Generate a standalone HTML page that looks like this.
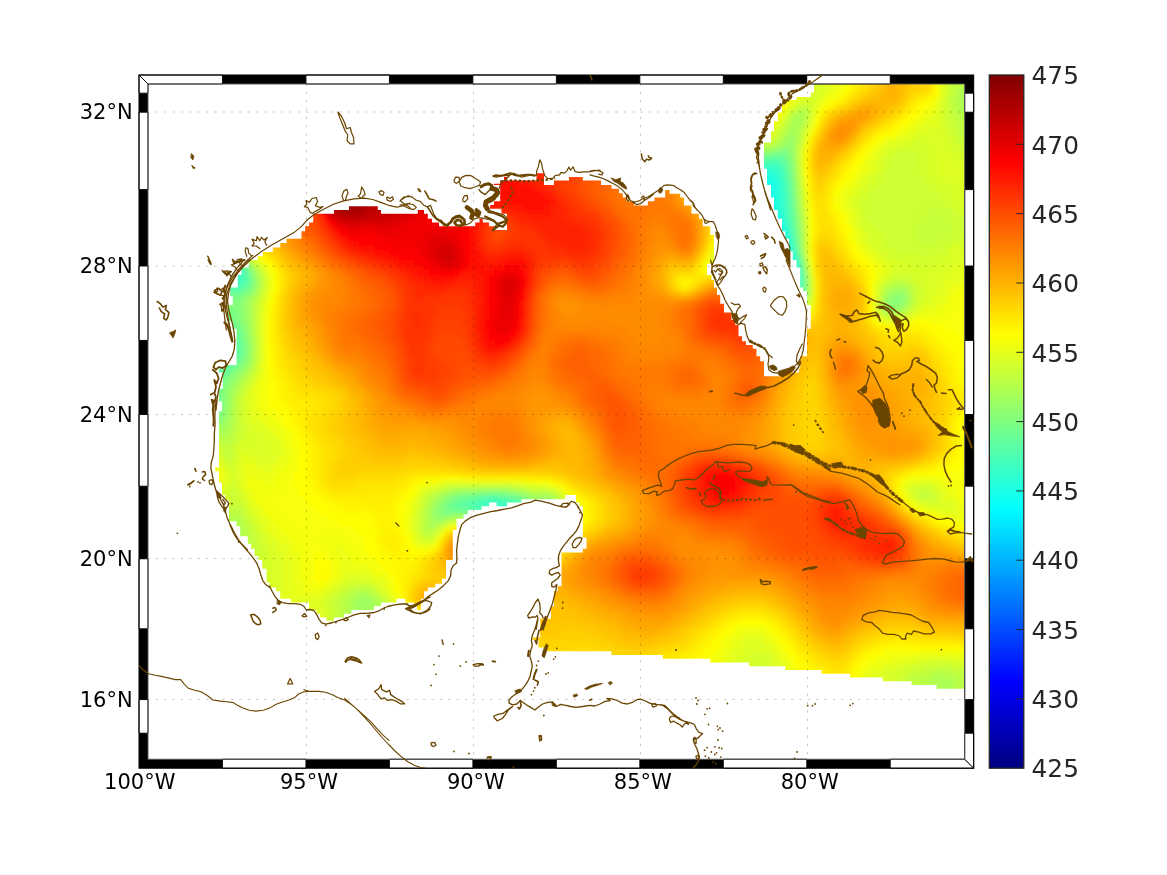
<!DOCTYPE html>
<html><head><meta charset="utf-8"><title>SSH map</title>
<style>
html,body{margin:0;padding:0;background:#fff}
svg{display:block}
text{font-family:"DejaVu Sans","Liberation Sans",sans-serif}
.ax text{font-size:21px;fill:#000}
.cb text{font-size:24.8px;fill:#262626}
.cb line{stroke:#262626;stroke-width:1}
</style></head><body>
<svg width="1167" height="875" viewBox="0 0 1167 875">
<rect width="1167" height="875" fill="#fff"/>
<defs>
<clipPath id="m"><path d="M814 75L814 92.5L810.8 92.5L810.8 97L796.5 97L796.5 100L785.2 100L785.2 105L782 105L782 112.5L777.8 112.5L777.8 121.2L774 121.2L774 131.2L771 131.2L771 142.5L764 142.5L764 168.8L767 168.8L767 185L771 185L771 197.5L774 197.5L774 210L777.8 210L777.8 218.8L782 218.8L782 231.2L785.2 231.2L785.2 238.8L789 238.8L789 251.2L792.8 251.2L792.8 260L796.5 260L796.5 267.5L800.2 267.5L800.2 275L800.2 275L800.2 287.5L803.2 287.5L803.2 291.2L807 291.2L807 305L810.8 305L810.8 328.8L807 328.8L807 356.2L800.2 356.2L800.2 368.8L799 368.8L799 372.5L782.8 372.5L782.8 376.2L764 376.2L764 361.2L760.2 361.2L760.2 356.2L756.5 356.2L756.5 348.8L752.8 348.8L752.8 345L746 345L746 341.2L742 341.2L742 336.2L738.5 336.2L738.5 325L735.2 325L735.2 320L731.5 320L731.5 312.5L724 312.5L724 303.8L720.2 303.8L720.2 295L717 295L717 287.5L714 287.5L714 280L711.5 280L711.5 275L707 275L707 263.8L714 263.8L714 235L710.2 235L710.2 226.2L702.8 226.2L702.8 218.8L699 218.8L699 213.8L691.5 213.8L691.5 205L691 205.5L684 205.5L684 197.5L680.2 197.5L680.2 193.8L669.5 193.8L669.5 190L665.2 190L665.2 197.5L654.5 197.5L654.5 201.2L647.8 201.2L647.8 205.5L634 205.5L634 201.2L626.5 201.2L626.5 197.5L622.8 197.5L622.8 193.2L619 193.2L619 188.8L611.5 188.8L611.5 185L601 185L601 180.5L582.8 180.5L582.8 177L569 177L569 180.5L554 180.5L554 185L544 185L544 173.2L536.5 173.2L536.5 180.5L507 180.5L507 177L504 177L504 180.5L500.2 180.5L500.2 183.8L494 183.8L494 185L500.2 185L500.2 201.2L494 201.2L494 205L490.2 205L490.2 208.8L501.5 208.8L501.5 213.8L507 213.8L507 230L494 230L494 226.2L489 226.2L489 222.5L482.8 222.5L482.8 218.8L479.5 218.8L479.5 222.5L475.2 222.5L475.2 226.2L439 226.2L439 222.5L432 222.5L432 218.8L427.8 218.8L427.8 213.8L424 213.8L424 210L417.8 210L417.8 213.8L416.5 213.8L381 213.8L381 210L377.8 210L377.8 206.2L349 206.2L349 210L334 210L334 213.8L313.2 213.8L313.2 222.5L309 222.5L309 226.2L305.2 226.2L305.2 231.2L301.5 231.2L301.5 238.8L286.5 238.8L286.5 243L280.2 243L280.2 247.5L272.8 247.5L272.8 252L262.8 252L262.8 256.2L257.8 256.2L257.8 260L249 260L249 267.5L241.5 267.5L241.5 275L237.8 275L237.8 275L237.8 287.5L230.2 287.5L230.2 296.2L232.8 296.2L232.8 305L227.8 305L227.8 321.2L232.8 321.2L232.8 328.8L236.5 328.8L236.5 365L225.2 365L225.2 368.8L219 368.8L219 372.5L222.8 372.5L222.8 388.8L219 388.8L219 401.2L222 401.2L222 411.2L219 411.2L219 467.5L215.2 467.5L215.2 471.2L219 471.2L219 482.5L222 482.5L222 482.5L222 495L225.2 495L225.2 500L229 500L229 521.2L236.5 521.2L236.5 526.2L240.2 526.2L240.2 536.2L247.8 536.2L247.8 543.8L251 543.8L251 548.8L254.5 548.8L254.5 556.2L258.5 556.2L258.5 560L262.2 560L262.2 568.8L266.5 568.8L266.5 582.5L269.5 582.5L269.5 587.5L276 587.5L276 591.2L280.2 591.2L280.2 598.8L291 598.8L291 602.5L309 602.5L309 610L316.5 610L316.5 613.8L320.2 613.8L320.2 617.5L326.5 617.5L326.5 620.8L334 620.8L334 617.5L344 617.5L344 613.8L351.5 613.8L351.5 610L374 610L374 606.2L381 606.2L381 602.5L396.5 602.5L396.5 598.8L405.2 598.8L405.2 602.5L414 602.5L414 606.2L417 606.2L417 610L421 610L421 598.8L424 598.8L424 591.2L427.8 591.2L427.8 587.5L435.2 587.5L435.2 583.8L442 583.8L442 578.8L446 578.8L446 560L452.8 560L452.8 530L456.5 530L456.5 518.8L463.5 518.8L463.5 514.2L467.8 514.2L467.8 510L481.5 510L481.5 506.2L489 506.2L489 502.5L496.5 502.5L496.5 506.2L507 506.2L507 502.5L521.5 502.5L521.5 499.2L565.2 499.2L565.2 495L576 495L576 502.5L579.5 502.5L579.5 506.2L582.8 506.2L582.8 537.5L586.5 537.5L586.5 548.8L582.8 548.8L582.8 552.5L561.5 552.5L561.5 586.2L557.8 586.2L557.8 591.2L554 591.2L554 606.2L551 606.2L551 618.8L540.2 618.8L540.2 637.5L532.8 637.5L532.8 640L538.5 640L538.5 647.5L546.5 647.5L546.5 651.2L611.5 651.2L611.5 655L662.8 655L662.8 658.8L705.8 658.8L710.2 658.8L710.2 662.5L749 662.5L749 666.2L785.2 666.2L785.2 670L821.5 670L821.5 673.8L850.2 673.8L850.2 677.5L882.8 677.5L882.8 681.2L911.5 681.2L911.5 685L936.5 685L936.5 688.8L974 688.8L974 689L974 75L814 75Z"/></clipPath>
<filter id="b" filterUnits="userSpaceOnUse" x="100" y="40" width="920" height="770"><feGaussianBlur stdDeviation="2.4"/></filter>
</defs>
<g clip-path="url(#m)"><g filter="url(#b)"><path fill="#03fffc" d="M769 225h5.5v5.5h-5.5zM769 230h5.5v5.5h-5.5zM774 235h5.5v5.5h-5.5z"/><path fill="#09fff6" d="M764 215h5.5v5.5h-5.5zM769 220h5.5v5.5h-5.5zM774 230h5.5v5.5h-5.5zM769 235h5.5v5.5h-5.5zM774 240h10.5v5.5h-10.5zM774 245h10.5v5.5h-10.5zM779 250h5.5v5.5h-5.5z"/><path fill="#0ffff0" d="M764 205h5.5v5.5h-5.5zM764 210h10.5v5.5h-10.5zM769 215h5.5v5.5h-5.5zM774 220h5.5v5.5h-5.5zM774 225h5.5v5.5h-5.5zM779 235h5.5v5.5h-5.5zM784 250h5.5v5.5h-5.5zM779 255h10.5v5.5h-10.5zM784 260h5.5v5.5h-5.5zM784 265h10.5v5.5h-10.5z"/><path fill="#15ffea" d="M764 180h10.5v5.5h-10.5zM764 185h10.5v5.5h-10.5zM764 190h10.5v5.5h-10.5zM764 195h10.5v5.5h-10.5zM764 200h10.5v5.5h-10.5zM769 205h5.5v5.5h-5.5zM774 215h5.5v5.5h-5.5zM779 230h5.5v5.5h-5.5zM784 245h5.5v5.5h-5.5zM789 260h5.5v5.5h-5.5zM789 270h5.5v5.5h-5.5z"/><path fill="#1cffe3" d="M764 175h10.5v5.5h-10.5zM759 180h5.5v5.5h-5.5zM759 185h5.5v5.5h-5.5zM759 190h5.5v5.5h-5.5zM759 195h5.5v5.5h-5.5zM759 200h5.5v5.5h-5.5zM759 205h5.5v5.5h-5.5zM774 205h5.5v5.5h-5.5zM774 210h5.5v5.5h-5.5zM779 225h5.5v5.5h-5.5zM784 240h5.5v5.5h-5.5zM789 255h5.5v5.5h-5.5zM784 270h5.5v5.5h-5.5zM789 275h5.5v5.5h-5.5z"/><path fill="#22ffdd" d="M764 170h5.5v5.5h-5.5zM759 175h5.5v5.5h-5.5zM774 180h5.5v5.5h-5.5zM774 185h5.5v5.5h-5.5zM774 190h5.5v5.5h-5.5zM774 195h5.5v5.5h-5.5zM774 200h5.5v5.5h-5.5zM779 215h5.5v5.5h-5.5zM779 220h5.5v5.5h-5.5zM784 235h5.5v5.5h-5.5zM794 270h5.5v5.5h-5.5zM794 275h5.5v5.5h-5.5z"/><path fill="#28ffd7" d="M769 170h5.5v5.5h-5.5zM774 175h5.5v5.5h-5.5zM779 210h5.5v5.5h-5.5zM784 230h5.5v5.5h-5.5zM789 250h5.5v5.5h-5.5zM794 265h5.5v5.5h-5.5zM784 275h5.5v5.5h-5.5z"/><path fill="#2effd1" d="M759 170h5.5v5.5h-5.5zM774 170h5.5v5.5h-5.5zM754 180h5.5v5.5h-5.5zM754 185h5.5v5.5h-5.5zM754 190h5.5v5.5h-5.5zM779 190h5.5v5.5h-5.5zM754 195h5.5v5.5h-5.5zM779 195h5.5v5.5h-5.5zM779 200h5.5v5.5h-5.5zM779 205h5.5v5.5h-5.5zM784 225h5.5v5.5h-5.5zM229 270h5.5v5.5h-5.5zM224 275h5.5v5.5h-5.5zM789 280h10.5v5.5h-10.5z"/><path fill="#34ffcb" d="M764 165h10.5v5.5h-10.5zM754 175h5.5v5.5h-5.5zM779 180h5.5v5.5h-5.5zM779 185h5.5v5.5h-5.5zM784 220h5.5v5.5h-5.5zM789 245h5.5v5.5h-5.5zM794 260h5.5v5.5h-5.5zM234 270h5.5v5.5h-5.5zM229 275h10.5v5.5h-10.5z"/><path fill="#3affc5" d="M774 165h5.5v5.5h-5.5zM779 175h5.5v5.5h-5.5zM784 215h5.5v5.5h-5.5zM789 240h5.5v5.5h-5.5zM234 265h5.5v5.5h-5.5zM224 280h10.5v5.5h-10.5zM784 280h5.5v5.5h-5.5zM794 285h5.5v5.5h-5.5zM484 500h20.5v5.5h-20.5z"/><path fill="#40ffbf" d="M759 165h5.5v5.5h-5.5zM754 170h5.5v5.5h-5.5zM779 170h5.5v5.5h-5.5zM784 205h5.5v5.5h-5.5zM784 210h5.5v5.5h-5.5zM789 235h5.5v5.5h-5.5zM794 255h5.5v5.5h-5.5zM239 275h5.5v5.5h-5.5zM234 280h5.5v5.5h-5.5zM789 285h5.5v5.5h-5.5zM479 500h5.5v5.5h-5.5zM504 500h5.5v5.5h-5.5zM484 505h30.5v5.5h-30.5z"/><path fill="#46ffb9" d="M769 160h10.5v5.5h-10.5zM779 165h5.5v5.5h-5.5zM784 190h5.5v5.5h-5.5zM784 195h5.5v5.5h-5.5zM784 200h5.5v5.5h-5.5zM789 230h5.5v5.5h-5.5zM234 260h5.5v5.5h-5.5zM239 270h5.5v5.5h-5.5zM239 280h5.5v5.5h-5.5zM509 500h5.5v5.5h-5.5zM479 505h5.5v5.5h-5.5zM514 505h5.5v5.5h-5.5z"/><path fill="#4dffb2" d="M764 160h5.5v5.5h-5.5zM784 180h5.5v5.5h-5.5zM784 185h5.5v5.5h-5.5zM789 225h5.5v5.5h-5.5zM239 265h5.5v5.5h-5.5zM799 275h5.5v5.5h-5.5zM799 280h5.5v5.5h-5.5zM229 285h10.5v5.5h-10.5zM474 500h5.5v5.5h-5.5zM514 500h5.5v5.5h-5.5zM474 505h5.5v5.5h-5.5zM514 510h5.5v5.5h-5.5z"/><path fill="#53ffac" d="M779 160h5.5v5.5h-5.5zM754 165h5.5v5.5h-5.5zM784 175h5.5v5.5h-5.5zM789 220h5.5v5.5h-5.5zM794 250h5.5v5.5h-5.5zM799 270h5.5v5.5h-5.5zM219 285h10.5v5.5h-10.5zM784 285h5.5v5.5h-5.5zM799 285h5.5v5.5h-5.5zM794 290h5.5v5.5h-5.5zM489 495h10.5v5.5h-10.5zM469 500h5.5v5.5h-5.5zM469 505h5.5v5.5h-5.5zM519 505h5.5v5.5h-5.5zM504 510h10.5v5.5h-10.5z"/><path fill="#59ffa6" d="M759 160h5.5v5.5h-5.5zM784 170h5.5v5.5h-5.5zM789 215h5.5v5.5h-5.5zM244 275h5.5v5.5h-5.5zM244 280h5.5v5.5h-5.5zM239 285h5.5v5.5h-5.5zM224 345h10.5v5.5h-10.5zM224 350h10.5v5.5h-10.5zM219 355h15.5v5.5h-15.5zM214 360h15.5v5.5h-15.5zM209 365h10.5v5.5h-10.5zM204 370h10.5v5.5h-10.5zM209 375h5.5v5.5h-5.5zM204 390h5.5v5.5h-5.5zM204 395h5.5v5.5h-5.5zM204 410h5.5v5.5h-5.5zM479 495h10.5v5.5h-10.5zM499 495h5.5v5.5h-5.5zM464 500h5.5v5.5h-5.5zM499 510h5.5v5.5h-5.5zM519 510h5.5v5.5h-5.5z"/><path fill="#5fffa0" d="M769 155h10.5v5.5h-10.5zM784 165h5.5v5.5h-5.5zM789 205h5.5v5.5h-5.5zM789 210h5.5v5.5h-5.5zM794 245h5.5v5.5h-5.5zM799 265h5.5v5.5h-5.5zM244 270h5.5v5.5h-5.5zM789 290h5.5v5.5h-5.5zM224 340h15.5v5.5h-15.5zM234 345h5.5v5.5h-5.5zM234 350h5.5v5.5h-5.5zM234 355h5.5v5.5h-5.5zM229 360h5.5v5.5h-5.5zM219 365h5.5v5.5h-5.5zM214 370h5.5v5.5h-5.5zM209 380h5.5v5.5h-5.5zM209 385h5.5v5.5h-5.5zM209 390h5.5v5.5h-5.5zM209 395h5.5v5.5h-5.5zM209 400h5.5v5.5h-5.5zM209 405h5.5v5.5h-5.5zM204 415h5.5v5.5h-5.5zM474 495h5.5v5.5h-5.5zM504 495h5.5v5.5h-5.5zM459 500h5.5v5.5h-5.5zM519 500h5.5v5.5h-5.5zM459 505h10.5v5.5h-10.5zM479 510h20.5v5.5h-20.5z"/><path fill="#65ff9a" d="M764 155h5.5v5.5h-5.5zM779 155h5.5v5.5h-5.5zM784 160h5.5v5.5h-5.5zM789 195h5.5v5.5h-5.5zM789 200h5.5v5.5h-5.5zM794 240h5.5v5.5h-5.5zM239 260h5.5v5.5h-5.5zM244 285h5.5v5.5h-5.5zM234 290h5.5v5.5h-5.5zM799 290h5.5v5.5h-5.5zM224 330h5.5v5.5h-5.5zM224 335h15.5v5.5h-15.5zM224 365h5.5v5.5h-5.5zM219 370h5.5v5.5h-5.5zM214 375h5.5v5.5h-5.5zM214 380h5.5v5.5h-5.5zM209 410h5.5v5.5h-5.5zM469 495h5.5v5.5h-5.5zM509 495h5.5v5.5h-5.5zM454 500h5.5v5.5h-5.5zM454 505h5.5v5.5h-5.5zM524 505h5.5v5.5h-5.5zM474 510h5.5v5.5h-5.5zM524 510h5.5v5.5h-5.5zM514 515h5.5v5.5h-5.5z"/><path fill="#6bff94" d="M754 160h5.5v5.5h-5.5zM749 165h5.5v5.5h-5.5zM789 185h5.5v5.5h-5.5zM789 190h5.5v5.5h-5.5zM794 235h5.5v5.5h-5.5zM799 260h5.5v5.5h-5.5zM224 290h10.5v5.5h-10.5zM239 290h5.5v5.5h-5.5zM219 325h15.5v5.5h-15.5zM229 330h5.5v5.5h-5.5zM239 340h5.5v5.5h-5.5zM239 345h5.5v5.5h-5.5zM239 350h5.5v5.5h-5.5zM234 360h5.5v5.5h-5.5zM229 365h5.5v5.5h-5.5zM224 370h5.5v5.5h-5.5zM219 375h5.5v5.5h-5.5zM214 385h5.5v5.5h-5.5zM214 390h5.5v5.5h-5.5zM214 395h5.5v5.5h-5.5zM214 400h5.5v5.5h-5.5zM214 405h5.5v5.5h-5.5zM209 415h5.5v5.5h-5.5zM464 495h5.5v5.5h-5.5zM514 495h5.5v5.5h-5.5zM449 505h5.5v5.5h-5.5zM509 515h5.5v5.5h-5.5z"/><path fill="#71ff8e" d="M759 155h5.5v5.5h-5.5zM784 155h5.5v5.5h-5.5zM789 180h5.5v5.5h-5.5zM794 230h5.5v5.5h-5.5zM244 265h5.5v5.5h-5.5zM214 290h10.5v5.5h-10.5zM794 295h5.5v5.5h-5.5zM219 320h15.5v5.5h-15.5zM234 325h5.5v5.5h-5.5zM234 330h5.5v5.5h-5.5zM239 335h5.5v5.5h-5.5zM239 355h5.5v5.5h-5.5zM214 410h5.5v5.5h-5.5zM204 420h5.5v5.5h-5.5zM459 495h5.5v5.5h-5.5zM449 500h5.5v5.5h-5.5zM524 500h5.5v5.5h-5.5zM469 510h5.5v5.5h-5.5zM504 515h5.5v5.5h-5.5z"/><path fill="#77ff88" d="M779 150h5.5v5.5h-5.5zM789 175h5.5v5.5h-5.5zM794 225h5.5v5.5h-5.5zM249 275h5.5v5.5h-5.5zM249 280h5.5v5.5h-5.5zM234 295h5.5v5.5h-5.5zM214 315h20.5v5.5h-20.5zM234 320h5.5v5.5h-5.5zM239 330h5.5v5.5h-5.5zM234 365h5.5v5.5h-5.5zM229 370h5.5v5.5h-5.5zM224 375h5.5v5.5h-5.5zM219 380h5.5v5.5h-5.5zM219 385h5.5v5.5h-5.5zM454 495h5.5v5.5h-5.5zM519 495h5.5v5.5h-5.5zM444 505h5.5v5.5h-5.5zM464 510h5.5v5.5h-5.5z"/><path fill="#7dff82" d="M774 150h5.5v5.5h-5.5zM784 150h5.5v5.5h-5.5zM789 165h5.5v5.5h-5.5zM789 170h5.5v5.5h-5.5zM794 215h5.5v5.5h-5.5zM794 220h5.5v5.5h-5.5zM799 255h5.5v5.5h-5.5zM249 285h5.5v5.5h-5.5zM244 290h5.5v5.5h-5.5zM229 295h5.5v5.5h-5.5zM799 295h5.5v5.5h-5.5zM229 305h5.5v5.5h-5.5zM224 310h15.5v5.5h-15.5zM234 315h5.5v5.5h-5.5zM239 325h5.5v5.5h-5.5zM244 345h5.5v5.5h-5.5zM239 360h5.5v5.5h-5.5zM219 390h5.5v5.5h-5.5zM219 395h5.5v5.5h-5.5zM219 400h5.5v5.5h-5.5zM219 405h5.5v5.5h-5.5zM214 415h5.5v5.5h-5.5zM209 420h5.5v5.5h-5.5zM489 490h10.5v5.5h-10.5zM444 500h5.5v5.5h-5.5zM529 505h5.5v5.5h-5.5zM444 510h20.5v5.5h-20.5zM529 510h5.5v5.5h-5.5zM499 515h5.5v5.5h-5.5zM359 620h10.5v5.5h-10.5z"/><path fill="#84ff7b" d="M769 150h5.5v5.5h-5.5zM754 155h5.5v5.5h-5.5zM749 160h5.5v5.5h-5.5zM789 160h5.5v5.5h-5.5zM794 210h5.5v5.5h-5.5zM249 270h5.5v5.5h-5.5zM219 295h10.5v5.5h-10.5zM239 295h5.5v5.5h-5.5zM894 295h5.5v5.5h-5.5zM229 300h10.5v5.5h-10.5zM894 300h5.5v5.5h-5.5zM224 305h5.5v5.5h-5.5zM234 305h5.5v5.5h-5.5zM214 310h10.5v5.5h-10.5zM239 320h5.5v5.5h-5.5zM244 340h5.5v5.5h-5.5zM244 350h5.5v5.5h-5.5zM244 355h5.5v5.5h-5.5zM224 380h5.5v5.5h-5.5zM219 410h5.5v5.5h-5.5zM204 425h5.5v5.5h-5.5zM479 490h10.5v5.5h-10.5zM499 490h5.5v5.5h-5.5zM449 495h5.5v5.5h-5.5zM529 500h5.5v5.5h-5.5zM439 505h5.5v5.5h-5.5zM439 510h5.5v5.5h-5.5zM494 515h5.5v5.5h-5.5zM354 620h5.5v5.5h-5.5zM369 620h5.5v5.5h-5.5z"/><path fill="#8aff75" d="M784 145h5.5v5.5h-5.5zM764 150h5.5v5.5h-5.5zM789 155h5.5v5.5h-5.5zM794 200h5.5v5.5h-5.5zM794 205h5.5v5.5h-5.5zM804 280h5.5v5.5h-5.5zM804 285h5.5v5.5h-5.5zM899 295h5.5v5.5h-5.5zM224 300h5.5v5.5h-5.5zM239 300h5.5v5.5h-5.5zM889 300h5.5v5.5h-5.5zM899 300h5.5v5.5h-5.5zM219 305h5.5v5.5h-5.5zM239 310h5.5v5.5h-5.5zM239 315h5.5v5.5h-5.5zM244 335h5.5v5.5h-5.5zM239 365h5.5v5.5h-5.5zM234 370h5.5v5.5h-5.5zM229 375h5.5v5.5h-5.5zM224 385h5.5v5.5h-5.5zM219 415h5.5v5.5h-5.5zM469 490h10.5v5.5h-10.5zM504 490h5.5v5.5h-5.5zM524 495h5.5v5.5h-5.5zM479 515h15.5v5.5h-15.5z"/><path fill="#90ff6f" d="M759 150h5.5v5.5h-5.5zM789 150h5.5v5.5h-5.5zM794 195h5.5v5.5h-5.5zM799 250h5.5v5.5h-5.5zM239 255h5.5v5.5h-5.5zM244 260h5.5v5.5h-5.5zM804 275h5.5v5.5h-5.5zM249 290h5.5v5.5h-5.5zM804 290h5.5v5.5h-5.5zM244 295h5.5v5.5h-5.5zM889 295h5.5v5.5h-5.5zM219 300h5.5v5.5h-5.5zM214 305h5.5v5.5h-5.5zM239 305h5.5v5.5h-5.5zM889 305h10.5v5.5h-10.5zM244 325h5.5v5.5h-5.5zM244 330h5.5v5.5h-5.5zM244 360h5.5v5.5h-5.5zM229 380h5.5v5.5h-5.5zM224 390h5.5v5.5h-5.5zM224 395h5.5v5.5h-5.5zM214 420h5.5v5.5h-5.5zM459 490h10.5v5.5h-10.5zM509 490h5.5v5.5h-5.5zM444 495h5.5v5.5h-5.5zM439 500h5.5v5.5h-5.5zM534 500h15.5v5.5h-15.5zM534 505h5.5v5.5h-5.5zM434 510h5.5v5.5h-5.5zM534 510h5.5v5.5h-5.5zM439 515h5.5v5.5h-5.5zM474 515h5.5v5.5h-5.5zM354 615h15.5v5.5h-15.5zM349 620h5.5v5.5h-5.5z"/><path fill="#96ff69" d="M789 140h5.5v5.5h-5.5zM779 145h5.5v5.5h-5.5zM789 145h5.5v5.5h-5.5zM794 185h5.5v5.5h-5.5zM794 190h5.5v5.5h-5.5zM799 245h5.5v5.5h-5.5zM249 265h5.5v5.5h-5.5zM254 280h5.5v5.5h-5.5zM894 290h10.5v5.5h-10.5zM794 300h5.5v5.5h-5.5zM884 300h5.5v5.5h-5.5zM244 320h5.5v5.5h-5.5zM239 370h5.5v5.5h-5.5zM234 375h5.5v5.5h-5.5zM224 400h5.5v5.5h-5.5zM224 405h5.5v5.5h-5.5zM224 410h5.5v5.5h-5.5zM219 420h5.5v5.5h-5.5zM454 490h5.5v5.5h-5.5zM514 490h5.5v5.5h-5.5zM529 495h5.5v5.5h-5.5zM549 500h5.5v5.5h-5.5zM434 505h5.5v5.5h-5.5zM539 505h15.5v5.5h-15.5zM434 515h5.5v5.5h-5.5zM444 515h5.5v5.5h-5.5zM469 515h5.5v5.5h-5.5zM369 615h5.5v5.5h-5.5z"/><path fill="#9cff63" d="M789 135h5.5v5.5h-5.5zM784 140h5.5v5.5h-5.5zM749 155h5.5v5.5h-5.5zM794 180h5.5v5.5h-5.5zM799 235h5.5v5.5h-5.5zM799 240h5.5v5.5h-5.5zM804 270h5.5v5.5h-5.5zM254 275h5.5v5.5h-5.5zM254 285h5.5v5.5h-5.5zM889 290h5.5v5.5h-5.5zM904 295h5.5v5.5h-5.5zM244 300h5.5v5.5h-5.5zM799 300h5.5v5.5h-5.5zM244 305h5.5v5.5h-5.5zM884 305h5.5v5.5h-5.5zM899 305h5.5v5.5h-5.5zM244 310h5.5v5.5h-5.5zM244 315h5.5v5.5h-5.5zM244 365h5.5v5.5h-5.5zM229 385h5.5v5.5h-5.5zM224 415h5.5v5.5h-5.5zM209 425h5.5v5.5h-5.5zM449 490h5.5v5.5h-5.5zM519 490h5.5v5.5h-5.5zM439 495h5.5v5.5h-5.5zM534 495h15.5v5.5h-15.5zM434 500h5.5v5.5h-5.5zM539 510h10.5v5.5h-10.5zM449 515h5.5v5.5h-5.5zM359 600h10.5v5.5h-10.5zM354 610h10.5v5.5h-10.5zM349 615h5.5v5.5h-5.5zM374 615h5.5v5.5h-5.5z"/><path fill="#a2ff5d" d="M979 95h5.5v5.5h-5.5zM979 100h5.5v5.5h-5.5zM794 120h5.5v5.5h-5.5zM789 130h5.5v5.5h-5.5zM784 135h5.5v5.5h-5.5zM774 145h5.5v5.5h-5.5zM754 150h5.5v5.5h-5.5zM794 170h5.5v5.5h-5.5zM794 175h5.5v5.5h-5.5zM799 225h5.5v5.5h-5.5zM799 230h5.5v5.5h-5.5zM904 290h5.5v5.5h-5.5zM249 295h5.5v5.5h-5.5zM804 295h5.5v5.5h-5.5zM884 295h5.5v5.5h-5.5zM904 300h5.5v5.5h-5.5zM249 335h5.5v5.5h-5.5zM249 340h5.5v5.5h-5.5zM249 345h5.5v5.5h-5.5zM249 350h5.5v5.5h-5.5zM249 355h5.5v5.5h-5.5zM234 380h5.5v5.5h-5.5zM229 390h5.5v5.5h-5.5zM224 420h5.5v5.5h-5.5zM214 425h10.5v5.5h-10.5zM204 430h5.5v5.5h-5.5zM549 495h5.5v5.5h-5.5zM429 510h5.5v5.5h-5.5zM549 510h5.5v5.5h-5.5zM429 515h5.5v5.5h-5.5zM464 515h5.5v5.5h-5.5zM434 520h5.5v5.5h-5.5zM359 595h10.5v5.5h-10.5zM354 600h5.5v5.5h-5.5zM369 600h5.5v5.5h-5.5zM354 605h20.5v5.5h-20.5zM364 610h10.5v5.5h-10.5zM344 625h5.5v5.5h-5.5z"/><path fill="#a8ff57" d="M969 90h15.5v5.5h-15.5zM964 95h15.5v5.5h-15.5zM964 100h15.5v5.5h-15.5zM969 105h15.5v5.5h-15.5zM794 115h10.5v5.5h-10.5zM789 125h10.5v5.5h-10.5zM794 130h5.5v5.5h-5.5zM794 135h5.5v5.5h-5.5zM779 140h5.5v5.5h-5.5zM794 140h5.5v5.5h-5.5zM794 165h5.5v5.5h-5.5zM799 220h5.5v5.5h-5.5zM724 245h5.5v5.5h-5.5zM724 250h5.5v5.5h-5.5zM804 265h5.5v5.5h-5.5zM254 270h5.5v5.5h-5.5zM894 285h10.5v5.5h-10.5zM254 290h5.5v5.5h-5.5zM884 290h5.5v5.5h-5.5zM889 310h10.5v5.5h-10.5zM249 330h5.5v5.5h-5.5zM249 360h5.5v5.5h-5.5zM244 370h5.5v5.5h-5.5zM239 375h5.5v5.5h-5.5zM229 395h5.5v5.5h-5.5zM229 400h5.5v5.5h-5.5zM229 405h5.5v5.5h-5.5zM224 425h5.5v5.5h-5.5zM219 430h5.5v5.5h-5.5zM444 490h5.5v5.5h-5.5zM524 490h5.5v5.5h-5.5zM554 500h5.5v5.5h-5.5zM429 505h5.5v5.5h-5.5zM554 505h5.5v5.5h-5.5zM454 515h10.5v5.5h-10.5zM429 520h5.5v5.5h-5.5zM224 525h10.5v5.5h-10.5zM224 530h15.5v5.5h-15.5zM229 535h10.5v5.5h-10.5zM354 595h5.5v5.5h-5.5zM369 595h5.5v5.5h-5.5zM374 600h5.5v5.5h-5.5zM374 605h5.5v5.5h-5.5zM349 610h5.5v5.5h-5.5zM374 610h5.5v5.5h-5.5zM344 620h5.5v5.5h-5.5zM939 685h10.5v5.5h-10.5zM934 690h15.5v5.5h-15.5zM934 695h15.5v5.5h-15.5zM939 700h10.5v5.5h-10.5z"/><path fill="#aeff51" d="M964 85h20.5v5.5h-20.5zM959 90h10.5v5.5h-10.5zM959 95h5.5v5.5h-5.5zM959 100h5.5v5.5h-5.5zM959 105h10.5v5.5h-10.5zM799 110h5.5v5.5h-5.5zM964 110h20.5v5.5h-20.5zM789 120h5.5v5.5h-5.5zM799 120h5.5v5.5h-5.5zM784 130h5.5v5.5h-5.5zM759 145h15.5v5.5h-15.5zM794 145h5.5v5.5h-5.5zM794 150h5.5v5.5h-5.5zM794 155h5.5v5.5h-5.5zM794 160h5.5v5.5h-5.5zM799 215h5.5v5.5h-5.5zM724 240h5.5v5.5h-5.5zM889 285h5.5v5.5h-5.5zM904 285h5.5v5.5h-5.5zM249 300h5.5v5.5h-5.5zM249 305h5.5v5.5h-5.5zM904 305h5.5v5.5h-5.5zM249 310h5.5v5.5h-5.5zM884 310h5.5v5.5h-5.5zM249 315h5.5v5.5h-5.5zM249 320h5.5v5.5h-5.5zM249 325h5.5v5.5h-5.5zM234 385h5.5v5.5h-5.5zM229 410h5.5v5.5h-5.5zM229 415h5.5v5.5h-5.5zM229 420h5.5v5.5h-5.5zM224 430h5.5v5.5h-5.5zM434 495h5.5v5.5h-5.5zM429 500h5.5v5.5h-5.5zM554 510h5.5v5.5h-5.5zM219 520h20.5v5.5h-20.5zM439 520h5.5v5.5h-5.5zM234 525h5.5v5.5h-5.5zM429 525h5.5v5.5h-5.5zM239 530h5.5v5.5h-5.5zM239 535h5.5v5.5h-5.5zM234 540h5.5v5.5h-5.5zM359 590h10.5v5.5h-10.5zM349 595h5.5v5.5h-5.5zM349 600h5.5v5.5h-5.5zM349 605h5.5v5.5h-5.5zM379 605h5.5v5.5h-5.5zM379 610h5.5v5.5h-5.5zM344 615h5.5v5.5h-5.5zM379 615h5.5v5.5h-5.5zM934 675h15.5v5.5h-15.5zM929 680h25.5v5.5h-25.5zM929 685h10.5v5.5h-10.5zM949 685h5.5v5.5h-5.5zM929 690h5.5v5.5h-5.5zM949 690h5.5v5.5h-5.5zM929 695h5.5v5.5h-5.5zM949 695h5.5v5.5h-5.5zM949 700h5.5v5.5h-5.5z"/><path fill="#b5ff4a" d="M964 65h15.5v5.5h-15.5zM964 70h20.5v5.5h-20.5zM964 75h20.5v5.5h-20.5zM964 80h20.5v5.5h-20.5zM959 85h5.5v5.5h-5.5zM954 95h5.5v5.5h-5.5zM954 100h5.5v5.5h-5.5zM794 110h5.5v5.5h-5.5zM959 110h5.5v5.5h-5.5zM789 115h5.5v5.5h-5.5zM964 115h20.5v5.5h-20.5zM969 120h15.5v5.5h-15.5zM784 125h5.5v5.5h-5.5zM799 125h5.5v5.5h-5.5zM974 125h10.5v5.5h-10.5zM779 135h5.5v5.5h-5.5zM749 150h5.5v5.5h-5.5zM799 205h5.5v5.5h-5.5zM799 210h5.5v5.5h-5.5zM724 255h5.5v5.5h-5.5zM249 260h5.5v5.5h-5.5zM804 260h5.5v5.5h-5.5zM909 295h5.5v5.5h-5.5zM804 300h5.5v5.5h-5.5zM879 300h5.5v5.5h-5.5zM879 305h5.5v5.5h-5.5zM899 310h5.5v5.5h-5.5zM249 365h5.5v5.5h-5.5zM239 380h5.5v5.5h-5.5zM234 390h5.5v5.5h-5.5zM229 425h5.5v5.5h-5.5zM209 430h10.5v5.5h-10.5zM229 430h5.5v5.5h-5.5zM219 435h10.5v5.5h-10.5zM479 485h30.5v5.5h-30.5zM439 490h5.5v5.5h-5.5zM529 490h20.5v5.5h-20.5zM554 495h5.5v5.5h-5.5zM424 510h5.5v5.5h-5.5zM214 515h25.5v5.5h-25.5zM424 515h5.5v5.5h-5.5zM239 520h5.5v5.5h-5.5zM424 520h5.5v5.5h-5.5zM239 525h5.5v5.5h-5.5zM424 525h5.5v5.5h-5.5zM244 535h5.5v5.5h-5.5zM239 540h5.5v5.5h-5.5zM234 545h5.5v5.5h-5.5zM354 590h5.5v5.5h-5.5zM374 595h5.5v5.5h-5.5zM344 600h5.5v5.5h-5.5zM379 600h5.5v5.5h-5.5zM344 605h5.5v5.5h-5.5zM344 610h5.5v5.5h-5.5zM339 620h5.5v5.5h-5.5zM339 625h5.5v5.5h-5.5zM339 630h5.5v5.5h-5.5zM939 670h5.5v5.5h-5.5zM929 675h5.5v5.5h-5.5zM949 675h5.5v5.5h-5.5zM924 680h5.5v5.5h-5.5zM954 680h5.5v5.5h-5.5zM924 685h5.5v5.5h-5.5zM954 685h5.5v5.5h-5.5zM924 690h5.5v5.5h-5.5zM954 690h5.5v5.5h-5.5zM924 695h5.5v5.5h-5.5zM954 695h5.5v5.5h-5.5zM954 700h5.5v5.5h-5.5z"/><path fill="#bbff44" d="M954 65h10.5v5.5h-10.5zM959 70h5.5v5.5h-5.5zM959 75h5.5v5.5h-5.5zM959 80h5.5v5.5h-5.5zM954 85h5.5v5.5h-5.5zM954 90h5.5v5.5h-5.5zM954 105h5.5v5.5h-5.5zM804 110h5.5v5.5h-5.5zM954 110h5.5v5.5h-5.5zM804 115h5.5v5.5h-5.5zM959 115h5.5v5.5h-5.5zM959 120h10.5v5.5h-10.5zM964 125h10.5v5.5h-10.5zM964 130h20.5v5.5h-20.5zM979 135h5.5v5.5h-5.5zM774 140h5.5v5.5h-5.5zM754 145h5.5v5.5h-5.5zM799 200h5.5v5.5h-5.5zM724 235h5.5v5.5h-5.5zM719 250h5.5v5.5h-5.5zM244 255h5.5v5.5h-5.5zM719 255h5.5v5.5h-5.5zM254 265h5.5v5.5h-5.5zM259 275h5.5v5.5h-5.5zM259 280h5.5v5.5h-5.5zM894 280h10.5v5.5h-10.5zM884 285h5.5v5.5h-5.5zM909 290h5.5v5.5h-5.5zM254 295h5.5v5.5h-5.5zM879 295h5.5v5.5h-5.5zM909 300h5.5v5.5h-5.5zM244 375h5.5v5.5h-5.5zM239 385h5.5v5.5h-5.5zM234 395h5.5v5.5h-5.5zM204 435h5.5v5.5h-5.5zM229 435h5.5v5.5h-5.5zM224 440h5.5v5.5h-5.5zM454 485h25.5v5.5h-25.5zM509 485h5.5v5.5h-5.5zM549 490h5.5v5.5h-5.5zM429 495h5.5v5.5h-5.5zM559 500h5.5v5.5h-5.5zM424 505h5.5v5.5h-5.5zM559 505h5.5v5.5h-5.5zM229 510h10.5v5.5h-10.5zM559 510h5.5v5.5h-5.5zM239 515h5.5v5.5h-5.5zM444 520h5.5v5.5h-5.5zM474 520h5.5v5.5h-5.5zM244 525h5.5v5.5h-5.5zM434 525h5.5v5.5h-5.5zM244 530h5.5v5.5h-5.5zM424 530h5.5v5.5h-5.5zM244 540h5.5v5.5h-5.5zM239 545h5.5v5.5h-5.5zM349 590h5.5v5.5h-5.5zM369 590h5.5v5.5h-5.5zM344 595h5.5v5.5h-5.5zM339 600h5.5v5.5h-5.5zM384 605h5.5v5.5h-5.5zM339 610h5.5v5.5h-5.5zM384 610h5.5v5.5h-5.5zM339 615h5.5v5.5h-5.5zM929 670h10.5v5.5h-10.5zM944 670h10.5v5.5h-10.5zM919 675h10.5v5.5h-10.5zM954 675h10.5v5.5h-10.5zM914 680h10.5v5.5h-10.5zM959 680h25.5v5.5h-25.5zM914 685h10.5v5.5h-10.5zM959 685h25.5v5.5h-25.5zM914 690h10.5v5.5h-10.5zM959 690h25.5v5.5h-25.5zM914 695h10.5v5.5h-10.5zM959 695h20.5v5.5h-20.5zM959 700h15.5v5.5h-15.5z"/><path fill="#c1ff3e" d="M954 70h5.5v5.5h-5.5zM954 75h5.5v5.5h-5.5zM954 80h5.5v5.5h-5.5zM949 95h5.5v5.5h-5.5zM949 100h5.5v5.5h-5.5zM799 105h5.5v5.5h-5.5zM949 105h5.5v5.5h-5.5zM954 115h5.5v5.5h-5.5zM784 120h5.5v5.5h-5.5zM804 120h5.5v5.5h-5.5zM954 120h5.5v5.5h-5.5zM959 125h5.5v5.5h-5.5zM779 130h5.5v5.5h-5.5zM799 130h5.5v5.5h-5.5zM959 130h5.5v5.5h-5.5zM799 135h5.5v5.5h-5.5zM964 135h15.5v5.5h-15.5zM799 190h5.5v5.5h-5.5zM799 195h5.5v5.5h-5.5zM719 245h5.5v5.5h-5.5zM804 255h5.5v5.5h-5.5zM889 280h5.5v5.5h-5.5zM904 280h5.5v5.5h-5.5zM259 285h5.5v5.5h-5.5zM909 285h5.5v5.5h-5.5zM879 290h5.5v5.5h-5.5zM254 300h5.5v5.5h-5.5zM794 305h10.5v5.5h-10.5zM879 310h5.5v5.5h-5.5zM904 310h5.5v5.5h-5.5zM254 335h5.5v5.5h-5.5zM254 340h5.5v5.5h-5.5zM254 345h5.5v5.5h-5.5zM254 350h5.5v5.5h-5.5zM254 355h5.5v5.5h-5.5zM249 370h5.5v5.5h-5.5zM244 380h5.5v5.5h-5.5zM234 400h5.5v5.5h-5.5zM234 405h5.5v5.5h-5.5zM234 410h5.5v5.5h-5.5zM234 415h5.5v5.5h-5.5zM234 420h5.5v5.5h-5.5zM234 425h5.5v5.5h-5.5zM214 435h5.5v5.5h-5.5zM219 440h5.5v5.5h-5.5zM229 440h5.5v5.5h-5.5zM224 445h5.5v5.5h-5.5zM224 450h5.5v5.5h-5.5zM449 485h5.5v5.5h-5.5zM514 485h5.5v5.5h-5.5zM434 490h5.5v5.5h-5.5zM424 500h5.5v5.5h-5.5zM234 505h5.5v5.5h-5.5zM214 510h15.5v5.5h-15.5zM239 510h5.5v5.5h-5.5zM244 520h5.5v5.5h-5.5zM249 530h5.5v5.5h-5.5zM429 530h5.5v5.5h-5.5zM249 535h5.5v5.5h-5.5zM249 540h5.5v5.5h-5.5zM244 545h5.5v5.5h-5.5zM354 585h15.5v5.5h-15.5zM344 590h5.5v5.5h-5.5zM339 595h5.5v5.5h-5.5zM379 595h5.5v5.5h-5.5zM334 600h5.5v5.5h-5.5zM339 605h5.5v5.5h-5.5zM334 615h5.5v5.5h-5.5zM384 615h5.5v5.5h-5.5zM334 620h5.5v5.5h-5.5zM334 625h5.5v5.5h-5.5zM334 630h5.5v5.5h-5.5zM939 665h5.5v5.5h-5.5zM919 670h10.5v5.5h-10.5zM954 670h10.5v5.5h-10.5zM909 675h10.5v5.5h-10.5zM964 675h20.5v5.5h-20.5zM909 680h5.5v5.5h-5.5zM909 685h5.5v5.5h-5.5zM904 690h10.5v5.5h-10.5z"/><path fill="#c7ff38" d="M949 65h5.5v5.5h-5.5zM949 70h5.5v5.5h-5.5zM949 75h5.5v5.5h-5.5zM949 80h5.5v5.5h-5.5zM949 85h5.5v5.5h-5.5zM949 90h5.5v5.5h-5.5zM804 105h5.5v5.5h-5.5zM789 110h5.5v5.5h-5.5zM949 110h5.5v5.5h-5.5zM949 115h5.5v5.5h-5.5zM949 120h5.5v5.5h-5.5zM954 125h5.5v5.5h-5.5zM954 130h5.5v5.5h-5.5zM959 135h5.5v5.5h-5.5zM759 140h15.5v5.5h-15.5zM799 140h5.5v5.5h-5.5zM964 140h20.5v5.5h-20.5zM969 145h15.5v5.5h-15.5zM799 185h5.5v5.5h-5.5zM929 205h10.5v5.5h-10.5zM924 210h25.5v5.5h-25.5zM919 215h30.5v5.5h-30.5zM919 220h35.5v5.5h-35.5zM914 225h40.5v5.5h-40.5zM914 230h40.5v5.5h-40.5zM914 235h35.5v5.5h-35.5zM919 240h20.5v5.5h-20.5zM259 270h5.5v5.5h-5.5zM909 280h5.5v5.5h-5.5zM259 290h5.5v5.5h-5.5zM914 290h5.5v5.5h-5.5zM254 305h5.5v5.5h-5.5zM909 305h5.5v5.5h-5.5zM254 310h5.5v5.5h-5.5zM254 315h5.5v5.5h-5.5zM254 320h5.5v5.5h-5.5zM254 325h5.5v5.5h-5.5zM254 330h5.5v5.5h-5.5zM254 360h5.5v5.5h-5.5zM239 390h5.5v5.5h-5.5zM234 430h5.5v5.5h-5.5zM209 435h5.5v5.5h-5.5zM234 435h5.5v5.5h-5.5zM229 445h5.5v5.5h-5.5zM229 450h5.5v5.5h-5.5zM224 455h10.5v5.5h-10.5zM444 485h5.5v5.5h-5.5zM519 485h5.5v5.5h-5.5zM429 490h5.5v5.5h-5.5zM919 490h10.5v5.5h-10.5zM424 495h5.5v5.5h-5.5zM559 495h5.5v5.5h-5.5zM919 495h15.5v5.5h-15.5zM229 500h10.5v5.5h-10.5zM224 505h10.5v5.5h-10.5zM239 505h5.5v5.5h-5.5zM419 510h5.5v5.5h-5.5zM244 515h5.5v5.5h-5.5zM419 515h5.5v5.5h-5.5zM419 520h5.5v5.5h-5.5zM469 520h5.5v5.5h-5.5zM249 525h5.5v5.5h-5.5zM419 525h5.5v5.5h-5.5zM419 530h5.5v5.5h-5.5zM254 535h5.5v5.5h-5.5zM424 535h5.5v5.5h-5.5zM254 540h5.5v5.5h-5.5zM249 545h10.5v5.5h-10.5zM239 550h15.5v5.5h-15.5zM349 585h5.5v5.5h-5.5zM369 585h5.5v5.5h-5.5zM339 590h5.5v5.5h-5.5zM374 590h5.5v5.5h-5.5zM334 595h5.5v5.5h-5.5zM384 600h5.5v5.5h-5.5zM334 605h5.5v5.5h-5.5zM389 605h5.5v5.5h-5.5zM334 610h5.5v5.5h-5.5zM389 610h5.5v5.5h-5.5zM924 665h15.5v5.5h-15.5zM944 665h10.5v5.5h-10.5zM909 670h10.5v5.5h-10.5zM964 670h20.5v5.5h-20.5zM904 675h5.5v5.5h-5.5zM904 680h5.5v5.5h-5.5zM904 685h5.5v5.5h-5.5z"/><path fill="#cdff32" d="M944 95h5.5v5.5h-5.5zM944 100h5.5v5.5h-5.5zM794 105h5.5v5.5h-5.5zM944 105h5.5v5.5h-5.5zM944 110h5.5v5.5h-5.5zM784 115h5.5v5.5h-5.5zM944 115h5.5v5.5h-5.5zM779 125h5.5v5.5h-5.5zM804 125h5.5v5.5h-5.5zM949 125h5.5v5.5h-5.5zM949 130h5.5v5.5h-5.5zM774 135h5.5v5.5h-5.5zM954 135h5.5v5.5h-5.5zM954 140h10.5v5.5h-10.5zM959 145h10.5v5.5h-10.5zM894 150h25.5v5.5h-25.5zM964 150h20.5v5.5h-20.5zM889 155h30.5v5.5h-30.5zM889 160h30.5v5.5h-30.5zM889 165h30.5v5.5h-30.5zM884 170h35.5v5.5h-35.5zM799 175h5.5v5.5h-5.5zM884 175h40.5v5.5h-40.5zM799 180h5.5v5.5h-5.5zM879 180h50.5v5.5h-50.5zM874 185h60.5v5.5h-60.5zM869 190h70.5v5.5h-70.5zM869 195h75.5v5.5h-75.5zM864 200h85.5v5.5h-85.5zM864 205h65.5v5.5h-65.5zM939 205h15.5v5.5h-15.5zM864 210h60.5v5.5h-60.5zM949 210h10.5v5.5h-10.5zM864 215h55.5v5.5h-55.5zM949 215h15.5v5.5h-15.5zM869 220h50.5v5.5h-50.5zM954 220h30.5v5.5h-30.5zM874 225h40.5v5.5h-40.5zM954 225h30.5v5.5h-30.5zM879 230h35.5v5.5h-35.5zM954 230h30.5v5.5h-30.5zM884 235h30.5v5.5h-30.5zM949 235h10.5v5.5h-10.5zM884 240h35.5v5.5h-35.5zM939 240h15.5v5.5h-15.5zM889 245h60.5v5.5h-60.5zM804 250h5.5v5.5h-5.5zM894 250h50.5v5.5h-50.5zM714 255h5.5v5.5h-5.5zM924 255h5.5v5.5h-5.5zM719 260h10.5v5.5h-10.5zM894 275h15.5v5.5h-15.5zM884 280h5.5v5.5h-5.5zM879 285h5.5v5.5h-5.5zM914 285h5.5v5.5h-5.5zM259 295h5.5v5.5h-5.5zM914 295h5.5v5.5h-5.5zM914 300h5.5v5.5h-5.5zM884 315h15.5v5.5h-15.5zM254 365h5.5v5.5h-5.5zM249 375h5.5v5.5h-5.5zM244 385h5.5v5.5h-5.5zM239 395h5.5v5.5h-5.5zM239 400h5.5v5.5h-5.5zM239 405h5.5v5.5h-5.5zM239 410h5.5v5.5h-5.5zM239 415h5.5v5.5h-5.5zM239 420h5.5v5.5h-5.5zM239 425h5.5v5.5h-5.5zM239 430h5.5v5.5h-5.5zM214 440h5.5v5.5h-5.5zM234 440h5.5v5.5h-5.5zM219 445h5.5v5.5h-5.5zM219 450h5.5v5.5h-5.5zM224 460h10.5v5.5h-10.5zM229 485h5.5v5.5h-5.5zM439 485h5.5v5.5h-5.5zM524 485h5.5v5.5h-5.5zM919 485h10.5v5.5h-10.5zM229 490h10.5v5.5h-10.5zM554 490h5.5v5.5h-5.5zM914 490h5.5v5.5h-5.5zM929 490h5.5v5.5h-5.5zM229 495h10.5v5.5h-10.5zM224 500h5.5v5.5h-5.5zM239 500h5.5v5.5h-5.5zM214 505h10.5v5.5h-10.5zM419 505h5.5v5.5h-5.5zM564 505h5.5v5.5h-5.5zM244 510h5.5v5.5h-5.5zM249 520h5.5v5.5h-5.5zM449 520h5.5v5.5h-5.5zM464 520h5.5v5.5h-5.5zM439 525h5.5v5.5h-5.5zM254 530h5.5v5.5h-5.5zM434 530h5.5v5.5h-5.5zM429 535h5.5v5.5h-5.5zM259 545h5.5v5.5h-5.5zM254 550h10.5v5.5h-10.5zM244 555h20.5v5.5h-20.5zM249 560h10.5v5.5h-10.5zM344 585h5.5v5.5h-5.5zM329 595h5.5v5.5h-5.5zM329 600h5.5v5.5h-5.5zM329 605h5.5v5.5h-5.5zM329 610h5.5v5.5h-5.5zM394 610h5.5v5.5h-5.5zM329 615h5.5v5.5h-5.5zM389 615h5.5v5.5h-5.5zM329 620h5.5v5.5h-5.5zM329 625h5.5v5.5h-5.5zM329 630h5.5v5.5h-5.5zM914 665h10.5v5.5h-10.5zM954 665h10.5v5.5h-10.5zM904 670h5.5v5.5h-5.5zM759 675h10.5v5.5h-10.5zM899 675h5.5v5.5h-5.5zM894 680h10.5v5.5h-10.5zM894 685h10.5v5.5h-10.5zM894 690h10.5v5.5h-10.5z"/><path fill="#d3ff2c" d="M809 65h15.5v5.5h-15.5zM944 65h5.5v5.5h-5.5zM804 70h20.5v5.5h-20.5zM944 70h5.5v5.5h-5.5zM809 75h10.5v5.5h-10.5zM944 80h5.5v5.5h-5.5zM944 85h5.5v5.5h-5.5zM944 90h5.5v5.5h-5.5zM799 100h15.5v5.5h-15.5zM809 105h5.5v5.5h-5.5zM809 110h5.5v5.5h-5.5zM944 120h5.5v5.5h-5.5zM944 125h5.5v5.5h-5.5zM774 130h5.5v5.5h-5.5zM944 130h5.5v5.5h-5.5zM769 135h5.5v5.5h-5.5zM949 135h5.5v5.5h-5.5zM914 140h10.5v5.5h-10.5zM949 140h5.5v5.5h-5.5zM749 145h5.5v5.5h-5.5zM799 145h5.5v5.5h-5.5zM899 145h30.5v5.5h-30.5zM949 145h10.5v5.5h-10.5zM889 150h5.5v5.5h-5.5zM919 150h10.5v5.5h-10.5zM954 150h10.5v5.5h-10.5zM884 155h5.5v5.5h-5.5zM919 155h10.5v5.5h-10.5zM959 155h25.5v5.5h-25.5zM884 160h5.5v5.5h-5.5zM919 160h10.5v5.5h-10.5zM884 165h5.5v5.5h-5.5zM919 165h10.5v5.5h-10.5zM799 170h5.5v5.5h-5.5zM879 170h5.5v5.5h-5.5zM919 170h10.5v5.5h-10.5zM874 175h10.5v5.5h-10.5zM924 175h10.5v5.5h-10.5zM874 180h5.5v5.5h-5.5zM929 180h10.5v5.5h-10.5zM869 185h5.5v5.5h-5.5zM934 185h15.5v5.5h-15.5zM864 190h5.5v5.5h-5.5zM939 190h15.5v5.5h-15.5zM859 195h10.5v5.5h-10.5zM944 195h10.5v5.5h-10.5zM859 200h5.5v5.5h-5.5zM949 200h10.5v5.5h-10.5zM859 205h5.5v5.5h-5.5zM954 205h5.5v5.5h-5.5zM859 210h5.5v5.5h-5.5zM959 210h10.5v5.5h-10.5zM859 215h5.5v5.5h-5.5zM964 215h20.5v5.5h-20.5zM864 220h5.5v5.5h-5.5zM804 225h5.5v5.5h-5.5zM864 225h10.5v5.5h-10.5zM804 230h5.5v5.5h-5.5zM869 230h10.5v5.5h-10.5zM804 235h5.5v5.5h-5.5zM874 235h10.5v5.5h-10.5zM959 235h25.5v5.5h-25.5zM719 240h5.5v5.5h-5.5zM804 240h5.5v5.5h-5.5zM879 240h5.5v5.5h-5.5zM954 240h10.5v5.5h-10.5zM804 245h5.5v5.5h-5.5zM879 245h10.5v5.5h-10.5zM949 245h5.5v5.5h-5.5zM714 250h5.5v5.5h-5.5zM884 250h10.5v5.5h-10.5zM944 250h5.5v5.5h-5.5zM889 255h35.5v5.5h-35.5zM929 255h20.5v5.5h-20.5zM254 260h5.5v5.5h-5.5zM714 260h5.5v5.5h-5.5zM904 260h35.5v5.5h-35.5zM259 265h5.5v5.5h-5.5zM914 265h15.5v5.5h-15.5zM899 270h15.5v5.5h-15.5zM889 275h5.5v5.5h-5.5zM909 275h10.5v5.5h-10.5zM809 280h5.5v5.5h-5.5zM914 280h10.5v5.5h-10.5zM809 285h5.5v5.5h-5.5zM919 285h5.5v5.5h-5.5zM809 290h5.5v5.5h-5.5zM919 290h5.5v5.5h-5.5zM919 295h5.5v5.5h-5.5zM804 305h5.5v5.5h-5.5zM914 305h5.5v5.5h-5.5zM909 310h5.5v5.5h-5.5zM899 315h5.5v5.5h-5.5zM254 370h5.5v5.5h-5.5zM249 380h5.5v5.5h-5.5zM244 390h5.5v5.5h-5.5zM244 425h5.5v5.5h-5.5zM244 430h5.5v5.5h-5.5zM239 435h10.5v5.5h-10.5zM204 440h5.5v5.5h-5.5zM239 440h5.5v5.5h-5.5zM234 445h5.5v5.5h-5.5zM234 450h5.5v5.5h-5.5zM219 455h5.5v5.5h-5.5zM234 455h5.5v5.5h-5.5zM229 465h5.5v5.5h-5.5zM229 475h5.5v5.5h-5.5zM229 480h10.5v5.5h-10.5zM234 485h5.5v5.5h-5.5zM529 485h15.5v5.5h-15.5zM914 485h5.5v5.5h-5.5zM929 485h5.5v5.5h-5.5zM224 490h5.5v5.5h-5.5zM424 490h5.5v5.5h-5.5zM909 490h5.5v5.5h-5.5zM934 490h5.5v5.5h-5.5zM209 495h20.5v5.5h-20.5zM239 495h5.5v5.5h-5.5zM914 495h5.5v5.5h-5.5zM934 495h5.5v5.5h-5.5zM214 500h10.5v5.5h-10.5zM419 500h5.5v5.5h-5.5zM564 500h5.5v5.5h-5.5zM924 500h15.5v5.5h-15.5zM244 505h5.5v5.5h-5.5zM249 515h5.5v5.5h-5.5zM459 520h5.5v5.5h-5.5zM254 525h5.5v5.5h-5.5zM259 535h5.5v5.5h-5.5zM419 535h5.5v5.5h-5.5zM259 540h5.5v5.5h-5.5zM264 545h5.5v5.5h-5.5zM264 550h5.5v5.5h-5.5zM264 555h5.5v5.5h-5.5zM259 560h10.5v5.5h-10.5zM249 565h20.5v5.5h-20.5zM254 570h15.5v5.5h-15.5zM254 575h15.5v5.5h-15.5zM254 580h15.5v5.5h-15.5zM349 580h20.5v5.5h-20.5zM254 585h15.5v5.5h-15.5zM339 585h5.5v5.5h-5.5zM374 585h5.5v5.5h-5.5zM259 590h10.5v5.5h-10.5zM334 590h5.5v5.5h-5.5zM379 590h5.5v5.5h-5.5zM384 595h5.5v5.5h-5.5zM324 600h5.5v5.5h-5.5zM389 600h5.5v5.5h-5.5zM324 605h5.5v5.5h-5.5zM394 605h5.5v5.5h-5.5zM399 610h5.5v5.5h-5.5zM754 655h10.5v5.5h-10.5zM749 660h20.5v5.5h-20.5zM924 660h30.5v5.5h-30.5zM749 665h25.5v5.5h-25.5zM904 665h10.5v5.5h-10.5zM964 665h20.5v5.5h-20.5zM749 670h25.5v5.5h-25.5zM894 670h10.5v5.5h-10.5zM744 675h15.5v5.5h-15.5zM769 675h5.5v5.5h-5.5zM889 675h10.5v5.5h-10.5zM884 680h10.5v5.5h-10.5zM884 685h10.5v5.5h-10.5zM884 690h10.5v5.5h-10.5z"/><path fill="#d9ff26" d="M824 65h5.5v5.5h-5.5zM824 70h5.5v5.5h-5.5zM799 75h10.5v5.5h-10.5zM819 75h10.5v5.5h-10.5zM944 75h5.5v5.5h-5.5zM809 80h15.5v5.5h-15.5zM809 85h15.5v5.5h-15.5zM809 90h10.5v5.5h-10.5zM809 95h10.5v5.5h-10.5zM939 100h5.5v5.5h-5.5zM789 105h5.5v5.5h-5.5zM939 105h5.5v5.5h-5.5zM939 110h5.5v5.5h-5.5zM809 115h5.5v5.5h-5.5zM939 115h5.5v5.5h-5.5zM779 120h5.5v5.5h-5.5zM939 120h5.5v5.5h-5.5zM939 125h5.5v5.5h-5.5zM804 130h5.5v5.5h-5.5zM934 130h10.5v5.5h-10.5zM764 135h5.5v5.5h-5.5zM914 135h35.5v5.5h-35.5zM754 140h5.5v5.5h-5.5zM904 140h10.5v5.5h-10.5zM924 140h25.5v5.5h-25.5zM889 145h10.5v5.5h-10.5zM929 145h20.5v5.5h-20.5zM799 150h5.5v5.5h-5.5zM884 150h5.5v5.5h-5.5zM929 150h25.5v5.5h-25.5zM799 155h5.5v5.5h-5.5zM879 155h5.5v5.5h-5.5zM929 155h10.5v5.5h-10.5zM949 155h10.5v5.5h-10.5zM799 160h5.5v5.5h-5.5zM879 160h5.5v5.5h-5.5zM929 160h10.5v5.5h-10.5zM954 160h30.5v5.5h-30.5zM799 165h5.5v5.5h-5.5zM879 165h5.5v5.5h-5.5zM929 165h10.5v5.5h-10.5zM874 170h5.5v5.5h-5.5zM929 170h10.5v5.5h-10.5zM869 175h5.5v5.5h-5.5zM934 175h15.5v5.5h-15.5zM864 180h10.5v5.5h-10.5zM939 180h20.5v5.5h-20.5zM864 185h5.5v5.5h-5.5zM949 185h10.5v5.5h-10.5zM859 190h5.5v5.5h-5.5zM954 190h10.5v5.5h-10.5zM854 195h5.5v5.5h-5.5zM954 195h10.5v5.5h-10.5zM854 200h5.5v5.5h-5.5zM959 200h5.5v5.5h-5.5zM854 205h5.5v5.5h-5.5zM959 205h15.5v5.5h-15.5zM969 210h15.5v5.5h-15.5zM804 215h5.5v5.5h-5.5zM804 220h5.5v5.5h-5.5zM859 220h5.5v5.5h-5.5zM859 225h5.5v5.5h-5.5zM864 230h5.5v5.5h-5.5zM719 235h5.5v5.5h-5.5zM864 235h10.5v5.5h-10.5zM869 240h10.5v5.5h-10.5zM964 240h20.5v5.5h-20.5zM874 245h5.5v5.5h-5.5zM954 245h15.5v5.5h-15.5zM879 250h5.5v5.5h-5.5zM949 250h10.5v5.5h-10.5zM884 255h5.5v5.5h-5.5zM949 255h5.5v5.5h-5.5zM889 260h15.5v5.5h-15.5zM939 260h15.5v5.5h-15.5zM894 265h20.5v5.5h-20.5zM929 265h20.5v5.5h-20.5zM889 270h10.5v5.5h-10.5zM914 270h30.5v5.5h-30.5zM264 275h5.5v5.5h-5.5zM884 275h5.5v5.5h-5.5zM919 275h20.5v5.5h-20.5zM264 280h5.5v5.5h-5.5zM879 280h5.5v5.5h-5.5zM924 280h10.5v5.5h-10.5zM264 285h5.5v5.5h-5.5zM924 285h10.5v5.5h-10.5zM924 290h5.5v5.5h-5.5zM809 295h5.5v5.5h-5.5zM874 295h5.5v5.5h-5.5zM924 295h5.5v5.5h-5.5zM259 300h5.5v5.5h-5.5zM874 300h5.5v5.5h-5.5zM919 300h5.5v5.5h-5.5zM259 305h5.5v5.5h-5.5zM874 305h5.5v5.5h-5.5zM879 315h5.5v5.5h-5.5zM904 315h5.5v5.5h-5.5zM244 395h5.5v5.5h-5.5zM244 400h5.5v5.5h-5.5zM244 405h5.5v5.5h-5.5zM244 410h5.5v5.5h-5.5zM244 415h5.5v5.5h-5.5zM244 420h5.5v5.5h-5.5zM249 425h5.5v5.5h-5.5zM249 430h10.5v5.5h-10.5zM249 435h15.5v5.5h-15.5zM209 440h5.5v5.5h-5.5zM244 440h25.5v5.5h-25.5zM214 445h5.5v5.5h-5.5zM239 445h35.5v5.5h-35.5zM254 450h15.5v5.5h-15.5zM259 455h5.5v5.5h-5.5zM234 460h5.5v5.5h-5.5zM224 465h5.5v5.5h-5.5zM234 465h5.5v5.5h-5.5zM229 470h10.5v5.5h-10.5zM234 475h5.5v5.5h-5.5zM224 485h5.5v5.5h-5.5zM434 485h5.5v5.5h-5.5zM544 485h5.5v5.5h-5.5zM909 485h5.5v5.5h-5.5zM219 490h5.5v5.5h-5.5zM239 490h5.5v5.5h-5.5zM419 495h5.5v5.5h-5.5zM244 500h5.5v5.5h-5.5zM919 500h5.5v5.5h-5.5zM939 500h5.5v5.5h-5.5zM249 510h5.5v5.5h-5.5zM414 510h5.5v5.5h-5.5zM569 510h5.5v5.5h-5.5zM414 515h5.5v5.5h-5.5zM254 520h5.5v5.5h-5.5zM414 520h5.5v5.5h-5.5zM454 520h5.5v5.5h-5.5zM259 525h5.5v5.5h-5.5zM414 525h5.5v5.5h-5.5zM259 530h5.5v5.5h-5.5zM414 530h5.5v5.5h-5.5zM264 535h5.5v5.5h-5.5zM264 540h5.5v5.5h-5.5zM424 540h5.5v5.5h-5.5zM269 545h5.5v5.5h-5.5zM269 550h5.5v5.5h-5.5zM269 555h10.5v5.5h-10.5zM269 560h10.5v5.5h-10.5zM269 565h10.5v5.5h-10.5zM269 570h10.5v5.5h-10.5zM269 575h10.5v5.5h-10.5zM269 580h10.5v5.5h-10.5zM344 580h5.5v5.5h-5.5zM369 580h5.5v5.5h-5.5zM269 585h10.5v5.5h-10.5zM334 585h5.5v5.5h-5.5zM269 590h5.5v5.5h-5.5zM329 590h5.5v5.5h-5.5zM264 595h5.5v5.5h-5.5zM324 595h5.5v5.5h-5.5zM319 600h5.5v5.5h-5.5zM319 605h5.5v5.5h-5.5zM324 610h5.5v5.5h-5.5zM324 615h5.5v5.5h-5.5zM324 620h5.5v5.5h-5.5zM324 625h5.5v5.5h-5.5zM324 630h5.5v5.5h-5.5zM749 650h20.5v5.5h-20.5zM744 655h10.5v5.5h-10.5zM764 655h10.5v5.5h-10.5zM739 660h10.5v5.5h-10.5zM769 660h5.5v5.5h-5.5zM914 660h10.5v5.5h-10.5zM954 660h10.5v5.5h-10.5zM739 665h10.5v5.5h-10.5zM774 665h5.5v5.5h-5.5zM894 665h10.5v5.5h-10.5zM734 670h15.5v5.5h-15.5zM774 670h5.5v5.5h-5.5zM884 670h10.5v5.5h-10.5zM724 675h20.5v5.5h-20.5zM774 675h5.5v5.5h-5.5zM879 675h10.5v5.5h-10.5zM879 680h5.5v5.5h-5.5zM879 685h5.5v5.5h-5.5zM879 690h5.5v5.5h-5.5z"/><path fill="#dfff20" d="M829 65h5.5v5.5h-5.5zM939 65h5.5v5.5h-5.5zM829 70h5.5v5.5h-5.5zM829 75h5.5v5.5h-5.5zM799 80h10.5v5.5h-10.5zM824 80h10.5v5.5h-10.5zM804 85h5.5v5.5h-5.5zM824 85h5.5v5.5h-5.5zM804 90h5.5v5.5h-5.5zM819 90h5.5v5.5h-5.5zM804 95h5.5v5.5h-5.5zM819 95h5.5v5.5h-5.5zM939 95h5.5v5.5h-5.5zM794 100h5.5v5.5h-5.5zM814 100h5.5v5.5h-5.5zM784 110h5.5v5.5h-5.5zM934 115h5.5v5.5h-5.5zM809 120h5.5v5.5h-5.5zM934 120h5.5v5.5h-5.5zM774 125h5.5v5.5h-5.5zM924 125h15.5v5.5h-15.5zM769 130h5.5v5.5h-5.5zM914 130h20.5v5.5h-20.5zM759 135h5.5v5.5h-5.5zM909 135h5.5v5.5h-5.5zM894 140h10.5v5.5h-10.5zM884 145h5.5v5.5h-5.5zM879 150h5.5v5.5h-5.5zM939 155h10.5v5.5h-10.5zM874 160h5.5v5.5h-5.5zM939 160h15.5v5.5h-15.5zM874 165h5.5v5.5h-5.5zM939 165h45.5v5.5h-45.5zM869 170h5.5v5.5h-5.5zM939 170h45.5v5.5h-45.5zM864 175h5.5v5.5h-5.5zM949 175h35.5v5.5h-35.5zM859 180h5.5v5.5h-5.5zM959 180h25.5v5.5h-25.5zM859 185h5.5v5.5h-5.5zM959 185h25.5v5.5h-25.5zM854 190h5.5v5.5h-5.5zM964 190h20.5v5.5h-20.5zM849 195h5.5v5.5h-5.5zM964 195h20.5v5.5h-20.5zM849 200h5.5v5.5h-5.5zM964 200h20.5v5.5h-20.5zM974 205h10.5v5.5h-10.5zM804 210h5.5v5.5h-5.5zM854 210h5.5v5.5h-5.5zM854 215h5.5v5.5h-5.5zM854 220h5.5v5.5h-5.5zM719 230h5.5v5.5h-5.5zM859 230h5.5v5.5h-5.5zM864 240h5.5v5.5h-5.5zM714 245h5.5v5.5h-5.5zM869 245h5.5v5.5h-5.5zM969 245h15.5v5.5h-15.5zM874 250h5.5v5.5h-5.5zM959 250h25.5v5.5h-25.5zM249 255h5.5v5.5h-5.5zM879 255h5.5v5.5h-5.5zM954 255h30.5v5.5h-30.5zM709 260h5.5v5.5h-5.5zM884 260h5.5v5.5h-5.5zM954 260h15.5v5.5h-15.5zM889 265h5.5v5.5h-5.5zM949 265h10.5v5.5h-10.5zM264 270h5.5v5.5h-5.5zM884 270h5.5v5.5h-5.5zM944 270h10.5v5.5h-10.5zM809 275h5.5v5.5h-5.5zM939 275h10.5v5.5h-10.5zM934 280h10.5v5.5h-10.5zM874 285h5.5v5.5h-5.5zM934 285h10.5v5.5h-10.5zM264 290h5.5v5.5h-5.5zM874 290h5.5v5.5h-5.5zM929 290h10.5v5.5h-10.5zM929 295h5.5v5.5h-5.5zM924 300h10.5v5.5h-10.5zM919 305h5.5v5.5h-5.5zM259 310h5.5v5.5h-5.5zM874 310h5.5v5.5h-5.5zM914 310h5.5v5.5h-5.5zM259 315h5.5v5.5h-5.5zM259 320h5.5v5.5h-5.5zM259 325h5.5v5.5h-5.5zM259 330h5.5v5.5h-5.5zM259 335h5.5v5.5h-5.5zM259 340h5.5v5.5h-5.5zM259 345h5.5v5.5h-5.5zM259 350h5.5v5.5h-5.5zM259 355h5.5v5.5h-5.5zM259 360h5.5v5.5h-5.5zM254 375h5.5v5.5h-5.5zM249 385h5.5v5.5h-5.5zM249 390h5.5v5.5h-5.5zM249 410h5.5v5.5h-5.5zM249 415h5.5v5.5h-5.5zM249 420h10.5v5.5h-10.5zM254 425h10.5v5.5h-10.5zM259 430h10.5v5.5h-10.5zM264 435h10.5v5.5h-10.5zM269 440h10.5v5.5h-10.5zM204 445h10.5v5.5h-10.5zM274 445h5.5v5.5h-5.5zM214 450h5.5v5.5h-5.5zM239 450h15.5v5.5h-15.5zM269 450h10.5v5.5h-10.5zM239 455h5.5v5.5h-5.5zM249 455h10.5v5.5h-10.5zM264 455h15.5v5.5h-15.5zM219 460h5.5v5.5h-5.5zM254 460h20.5v5.5h-20.5zM224 470h5.5v5.5h-5.5zM224 475h5.5v5.5h-5.5zM224 480h5.5v5.5h-5.5zM454 480h5.5v5.5h-5.5zM919 480h15.5v5.5h-15.5zM239 485h5.5v5.5h-5.5zM429 485h5.5v5.5h-5.5zM549 485h5.5v5.5h-5.5zM934 485h5.5v5.5h-5.5zM209 490h10.5v5.5h-10.5zM419 490h5.5v5.5h-5.5zM559 490h5.5v5.5h-5.5zM939 490h5.5v5.5h-5.5zM244 495h5.5v5.5h-5.5zM564 495h5.5v5.5h-5.5zM909 495h5.5v5.5h-5.5zM939 495h5.5v5.5h-5.5zM414 500h5.5v5.5h-5.5zM914 500h5.5v5.5h-5.5zM944 500h10.5v5.5h-10.5zM249 505h5.5v5.5h-5.5zM414 505h5.5v5.5h-5.5zM569 505h5.5v5.5h-5.5zM929 505h25.5v5.5h-25.5zM254 510h5.5v5.5h-5.5zM949 510h5.5v5.5h-5.5zM254 515h5.5v5.5h-5.5zM569 515h5.5v5.5h-5.5zM259 520h5.5v5.5h-5.5zM264 530h5.5v5.5h-5.5zM269 535h5.5v5.5h-5.5zM414 535h5.5v5.5h-5.5zM434 535h5.5v5.5h-5.5zM269 540h10.5v5.5h-10.5zM419 540h5.5v5.5h-5.5zM429 540h5.5v5.5h-5.5zM274 545h5.5v5.5h-5.5zM274 550h10.5v5.5h-10.5zM279 555h5.5v5.5h-5.5zM279 560h5.5v5.5h-5.5zM279 565h5.5v5.5h-5.5zM279 570h5.5v5.5h-5.5zM279 575h5.5v5.5h-5.5zM344 575h25.5v5.5h-25.5zM279 580h5.5v5.5h-5.5zM339 580h5.5v5.5h-5.5zM374 580h5.5v5.5h-5.5zM279 585h5.5v5.5h-5.5zM379 585h5.5v5.5h-5.5zM274 590h10.5v5.5h-10.5zM324 590h5.5v5.5h-5.5zM384 590h5.5v5.5h-5.5zM269 595h10.5v5.5h-10.5zM319 595h5.5v5.5h-5.5zM389 595h5.5v5.5h-5.5zM269 600h5.5v5.5h-5.5zM309 600h10.5v5.5h-10.5zM309 605h10.5v5.5h-10.5zM314 610h10.5v5.5h-10.5zM404 610h5.5v5.5h-5.5zM319 615h5.5v5.5h-5.5zM319 620h5.5v5.5h-5.5zM319 625h5.5v5.5h-5.5zM319 630h5.5v5.5h-5.5zM744 640h20.5v5.5h-20.5zM744 645h25.5v5.5h-25.5zM739 650h10.5v5.5h-10.5zM769 650h5.5v5.5h-5.5zM734 655h10.5v5.5h-10.5zM774 655h5.5v5.5h-5.5zM934 655h15.5v5.5h-15.5zM734 660h5.5v5.5h-5.5zM774 660h5.5v5.5h-5.5zM904 660h10.5v5.5h-10.5zM964 660h5.5v5.5h-5.5zM729 665h10.5v5.5h-10.5zM779 665h5.5v5.5h-5.5zM884 665h10.5v5.5h-10.5zM724 670h10.5v5.5h-10.5zM779 670h5.5v5.5h-5.5zM879 670h5.5v5.5h-5.5zM719 675h5.5v5.5h-5.5zM779 675h5.5v5.5h-5.5zM874 675h5.5v5.5h-5.5zM874 680h5.5v5.5h-5.5zM874 685h5.5v5.5h-5.5zM874 690h5.5v5.5h-5.5z"/><path fill="#e5ff1a" d="M834 65h10.5v5.5h-10.5zM834 70h5.5v5.5h-5.5zM939 70h5.5v5.5h-5.5zM834 75h5.5v5.5h-5.5zM939 75h5.5v5.5h-5.5zM939 80h5.5v5.5h-5.5zM799 85h5.5v5.5h-5.5zM829 85h5.5v5.5h-5.5zM939 85h5.5v5.5h-5.5zM824 90h5.5v5.5h-5.5zM939 90h5.5v5.5h-5.5zM799 95h5.5v5.5h-5.5zM814 105h5.5v5.5h-5.5zM934 105h5.5v5.5h-5.5zM934 110h5.5v5.5h-5.5zM779 115h5.5v5.5h-5.5zM929 115h5.5v5.5h-5.5zM924 120h10.5v5.5h-10.5zM914 125h10.5v5.5h-10.5zM764 130h5.5v5.5h-5.5zM909 130h5.5v5.5h-5.5zM804 135h5.5v5.5h-5.5zM899 135h10.5v5.5h-10.5zM884 140h10.5v5.5h-10.5zM879 145h5.5v5.5h-5.5zM874 150h5.5v5.5h-5.5zM874 155h5.5v5.5h-5.5zM869 160h5.5v5.5h-5.5zM869 165h5.5v5.5h-5.5zM864 170h5.5v5.5h-5.5zM859 175h5.5v5.5h-5.5zM854 185h5.5v5.5h-5.5zM849 190h5.5v5.5h-5.5zM844 195h5.5v5.5h-5.5zM804 200h5.5v5.5h-5.5zM844 200h5.5v5.5h-5.5zM804 205h5.5v5.5h-5.5zM849 205h5.5v5.5h-5.5zM849 210h5.5v5.5h-5.5zM719 225h5.5v5.5h-5.5zM854 225h5.5v5.5h-5.5zM859 235h5.5v5.5h-5.5zM859 240h5.5v5.5h-5.5zM864 245h5.5v5.5h-5.5zM869 250h5.5v5.5h-5.5zM709 255h5.5v5.5h-5.5zM874 255h5.5v5.5h-5.5zM259 260h5.5v5.5h-5.5zM879 260h5.5v5.5h-5.5zM969 260h15.5v5.5h-15.5zM714 265h10.5v5.5h-10.5zM884 265h5.5v5.5h-5.5zM959 265h25.5v5.5h-25.5zM809 270h5.5v5.5h-5.5zM954 270h30.5v5.5h-30.5zM879 275h5.5v5.5h-5.5zM949 275h35.5v5.5h-35.5zM874 280h5.5v5.5h-5.5zM944 280h15.5v5.5h-15.5zM944 285h5.5v5.5h-5.5zM939 290h10.5v5.5h-10.5zM264 295h5.5v5.5h-5.5zM934 295h10.5v5.5h-10.5zM809 300h5.5v5.5h-5.5zM934 300h5.5v5.5h-5.5zM924 305h10.5v5.5h-10.5zM799 310h5.5v5.5h-5.5zM919 310h5.5v5.5h-5.5zM909 315h5.5v5.5h-5.5zM259 365h5.5v5.5h-5.5zM259 370h5.5v5.5h-5.5zM254 380h5.5v5.5h-5.5zM249 395h5.5v5.5h-5.5zM249 400h5.5v5.5h-5.5zM249 405h5.5v5.5h-5.5zM254 410h5.5v5.5h-5.5zM254 415h5.5v5.5h-5.5zM259 420h5.5v5.5h-5.5zM264 425h5.5v5.5h-5.5zM974 425h10.5v5.5h-10.5zM269 430h5.5v5.5h-5.5zM974 430h10.5v5.5h-10.5zM274 435h5.5v5.5h-5.5zM279 440h5.5v5.5h-5.5zM279 445h5.5v5.5h-5.5zM204 450h10.5v5.5h-10.5zM279 450h5.5v5.5h-5.5zM214 455h5.5v5.5h-5.5zM244 455h5.5v5.5h-5.5zM279 455h5.5v5.5h-5.5zM239 460h15.5v5.5h-15.5zM274 460h5.5v5.5h-5.5zM219 465h5.5v5.5h-5.5zM239 465h5.5v5.5h-5.5zM254 465h20.5v5.5h-20.5zM239 470h5.5v5.5h-5.5zM259 470h10.5v5.5h-10.5zM239 475h5.5v5.5h-5.5zM239 480h5.5v5.5h-5.5zM444 480h10.5v5.5h-10.5zM459 480h55.5v5.5h-55.5zM909 480h10.5v5.5h-10.5zM934 480h5.5v5.5h-5.5zM219 485h5.5v5.5h-5.5zM424 485h5.5v5.5h-5.5zM904 485h5.5v5.5h-5.5zM939 485h5.5v5.5h-5.5zM244 490h5.5v5.5h-5.5zM904 490h5.5v5.5h-5.5zM414 495h5.5v5.5h-5.5zM944 495h10.5v5.5h-10.5zM249 500h5.5v5.5h-5.5zM569 500h5.5v5.5h-5.5zM954 500h5.5v5.5h-5.5zM254 505h5.5v5.5h-5.5zM924 505h5.5v5.5h-5.5zM954 505h5.5v5.5h-5.5zM939 510h10.5v5.5h-10.5zM954 510h5.5v5.5h-5.5zM259 515h5.5v5.5h-5.5zM409 515h5.5v5.5h-5.5zM264 520h5.5v5.5h-5.5zM409 520h5.5v5.5h-5.5zM569 520h5.5v5.5h-5.5zM264 525h5.5v5.5h-5.5zM409 525h5.5v5.5h-5.5zM269 530h5.5v5.5h-5.5zM274 535h5.5v5.5h-5.5zM279 540h5.5v5.5h-5.5zM414 540h5.5v5.5h-5.5zM279 545h10.5v5.5h-10.5zM284 550h5.5v5.5h-5.5zM284 555h10.5v5.5h-10.5zM284 560h10.5v5.5h-10.5zM284 565h10.5v5.5h-10.5zM284 570h10.5v5.5h-10.5zM344 570h25.5v5.5h-25.5zM284 575h10.5v5.5h-10.5zM339 575h5.5v5.5h-5.5zM369 575h5.5v5.5h-5.5zM284 580h10.5v5.5h-10.5zM334 580h5.5v5.5h-5.5zM379 580h5.5v5.5h-5.5zM284 585h10.5v5.5h-10.5zM329 585h5.5v5.5h-5.5zM384 585h5.5v5.5h-5.5zM284 590h10.5v5.5h-10.5zM319 590h5.5v5.5h-5.5zM279 595h40.5v5.5h-40.5zM274 600h35.5v5.5h-35.5zM394 600h5.5v5.5h-5.5zM274 605h35.5v5.5h-35.5zM399 605h5.5v5.5h-5.5zM279 610h35.5v5.5h-35.5zM289 615h30.5v5.5h-30.5zM309 620h10.5v5.5h-10.5zM314 625h5.5v5.5h-5.5zM744 635h20.5v5.5h-20.5zM739 640h5.5v5.5h-5.5zM764 640h5.5v5.5h-5.5zM734 645h10.5v5.5h-10.5zM769 645h5.5v5.5h-5.5zM729 650h10.5v5.5h-10.5zM774 650h5.5v5.5h-5.5zM729 655h5.5v5.5h-5.5zM914 655h20.5v5.5h-20.5zM949 655h10.5v5.5h-10.5zM724 660h10.5v5.5h-10.5zM779 660h5.5v5.5h-5.5zM889 660h15.5v5.5h-15.5zM969 660h15.5v5.5h-15.5zM724 665h5.5v5.5h-5.5zM879 665h5.5v5.5h-5.5zM719 670h5.5v5.5h-5.5zM784 670h5.5v5.5h-5.5zM869 670h10.5v5.5h-10.5zM714 675h5.5v5.5h-5.5zM784 675h10.5v5.5h-10.5zM864 675h10.5v5.5h-10.5zM784 680h10.5v5.5h-10.5zM864 680h10.5v5.5h-10.5zM864 685h10.5v5.5h-10.5zM864 690h10.5v5.5h-10.5z"/><path fill="#ecff13" d="M844 65h5.5v5.5h-5.5zM934 65h5.5v5.5h-5.5zM839 70h10.5v5.5h-10.5zM934 70h5.5v5.5h-5.5zM839 75h5.5v5.5h-5.5zM834 80h5.5v5.5h-5.5zM834 85h5.5v5.5h-5.5zM799 90h5.5v5.5h-5.5zM829 90h5.5v5.5h-5.5zM794 95h5.5v5.5h-5.5zM824 95h5.5v5.5h-5.5zM789 100h5.5v5.5h-5.5zM819 100h5.5v5.5h-5.5zM934 100h5.5v5.5h-5.5zM814 110h5.5v5.5h-5.5zM929 110h5.5v5.5h-5.5zM924 115h5.5v5.5h-5.5zM774 120h5.5v5.5h-5.5zM914 120h10.5v5.5h-10.5zM769 125h5.5v5.5h-5.5zM809 125h5.5v5.5h-5.5zM909 125h5.5v5.5h-5.5zM904 130h5.5v5.5h-5.5zM894 135h5.5v5.5h-5.5zM874 145h5.5v5.5h-5.5zM869 155h5.5v5.5h-5.5zM864 160h5.5v5.5h-5.5zM864 165h5.5v5.5h-5.5zM859 170h5.5v5.5h-5.5zM854 180h5.5v5.5h-5.5zM849 185h5.5v5.5h-5.5zM804 190h5.5v5.5h-5.5zM844 190h5.5v5.5h-5.5zM804 195h5.5v5.5h-5.5zM844 205h5.5v5.5h-5.5zM849 215h5.5v5.5h-5.5zM849 220h5.5v5.5h-5.5zM854 230h5.5v5.5h-5.5zM854 235h5.5v5.5h-5.5zM859 245h5.5v5.5h-5.5zM244 250h5.5v5.5h-5.5zM864 250h5.5v5.5h-5.5zM869 255h5.5v5.5h-5.5zM874 260h5.5v5.5h-5.5zM264 265h5.5v5.5h-5.5zM709 265h5.5v5.5h-5.5zM879 265h5.5v5.5h-5.5zM879 270h5.5v5.5h-5.5zM959 280h25.5v5.5h-25.5zM949 285h10.5v5.5h-10.5zM949 290h5.5v5.5h-5.5zM944 295h5.5v5.5h-5.5zM264 300h5.5v5.5h-5.5zM939 300h10.5v5.5h-10.5zM934 305h10.5v5.5h-10.5zM794 310h5.5v5.5h-5.5zM924 310h15.5v5.5h-15.5zM874 315h5.5v5.5h-5.5zM889 320h10.5v5.5h-10.5zM259 375h5.5v5.5h-5.5zM254 385h5.5v5.5h-5.5zM254 390h5.5v5.5h-5.5zM254 395h5.5v5.5h-5.5zM254 400h5.5v5.5h-5.5zM254 405h5.5v5.5h-5.5zM259 410h5.5v5.5h-5.5zM259 415h10.5v5.5h-10.5zM264 420h10.5v5.5h-10.5zM969 420h15.5v5.5h-15.5zM269 425h10.5v5.5h-10.5zM964 425h10.5v5.5h-10.5zM274 430h10.5v5.5h-10.5zM969 430h5.5v5.5h-5.5zM279 435h5.5v5.5h-5.5zM969 435h15.5v5.5h-15.5zM284 440h5.5v5.5h-5.5zM284 445h5.5v5.5h-5.5zM284 450h10.5v5.5h-10.5zM204 455h10.5v5.5h-10.5zM284 455h5.5v5.5h-5.5zM214 460h5.5v5.5h-5.5zM279 460h10.5v5.5h-10.5zM244 465h10.5v5.5h-10.5zM274 465h10.5v5.5h-10.5zM219 470h5.5v5.5h-5.5zM244 470h15.5v5.5h-15.5zM269 470h10.5v5.5h-10.5zM244 475h5.5v5.5h-5.5zM254 475h20.5v5.5h-20.5zM219 480h5.5v5.5h-5.5zM244 480h5.5v5.5h-5.5zM264 480h10.5v5.5h-10.5zM439 480h5.5v5.5h-5.5zM514 480h10.5v5.5h-10.5zM904 480h5.5v5.5h-5.5zM939 480h5.5v5.5h-5.5zM209 485h10.5v5.5h-10.5zM244 485h5.5v5.5h-5.5zM419 485h5.5v5.5h-5.5zM554 485h5.5v5.5h-5.5zM944 485h5.5v5.5h-5.5zM249 490h5.5v5.5h-5.5zM944 490h10.5v5.5h-10.5zM249 495h5.5v5.5h-5.5zM954 495h5.5v5.5h-5.5zM254 500h5.5v5.5h-5.5zM259 505h5.5v5.5h-5.5zM409 505h5.5v5.5h-5.5zM574 505h5.5v5.5h-5.5zM919 505h5.5v5.5h-5.5zM959 505h5.5v5.5h-5.5zM259 510h5.5v5.5h-5.5zM409 510h5.5v5.5h-5.5zM574 510h5.5v5.5h-5.5zM934 510h5.5v5.5h-5.5zM959 510h5.5v5.5h-5.5zM264 515h5.5v5.5h-5.5zM574 515h5.5v5.5h-5.5zM949 515h10.5v5.5h-10.5zM269 520h5.5v5.5h-5.5zM269 525h10.5v5.5h-10.5zM444 525h5.5v5.5h-5.5zM274 530h10.5v5.5h-10.5zM409 530h5.5v5.5h-5.5zM439 530h5.5v5.5h-5.5zM279 535h10.5v5.5h-10.5zM284 540h10.5v5.5h-10.5zM334 540h5.5v5.5h-5.5zM289 545h5.5v5.5h-5.5zM334 545h10.5v5.5h-10.5zM289 550h10.5v5.5h-10.5zM334 550h15.5v5.5h-15.5zM294 555h5.5v5.5h-5.5zM339 555h10.5v5.5h-10.5zM294 560h5.5v5.5h-5.5zM339 560h15.5v5.5h-15.5zM294 565h5.5v5.5h-5.5zM339 565h30.5v5.5h-30.5zM294 570h5.5v5.5h-5.5zM339 570h5.5v5.5h-5.5zM369 570h5.5v5.5h-5.5zM294 575h5.5v5.5h-5.5zM334 575h5.5v5.5h-5.5zM374 575h10.5v5.5h-10.5zM294 580h10.5v5.5h-10.5zM329 580h5.5v5.5h-5.5zM384 580h5.5v5.5h-5.5zM294 585h10.5v5.5h-10.5zM324 585h5.5v5.5h-5.5zM294 590h25.5v5.5h-25.5zM389 590h5.5v5.5h-5.5zM409 610h5.5v5.5h-5.5zM739 630h25.5v5.5h-25.5zM734 635h10.5v5.5h-10.5zM764 635h5.5v5.5h-5.5zM729 640h10.5v5.5h-10.5zM769 640h5.5v5.5h-5.5zM729 645h5.5v5.5h-5.5zM774 645h5.5v5.5h-5.5zM724 650h5.5v5.5h-5.5zM724 655h5.5v5.5h-5.5zM779 655h5.5v5.5h-5.5zM894 655h20.5v5.5h-20.5zM959 655h10.5v5.5h-10.5zM719 660h5.5v5.5h-5.5zM784 660h5.5v5.5h-5.5zM879 660h10.5v5.5h-10.5zM719 665h5.5v5.5h-5.5zM784 665h5.5v5.5h-5.5zM869 665h10.5v5.5h-10.5zM714 670h5.5v5.5h-5.5zM789 670h5.5v5.5h-5.5zM864 670h5.5v5.5h-5.5zM709 675h5.5v5.5h-5.5zM794 675h5.5v5.5h-5.5zM859 675h5.5v5.5h-5.5zM794 680h5.5v5.5h-5.5zM859 680h5.5v5.5h-5.5zM859 685h5.5v5.5h-5.5zM859 690h5.5v5.5h-5.5z"/><path fill="#f2ff0d" d="M929 65h5.5v5.5h-5.5zM844 75h5.5v5.5h-5.5zM839 80h5.5v5.5h-5.5zM794 85h5.5v5.5h-5.5zM839 85h5.5v5.5h-5.5zM794 90h5.5v5.5h-5.5zM834 90h5.5v5.5h-5.5zM829 95h5.5v5.5h-5.5zM934 95h5.5v5.5h-5.5zM784 105h5.5v5.5h-5.5zM929 105h5.5v5.5h-5.5zM924 110h5.5v5.5h-5.5zM919 115h5.5v5.5h-5.5zM909 120h5.5v5.5h-5.5zM904 125h5.5v5.5h-5.5zM759 130h5.5v5.5h-5.5zM899 130h5.5v5.5h-5.5zM754 135h5.5v5.5h-5.5zM884 135h10.5v5.5h-10.5zM804 140h5.5v5.5h-5.5zM879 140h5.5v5.5h-5.5zM869 150h5.5v5.5h-5.5zM864 155h5.5v5.5h-5.5zM859 165h5.5v5.5h-5.5zM854 170h5.5v5.5h-5.5zM854 175h5.5v5.5h-5.5zM849 180h5.5v5.5h-5.5zM804 185h5.5v5.5h-5.5zM844 185h5.5v5.5h-5.5zM839 190h5.5v5.5h-5.5zM839 195h5.5v5.5h-5.5zM839 200h5.5v5.5h-5.5zM839 205h5.5v5.5h-5.5zM844 210h5.5v5.5h-5.5zM849 225h5.5v5.5h-5.5zM849 230h5.5v5.5h-5.5zM714 240h5.5v5.5h-5.5zM854 240h5.5v5.5h-5.5zM709 250h5.5v5.5h-5.5zM859 250h5.5v5.5h-5.5zM254 255h5.5v5.5h-5.5zM864 255h5.5v5.5h-5.5zM809 265h5.5v5.5h-5.5zM874 265h5.5v5.5h-5.5zM874 270h5.5v5.5h-5.5zM269 275h5.5v5.5h-5.5zM874 275h5.5v5.5h-5.5zM269 280h5.5v5.5h-5.5zM269 285h5.5v5.5h-5.5zM959 285h25.5v5.5h-25.5zM954 290h10.5v5.5h-10.5zM949 295h10.5v5.5h-10.5zM949 300h5.5v5.5h-5.5zM264 305h5.5v5.5h-5.5zM809 305h5.5v5.5h-5.5zM944 305h10.5v5.5h-10.5zM264 310h5.5v5.5h-5.5zM804 310h5.5v5.5h-5.5zM939 310h10.5v5.5h-10.5zM914 315h25.5v5.5h-25.5zM884 320h5.5v5.5h-5.5zM899 320h10.5v5.5h-10.5zM259 380h5.5v5.5h-5.5zM259 385h5.5v5.5h-5.5zM259 390h5.5v5.5h-5.5zM259 395h5.5v5.5h-5.5zM259 400h5.5v5.5h-5.5zM259 405h5.5v5.5h-5.5zM264 410h5.5v5.5h-5.5zM269 415h5.5v5.5h-5.5zM974 415h10.5v5.5h-10.5zM274 420h5.5v5.5h-5.5zM964 420h5.5v5.5h-5.5zM279 425h5.5v5.5h-5.5zM284 430h5.5v5.5h-5.5zM964 430h5.5v5.5h-5.5zM284 435h5.5v5.5h-5.5zM964 435h5.5v5.5h-5.5zM289 440h5.5v5.5h-5.5zM969 440h15.5v5.5h-15.5zM289 445h5.5v5.5h-5.5zM294 450h5.5v5.5h-5.5zM289 455h5.5v5.5h-5.5zM204 460h10.5v5.5h-10.5zM289 460h5.5v5.5h-5.5zM214 465h5.5v5.5h-5.5zM284 465h5.5v5.5h-5.5zM279 470h10.5v5.5h-10.5zM219 475h5.5v5.5h-5.5zM249 475h5.5v5.5h-5.5zM274 475h10.5v5.5h-10.5zM919 475h20.5v5.5h-20.5zM214 480h5.5v5.5h-5.5zM249 480h15.5v5.5h-15.5zM274 480h10.5v5.5h-10.5zM429 480h10.5v5.5h-10.5zM524 480h10.5v5.5h-10.5zM944 480h10.5v5.5h-10.5zM249 485h35.5v5.5h-35.5zM899 485h5.5v5.5h-5.5zM949 485h10.5v5.5h-10.5zM254 490h25.5v5.5h-25.5zM414 490h5.5v5.5h-5.5zM564 490h5.5v5.5h-5.5zM954 490h5.5v5.5h-5.5zM254 495h10.5v5.5h-10.5zM569 495h5.5v5.5h-5.5zM904 495h5.5v5.5h-5.5zM959 495h5.5v5.5h-5.5zM259 500h5.5v5.5h-5.5zM409 500h5.5v5.5h-5.5zM909 500h5.5v5.5h-5.5zM959 500h5.5v5.5h-5.5zM264 505h5.5v5.5h-5.5zM964 505h5.5v5.5h-5.5zM264 510h10.5v5.5h-10.5zM929 510h5.5v5.5h-5.5zM964 510h5.5v5.5h-5.5zM269 515h10.5v5.5h-10.5zM404 515h5.5v5.5h-5.5zM944 515h5.5v5.5h-5.5zM959 515h5.5v5.5h-5.5zM274 520h10.5v5.5h-10.5zM404 520h5.5v5.5h-5.5zM574 520h5.5v5.5h-5.5zM279 525h10.5v5.5h-10.5zM284 530h10.5v5.5h-10.5zM324 530h15.5v5.5h-15.5zM289 535h10.5v5.5h-10.5zM319 535h25.5v5.5h-25.5zM409 535h5.5v5.5h-5.5zM294 540h5.5v5.5h-5.5zM319 540h15.5v5.5h-15.5zM339 540h10.5v5.5h-10.5zM294 545h10.5v5.5h-10.5zM324 545h10.5v5.5h-10.5zM344 545h10.5v5.5h-10.5zM414 545h15.5v5.5h-15.5zM299 550h10.5v5.5h-10.5zM329 550h5.5v5.5h-5.5zM349 550h10.5v5.5h-10.5zM299 555h10.5v5.5h-10.5zM329 555h10.5v5.5h-10.5zM349 555h15.5v5.5h-15.5zM299 560h10.5v5.5h-10.5zM334 560h5.5v5.5h-5.5zM354 560h15.5v5.5h-15.5zM299 565h10.5v5.5h-10.5zM334 565h5.5v5.5h-5.5zM369 565h5.5v5.5h-5.5zM299 570h10.5v5.5h-10.5zM334 570h5.5v5.5h-5.5zM374 570h10.5v5.5h-10.5zM299 575h10.5v5.5h-10.5zM329 575h5.5v5.5h-5.5zM384 575h5.5v5.5h-5.5zM304 580h5.5v5.5h-5.5zM304 585h20.5v5.5h-20.5zM389 585h5.5v5.5h-5.5zM394 595h5.5v5.5h-5.5zM404 605h5.5v5.5h-5.5zM404 615h5.5v5.5h-5.5zM739 625h25.5v5.5h-25.5zM734 630h5.5v5.5h-5.5zM764 630h5.5v5.5h-5.5zM729 635h5.5v5.5h-5.5zM769 635h5.5v5.5h-5.5zM724 640h5.5v5.5h-5.5zM774 640h5.5v5.5h-5.5zM724 645h5.5v5.5h-5.5zM719 650h5.5v5.5h-5.5zM779 650h5.5v5.5h-5.5zM914 650h45.5v5.5h-45.5zM714 655h10.5v5.5h-10.5zM784 655h5.5v5.5h-5.5zM879 655h15.5v5.5h-15.5zM969 655h15.5v5.5h-15.5zM714 660h5.5v5.5h-5.5zM869 660h10.5v5.5h-10.5zM714 665h5.5v5.5h-5.5zM789 665h5.5v5.5h-5.5zM864 665h5.5v5.5h-5.5zM709 670h5.5v5.5h-5.5zM794 670h5.5v5.5h-5.5zM859 670h5.5v5.5h-5.5zM799 675h5.5v5.5h-5.5zM799 680h5.5v5.5h-5.5z"/><path fill="#f8ff07" d="M849 65h5.5v5.5h-5.5zM849 70h5.5v5.5h-5.5zM934 75h5.5v5.5h-5.5zM844 80h5.5v5.5h-5.5zM789 85h5.5v5.5h-5.5zM789 90h5.5v5.5h-5.5zM839 90h5.5v5.5h-5.5zM789 95h5.5v5.5h-5.5zM834 95h5.5v5.5h-5.5zM824 100h5.5v5.5h-5.5zM929 100h5.5v5.5h-5.5zM819 105h5.5v5.5h-5.5zM924 105h5.5v5.5h-5.5zM779 110h5.5v5.5h-5.5zM919 110h5.5v5.5h-5.5zM774 115h5.5v5.5h-5.5zM814 115h5.5v5.5h-5.5zM914 115h5.5v5.5h-5.5zM769 120h5.5v5.5h-5.5zM764 125h5.5v5.5h-5.5zM899 125h5.5v5.5h-5.5zM809 130h5.5v5.5h-5.5zM894 130h5.5v5.5h-5.5zM874 140h5.5v5.5h-5.5zM804 145h5.5v5.5h-5.5zM869 145h5.5v5.5h-5.5zM864 150h5.5v5.5h-5.5zM859 160h5.5v5.5h-5.5zM854 165h5.5v5.5h-5.5zM849 175h5.5v5.5h-5.5zM804 180h5.5v5.5h-5.5zM844 180h5.5v5.5h-5.5zM839 185h5.5v5.5h-5.5zM834 195h5.5v5.5h-5.5zM834 200h5.5v5.5h-5.5zM839 210h5.5v5.5h-5.5zM844 215h5.5v5.5h-5.5zM844 220h5.5v5.5h-5.5zM714 235h5.5v5.5h-5.5zM849 235h5.5v5.5h-5.5zM854 245h5.5v5.5h-5.5zM704 260h5.5v5.5h-5.5zM809 260h5.5v5.5h-5.5zM869 260h5.5v5.5h-5.5zM704 265h5.5v5.5h-5.5zM269 270h5.5v5.5h-5.5zM269 290h5.5v5.5h-5.5zM964 290h20.5v5.5h-20.5zM959 295h25.5v5.5h-25.5zM954 300h30.5v5.5h-30.5zM954 305h30.5v5.5h-30.5zM949 310h35.5v5.5h-35.5zM264 315h5.5v5.5h-5.5zM939 315h45.5v5.5h-45.5zM264 320h5.5v5.5h-5.5zM879 320h5.5v5.5h-5.5zM909 320h5.5v5.5h-5.5zM929 320h55.5v5.5h-55.5zM264 325h5.5v5.5h-5.5zM944 325h40.5v5.5h-40.5zM264 330h5.5v5.5h-5.5zM954 330h30.5v5.5h-30.5zM264 335h5.5v5.5h-5.5zM959 335h25.5v5.5h-25.5zM264 340h5.5v5.5h-5.5zM964 340h20.5v5.5h-20.5zM264 345h5.5v5.5h-5.5zM964 345h20.5v5.5h-20.5zM264 350h5.5v5.5h-5.5zM969 350h15.5v5.5h-15.5zM264 355h5.5v5.5h-5.5zM969 355h15.5v5.5h-15.5zM264 360h5.5v5.5h-5.5zM969 360h15.5v5.5h-15.5zM264 365h5.5v5.5h-5.5zM969 365h15.5v5.5h-15.5zM264 370h5.5v5.5h-5.5zM969 370h15.5v5.5h-15.5zM264 375h5.5v5.5h-5.5zM974 375h10.5v5.5h-10.5zM264 380h5.5v5.5h-5.5zM264 385h5.5v5.5h-5.5zM264 390h5.5v5.5h-5.5zM264 395h5.5v5.5h-5.5zM264 400h5.5v5.5h-5.5zM264 405h10.5v5.5h-10.5zM269 410h10.5v5.5h-10.5zM274 415h10.5v5.5h-10.5zM964 415h10.5v5.5h-10.5zM279 420h5.5v5.5h-5.5zM959 420h5.5v5.5h-5.5zM284 425h5.5v5.5h-5.5zM959 425h5.5v5.5h-5.5zM289 430h5.5v5.5h-5.5zM959 430h5.5v5.5h-5.5zM289 435h5.5v5.5h-5.5zM294 440h5.5v5.5h-5.5zM964 440h5.5v5.5h-5.5zM294 445h5.5v5.5h-5.5zM964 445h20.5v5.5h-20.5zM969 450h15.5v5.5h-15.5zM294 455h5.5v5.5h-5.5zM964 455h20.5v5.5h-20.5zM294 460h5.5v5.5h-5.5zM964 460h20.5v5.5h-20.5zM204 465h10.5v5.5h-10.5zM289 465h10.5v5.5h-10.5zM959 465h25.5v5.5h-25.5zM204 470h15.5v5.5h-15.5zM289 470h5.5v5.5h-5.5zM949 470h35.5v5.5h-35.5zM204 475h15.5v5.5h-15.5zM284 475h10.5v5.5h-10.5zM909 475h10.5v5.5h-10.5zM939 475h45.5v5.5h-45.5zM204 480h10.5v5.5h-10.5zM284 480h10.5v5.5h-10.5zM424 480h5.5v5.5h-5.5zM534 480h15.5v5.5h-15.5zM899 480h5.5v5.5h-5.5zM954 480h30.5v5.5h-30.5zM284 485h15.5v5.5h-15.5zM414 485h5.5v5.5h-5.5zM559 485h5.5v5.5h-5.5zM959 485h25.5v5.5h-25.5zM279 490h20.5v5.5h-20.5zM899 490h5.5v5.5h-5.5zM959 490h25.5v5.5h-25.5zM264 495h40.5v5.5h-40.5zM409 495h5.5v5.5h-5.5zM964 495h20.5v5.5h-20.5zM264 500h45.5v5.5h-45.5zM404 500h5.5v5.5h-5.5zM574 500h5.5v5.5h-5.5zM964 500h20.5v5.5h-20.5zM269 505h45.5v5.5h-45.5zM404 505h5.5v5.5h-5.5zM914 505h5.5v5.5h-5.5zM969 505h15.5v5.5h-15.5zM274 510h45.5v5.5h-45.5zM404 510h5.5v5.5h-5.5zM579 510h5.5v5.5h-5.5zM924 510h5.5v5.5h-5.5zM969 510h15.5v5.5h-15.5zM279 515h50.5v5.5h-50.5zM939 515h5.5v5.5h-5.5zM964 515h20.5v5.5h-20.5zM284 520h55.5v5.5h-55.5zM954 520h30.5v5.5h-30.5zM289 525h65.5v5.5h-65.5zM404 525h5.5v5.5h-5.5zM464 525h5.5v5.5h-5.5zM569 525h5.5v5.5h-5.5zM294 530h30.5v5.5h-30.5zM339 530h20.5v5.5h-20.5zM404 530h5.5v5.5h-5.5zM299 535h20.5v5.5h-20.5zM344 535h20.5v5.5h-20.5zM299 540h20.5v5.5h-20.5zM349 540h15.5v5.5h-15.5zM409 540h5.5v5.5h-5.5zM434 540h5.5v5.5h-5.5zM304 545h20.5v5.5h-20.5zM354 545h10.5v5.5h-10.5zM429 545h5.5v5.5h-5.5zM309 550h20.5v5.5h-20.5zM359 550h10.5v5.5h-10.5zM309 555h5.5v5.5h-5.5zM324 555h5.5v5.5h-5.5zM364 555h10.5v5.5h-10.5zM309 560h5.5v5.5h-5.5zM329 560h5.5v5.5h-5.5zM369 560h10.5v5.5h-10.5zM309 565h5.5v5.5h-5.5zM329 565h5.5v5.5h-5.5zM374 565h10.5v5.5h-10.5zM309 570h5.5v5.5h-5.5zM329 570h5.5v5.5h-5.5zM384 570h5.5v5.5h-5.5zM309 575h5.5v5.5h-5.5zM389 575h5.5v5.5h-5.5zM309 580h10.5v5.5h-10.5zM324 580h5.5v5.5h-5.5zM389 580h5.5v5.5h-5.5zM394 590h5.5v5.5h-5.5zM399 600h5.5v5.5h-5.5zM414 610h5.5v5.5h-5.5zM409 615h10.5v5.5h-10.5zM734 625h5.5v5.5h-5.5zM764 625h5.5v5.5h-5.5zM729 630h5.5v5.5h-5.5zM769 630h5.5v5.5h-5.5zM724 635h5.5v5.5h-5.5zM774 635h5.5v5.5h-5.5zM719 640h5.5v5.5h-5.5zM719 645h5.5v5.5h-5.5zM779 645h5.5v5.5h-5.5zM714 650h5.5v5.5h-5.5zM784 650h5.5v5.5h-5.5zM884 650h30.5v5.5h-30.5zM959 650h25.5v5.5h-25.5zM709 655h5.5v5.5h-5.5zM789 655h5.5v5.5h-5.5zM874 655h5.5v5.5h-5.5zM709 660h5.5v5.5h-5.5zM789 660h5.5v5.5h-5.5zM864 660h5.5v5.5h-5.5zM704 665h10.5v5.5h-10.5zM794 665h5.5v5.5h-5.5zM859 665h5.5v5.5h-5.5zM799 670h5.5v5.5h-5.5zM804 675h5.5v5.5h-5.5zM854 675h5.5v5.5h-5.5zM804 680h5.5v5.5h-5.5zM854 680h5.5v5.5h-5.5zM854 685h5.5v5.5h-5.5zM854 690h5.5v5.5h-5.5z"/><path fill="#feff01" d="M854 65h5.5v5.5h-5.5zM929 70h5.5v5.5h-5.5zM849 75h5.5v5.5h-5.5zM849 80h5.5v5.5h-5.5zM934 80h5.5v5.5h-5.5zM784 85h5.5v5.5h-5.5zM844 85h5.5v5.5h-5.5zM934 85h5.5v5.5h-5.5zM784 90h5.5v5.5h-5.5zM934 90h5.5v5.5h-5.5zM784 95h5.5v5.5h-5.5zM784 100h5.5v5.5h-5.5zM829 100h5.5v5.5h-5.5zM924 100h5.5v5.5h-5.5zM779 105h5.5v5.5h-5.5zM919 105h5.5v5.5h-5.5zM914 110h5.5v5.5h-5.5zM909 115h5.5v5.5h-5.5zM814 120h5.5v5.5h-5.5zM904 120h5.5v5.5h-5.5zM894 125h5.5v5.5h-5.5zM889 130h5.5v5.5h-5.5zM879 135h5.5v5.5h-5.5zM859 155h5.5v5.5h-5.5zM854 160h5.5v5.5h-5.5zM804 170h5.5v5.5h-5.5zM849 170h5.5v5.5h-5.5zM804 175h5.5v5.5h-5.5zM844 175h5.5v5.5h-5.5zM834 190h5.5v5.5h-5.5zM834 205h5.5v5.5h-5.5zM809 215h5.5v5.5h-5.5zM839 215h5.5v5.5h-5.5zM809 220h5.5v5.5h-5.5zM714 225h5.5v5.5h-5.5zM809 225h5.5v5.5h-5.5zM844 225h5.5v5.5h-5.5zM714 230h5.5v5.5h-5.5zM809 230h5.5v5.5h-5.5zM849 240h5.5v5.5h-5.5zM854 250h5.5v5.5h-5.5zM259 255h5.5v5.5h-5.5zM809 255h5.5v5.5h-5.5zM859 255h5.5v5.5h-5.5zM264 260h5.5v5.5h-5.5zM864 260h5.5v5.5h-5.5zM269 265h5.5v5.5h-5.5zM869 265h5.5v5.5h-5.5zM709 270h5.5v5.5h-5.5zM869 270h5.5v5.5h-5.5zM869 275h5.5v5.5h-5.5zM869 280h5.5v5.5h-5.5zM869 285h5.5v5.5h-5.5zM869 290h5.5v5.5h-5.5zM269 295h5.5v5.5h-5.5zM869 295h5.5v5.5h-5.5zM269 300h5.5v5.5h-5.5zM869 300h5.5v5.5h-5.5zM869 305h5.5v5.5h-5.5zM869 310h5.5v5.5h-5.5zM914 320h15.5v5.5h-15.5zM929 325h15.5v5.5h-15.5zM939 330h15.5v5.5h-15.5zM944 335h15.5v5.5h-15.5zM949 340h15.5v5.5h-15.5zM954 345h10.5v5.5h-10.5zM959 350h10.5v5.5h-10.5zM959 355h10.5v5.5h-10.5zM959 360h10.5v5.5h-10.5zM959 365h10.5v5.5h-10.5zM964 370h5.5v5.5h-5.5zM964 375h10.5v5.5h-10.5zM269 380h5.5v5.5h-5.5zM964 380h20.5v5.5h-20.5zM269 385h5.5v5.5h-5.5zM979 385h5.5v5.5h-5.5zM269 390h5.5v5.5h-5.5zM269 395h5.5v5.5h-5.5zM269 400h10.5v5.5h-10.5zM274 405h5.5v5.5h-5.5zM279 410h5.5v5.5h-5.5zM969 410h15.5v5.5h-15.5zM284 415h5.5v5.5h-5.5zM959 415h5.5v5.5h-5.5zM284 420h5.5v5.5h-5.5zM289 425h5.5v5.5h-5.5zM294 430h5.5v5.5h-5.5zM294 435h5.5v5.5h-5.5zM959 435h5.5v5.5h-5.5zM299 440h5.5v5.5h-5.5zM959 440h5.5v5.5h-5.5zM299 445h5.5v5.5h-5.5zM959 445h5.5v5.5h-5.5zM299 450h5.5v5.5h-5.5zM959 450h10.5v5.5h-10.5zM299 455h5.5v5.5h-5.5zM959 455h5.5v5.5h-5.5zM299 460h5.5v5.5h-5.5zM954 460h10.5v5.5h-10.5zM299 465h5.5v5.5h-5.5zM949 465h10.5v5.5h-10.5zM294 470h10.5v5.5h-10.5zM929 470h20.5v5.5h-20.5zM294 475h10.5v5.5h-10.5zM904 475h5.5v5.5h-5.5zM294 480h10.5v5.5h-10.5zM419 480h5.5v5.5h-5.5zM549 480h5.5v5.5h-5.5zM299 485h10.5v5.5h-10.5zM299 490h15.5v5.5h-15.5zM409 490h5.5v5.5h-5.5zM304 495h15.5v5.5h-15.5zM404 495h5.5v5.5h-5.5zM574 495h5.5v5.5h-5.5zM309 500h15.5v5.5h-15.5zM399 500h5.5v5.5h-5.5zM314 505h15.5v5.5h-15.5zM399 505h5.5v5.5h-5.5zM579 505h5.5v5.5h-5.5zM319 510h15.5v5.5h-15.5zM399 510h5.5v5.5h-5.5zM329 515h30.5v5.5h-30.5zM399 515h5.5v5.5h-5.5zM579 515h5.5v5.5h-5.5zM934 515h5.5v5.5h-5.5zM339 520h30.5v5.5h-30.5zM399 520h5.5v5.5h-5.5zM944 520h10.5v5.5h-10.5zM354 525h15.5v5.5h-15.5zM399 525h5.5v5.5h-5.5zM449 525h5.5v5.5h-5.5zM964 525h20.5v5.5h-20.5zM359 530h15.5v5.5h-15.5zM364 535h10.5v5.5h-10.5zM404 535h5.5v5.5h-5.5zM364 540h10.5v5.5h-10.5zM404 540h5.5v5.5h-5.5zM364 545h10.5v5.5h-10.5zM409 545h5.5v5.5h-5.5zM369 550h10.5v5.5h-10.5zM414 550h5.5v5.5h-5.5zM314 555h10.5v5.5h-10.5zM374 555h5.5v5.5h-5.5zM314 560h15.5v5.5h-15.5zM379 560h5.5v5.5h-5.5zM314 565h5.5v5.5h-5.5zM324 565h5.5v5.5h-5.5zM384 565h5.5v5.5h-5.5zM314 570h5.5v5.5h-5.5zM324 570h5.5v5.5h-5.5zM389 570h5.5v5.5h-5.5zM314 575h5.5v5.5h-5.5zM324 575h5.5v5.5h-5.5zM319 580h5.5v5.5h-5.5zM394 580h5.5v5.5h-5.5zM394 585h5.5v5.5h-5.5zM419 610h5.5v5.5h-5.5zM739 620h25.5v5.5h-25.5zM729 625h5.5v5.5h-5.5zM769 625h5.5v5.5h-5.5zM724 630h5.5v5.5h-5.5zM719 635h5.5v5.5h-5.5zM714 640h5.5v5.5h-5.5zM779 640h5.5v5.5h-5.5zM709 645h10.5v5.5h-10.5zM784 645h5.5v5.5h-5.5zM709 650h5.5v5.5h-5.5zM789 650h5.5v5.5h-5.5zM879 650h5.5v5.5h-5.5zM704 655h5.5v5.5h-5.5zM869 655h5.5v5.5h-5.5zM699 660h10.5v5.5h-10.5zM794 660h5.5v5.5h-5.5zM859 660h5.5v5.5h-5.5zM699 665h5.5v5.5h-5.5zM799 665h5.5v5.5h-5.5zM704 670h5.5v5.5h-5.5zM804 670h5.5v5.5h-5.5zM854 670h5.5v5.5h-5.5zM809 675h5.5v5.5h-5.5zM809 680h5.5v5.5h-5.5z"/><path fill="#fffa00" d="M924 65h5.5v5.5h-5.5zM854 70h5.5v5.5h-5.5zM854 75h5.5v5.5h-5.5zM849 85h5.5v5.5h-5.5zM779 90h5.5v5.5h-5.5zM844 90h5.5v5.5h-5.5zM779 95h5.5v5.5h-5.5zM839 95h5.5v5.5h-5.5zM929 95h5.5v5.5h-5.5zM779 100h5.5v5.5h-5.5zM919 100h5.5v5.5h-5.5zM824 105h5.5v5.5h-5.5zM914 105h5.5v5.5h-5.5zM774 110h5.5v5.5h-5.5zM819 110h5.5v5.5h-5.5zM909 110h5.5v5.5h-5.5zM769 115h5.5v5.5h-5.5zM904 115h5.5v5.5h-5.5zM764 120h5.5v5.5h-5.5zM899 120h5.5v5.5h-5.5zM759 125h5.5v5.5h-5.5zM754 130h5.5v5.5h-5.5zM884 130h5.5v5.5h-5.5zM874 135h5.5v5.5h-5.5zM869 140h5.5v5.5h-5.5zM864 145h5.5v5.5h-5.5zM804 150h5.5v5.5h-5.5zM859 150h5.5v5.5h-5.5zM804 155h5.5v5.5h-5.5zM854 155h5.5v5.5h-5.5zM804 160h5.5v5.5h-5.5zM804 165h5.5v5.5h-5.5zM849 165h5.5v5.5h-5.5zM844 170h5.5v5.5h-5.5zM839 180h5.5v5.5h-5.5zM834 185h5.5v5.5h-5.5zM809 205h5.5v5.5h-5.5zM809 210h5.5v5.5h-5.5zM834 210h5.5v5.5h-5.5zM714 220h5.5v5.5h-5.5zM839 220h5.5v5.5h-5.5zM844 230h5.5v5.5h-5.5zM809 235h5.5v5.5h-5.5zM844 235h5.5v5.5h-5.5zM809 240h5.5v5.5h-5.5zM709 245h5.5v5.5h-5.5zM849 245h5.5v5.5h-5.5zM249 250h5.5v5.5h-5.5zM809 250h5.5v5.5h-5.5zM704 255h5.5v5.5h-5.5zM854 255h5.5v5.5h-5.5zM859 260h5.5v5.5h-5.5zM864 265h5.5v5.5h-5.5zM274 270h5.5v5.5h-5.5zM704 270h5.5v5.5h-5.5zM714 270h5.5v5.5h-5.5zM274 275h5.5v5.5h-5.5zM274 280h5.5v5.5h-5.5zM684 280h5.5v5.5h-5.5zM274 285h5.5v5.5h-5.5zM269 305h5.5v5.5h-5.5zM269 310h5.5v5.5h-5.5zM809 310h5.5v5.5h-5.5zM869 315h5.5v5.5h-5.5zM874 320h5.5v5.5h-5.5zM889 325h15.5v5.5h-15.5zM924 325h5.5v5.5h-5.5zM929 330h10.5v5.5h-10.5zM934 335h10.5v5.5h-10.5zM939 340h10.5v5.5h-10.5zM269 345h5.5v5.5h-5.5zM944 345h10.5v5.5h-10.5zM269 350h5.5v5.5h-5.5zM949 350h10.5v5.5h-10.5zM269 355h5.5v5.5h-5.5zM954 355h5.5v5.5h-5.5zM269 360h5.5v5.5h-5.5zM954 360h5.5v5.5h-5.5zM269 365h5.5v5.5h-5.5zM954 365h5.5v5.5h-5.5zM269 370h5.5v5.5h-5.5zM959 370h5.5v5.5h-5.5zM269 375h5.5v5.5h-5.5zM959 375h5.5v5.5h-5.5zM274 380h5.5v5.5h-5.5zM959 380h5.5v5.5h-5.5zM274 385h5.5v5.5h-5.5zM964 385h15.5v5.5h-15.5zM274 390h5.5v5.5h-5.5zM274 395h5.5v5.5h-5.5zM279 400h5.5v5.5h-5.5zM279 405h10.5v5.5h-10.5zM284 410h5.5v5.5h-5.5zM964 410h5.5v5.5h-5.5zM289 415h5.5v5.5h-5.5zM289 420h5.5v5.5h-5.5zM954 420h5.5v5.5h-5.5zM294 425h5.5v5.5h-5.5zM954 425h5.5v5.5h-5.5zM954 430h5.5v5.5h-5.5zM299 435h5.5v5.5h-5.5zM304 445h5.5v5.5h-5.5zM304 450h5.5v5.5h-5.5zM954 450h5.5v5.5h-5.5zM304 455h5.5v5.5h-5.5zM954 455h5.5v5.5h-5.5zM304 460h5.5v5.5h-5.5zM949 460h5.5v5.5h-5.5zM304 465h5.5v5.5h-5.5zM939 465h10.5v5.5h-10.5zM304 470h5.5v5.5h-5.5zM919 470h10.5v5.5h-10.5zM304 475h5.5v5.5h-5.5zM444 475h15.5v5.5h-15.5zM304 480h10.5v5.5h-10.5zM414 480h5.5v5.5h-5.5zM309 485h5.5v5.5h-5.5zM409 485h5.5v5.5h-5.5zM314 490h5.5v5.5h-5.5zM404 490h5.5v5.5h-5.5zM569 490h5.5v5.5h-5.5zM319 495h5.5v5.5h-5.5zM399 495h5.5v5.5h-5.5zM899 495h5.5v5.5h-5.5zM324 500h10.5v5.5h-10.5zM394 500h5.5v5.5h-5.5zM579 500h5.5v5.5h-5.5zM904 500h5.5v5.5h-5.5zM329 505h15.5v5.5h-15.5zM394 505h5.5v5.5h-5.5zM909 505h5.5v5.5h-5.5zM334 510h35.5v5.5h-35.5zM394 510h5.5v5.5h-5.5zM584 510h5.5v5.5h-5.5zM919 510h5.5v5.5h-5.5zM359 515h15.5v5.5h-15.5zM394 515h5.5v5.5h-5.5zM929 515h5.5v5.5h-5.5zM369 520h10.5v5.5h-10.5zM394 520h5.5v5.5h-5.5zM579 520h5.5v5.5h-5.5zM939 520h5.5v5.5h-5.5zM369 525h10.5v5.5h-10.5zM394 525h5.5v5.5h-5.5zM454 525h10.5v5.5h-10.5zM574 525h5.5v5.5h-5.5zM954 525h10.5v5.5h-10.5zM374 530h5.5v5.5h-5.5zM399 530h5.5v5.5h-5.5zM569 530h5.5v5.5h-5.5zM969 530h15.5v5.5h-15.5zM374 535h5.5v5.5h-5.5zM399 535h5.5v5.5h-5.5zM439 535h5.5v5.5h-5.5zM374 540h5.5v5.5h-5.5zM374 545h5.5v5.5h-5.5zM404 545h5.5v5.5h-5.5zM379 550h5.5v5.5h-5.5zM404 550h10.5v5.5h-10.5zM419 550h10.5v5.5h-10.5zM379 555h10.5v5.5h-10.5zM409 555h5.5v5.5h-5.5zM384 560h10.5v5.5h-10.5zM319 565h5.5v5.5h-5.5zM389 565h10.5v5.5h-10.5zM319 570h5.5v5.5h-5.5zM394 570h5.5v5.5h-5.5zM319 575h5.5v5.5h-5.5zM394 575h5.5v5.5h-5.5zM399 590h5.5v5.5h-5.5zM399 595h5.5v5.5h-5.5zM409 605h5.5v5.5h-5.5zM734 620h5.5v5.5h-5.5zM764 620h5.5v5.5h-5.5zM724 625h5.5v5.5h-5.5zM719 630h5.5v5.5h-5.5zM774 630h5.5v5.5h-5.5zM714 635h5.5v5.5h-5.5zM779 635h5.5v5.5h-5.5zM709 640h5.5v5.5h-5.5zM784 640h5.5v5.5h-5.5zM704 645h5.5v5.5h-5.5zM789 645h5.5v5.5h-5.5zM884 645h100.5v5.5h-100.5zM699 650h10.5v5.5h-10.5zM869 650h10.5v5.5h-10.5zM694 655h10.5v5.5h-10.5zM794 655h5.5v5.5h-5.5zM864 655h5.5v5.5h-5.5zM689 660h10.5v5.5h-10.5zM799 660h5.5v5.5h-5.5zM689 665h10.5v5.5h-10.5zM804 665h5.5v5.5h-5.5zM854 665h5.5v5.5h-5.5zM699 670h5.5v5.5h-5.5zM809 670h5.5v5.5h-5.5zM849 670h5.5v5.5h-5.5zM814 675h5.5v5.5h-5.5zM849 675h5.5v5.5h-5.5zM814 680h5.5v5.5h-5.5zM849 680h5.5v5.5h-5.5zM849 685h5.5v5.5h-5.5zM849 690h5.5v5.5h-5.5z"/><path fill="#fff400" d="M859 65h5.5v5.5h-5.5zM859 70h5.5v5.5h-5.5zM929 75h5.5v5.5h-5.5zM854 80h5.5v5.5h-5.5zM774 95h5.5v5.5h-5.5zM924 95h5.5v5.5h-5.5zM774 100h5.5v5.5h-5.5zM834 100h5.5v5.5h-5.5zM774 105h5.5v5.5h-5.5zM894 120h5.5v5.5h-5.5zM814 125h5.5v5.5h-5.5zM889 125h5.5v5.5h-5.5zM879 130h5.5v5.5h-5.5zM809 135h5.5v5.5h-5.5zM849 160h5.5v5.5h-5.5zM839 175h5.5v5.5h-5.5zM834 180h5.5v5.5h-5.5zM829 190h5.5v5.5h-5.5zM829 195h5.5v5.5h-5.5zM809 200h5.5v5.5h-5.5zM829 200h5.5v5.5h-5.5zM829 205h5.5v5.5h-5.5zM834 215h5.5v5.5h-5.5zM839 225h5.5v5.5h-5.5zM839 230h5.5v5.5h-5.5zM844 240h5.5v5.5h-5.5zM809 245h5.5v5.5h-5.5zM254 250h5.5v5.5h-5.5zM849 250h5.5v5.5h-5.5zM264 255h5.5v5.5h-5.5zM269 260h5.5v5.5h-5.5zM699 265h5.5v5.5h-5.5zM699 270h5.5v5.5h-5.5zM719 270h5.5v5.5h-5.5zM864 270h5.5v5.5h-5.5zM679 280h5.5v5.5h-5.5zM274 290h5.5v5.5h-5.5zM269 315h5.5v5.5h-5.5zM269 320h5.5v5.5h-5.5zM269 325h5.5v5.5h-5.5zM884 325h5.5v5.5h-5.5zM904 325h20.5v5.5h-20.5zM269 330h5.5v5.5h-5.5zM924 330h5.5v5.5h-5.5zM269 335h5.5v5.5h-5.5zM929 335h5.5v5.5h-5.5zM269 340h5.5v5.5h-5.5zM934 340h5.5v5.5h-5.5zM939 345h5.5v5.5h-5.5zM944 350h5.5v5.5h-5.5zM949 355h5.5v5.5h-5.5zM949 360h5.5v5.5h-5.5zM274 370h5.5v5.5h-5.5zM954 370h5.5v5.5h-5.5zM274 375h5.5v5.5h-5.5zM954 375h5.5v5.5h-5.5zM279 380h5.5v5.5h-5.5zM954 380h5.5v5.5h-5.5zM279 385h5.5v5.5h-5.5zM959 385h5.5v5.5h-5.5zM279 390h5.5v5.5h-5.5zM964 390h20.5v5.5h-20.5zM279 395h10.5v5.5h-10.5zM969 395h15.5v5.5h-15.5zM284 400h5.5v5.5h-5.5zM969 400h15.5v5.5h-15.5zM289 405h5.5v5.5h-5.5zM964 405h20.5v5.5h-20.5zM289 410h5.5v5.5h-5.5zM959 410h5.5v5.5h-5.5zM294 415h5.5v5.5h-5.5zM954 415h5.5v5.5h-5.5zM294 420h5.5v5.5h-5.5zM299 425h5.5v5.5h-5.5zM299 430h5.5v5.5h-5.5zM304 435h5.5v5.5h-5.5zM954 435h5.5v5.5h-5.5zM304 440h5.5v5.5h-5.5zM954 440h5.5v5.5h-5.5zM309 445h5.5v5.5h-5.5zM954 445h5.5v5.5h-5.5zM309 450h5.5v5.5h-5.5zM309 455h5.5v5.5h-5.5zM949 455h5.5v5.5h-5.5zM309 460h5.5v5.5h-5.5zM944 460h5.5v5.5h-5.5zM309 465h5.5v5.5h-5.5zM934 465h5.5v5.5h-5.5zM309 470h5.5v5.5h-5.5zM914 470h5.5v5.5h-5.5zM309 475h5.5v5.5h-5.5zM419 475h25.5v5.5h-25.5zM459 475h15.5v5.5h-15.5zM504 475h5.5v5.5h-5.5zM899 475h5.5v5.5h-5.5zM314 480h5.5v5.5h-5.5zM409 480h5.5v5.5h-5.5zM554 480h5.5v5.5h-5.5zM894 480h5.5v5.5h-5.5zM314 485h5.5v5.5h-5.5zM404 485h5.5v5.5h-5.5zM564 485h5.5v5.5h-5.5zM894 485h5.5v5.5h-5.5zM319 490h5.5v5.5h-5.5zM399 490h5.5v5.5h-5.5zM324 495h10.5v5.5h-10.5zM394 495h5.5v5.5h-5.5zM579 495h5.5v5.5h-5.5zM334 500h30.5v5.5h-30.5zM389 500h5.5v5.5h-5.5zM584 500h5.5v5.5h-5.5zM344 505h30.5v5.5h-30.5zM384 505h10.5v5.5h-10.5zM584 505h5.5v5.5h-5.5zM369 510h25.5v5.5h-25.5zM374 515h20.5v5.5h-20.5zM584 515h5.5v5.5h-5.5zM379 520h15.5v5.5h-15.5zM584 520h5.5v5.5h-5.5zM934 520h5.5v5.5h-5.5zM379 525h15.5v5.5h-15.5zM579 525h5.5v5.5h-5.5zM949 525h5.5v5.5h-5.5zM379 530h20.5v5.5h-20.5zM964 530h5.5v5.5h-5.5zM379 535h10.5v5.5h-10.5zM379 540h5.5v5.5h-5.5zM399 540h5.5v5.5h-5.5zM379 545h10.5v5.5h-10.5zM399 545h5.5v5.5h-5.5zM434 545h5.5v5.5h-5.5zM384 550h20.5v5.5h-20.5zM389 555h20.5v5.5h-20.5zM414 555h5.5v5.5h-5.5zM394 560h20.5v5.5h-20.5zM399 565h10.5v5.5h-10.5zM399 570h10.5v5.5h-10.5zM399 575h10.5v5.5h-10.5zM399 580h5.5v5.5h-5.5zM399 585h5.5v5.5h-5.5zM404 600h5.5v5.5h-5.5zM739 615h25.5v5.5h-25.5zM729 620h5.5v5.5h-5.5zM769 620h5.5v5.5h-5.5zM719 625h5.5v5.5h-5.5zM774 625h5.5v5.5h-5.5zM714 630h5.5v5.5h-5.5zM779 630h5.5v5.5h-5.5zM709 635h5.5v5.5h-5.5zM784 635h5.5v5.5h-5.5zM704 640h5.5v5.5h-5.5zM789 640h5.5v5.5h-5.5zM894 640h15.5v5.5h-15.5zM699 645h5.5v5.5h-5.5zM874 645h10.5v5.5h-10.5zM694 650h5.5v5.5h-5.5zM794 650h5.5v5.5h-5.5zM864 650h5.5v5.5h-5.5zM684 655h10.5v5.5h-10.5zM799 655h5.5v5.5h-5.5zM859 655h5.5v5.5h-5.5zM679 660h10.5v5.5h-10.5zM804 660h5.5v5.5h-5.5zM854 660h5.5v5.5h-5.5zM684 665h5.5v5.5h-5.5zM809 665h5.5v5.5h-5.5zM849 665h5.5v5.5h-5.5zM689 670h10.5v5.5h-10.5zM814 670h10.5v5.5h-10.5zM819 675h5.5v5.5h-5.5zM819 680h5.5v5.5h-5.5z"/><path fill="#ffee00" d="M864 65h5.5v5.5h-5.5zM864 70h5.5v5.5h-5.5zM924 70h5.5v5.5h-5.5zM859 75h5.5v5.5h-5.5zM854 85h5.5v5.5h-5.5zM849 90h5.5v5.5h-5.5zM929 90h5.5v5.5h-5.5zM844 95h5.5v5.5h-5.5zM769 100h5.5v5.5h-5.5zM839 100h5.5v5.5h-5.5zM914 100h5.5v5.5h-5.5zM829 105h5.5v5.5h-5.5zM909 105h5.5v5.5h-5.5zM769 110h5.5v5.5h-5.5zM904 110h5.5v5.5h-5.5zM764 115h5.5v5.5h-5.5zM819 115h5.5v5.5h-5.5zM899 115h5.5v5.5h-5.5zM884 125h5.5v5.5h-5.5zM874 130h5.5v5.5h-5.5zM869 135h5.5v5.5h-5.5zM864 140h5.5v5.5h-5.5zM859 145h5.5v5.5h-5.5zM854 150h5.5v5.5h-5.5zM844 165h5.5v5.5h-5.5zM839 170h5.5v5.5h-5.5zM829 185h5.5v5.5h-5.5zM809 190h5.5v5.5h-5.5zM809 195h5.5v5.5h-5.5zM829 210h5.5v5.5h-5.5zM834 220h5.5v5.5h-5.5zM834 225h5.5v5.5h-5.5zM839 235h5.5v5.5h-5.5zM709 240h5.5v5.5h-5.5zM844 245h5.5v5.5h-5.5zM259 250h5.5v5.5h-5.5zM849 255h5.5v5.5h-5.5zM699 260h5.5v5.5h-5.5zM854 260h5.5v5.5h-5.5zM274 265h5.5v5.5h-5.5zM859 265h5.5v5.5h-5.5zM679 275h15.5v5.5h-15.5zM864 275h5.5v5.5h-5.5zM689 280h5.5v5.5h-5.5zM814 280h5.5v5.5h-5.5zM864 280h5.5v5.5h-5.5zM679 285h10.5v5.5h-10.5zM814 285h5.5v5.5h-5.5zM814 290h5.5v5.5h-5.5zM274 295h5.5v5.5h-5.5zM274 300h5.5v5.5h-5.5zM799 315h10.5v5.5h-10.5zM879 325h5.5v5.5h-5.5zM894 330h10.5v5.5h-10.5zM914 330h10.5v5.5h-10.5zM924 335h5.5v5.5h-5.5zM929 340h5.5v5.5h-5.5zM274 345h5.5v5.5h-5.5zM934 345h5.5v5.5h-5.5zM274 350h5.5v5.5h-5.5zM939 350h5.5v5.5h-5.5zM274 355h5.5v5.5h-5.5zM944 355h5.5v5.5h-5.5zM274 360h5.5v5.5h-5.5zM944 360h5.5v5.5h-5.5zM274 365h5.5v5.5h-5.5zM949 365h5.5v5.5h-5.5zM279 370h5.5v5.5h-5.5zM949 370h5.5v5.5h-5.5zM279 375h5.5v5.5h-5.5zM949 375h5.5v5.5h-5.5zM284 380h5.5v5.5h-5.5zM284 385h5.5v5.5h-5.5zM954 385h5.5v5.5h-5.5zM284 390h10.5v5.5h-10.5zM959 390h5.5v5.5h-5.5zM289 395h5.5v5.5h-5.5zM959 395h10.5v5.5h-10.5zM289 400h15.5v5.5h-15.5zM959 400h10.5v5.5h-10.5zM294 405h10.5v5.5h-10.5zM959 405h5.5v5.5h-5.5zM294 410h10.5v5.5h-10.5zM954 410h5.5v5.5h-5.5zM299 415h5.5v5.5h-5.5zM299 420h5.5v5.5h-5.5zM304 430h5.5v5.5h-5.5zM309 435h5.5v5.5h-5.5zM309 440h5.5v5.5h-5.5zM314 445h5.5v5.5h-5.5zM314 450h5.5v5.5h-5.5zM949 450h5.5v5.5h-5.5zM314 455h5.5v5.5h-5.5zM944 455h5.5v5.5h-5.5zM314 460h5.5v5.5h-5.5zM939 460h5.5v5.5h-5.5zM314 465h5.5v5.5h-5.5zM929 465h5.5v5.5h-5.5zM314 470h5.5v5.5h-5.5zM909 470h5.5v5.5h-5.5zM314 475h5.5v5.5h-5.5zM414 475h5.5v5.5h-5.5zM474 475h30.5v5.5h-30.5zM509 475h25.5v5.5h-25.5zM404 480h5.5v5.5h-5.5zM559 480h5.5v5.5h-5.5zM319 485h5.5v5.5h-5.5zM399 485h5.5v5.5h-5.5zM324 490h5.5v5.5h-5.5zM389 490h10.5v5.5h-10.5zM574 490h5.5v5.5h-5.5zM894 490h5.5v5.5h-5.5zM334 495h60.5v5.5h-60.5zM364 500h25.5v5.5h-25.5zM374 505h10.5v5.5h-10.5zM589 505h5.5v5.5h-5.5zM589 510h5.5v5.5h-5.5zM914 510h5.5v5.5h-5.5zM589 515h5.5v5.5h-5.5zM924 515h5.5v5.5h-5.5zM944 525h5.5v5.5h-5.5zM444 530h5.5v5.5h-5.5zM574 530h5.5v5.5h-5.5zM959 530h5.5v5.5h-5.5zM389 535h10.5v5.5h-10.5zM969 535h15.5v5.5h-15.5zM384 540h15.5v5.5h-15.5zM389 545h10.5v5.5h-10.5zM429 550h5.5v5.5h-5.5zM419 555h5.5v5.5h-5.5zM414 560h5.5v5.5h-5.5zM409 565h10.5v5.5h-10.5zM409 570h5.5v5.5h-5.5zM404 580h5.5v5.5h-5.5zM404 585h5.5v5.5h-5.5zM729 615h10.5v5.5h-10.5zM764 615h5.5v5.5h-5.5zM724 620h5.5v5.5h-5.5zM774 620h5.5v5.5h-5.5zM714 625h5.5v5.5h-5.5zM779 625h5.5v5.5h-5.5zM709 630h5.5v5.5h-5.5zM784 630h5.5v5.5h-5.5zM704 635h5.5v5.5h-5.5zM699 640h5.5v5.5h-5.5zM879 640h15.5v5.5h-15.5zM909 640h50.5v5.5h-50.5zM694 645h5.5v5.5h-5.5zM794 645h5.5v5.5h-5.5zM869 645h5.5v5.5h-5.5zM684 650h10.5v5.5h-10.5zM799 650h5.5v5.5h-5.5zM859 650h5.5v5.5h-5.5zM674 655h10.5v5.5h-10.5zM804 655h5.5v5.5h-5.5zM854 655h5.5v5.5h-5.5zM669 660h10.5v5.5h-10.5zM809 660h5.5v5.5h-5.5zM849 660h5.5v5.5h-5.5zM674 665h10.5v5.5h-10.5zM814 665h10.5v5.5h-10.5zM679 670h10.5v5.5h-10.5zM824 670h5.5v5.5h-5.5zM844 670h5.5v5.5h-5.5zM824 675h10.5v5.5h-10.5zM839 675h10.5v5.5h-10.5zM824 680h10.5v5.5h-10.5zM839 680h10.5v5.5h-10.5zM824 685h10.5v5.5h-10.5zM839 685h10.5v5.5h-10.5z"/><path fill="#ffe800" d="M869 65h5.5v5.5h-5.5zM864 75h5.5v5.5h-5.5zM859 80h5.5v5.5h-5.5zM929 80h5.5v5.5h-5.5zM929 85h5.5v5.5h-5.5zM914 95h10.5v5.5h-10.5zM909 100h5.5v5.5h-5.5zM769 105h5.5v5.5h-5.5zM824 110h5.5v5.5h-5.5zM759 120h5.5v5.5h-5.5zM889 120h5.5v5.5h-5.5zM879 125h5.5v5.5h-5.5zM809 140h5.5v5.5h-5.5zM849 155h5.5v5.5h-5.5zM844 160h5.5v5.5h-5.5zM839 165h5.5v5.5h-5.5zM834 175h5.5v5.5h-5.5zM809 180h5.5v5.5h-5.5zM829 180h5.5v5.5h-5.5zM809 185h5.5v5.5h-5.5zM824 195h5.5v5.5h-5.5zM824 200h5.5v5.5h-5.5zM824 205h5.5v5.5h-5.5zM814 210h5.5v5.5h-5.5zM814 215h5.5v5.5h-5.5zM829 215h5.5v5.5h-5.5zM814 220h5.5v5.5h-5.5zM829 220h5.5v5.5h-5.5zM814 225h5.5v5.5h-5.5zM814 230h5.5v5.5h-5.5zM834 230h5.5v5.5h-5.5zM709 235h5.5v5.5h-5.5zM839 240h5.5v5.5h-5.5zM249 245h5.5v5.5h-5.5zM704 250h5.5v5.5h-5.5zM844 250h5.5v5.5h-5.5zM854 265h5.5v5.5h-5.5zM279 270h5.5v5.5h-5.5zM694 270h5.5v5.5h-5.5zM859 270h5.5v5.5h-5.5zM279 275h5.5v5.5h-5.5zM694 275h10.5v5.5h-10.5zM814 275h5.5v5.5h-5.5zM279 280h5.5v5.5h-5.5zM674 280h5.5v5.5h-5.5zM279 285h5.5v5.5h-5.5zM864 285h5.5v5.5h-5.5zM814 295h5.5v5.5h-5.5zM814 300h5.5v5.5h-5.5zM274 305h5.5v5.5h-5.5zM274 310h5.5v5.5h-5.5zM274 315h5.5v5.5h-5.5zM794 315h5.5v5.5h-5.5zM809 315h5.5v5.5h-5.5zM274 320h5.5v5.5h-5.5zM869 320h5.5v5.5h-5.5zM274 325h5.5v5.5h-5.5zM874 325h5.5v5.5h-5.5zM274 330h5.5v5.5h-5.5zM884 330h10.5v5.5h-10.5zM904 330h10.5v5.5h-10.5zM274 335h5.5v5.5h-5.5zM919 335h5.5v5.5h-5.5zM274 340h5.5v5.5h-5.5zM924 340h5.5v5.5h-5.5zM929 345h5.5v5.5h-5.5zM934 350h5.5v5.5h-5.5zM939 355h5.5v5.5h-5.5zM279 360h5.5v5.5h-5.5zM939 360h5.5v5.5h-5.5zM279 365h5.5v5.5h-5.5zM944 365h5.5v5.5h-5.5zM284 370h5.5v5.5h-5.5zM944 370h5.5v5.5h-5.5zM284 375h5.5v5.5h-5.5zM289 380h5.5v5.5h-5.5zM949 380h5.5v5.5h-5.5zM289 385h5.5v5.5h-5.5zM949 385h5.5v5.5h-5.5zM294 390h5.5v5.5h-5.5zM954 390h5.5v5.5h-5.5zM294 395h20.5v5.5h-20.5zM954 395h5.5v5.5h-5.5zM304 400h15.5v5.5h-15.5zM954 400h5.5v5.5h-5.5zM304 405h15.5v5.5h-15.5zM954 405h5.5v5.5h-5.5zM304 410h10.5v5.5h-10.5zM304 415h5.5v5.5h-5.5zM949 415h5.5v5.5h-5.5zM304 420h5.5v5.5h-5.5zM949 420h5.5v5.5h-5.5zM304 425h5.5v5.5h-5.5zM949 425h5.5v5.5h-5.5zM309 430h5.5v5.5h-5.5zM949 430h5.5v5.5h-5.5zM314 435h5.5v5.5h-5.5zM949 435h5.5v5.5h-5.5zM314 440h5.5v5.5h-5.5zM949 440h5.5v5.5h-5.5zM319 445h5.5v5.5h-5.5zM949 445h5.5v5.5h-5.5zM319 450h5.5v5.5h-5.5zM319 455h5.5v5.5h-5.5zM319 460h5.5v5.5h-5.5zM934 460h5.5v5.5h-5.5zM319 465h5.5v5.5h-5.5zM919 465h10.5v5.5h-10.5zM319 470h5.5v5.5h-5.5zM904 470h5.5v5.5h-5.5zM319 475h5.5v5.5h-5.5zM404 475h10.5v5.5h-10.5zM534 475h15.5v5.5h-15.5zM894 475h5.5v5.5h-5.5zM319 480h5.5v5.5h-5.5zM394 480h10.5v5.5h-10.5zM324 485h5.5v5.5h-5.5zM359 485h40.5v5.5h-40.5zM569 485h5.5v5.5h-5.5zM329 490h60.5v5.5h-60.5zM579 490h5.5v5.5h-5.5zM584 495h5.5v5.5h-5.5zM589 500h5.5v5.5h-5.5zM899 500h5.5v5.5h-5.5zM904 505h5.5v5.5h-5.5zM919 515h5.5v5.5h-5.5zM589 520h5.5v5.5h-5.5zM929 520h5.5v5.5h-5.5zM584 525h5.5v5.5h-5.5zM939 525h5.5v5.5h-5.5zM954 530h5.5v5.5h-5.5zM569 535h5.5v5.5h-5.5zM964 535h5.5v5.5h-5.5zM564 540h5.5v5.5h-5.5zM559 545h5.5v5.5h-5.5zM554 550h5.5v5.5h-5.5zM424 555h5.5v5.5h-5.5zM419 560h5.5v5.5h-5.5zM414 570h5.5v5.5h-5.5zM409 575h5.5v5.5h-5.5zM409 580h5.5v5.5h-5.5zM404 590h5.5v5.5h-5.5zM404 595h5.5v5.5h-5.5zM414 605h5.5v5.5h-5.5zM739 610h25.5v5.5h-25.5zM724 615h5.5v5.5h-5.5zM769 615h5.5v5.5h-5.5zM719 620h5.5v5.5h-5.5zM709 625h5.5v5.5h-5.5zM704 630h5.5v5.5h-5.5zM699 635h5.5v5.5h-5.5zM789 635h5.5v5.5h-5.5zM894 635h15.5v5.5h-15.5zM694 640h5.5v5.5h-5.5zM794 640h5.5v5.5h-5.5zM874 640h5.5v5.5h-5.5zM959 640h25.5v5.5h-25.5zM689 645h5.5v5.5h-5.5zM799 645h5.5v5.5h-5.5zM864 645h5.5v5.5h-5.5zM679 650h5.5v5.5h-5.5zM804 650h5.5v5.5h-5.5zM659 655h15.5v5.5h-15.5zM809 655h5.5v5.5h-5.5zM654 660h15.5v5.5h-15.5zM814 660h5.5v5.5h-5.5zM664 665h10.5v5.5h-10.5zM824 665h5.5v5.5h-5.5zM844 665h5.5v5.5h-5.5zM674 670h5.5v5.5h-5.5zM829 670h15.5v5.5h-15.5zM834 675h5.5v5.5h-5.5zM834 680h5.5v5.5h-5.5zM834 685h5.5v5.5h-5.5z"/><path fill="#ffe100" d="M919 65h5.5v5.5h-5.5zM869 70h5.5v5.5h-5.5zM869 75h5.5v5.5h-5.5zM924 75h5.5v5.5h-5.5zM864 80h5.5v5.5h-5.5zM859 85h5.5v5.5h-5.5zM854 90h5.5v5.5h-5.5zM924 90h5.5v5.5h-5.5zM849 95h5.5v5.5h-5.5zM844 100h5.5v5.5h-5.5zM834 105h5.5v5.5h-5.5zM904 105h5.5v5.5h-5.5zM899 110h5.5v5.5h-5.5zM894 115h5.5v5.5h-5.5zM819 120h5.5v5.5h-5.5zM884 120h5.5v5.5h-5.5zM814 130h5.5v5.5h-5.5zM869 130h5.5v5.5h-5.5zM864 135h5.5v5.5h-5.5zM859 140h5.5v5.5h-5.5zM809 145h5.5v5.5h-5.5zM854 145h5.5v5.5h-5.5zM834 170h5.5v5.5h-5.5zM809 175h5.5v5.5h-5.5zM824 185h5.5v5.5h-5.5zM824 190h5.5v5.5h-5.5zM814 195h5.5v5.5h-5.5zM814 200h10.5v5.5h-10.5zM814 205h10.5v5.5h-10.5zM819 210h10.5v5.5h-10.5zM709 215h5.5v5.5h-5.5zM819 215h10.5v5.5h-10.5zM709 220h5.5v5.5h-5.5zM819 220h10.5v5.5h-10.5zM709 225h5.5v5.5h-5.5zM819 225h15.5v5.5h-15.5zM709 230h5.5v5.5h-5.5zM829 230h5.5v5.5h-5.5zM814 235h5.5v5.5h-5.5zM834 235h5.5v5.5h-5.5zM834 240h5.5v5.5h-5.5zM254 245h10.5v5.5h-10.5zM839 245h5.5v5.5h-5.5zM264 250h5.5v5.5h-5.5zM269 255h5.5v5.5h-5.5zM844 255h5.5v5.5h-5.5zM274 260h5.5v5.5h-5.5zM849 260h5.5v5.5h-5.5zM694 265h5.5v5.5h-5.5zM814 270h5.5v5.5h-5.5zM674 275h5.5v5.5h-5.5zM704 275h10.5v5.5h-10.5zM859 275h5.5v5.5h-5.5zM694 280h5.5v5.5h-5.5zM689 285h5.5v5.5h-5.5zM279 290h5.5v5.5h-5.5zM864 290h5.5v5.5h-5.5zM814 305h5.5v5.5h-5.5zM864 310h5.5v5.5h-5.5zM879 330h5.5v5.5h-5.5zM884 335h35.5v5.5h-35.5zM919 340h5.5v5.5h-5.5zM279 345h5.5v5.5h-5.5zM924 345h5.5v5.5h-5.5zM279 350h5.5v5.5h-5.5zM929 350h5.5v5.5h-5.5zM279 355h5.5v5.5h-5.5zM934 355h5.5v5.5h-5.5zM284 360h5.5v5.5h-5.5zM284 365h5.5v5.5h-5.5zM939 365h5.5v5.5h-5.5zM289 370h5.5v5.5h-5.5zM939 370h5.5v5.5h-5.5zM289 375h5.5v5.5h-5.5zM944 375h5.5v5.5h-5.5zM294 380h5.5v5.5h-5.5zM944 380h5.5v5.5h-5.5zM294 385h10.5v5.5h-10.5zM299 390h20.5v5.5h-20.5zM949 390h5.5v5.5h-5.5zM314 395h10.5v5.5h-10.5zM949 395h5.5v5.5h-5.5zM319 400h10.5v5.5h-10.5zM319 405h5.5v5.5h-5.5zM314 410h10.5v5.5h-10.5zM949 410h5.5v5.5h-5.5zM309 415h10.5v5.5h-10.5zM309 420h5.5v5.5h-5.5zM309 425h10.5v5.5h-10.5zM314 430h5.5v5.5h-5.5zM319 435h5.5v5.5h-5.5zM319 440h10.5v5.5h-10.5zM324 445h5.5v5.5h-5.5zM324 450h10.5v5.5h-10.5zM944 450h5.5v5.5h-5.5zM324 455h10.5v5.5h-10.5zM939 455h5.5v5.5h-5.5zM324 460h5.5v5.5h-5.5zM929 460h5.5v5.5h-5.5zM324 465h5.5v5.5h-5.5zM914 465h5.5v5.5h-5.5zM324 470h5.5v5.5h-5.5zM409 470h40.5v5.5h-40.5zM899 470h5.5v5.5h-5.5zM324 475h5.5v5.5h-5.5zM394 475h10.5v5.5h-10.5zM549 475h5.5v5.5h-5.5zM324 480h5.5v5.5h-5.5zM354 480h40.5v5.5h-40.5zM564 480h5.5v5.5h-5.5zM889 480h5.5v5.5h-5.5zM329 485h30.5v5.5h-30.5zM589 495h5.5v5.5h-5.5zM894 495h5.5v5.5h-5.5zM594 500h5.5v5.5h-5.5zM594 505h5.5v5.5h-5.5zM594 510h5.5v5.5h-5.5zM909 510h5.5v5.5h-5.5zM594 515h5.5v5.5h-5.5zM934 525h5.5v5.5h-5.5zM464 530h5.5v5.5h-5.5zM579 530h5.5v5.5h-5.5zM949 530h5.5v5.5h-5.5zM959 535h5.5v5.5h-5.5zM439 540h5.5v5.5h-5.5zM434 550h5.5v5.5h-5.5zM419 565h5.5v5.5h-5.5zM419 570h5.5v5.5h-5.5zM414 575h5.5v5.5h-5.5zM409 585h5.5v5.5h-5.5zM409 600h5.5v5.5h-5.5zM729 610h10.5v5.5h-10.5zM764 610h5.5v5.5h-5.5zM719 615h5.5v5.5h-5.5zM774 615h5.5v5.5h-5.5zM714 620h5.5v5.5h-5.5zM779 620h5.5v5.5h-5.5zM704 625h5.5v5.5h-5.5zM784 625h5.5v5.5h-5.5zM699 630h5.5v5.5h-5.5zM789 630h5.5v5.5h-5.5zM694 635h5.5v5.5h-5.5zM794 635h5.5v5.5h-5.5zM879 635h15.5v5.5h-15.5zM909 635h15.5v5.5h-15.5zM689 640h5.5v5.5h-5.5zM799 640h5.5v5.5h-5.5zM869 640h5.5v5.5h-5.5zM679 645h10.5v5.5h-10.5zM804 645h5.5v5.5h-5.5zM859 645h5.5v5.5h-5.5zM664 650h15.5v5.5h-15.5zM809 650h5.5v5.5h-5.5zM854 650h5.5v5.5h-5.5zM649 655h10.5v5.5h-10.5zM814 655h5.5v5.5h-5.5zM849 655h5.5v5.5h-5.5zM649 660h5.5v5.5h-5.5zM819 660h10.5v5.5h-10.5zM844 660h5.5v5.5h-5.5zM654 665h10.5v5.5h-10.5zM829 665h15.5v5.5h-15.5zM664 670h10.5v5.5h-10.5z"/><path fill="#ffdb00" d="M874 65h5.5v5.5h-5.5zM919 70h5.5v5.5h-5.5zM869 80h5.5v5.5h-5.5zM924 80h5.5v5.5h-5.5zM864 85h5.5v5.5h-5.5zM859 90h5.5v5.5h-5.5zM914 90h10.5v5.5h-10.5zM854 95h5.5v5.5h-5.5zM909 95h5.5v5.5h-5.5zM904 100h5.5v5.5h-5.5zM889 115h5.5v5.5h-5.5zM874 125h5.5v5.5h-5.5zM849 150h5.5v5.5h-5.5zM844 155h5.5v5.5h-5.5zM839 160h5.5v5.5h-5.5zM834 165h5.5v5.5h-5.5zM809 170h5.5v5.5h-5.5zM829 175h5.5v5.5h-5.5zM824 180h5.5v5.5h-5.5zM814 190h10.5v5.5h-10.5zM819 195h5.5v5.5h-5.5zM819 230h10.5v5.5h-10.5zM829 235h5.5v5.5h-5.5zM259 240h5.5v5.5h-5.5zM814 240h5.5v5.5h-5.5zM264 245h5.5v5.5h-5.5zM704 245h5.5v5.5h-5.5zM834 245h5.5v5.5h-5.5zM839 250h5.5v5.5h-5.5zM699 255h5.5v5.5h-5.5zM844 260h5.5v5.5h-5.5zM279 265h5.5v5.5h-5.5zM814 265h5.5v5.5h-5.5zM849 265h5.5v5.5h-5.5zM679 270h5.5v5.5h-5.5zM689 270h5.5v5.5h-5.5zM854 270h5.5v5.5h-5.5zM284 275h5.5v5.5h-5.5zM714 275h5.5v5.5h-5.5zM284 280h5.5v5.5h-5.5zM859 280h5.5v5.5h-5.5zM674 285h5.5v5.5h-5.5zM279 295h5.5v5.5h-5.5zM864 295h5.5v5.5h-5.5zM279 300h5.5v5.5h-5.5zM864 300h5.5v5.5h-5.5zM279 305h5.5v5.5h-5.5zM864 305h5.5v5.5h-5.5zM814 310h5.5v5.5h-5.5zM864 315h5.5v5.5h-5.5zM869 325h5.5v5.5h-5.5zM279 330h5.5v5.5h-5.5zM874 330h5.5v5.5h-5.5zM279 335h5.5v5.5h-5.5zM879 335h5.5v5.5h-5.5zM279 340h5.5v5.5h-5.5zM884 340h35.5v5.5h-35.5zM284 350h5.5v5.5h-5.5zM284 355h5.5v5.5h-5.5zM929 355h5.5v5.5h-5.5zM289 360h5.5v5.5h-5.5zM934 360h5.5v5.5h-5.5zM289 365h5.5v5.5h-5.5zM934 365h5.5v5.5h-5.5zM294 370h5.5v5.5h-5.5zM294 375h5.5v5.5h-5.5zM939 375h5.5v5.5h-5.5zM299 380h5.5v5.5h-5.5zM304 385h10.5v5.5h-10.5zM944 385h5.5v5.5h-5.5zM319 390h5.5v5.5h-5.5zM944 390h5.5v5.5h-5.5zM324 395h10.5v5.5h-10.5zM329 400h5.5v5.5h-5.5zM949 400h5.5v5.5h-5.5zM324 405h10.5v5.5h-10.5zM949 405h5.5v5.5h-5.5zM324 410h5.5v5.5h-5.5zM319 415h5.5v5.5h-5.5zM944 415h5.5v5.5h-5.5zM314 420h10.5v5.5h-10.5zM944 420h5.5v5.5h-5.5zM319 425h5.5v5.5h-5.5zM944 425h5.5v5.5h-5.5zM319 430h5.5v5.5h-5.5zM944 430h5.5v5.5h-5.5zM324 435h5.5v5.5h-5.5zM944 435h5.5v5.5h-5.5zM329 440h5.5v5.5h-5.5zM944 440h5.5v5.5h-5.5zM329 445h10.5v5.5h-10.5zM944 445h5.5v5.5h-5.5zM334 450h5.5v5.5h-5.5zM939 450h5.5v5.5h-5.5zM334 455h5.5v5.5h-5.5zM934 455h5.5v5.5h-5.5zM329 460h5.5v5.5h-5.5zM924 460h5.5v5.5h-5.5zM329 465h5.5v5.5h-5.5zM909 465h5.5v5.5h-5.5zM329 470h5.5v5.5h-5.5zM394 470h15.5v5.5h-15.5zM449 470h15.5v5.5h-15.5zM894 470h5.5v5.5h-5.5zM329 475h5.5v5.5h-5.5zM354 475h40.5v5.5h-40.5zM554 475h5.5v5.5h-5.5zM889 475h5.5v5.5h-5.5zM329 480h25.5v5.5h-25.5zM574 485h5.5v5.5h-5.5zM889 485h5.5v5.5h-5.5zM584 490h5.5v5.5h-5.5zM594 495h5.5v5.5h-5.5zM599 505h5.5v5.5h-5.5zM599 510h5.5v5.5h-5.5zM599 515h5.5v5.5h-5.5zM914 515h5.5v5.5h-5.5zM594 520h5.5v5.5h-5.5zM924 520h5.5v5.5h-5.5zM589 525h5.5v5.5h-5.5zM584 530h5.5v5.5h-5.5zM944 530h5.5v5.5h-5.5zM574 535h5.5v5.5h-5.5zM954 535h5.5v5.5h-5.5zM569 540h5.5v5.5h-5.5zM969 540h15.5v5.5h-15.5zM564 545h5.5v5.5h-5.5zM559 550h5.5v5.5h-5.5zM429 555h5.5v5.5h-5.5zM549 555h5.5v5.5h-5.5zM424 560h5.5v5.5h-5.5zM424 565h5.5v5.5h-5.5zM424 570h5.5v5.5h-5.5zM419 575h5.5v5.5h-5.5zM414 580h5.5v5.5h-5.5zM409 590h5.5v5.5h-5.5zM419 605h5.5v5.5h-5.5zM739 605h25.5v5.5h-25.5zM724 610h5.5v5.5h-5.5zM769 610h5.5v5.5h-5.5zM714 615h5.5v5.5h-5.5zM779 615h5.5v5.5h-5.5zM709 620h5.5v5.5h-5.5zM784 620h5.5v5.5h-5.5zM699 625h5.5v5.5h-5.5zM789 625h5.5v5.5h-5.5zM694 630h5.5v5.5h-5.5zM794 630h5.5v5.5h-5.5zM889 630h25.5v5.5h-25.5zM689 635h5.5v5.5h-5.5zM874 635h5.5v5.5h-5.5zM924 635h35.5v5.5h-35.5zM524 640h10.5v5.5h-10.5zM684 640h5.5v5.5h-5.5zM859 640h10.5v5.5h-10.5zM524 645h20.5v5.5h-20.5zM574 645h20.5v5.5h-20.5zM669 645h10.5v5.5h-10.5zM854 645h5.5v5.5h-5.5zM529 650h75.5v5.5h-75.5zM654 650h10.5v5.5h-10.5zM814 650h5.5v5.5h-5.5zM849 650h5.5v5.5h-5.5zM534 655h95.5v5.5h-95.5zM644 655h5.5v5.5h-5.5zM819 655h5.5v5.5h-5.5zM844 655h5.5v5.5h-5.5zM539 660h65.5v5.5h-65.5zM829 660h15.5v5.5h-15.5z"/><path fill="#ffd500" d="M874 70h5.5v5.5h-5.5zM874 75h5.5v5.5h-5.5zM919 75h5.5v5.5h-5.5zM869 85h5.5v5.5h-5.5zM919 85h10.5v5.5h-10.5zM864 90h5.5v5.5h-5.5zM909 90h5.5v5.5h-5.5zM849 100h5.5v5.5h-5.5zM839 105h5.5v5.5h-5.5zM899 105h5.5v5.5h-5.5zM829 110h5.5v5.5h-5.5zM894 110h5.5v5.5h-5.5zM824 115h5.5v5.5h-5.5zM879 120h5.5v5.5h-5.5zM819 125h5.5v5.5h-5.5zM864 130h5.5v5.5h-5.5zM814 135h5.5v5.5h-5.5zM859 135h5.5v5.5h-5.5zM809 150h5.5v5.5h-5.5zM809 155h5.5v5.5h-5.5zM809 160h5.5v5.5h-5.5zM809 165h5.5v5.5h-5.5zM829 170h5.5v5.5h-5.5zM824 175h5.5v5.5h-5.5zM814 185h10.5v5.5h-10.5zM264 235h5.5v5.5h-5.5zM819 235h10.5v5.5h-10.5zM264 240h5.5v5.5h-5.5zM829 240h5.5v5.5h-5.5zM814 245h5.5v5.5h-5.5zM269 250h5.5v5.5h-5.5zM814 250h5.5v5.5h-5.5zM834 250h5.5v5.5h-5.5zM274 255h5.5v5.5h-5.5zM814 255h5.5v5.5h-5.5zM839 255h5.5v5.5h-5.5zM279 260h5.5v5.5h-5.5zM814 260h5.5v5.5h-5.5zM284 270h5.5v5.5h-5.5zM674 270h5.5v5.5h-5.5zM684 270h5.5v5.5h-5.5zM669 275h5.5v5.5h-5.5zM719 275h5.5v5.5h-5.5zM854 275h5.5v5.5h-5.5zM699 280h5.5v5.5h-5.5zM284 285h5.5v5.5h-5.5zM279 310h5.5v5.5h-5.5zM279 315h5.5v5.5h-5.5zM814 315h5.5v5.5h-5.5zM279 320h5.5v5.5h-5.5zM804 320h10.5v5.5h-10.5zM864 320h5.5v5.5h-5.5zM279 325h5.5v5.5h-5.5zM284 340h5.5v5.5h-5.5zM879 340h5.5v5.5h-5.5zM284 345h5.5v5.5h-5.5zM884 345h25.5v5.5h-25.5zM914 345h10.5v5.5h-10.5zM924 350h5.5v5.5h-5.5zM289 355h5.5v5.5h-5.5zM294 360h5.5v5.5h-5.5zM929 360h5.5v5.5h-5.5zM294 365h5.5v5.5h-5.5zM299 370h5.5v5.5h-5.5zM934 370h5.5v5.5h-5.5zM299 375h10.5v5.5h-10.5zM304 380h10.5v5.5h-10.5zM809 380h5.5v5.5h-5.5zM939 380h5.5v5.5h-5.5zM314 385h10.5v5.5h-10.5zM804 385h10.5v5.5h-10.5zM939 385h5.5v5.5h-5.5zM324 390h10.5v5.5h-10.5zM804 390h10.5v5.5h-10.5zM334 395h5.5v5.5h-5.5zM804 395h10.5v5.5h-10.5zM944 395h5.5v5.5h-5.5zM334 400h5.5v5.5h-5.5zM804 400h10.5v5.5h-10.5zM944 400h5.5v5.5h-5.5zM334 405h5.5v5.5h-5.5zM804 405h15.5v5.5h-15.5zM944 405h5.5v5.5h-5.5zM329 410h5.5v5.5h-5.5zM804 410h15.5v5.5h-15.5zM944 410h5.5v5.5h-5.5zM324 415h10.5v5.5h-10.5zM804 415h15.5v5.5h-15.5zM324 420h5.5v5.5h-5.5zM804 420h15.5v5.5h-15.5zM324 425h5.5v5.5h-5.5zM804 425h15.5v5.5h-15.5zM324 430h10.5v5.5h-10.5zM804 430h15.5v5.5h-15.5zM329 435h10.5v5.5h-10.5zM804 435h15.5v5.5h-15.5zM334 440h10.5v5.5h-10.5zM804 440h15.5v5.5h-15.5zM339 445h5.5v5.5h-5.5zM339 450h5.5v5.5h-5.5zM339 455h5.5v5.5h-5.5zM334 460h5.5v5.5h-5.5zM919 460h5.5v5.5h-5.5zM334 465h5.5v5.5h-5.5zM399 465h40.5v5.5h-40.5zM904 465h5.5v5.5h-5.5zM334 470h5.5v5.5h-5.5zM354 470h40.5v5.5h-40.5zM464 470h10.5v5.5h-10.5zM889 470h5.5v5.5h-5.5zM334 475h20.5v5.5h-20.5zM559 475h5.5v5.5h-5.5zM569 480h5.5v5.5h-5.5zM579 485h5.5v5.5h-5.5zM589 490h5.5v5.5h-5.5zM889 490h5.5v5.5h-5.5zM599 500h5.5v5.5h-5.5zM604 510h5.5v5.5h-5.5zM599 520h5.5v5.5h-5.5zM594 525h5.5v5.5h-5.5zM929 525h5.5v5.5h-5.5zM449 530h5.5v5.5h-5.5zM459 530h5.5v5.5h-5.5zM939 530h5.5v5.5h-5.5zM949 535h5.5v5.5h-5.5zM959 540h10.5v5.5h-10.5zM439 545h5.5v5.5h-5.5zM554 555h5.5v5.5h-5.5zM429 560h5.5v5.5h-5.5zM429 570h5.5v5.5h-5.5zM424 575h5.5v5.5h-5.5zM409 595h5.5v5.5h-5.5zM729 605h10.5v5.5h-10.5zM764 605h5.5v5.5h-5.5zM719 610h5.5v5.5h-5.5zM774 610h5.5v5.5h-5.5zM709 615h5.5v5.5h-5.5zM704 620h5.5v5.5h-5.5zM694 625h5.5v5.5h-5.5zM689 630h5.5v5.5h-5.5zM879 630h10.5v5.5h-10.5zM914 630h10.5v5.5h-10.5zM684 635h5.5v5.5h-5.5zM799 635h5.5v5.5h-5.5zM864 635h10.5v5.5h-10.5zM959 635h10.5v5.5h-10.5zM534 640h65.5v5.5h-65.5zM674 640h10.5v5.5h-10.5zM804 640h5.5v5.5h-5.5zM544 645h30.5v5.5h-30.5zM594 645h20.5v5.5h-20.5zM659 645h10.5v5.5h-10.5zM809 645h5.5v5.5h-5.5zM604 650h50.5v5.5h-50.5zM819 650h5.5v5.5h-5.5zM629 655h15.5v5.5h-15.5zM824 655h10.5v5.5h-10.5zM839 655h5.5v5.5h-5.5zM604 660h45.5v5.5h-45.5zM614 665h5.5v5.5h-5.5zM649 665h5.5v5.5h-5.5z"/><path fill="#ffcf00" d="M914 65h5.5v5.5h-5.5zM914 70h5.5v5.5h-5.5zM874 80h5.5v5.5h-5.5zM914 80h10.5v5.5h-10.5zM909 85h10.5v5.5h-10.5zM859 95h5.5v5.5h-5.5zM904 95h5.5v5.5h-5.5zM844 105h5.5v5.5h-5.5zM889 110h5.5v5.5h-5.5zM884 115h5.5v5.5h-5.5zM869 125h5.5v5.5h-5.5zM854 140h5.5v5.5h-5.5zM849 145h5.5v5.5h-5.5zM844 150h5.5v5.5h-5.5zM839 155h5.5v5.5h-5.5zM834 160h5.5v5.5h-5.5zM829 165h5.5v5.5h-5.5zM814 175h5.5v5.5h-5.5zM814 180h10.5v5.5h-10.5zM704 210h5.5v5.5h-5.5zM704 240h5.5v5.5h-5.5zM819 240h10.5v5.5h-10.5zM269 245h5.5v5.5h-5.5zM829 245h5.5v5.5h-5.5zM834 255h5.5v5.5h-5.5zM694 260h5.5v5.5h-5.5zM839 260h5.5v5.5h-5.5zM284 265h5.5v5.5h-5.5zM844 265h5.5v5.5h-5.5zM669 270h5.5v5.5h-5.5zM849 270h5.5v5.5h-5.5zM289 275h5.5v5.5h-5.5zM669 280h5.5v5.5h-5.5zM694 285h5.5v5.5h-5.5zM859 285h5.5v5.5h-5.5zM284 290h5.5v5.5h-5.5zM679 290h10.5v5.5h-10.5zM284 295h5.5v5.5h-5.5zM799 320h5.5v5.5h-5.5zM864 325h5.5v5.5h-5.5zM284 330h5.5v5.5h-5.5zM869 330h5.5v5.5h-5.5zM284 335h5.5v5.5h-5.5zM874 335h5.5v5.5h-5.5zM874 340h5.5v5.5h-5.5zM289 345h5.5v5.5h-5.5zM879 345h5.5v5.5h-5.5zM909 345h5.5v5.5h-5.5zM289 350h5.5v5.5h-5.5zM884 350h25.5v5.5h-25.5zM919 350h5.5v5.5h-5.5zM294 355h5.5v5.5h-5.5zM924 355h5.5v5.5h-5.5zM299 360h5.5v5.5h-5.5zM299 365h5.5v5.5h-5.5zM929 365h5.5v5.5h-5.5zM304 370h5.5v5.5h-5.5zM809 370h5.5v5.5h-5.5zM309 375h5.5v5.5h-5.5zM804 375h10.5v5.5h-10.5zM934 375h5.5v5.5h-5.5zM314 380h10.5v5.5h-10.5zM804 380h5.5v5.5h-5.5zM814 380h5.5v5.5h-5.5zM934 380h5.5v5.5h-5.5zM324 385h10.5v5.5h-10.5zM799 385h5.5v5.5h-5.5zM814 385h5.5v5.5h-5.5zM334 390h5.5v5.5h-5.5zM799 390h5.5v5.5h-5.5zM814 390h5.5v5.5h-5.5zM939 390h5.5v5.5h-5.5zM339 395h5.5v5.5h-5.5zM799 395h5.5v5.5h-5.5zM814 395h5.5v5.5h-5.5zM939 395h5.5v5.5h-5.5zM339 400h5.5v5.5h-5.5zM794 400h10.5v5.5h-10.5zM814 400h5.5v5.5h-5.5zM939 400h5.5v5.5h-5.5zM339 405h5.5v5.5h-5.5zM794 405h10.5v5.5h-10.5zM939 405h5.5v5.5h-5.5zM334 410h10.5v5.5h-10.5zM794 410h10.5v5.5h-10.5zM819 410h5.5v5.5h-5.5zM939 410h5.5v5.5h-5.5zM334 415h5.5v5.5h-5.5zM794 415h10.5v5.5h-10.5zM819 415h5.5v5.5h-5.5zM939 415h5.5v5.5h-5.5zM329 420h10.5v5.5h-10.5zM794 420h10.5v5.5h-10.5zM819 420h5.5v5.5h-5.5zM939 420h5.5v5.5h-5.5zM329 425h10.5v5.5h-10.5zM794 425h10.5v5.5h-10.5zM819 425h5.5v5.5h-5.5zM939 425h5.5v5.5h-5.5zM334 430h5.5v5.5h-5.5zM794 430h10.5v5.5h-10.5zM819 430h5.5v5.5h-5.5zM939 430h5.5v5.5h-5.5zM339 435h5.5v5.5h-5.5zM794 435h10.5v5.5h-10.5zM819 435h5.5v5.5h-5.5zM939 435h5.5v5.5h-5.5zM344 440h5.5v5.5h-5.5zM799 440h5.5v5.5h-5.5zM819 440h5.5v5.5h-5.5zM939 440h5.5v5.5h-5.5zM344 445h10.5v5.5h-10.5zM804 445h20.5v5.5h-20.5zM939 445h5.5v5.5h-5.5zM344 450h10.5v5.5h-10.5zM934 450h5.5v5.5h-5.5zM344 455h10.5v5.5h-10.5zM929 455h5.5v5.5h-5.5zM339 460h30.5v5.5h-30.5zM404 460h25.5v5.5h-25.5zM339 465h60.5v5.5h-60.5zM439 465h15.5v5.5h-15.5zM899 465h5.5v5.5h-5.5zM339 470h15.5v5.5h-15.5zM474 470h80.5v5.5h-80.5zM884 470h5.5v5.5h-5.5zM564 475h5.5v5.5h-5.5zM884 475h5.5v5.5h-5.5zM574 480h5.5v5.5h-5.5zM884 480h5.5v5.5h-5.5zM584 485h5.5v5.5h-5.5zM594 490h5.5v5.5h-5.5zM599 495h5.5v5.5h-5.5zM604 500h5.5v5.5h-5.5zM894 500h5.5v5.5h-5.5zM604 505h5.5v5.5h-5.5zM899 505h5.5v5.5h-5.5zM904 510h5.5v5.5h-5.5zM604 515h5.5v5.5h-5.5zM604 520h5.5v5.5h-5.5zM919 520h5.5v5.5h-5.5zM599 525h5.5v5.5h-5.5zM454 530h5.5v5.5h-5.5zM589 530h5.5v5.5h-5.5zM934 530h5.5v5.5h-5.5zM444 535h5.5v5.5h-5.5zM579 535h5.5v5.5h-5.5zM944 535h5.5v5.5h-5.5zM574 540h5.5v5.5h-5.5zM954 540h5.5v5.5h-5.5zM569 545h5.5v5.5h-5.5zM564 550h5.5v5.5h-5.5zM434 555h5.5v5.5h-5.5zM559 555h5.5v5.5h-5.5zM429 565h5.5v5.5h-5.5zM434 570h5.5v5.5h-5.5zM429 575h30.5v5.5h-30.5zM419 580h5.5v5.5h-5.5zM449 580h10.5v5.5h-10.5zM414 585h5.5v5.5h-5.5zM739 600h25.5v5.5h-25.5zM424 605h5.5v5.5h-5.5zM724 605h5.5v5.5h-5.5zM769 605h5.5v5.5h-5.5zM714 610h5.5v5.5h-5.5zM779 610h5.5v5.5h-5.5zM704 615h5.5v5.5h-5.5zM784 615h5.5v5.5h-5.5zM699 620h5.5v5.5h-5.5zM789 620h5.5v5.5h-5.5zM689 625h5.5v5.5h-5.5zM794 625h5.5v5.5h-5.5zM889 625h25.5v5.5h-25.5zM559 630h30.5v5.5h-30.5zM684 630h5.5v5.5h-5.5zM799 630h5.5v5.5h-5.5zM874 630h5.5v5.5h-5.5zM924 630h15.5v5.5h-15.5zM524 635h80.5v5.5h-80.5zM679 635h5.5v5.5h-5.5zM804 635h5.5v5.5h-5.5zM859 635h5.5v5.5h-5.5zM969 635h15.5v5.5h-15.5zM599 640h15.5v5.5h-15.5zM664 640h10.5v5.5h-10.5zM809 640h5.5v5.5h-5.5zM854 640h5.5v5.5h-5.5zM614 645h15.5v5.5h-15.5zM649 645h10.5v5.5h-10.5zM814 645h5.5v5.5h-5.5zM849 645h5.5v5.5h-5.5zM824 650h5.5v5.5h-5.5zM844 650h5.5v5.5h-5.5zM834 655h5.5v5.5h-5.5zM619 665h15.5v5.5h-15.5zM639 665h10.5v5.5h-10.5z"/><path fill="#ffc900" d="M879 65h5.5v5.5h-5.5zM909 65h5.5v5.5h-5.5zM879 70h5.5v5.5h-5.5zM879 75h5.5v5.5h-5.5zM914 75h5.5v5.5h-5.5zM909 80h5.5v5.5h-5.5zM874 85h5.5v5.5h-5.5zM869 90h5.5v5.5h-5.5zM904 90h5.5v5.5h-5.5zM864 95h5.5v5.5h-5.5zM854 100h5.5v5.5h-5.5zM899 100h5.5v5.5h-5.5zM894 105h5.5v5.5h-5.5zM834 110h5.5v5.5h-5.5zM879 115h5.5v5.5h-5.5zM824 120h5.5v5.5h-5.5zM874 120h5.5v5.5h-5.5zM864 125h5.5v5.5h-5.5zM819 130h5.5v5.5h-5.5zM859 130h5.5v5.5h-5.5zM814 140h5.5v5.5h-5.5zM814 170h5.5v5.5h-5.5zM824 170h5.5v5.5h-5.5zM819 175h5.5v5.5h-5.5zM689 195h5.5v5.5h-5.5zM694 200h5.5v5.5h-5.5zM699 205h5.5v5.5h-5.5zM704 215h5.5v5.5h-5.5zM269 235h5.5v5.5h-5.5zM704 235h5.5v5.5h-5.5zM269 240h5.5v5.5h-5.5zM819 245h10.5v5.5h-10.5zM274 250h5.5v5.5h-5.5zM699 250h5.5v5.5h-5.5zM829 250h5.5v5.5h-5.5zM279 255h5.5v5.5h-5.5zM674 265h5.5v5.5h-5.5zM689 265h5.5v5.5h-5.5zM839 265h5.5v5.5h-5.5zM289 270h5.5v5.5h-5.5zM819 270h5.5v5.5h-5.5zM844 270h5.5v5.5h-5.5zM819 275h5.5v5.5h-5.5zM849 275h5.5v5.5h-5.5zM289 280h5.5v5.5h-5.5zM704 280h5.5v5.5h-5.5zM819 280h5.5v5.5h-5.5zM854 280h5.5v5.5h-5.5zM289 285h5.5v5.5h-5.5zM669 285h5.5v5.5h-5.5zM819 285h5.5v5.5h-5.5zM819 290h5.5v5.5h-5.5zM859 290h5.5v5.5h-5.5zM819 295h5.5v5.5h-5.5zM284 300h5.5v5.5h-5.5zM819 300h5.5v5.5h-5.5zM284 305h5.5v5.5h-5.5zM819 305h5.5v5.5h-5.5zM284 310h5.5v5.5h-5.5zM819 310h5.5v5.5h-5.5zM859 310h5.5v5.5h-5.5zM284 315h5.5v5.5h-5.5zM859 315h5.5v5.5h-5.5zM284 320h5.5v5.5h-5.5zM794 320h5.5v5.5h-5.5zM814 320h5.5v5.5h-5.5zM859 320h5.5v5.5h-5.5zM284 325h5.5v5.5h-5.5zM809 325h5.5v5.5h-5.5zM864 330h5.5v5.5h-5.5zM289 335h5.5v5.5h-5.5zM869 335h5.5v5.5h-5.5zM289 340h5.5v5.5h-5.5zM294 345h5.5v5.5h-5.5zM874 345h5.5v5.5h-5.5zM294 350h5.5v5.5h-5.5zM879 350h5.5v5.5h-5.5zM909 350h10.5v5.5h-10.5zM299 355h5.5v5.5h-5.5zM884 355h25.5v5.5h-25.5zM919 355h5.5v5.5h-5.5zM304 360h5.5v5.5h-5.5zM809 360h5.5v5.5h-5.5zM924 360h5.5v5.5h-5.5zM304 365h5.5v5.5h-5.5zM804 365h15.5v5.5h-15.5zM309 370h5.5v5.5h-5.5zM804 370h5.5v5.5h-5.5zM814 370h5.5v5.5h-5.5zM929 370h5.5v5.5h-5.5zM314 375h10.5v5.5h-10.5zM799 375h5.5v5.5h-5.5zM814 375h5.5v5.5h-5.5zM324 380h5.5v5.5h-5.5zM799 380h5.5v5.5h-5.5zM334 385h5.5v5.5h-5.5zM794 385h5.5v5.5h-5.5zM934 385h5.5v5.5h-5.5zM339 390h5.5v5.5h-5.5zM794 390h5.5v5.5h-5.5zM819 390h5.5v5.5h-5.5zM934 390h5.5v5.5h-5.5zM344 395h5.5v5.5h-5.5zM794 395h5.5v5.5h-5.5zM819 395h5.5v5.5h-5.5zM934 395h5.5v5.5h-5.5zM344 400h5.5v5.5h-5.5zM789 400h5.5v5.5h-5.5zM819 400h5.5v5.5h-5.5zM934 400h5.5v5.5h-5.5zM344 405h5.5v5.5h-5.5zM789 405h5.5v5.5h-5.5zM819 405h5.5v5.5h-5.5zM934 405h5.5v5.5h-5.5zM789 410h5.5v5.5h-5.5zM934 410h5.5v5.5h-5.5zM339 415h5.5v5.5h-5.5zM789 415h5.5v5.5h-5.5zM934 415h5.5v5.5h-5.5zM339 420h5.5v5.5h-5.5zM789 420h5.5v5.5h-5.5zM824 420h5.5v5.5h-5.5zM934 420h5.5v5.5h-5.5zM339 425h5.5v5.5h-5.5zM789 425h5.5v5.5h-5.5zM824 425h5.5v5.5h-5.5zM339 430h10.5v5.5h-10.5zM789 430h5.5v5.5h-5.5zM824 430h5.5v5.5h-5.5zM344 435h10.5v5.5h-10.5zM789 435h5.5v5.5h-5.5zM824 435h5.5v5.5h-5.5zM349 440h10.5v5.5h-10.5zM789 440h10.5v5.5h-10.5zM824 440h5.5v5.5h-5.5zM354 445h5.5v5.5h-5.5zM794 445h10.5v5.5h-10.5zM824 445h5.5v5.5h-5.5zM934 445h5.5v5.5h-5.5zM354 450h10.5v5.5h-10.5zM804 450h20.5v5.5h-20.5zM354 455h20.5v5.5h-20.5zM404 455h20.5v5.5h-20.5zM924 455h5.5v5.5h-5.5zM369 460h35.5v5.5h-35.5zM429 460h15.5v5.5h-15.5zM914 460h5.5v5.5h-5.5zM454 465h10.5v5.5h-10.5zM894 465h5.5v5.5h-5.5zM554 470h10.5v5.5h-10.5zM569 475h5.5v5.5h-5.5zM579 480h5.5v5.5h-5.5zM589 485h5.5v5.5h-5.5zM884 485h5.5v5.5h-5.5zM599 490h5.5v5.5h-5.5zM604 495h5.5v5.5h-5.5zM889 495h5.5v5.5h-5.5zM609 500h5.5v5.5h-5.5zM609 505h5.5v5.5h-5.5zM609 510h5.5v5.5h-5.5zM609 515h5.5v5.5h-5.5zM909 515h5.5v5.5h-5.5zM609 520h5.5v5.5h-5.5zM924 525h5.5v5.5h-5.5zM594 530h5.5v5.5h-5.5zM584 535h5.5v5.5h-5.5zM939 535h5.5v5.5h-5.5zM964 545h20.5v5.5h-20.5zM434 560h5.5v5.5h-5.5zM549 560h10.5v5.5h-10.5zM434 565h5.5v5.5h-5.5zM439 570h10.5v5.5h-10.5zM424 580h25.5v5.5h-25.5zM414 590h5.5v5.5h-5.5zM414 600h5.5v5.5h-5.5zM729 600h10.5v5.5h-10.5zM764 600h5.5v5.5h-5.5zM534 605h10.5v5.5h-10.5zM714 605h10.5v5.5h-10.5zM774 605h5.5v5.5h-5.5zM534 610h10.5v5.5h-10.5zM709 610h5.5v5.5h-5.5zM699 615h5.5v5.5h-5.5zM789 615h5.5v5.5h-5.5zM554 620h25.5v5.5h-25.5zM694 620h5.5v5.5h-5.5zM794 620h5.5v5.5h-5.5zM549 625h45.5v5.5h-45.5zM684 625h5.5v5.5h-5.5zM799 625h5.5v5.5h-5.5zM879 625h10.5v5.5h-10.5zM914 625h10.5v5.5h-10.5zM524 630h35.5v5.5h-35.5zM589 630h15.5v5.5h-15.5zM679 630h5.5v5.5h-5.5zM864 630h10.5v5.5h-10.5zM939 630h25.5v5.5h-25.5zM604 635h10.5v5.5h-10.5zM669 635h10.5v5.5h-10.5zM854 635h5.5v5.5h-5.5zM614 640h10.5v5.5h-10.5zM654 640h10.5v5.5h-10.5zM814 640h5.5v5.5h-5.5zM849 640h5.5v5.5h-5.5zM629 645h20.5v5.5h-20.5zM819 645h5.5v5.5h-5.5zM844 645h5.5v5.5h-5.5zM829 650h15.5v5.5h-15.5zM634 665h5.5v5.5h-5.5z"/><path fill="#ffc300" d="M904 65h5.5v5.5h-5.5zM909 70h5.5v5.5h-5.5zM909 75h5.5v5.5h-5.5zM879 80h5.5v5.5h-5.5zM904 80h5.5v5.5h-5.5zM879 85h5.5v5.5h-5.5zM904 85h5.5v5.5h-5.5zM874 90h5.5v5.5h-5.5zM869 95h5.5v5.5h-5.5zM899 95h5.5v5.5h-5.5zM859 100h5.5v5.5h-5.5zM849 105h5.5v5.5h-5.5zM889 105h5.5v5.5h-5.5zM839 110h5.5v5.5h-5.5zM884 110h5.5v5.5h-5.5zM829 115h5.5v5.5h-5.5zM854 135h5.5v5.5h-5.5zM814 145h5.5v5.5h-5.5zM839 150h5.5v5.5h-5.5zM834 155h5.5v5.5h-5.5zM829 160h5.5v5.5h-5.5zM814 165h5.5v5.5h-5.5zM824 165h5.5v5.5h-5.5zM819 170h5.5v5.5h-5.5zM704 220h5.5v5.5h-5.5zM704 225h5.5v5.5h-5.5zM704 230h5.5v5.5h-5.5zM819 250h10.5v5.5h-10.5zM819 255h5.5v5.5h-5.5zM829 255h5.5v5.5h-5.5zM284 260h5.5v5.5h-5.5zM819 260h5.5v5.5h-5.5zM834 260h5.5v5.5h-5.5zM289 265h5.5v5.5h-5.5zM669 265h5.5v5.5h-5.5zM679 265h10.5v5.5h-10.5zM819 265h5.5v5.5h-5.5zM294 270h5.5v5.5h-5.5zM294 275h5.5v5.5h-5.5zM294 280h5.5v5.5h-5.5zM854 285h5.5v5.5h-5.5zM289 290h5.5v5.5h-5.5zM674 290h5.5v5.5h-5.5zM689 290h5.5v5.5h-5.5zM859 295h5.5v5.5h-5.5zM859 300h5.5v5.5h-5.5zM859 305h5.5v5.5h-5.5zM819 315h5.5v5.5h-5.5zM819 320h5.5v5.5h-5.5zM804 325h5.5v5.5h-5.5zM814 325h10.5v5.5h-10.5zM859 325h5.5v5.5h-5.5zM289 330h5.5v5.5h-5.5zM809 330h10.5v5.5h-10.5zM859 330h5.5v5.5h-5.5zM814 335h5.5v5.5h-5.5zM864 335h5.5v5.5h-5.5zM294 340h5.5v5.5h-5.5zM869 340h5.5v5.5h-5.5zM299 345h5.5v5.5h-5.5zM299 350h5.5v5.5h-5.5zM809 350h5.5v5.5h-5.5zM874 350h5.5v5.5h-5.5zM304 355h5.5v5.5h-5.5zM809 355h10.5v5.5h-10.5zM879 355h5.5v5.5h-5.5zM909 355h10.5v5.5h-10.5zM309 360h5.5v5.5h-5.5zM804 360h5.5v5.5h-5.5zM814 360h5.5v5.5h-5.5zM884 360h25.5v5.5h-25.5zM919 360h5.5v5.5h-5.5zM309 365h5.5v5.5h-5.5zM924 365h5.5v5.5h-5.5zM314 370h10.5v5.5h-10.5zM799 370h5.5v5.5h-5.5zM324 375h5.5v5.5h-5.5zM794 375h5.5v5.5h-5.5zM929 375h5.5v5.5h-5.5zM329 380h5.5v5.5h-5.5zM794 380h5.5v5.5h-5.5zM819 380h5.5v5.5h-5.5zM929 380h5.5v5.5h-5.5zM339 385h5.5v5.5h-5.5zM819 385h5.5v5.5h-5.5zM929 385h5.5v5.5h-5.5zM344 390h5.5v5.5h-5.5zM789 390h5.5v5.5h-5.5zM789 395h5.5v5.5h-5.5zM349 400h5.5v5.5h-5.5zM929 400h5.5v5.5h-5.5zM349 405h5.5v5.5h-5.5zM784 405h5.5v5.5h-5.5zM824 405h5.5v5.5h-5.5zM929 405h5.5v5.5h-5.5zM344 410h5.5v5.5h-5.5zM784 410h5.5v5.5h-5.5zM824 410h5.5v5.5h-5.5zM929 410h5.5v5.5h-5.5zM344 415h5.5v5.5h-5.5zM784 415h5.5v5.5h-5.5zM824 415h5.5v5.5h-5.5zM929 415h5.5v5.5h-5.5zM344 420h5.5v5.5h-5.5zM784 420h5.5v5.5h-5.5zM344 425h10.5v5.5h-10.5zM784 425h5.5v5.5h-5.5zM934 425h5.5v5.5h-5.5zM349 430h5.5v5.5h-5.5zM784 430h5.5v5.5h-5.5zM829 430h5.5v5.5h-5.5zM934 430h5.5v5.5h-5.5zM354 435h5.5v5.5h-5.5zM784 435h5.5v5.5h-5.5zM829 435h5.5v5.5h-5.5zM934 435h5.5v5.5h-5.5zM359 440h5.5v5.5h-5.5zM784 440h5.5v5.5h-5.5zM829 440h10.5v5.5h-10.5zM934 440h5.5v5.5h-5.5zM359 445h10.5v5.5h-10.5zM789 445h5.5v5.5h-5.5zM829 445h10.5v5.5h-10.5zM364 450h10.5v5.5h-10.5zM409 450h10.5v5.5h-10.5zM799 450h5.5v5.5h-5.5zM824 450h10.5v5.5h-10.5zM929 450h5.5v5.5h-5.5zM374 455h30.5v5.5h-30.5zM424 455h15.5v5.5h-15.5zM444 460h10.5v5.5h-10.5zM909 460h5.5v5.5h-5.5zM464 465h10.5v5.5h-10.5zM539 465h20.5v5.5h-20.5zM884 465h10.5v5.5h-10.5zM564 470h5.5v5.5h-5.5zM879 470h5.5v5.5h-5.5zM574 475h5.5v5.5h-5.5zM879 475h5.5v5.5h-5.5zM584 480h10.5v5.5h-10.5zM594 485h5.5v5.5h-5.5zM604 490h5.5v5.5h-5.5zM609 495h5.5v5.5h-5.5zM614 505h5.5v5.5h-5.5zM614 510h5.5v5.5h-5.5zM614 515h5.5v5.5h-5.5zM914 520h5.5v5.5h-5.5zM604 525h5.5v5.5h-5.5zM929 530h5.5v5.5h-5.5zM579 540h5.5v5.5h-5.5zM949 540h5.5v5.5h-5.5zM574 545h5.5v5.5h-5.5zM959 545h5.5v5.5h-5.5zM439 550h5.5v5.5h-5.5zM569 550h5.5v5.5h-5.5zM564 555h5.5v5.5h-5.5zM559 560h5.5v5.5h-5.5zM439 565h5.5v5.5h-5.5zM449 570h10.5v5.5h-10.5zM419 585h5.5v5.5h-5.5zM444 585h10.5v5.5h-10.5zM414 595h5.5v5.5h-5.5zM539 595h5.5v5.5h-5.5zM734 595h30.5v5.5h-30.5zM539 600h15.5v5.5h-15.5zM719 600h10.5v5.5h-10.5zM769 600h5.5v5.5h-5.5zM544 605h20.5v5.5h-20.5zM709 605h5.5v5.5h-5.5zM779 605h5.5v5.5h-5.5zM544 610h30.5v5.5h-30.5zM704 610h5.5v5.5h-5.5zM784 610h5.5v5.5h-5.5zM529 615h55.5v5.5h-55.5zM694 615h5.5v5.5h-5.5zM529 620h25.5v5.5h-25.5zM579 620h15.5v5.5h-15.5zM689 620h5.5v5.5h-5.5zM884 620h30.5v5.5h-30.5zM524 625h25.5v5.5h-25.5zM594 625h15.5v5.5h-15.5zM679 625h5.5v5.5h-5.5zM869 625h10.5v5.5h-10.5zM924 625h10.5v5.5h-10.5zM604 630h15.5v5.5h-15.5zM674 630h5.5v5.5h-5.5zM804 630h5.5v5.5h-5.5zM859 630h5.5v5.5h-5.5zM964 630h5.5v5.5h-5.5zM614 635h10.5v5.5h-10.5zM659 635h10.5v5.5h-10.5zM809 635h5.5v5.5h-5.5zM624 640h30.5v5.5h-30.5zM844 640h5.5v5.5h-5.5zM824 645h10.5v5.5h-10.5zM839 645h5.5v5.5h-5.5z"/><path fill="#ffbd00" d="M884 65h5.5v5.5h-5.5zM899 65h5.5v5.5h-5.5zM884 70h5.5v5.5h-5.5zM904 70h5.5v5.5h-5.5zM884 75h5.5v5.5h-5.5zM904 75h5.5v5.5h-5.5zM884 80h5.5v5.5h-5.5zM899 85h5.5v5.5h-5.5zM879 90h5.5v5.5h-5.5zM899 90h5.5v5.5h-5.5zM874 95h5.5v5.5h-5.5zM894 100h5.5v5.5h-5.5zM884 105h5.5v5.5h-5.5zM879 110h5.5v5.5h-5.5zM874 115h5.5v5.5h-5.5zM869 120h5.5v5.5h-5.5zM824 125h5.5v5.5h-5.5zM819 135h5.5v5.5h-5.5zM849 140h5.5v5.5h-5.5zM844 145h5.5v5.5h-5.5zM814 150h5.5v5.5h-5.5zM814 155h5.5v5.5h-5.5zM814 160h5.5v5.5h-5.5zM824 160h5.5v5.5h-5.5zM819 165h5.5v5.5h-5.5zM689 200h5.5v5.5h-5.5zM699 210h5.5v5.5h-5.5zM274 245h5.5v5.5h-5.5zM279 250h5.5v5.5h-5.5zM284 255h5.5v5.5h-5.5zM694 255h5.5v5.5h-5.5zM824 255h5.5v5.5h-5.5zM824 260h10.5v5.5h-10.5zM294 265h5.5v5.5h-5.5zM824 265h15.5v5.5h-15.5zM664 270h5.5v5.5h-5.5zM824 270h5.5v5.5h-5.5zM834 270h10.5v5.5h-10.5zM299 275h5.5v5.5h-5.5zM664 275h5.5v5.5h-5.5zM824 275h5.5v5.5h-5.5zM844 275h5.5v5.5h-5.5zM664 280h5.5v5.5h-5.5zM709 280h5.5v5.5h-5.5zM724 280h5.5v5.5h-5.5zM824 280h5.5v5.5h-5.5zM849 280h5.5v5.5h-5.5zM294 285h5.5v5.5h-5.5zM699 285h5.5v5.5h-5.5zM824 285h5.5v5.5h-5.5zM824 290h5.5v5.5h-5.5zM854 290h5.5v5.5h-5.5zM289 295h5.5v5.5h-5.5zM289 300h5.5v5.5h-5.5zM289 305h5.5v5.5h-5.5zM824 305h5.5v5.5h-5.5zM289 310h5.5v5.5h-5.5zM824 310h5.5v5.5h-5.5zM854 310h5.5v5.5h-5.5zM289 315h5.5v5.5h-5.5zM824 315h5.5v5.5h-5.5zM854 315h5.5v5.5h-5.5zM289 320h5.5v5.5h-5.5zM824 320h5.5v5.5h-5.5zM854 320h5.5v5.5h-5.5zM289 325h5.5v5.5h-5.5zM799 325h5.5v5.5h-5.5zM824 325h5.5v5.5h-5.5zM854 325h5.5v5.5h-5.5zM294 330h5.5v5.5h-5.5zM804 330h5.5v5.5h-5.5zM819 330h10.5v5.5h-10.5zM854 330h5.5v5.5h-5.5zM294 335h5.5v5.5h-5.5zM809 335h5.5v5.5h-5.5zM819 335h5.5v5.5h-5.5zM859 335h5.5v5.5h-5.5zM299 340h5.5v5.5h-5.5zM809 340h15.5v5.5h-15.5zM864 340h5.5v5.5h-5.5zM804 345h15.5v5.5h-15.5zM869 345h5.5v5.5h-5.5zM304 350h5.5v5.5h-5.5zM804 350h5.5v5.5h-5.5zM814 350h5.5v5.5h-5.5zM309 355h5.5v5.5h-5.5zM804 355h5.5v5.5h-5.5zM874 355h5.5v5.5h-5.5zM314 360h5.5v5.5h-5.5zM799 360h5.5v5.5h-5.5zM819 360h5.5v5.5h-5.5zM879 360h5.5v5.5h-5.5zM909 360h10.5v5.5h-10.5zM314 365h10.5v5.5h-10.5zM799 365h5.5v5.5h-5.5zM819 365h5.5v5.5h-5.5zM889 365h20.5v5.5h-20.5zM919 365h5.5v5.5h-5.5zM324 370h5.5v5.5h-5.5zM794 370h5.5v5.5h-5.5zM819 370h5.5v5.5h-5.5zM924 370h5.5v5.5h-5.5zM329 375h5.5v5.5h-5.5zM819 375h5.5v5.5h-5.5zM924 375h5.5v5.5h-5.5zM334 380h5.5v5.5h-5.5zM789 380h5.5v5.5h-5.5zM344 385h5.5v5.5h-5.5zM789 385h5.5v5.5h-5.5zM824 390h5.5v5.5h-5.5zM929 390h5.5v5.5h-5.5zM349 395h5.5v5.5h-5.5zM784 395h5.5v5.5h-5.5zM824 395h5.5v5.5h-5.5zM924 395h10.5v5.5h-10.5zM354 400h5.5v5.5h-5.5zM784 400h5.5v5.5h-5.5zM824 400h5.5v5.5h-5.5zM924 400h5.5v5.5h-5.5zM354 405h5.5v5.5h-5.5zM924 405h5.5v5.5h-5.5zM349 410h5.5v5.5h-5.5zM829 410h5.5v5.5h-5.5zM924 410h5.5v5.5h-5.5zM349 415h5.5v5.5h-5.5zM779 415h5.5v5.5h-5.5zM829 415h5.5v5.5h-5.5zM924 415h5.5v5.5h-5.5zM349 420h10.5v5.5h-10.5zM779 420h5.5v5.5h-5.5zM829 420h5.5v5.5h-5.5zM924 420h10.5v5.5h-10.5zM354 425h5.5v5.5h-5.5zM779 425h5.5v5.5h-5.5zM829 425h5.5v5.5h-5.5zM929 425h5.5v5.5h-5.5zM354 430h10.5v5.5h-10.5zM779 430h5.5v5.5h-5.5zM834 430h5.5v5.5h-5.5zM929 430h5.5v5.5h-5.5zM359 435h10.5v5.5h-10.5zM779 435h5.5v5.5h-5.5zM834 435h5.5v5.5h-5.5zM364 440h10.5v5.5h-10.5zM839 440h5.5v5.5h-5.5zM369 445h10.5v5.5h-10.5zM409 445h5.5v5.5h-5.5zM784 445h5.5v5.5h-5.5zM839 445h5.5v5.5h-5.5zM929 445h5.5v5.5h-5.5zM374 450h35.5v5.5h-35.5zM419 450h15.5v5.5h-15.5zM794 450h5.5v5.5h-5.5zM834 450h10.5v5.5h-10.5zM924 450h5.5v5.5h-5.5zM439 455h10.5v5.5h-10.5zM804 455h20.5v5.5h-20.5zM919 455h5.5v5.5h-5.5zM454 460h10.5v5.5h-10.5zM549 460h15.5v5.5h-15.5zM899 460h10.5v5.5h-10.5zM474 465h10.5v5.5h-10.5zM529 465h10.5v5.5h-10.5zM559 465h15.5v5.5h-15.5zM874 465h10.5v5.5h-10.5zM569 470h10.5v5.5h-10.5zM874 470h5.5v5.5h-5.5zM579 475h10.5v5.5h-10.5zM874 475h5.5v5.5h-5.5zM879 480h5.5v5.5h-5.5zM599 485h5.5v5.5h-5.5zM884 490h5.5v5.5h-5.5zM614 495h5.5v5.5h-5.5zM614 500h5.5v5.5h-5.5zM619 505h5.5v5.5h-5.5zM619 510h5.5v5.5h-5.5zM899 510h5.5v5.5h-5.5zM619 515h5.5v5.5h-5.5zM614 520h5.5v5.5h-5.5zM609 525h5.5v5.5h-5.5zM919 525h5.5v5.5h-5.5zM599 530h5.5v5.5h-5.5zM924 530h5.5v5.5h-5.5zM464 535h5.5v5.5h-5.5zM589 535h5.5v5.5h-5.5zM934 535h5.5v5.5h-5.5zM444 540h5.5v5.5h-5.5zM944 540h5.5v5.5h-5.5zM954 545h5.5v5.5h-5.5zM969 550h15.5v5.5h-15.5zM439 555h5.5v5.5h-5.5zM439 560h5.5v5.5h-5.5zM444 565h5.5v5.5h-5.5zM424 585h20.5v5.5h-20.5zM539 590h10.5v5.5h-10.5zM544 595h15.5v5.5h-15.5zM724 595h10.5v5.5h-10.5zM764 595h10.5v5.5h-10.5zM419 600h5.5v5.5h-5.5zM554 600h15.5v5.5h-15.5zM714 600h5.5v5.5h-5.5zM774 600h5.5v5.5h-5.5zM564 605h15.5v5.5h-15.5zM704 605h5.5v5.5h-5.5zM784 605h5.5v5.5h-5.5zM574 610h10.5v5.5h-10.5zM699 610h5.5v5.5h-5.5zM789 610h5.5v5.5h-5.5zM584 615h10.5v5.5h-10.5zM689 615h5.5v5.5h-5.5zM794 615h5.5v5.5h-5.5zM889 615h20.5v5.5h-20.5zM524 620h5.5v5.5h-5.5zM594 620h15.5v5.5h-15.5zM684 620h5.5v5.5h-5.5zM799 620h5.5v5.5h-5.5zM874 620h10.5v5.5h-10.5zM914 620h10.5v5.5h-10.5zM609 625h10.5v5.5h-10.5zM674 625h5.5v5.5h-5.5zM804 625h5.5v5.5h-5.5zM864 625h5.5v5.5h-5.5zM934 625h25.5v5.5h-25.5zM619 630h5.5v5.5h-5.5zM664 630h10.5v5.5h-10.5zM809 630h5.5v5.5h-5.5zM854 630h5.5v5.5h-5.5zM969 630h15.5v5.5h-15.5zM624 635h15.5v5.5h-15.5zM649 635h10.5v5.5h-10.5zM814 635h5.5v5.5h-5.5zM849 635h5.5v5.5h-5.5zM819 640h10.5v5.5h-10.5zM834 645h5.5v5.5h-5.5z"/><path fill="#ffb700" d="M889 65h10.5v5.5h-10.5zM889 70h15.5v5.5h-15.5zM889 75h15.5v5.5h-15.5zM889 80h15.5v5.5h-15.5zM884 85h5.5v5.5h-5.5zM894 85h5.5v5.5h-5.5zM884 90h5.5v5.5h-5.5zM894 90h5.5v5.5h-5.5zM879 95h10.5v5.5h-10.5zM894 95h5.5v5.5h-5.5zM864 100h30.5v5.5h-30.5zM854 105h5.5v5.5h-5.5zM879 105h5.5v5.5h-5.5zM844 110h5.5v5.5h-5.5zM834 115h5.5v5.5h-5.5zM829 120h5.5v5.5h-5.5zM864 120h5.5v5.5h-5.5zM859 125h5.5v5.5h-5.5zM819 140h5.5v5.5h-5.5zM834 150h5.5v5.5h-5.5zM829 155h5.5v5.5h-5.5zM819 160h5.5v5.5h-5.5zM684 190h5.5v5.5h-5.5zM684 195h5.5v5.5h-5.5zM694 205h5.5v5.5h-5.5zM274 235h5.5v5.5h-5.5zM274 240h5.5v5.5h-5.5zM699 245h5.5v5.5h-5.5zM289 260h5.5v5.5h-5.5zM669 260h10.5v5.5h-10.5zM689 260h5.5v5.5h-5.5zM664 265h5.5v5.5h-5.5zM299 270h5.5v5.5h-5.5zM829 270h5.5v5.5h-5.5zM829 275h15.5v5.5h-15.5zM299 280h5.5v5.5h-5.5zM714 280h10.5v5.5h-10.5zM829 280h20.5v5.5h-20.5zM664 285h5.5v5.5h-5.5zM829 285h5.5v5.5h-5.5zM849 285h5.5v5.5h-5.5zM294 290h5.5v5.5h-5.5zM669 290h5.5v5.5h-5.5zM824 295h5.5v5.5h-5.5zM854 295h5.5v5.5h-5.5zM824 300h5.5v5.5h-5.5zM854 300h5.5v5.5h-5.5zM854 305h5.5v5.5h-5.5zM829 310h5.5v5.5h-5.5zM829 315h5.5v5.5h-5.5zM849 315h5.5v5.5h-5.5zM829 320h10.5v5.5h-10.5zM844 320h10.5v5.5h-10.5zM294 325h5.5v5.5h-5.5zM829 325h5.5v5.5h-5.5zM844 325h10.5v5.5h-10.5zM299 330h5.5v5.5h-5.5zM829 330h5.5v5.5h-5.5zM849 330h5.5v5.5h-5.5zM299 335h5.5v5.5h-5.5zM804 335h5.5v5.5h-5.5zM824 335h5.5v5.5h-5.5zM854 335h5.5v5.5h-5.5zM304 340h5.5v5.5h-5.5zM804 340h5.5v5.5h-5.5zM859 340h5.5v5.5h-5.5zM304 345h5.5v5.5h-5.5zM819 345h5.5v5.5h-5.5zM864 345h5.5v5.5h-5.5zM309 350h5.5v5.5h-5.5zM799 350h5.5v5.5h-5.5zM819 350h5.5v5.5h-5.5zM869 350h5.5v5.5h-5.5zM314 355h5.5v5.5h-5.5zM799 355h5.5v5.5h-5.5zM819 355h5.5v5.5h-5.5zM319 360h5.5v5.5h-5.5zM874 360h5.5v5.5h-5.5zM324 365h5.5v5.5h-5.5zM794 365h5.5v5.5h-5.5zM879 365h10.5v5.5h-10.5zM909 365h10.5v5.5h-10.5zM329 370h5.5v5.5h-5.5zM889 370h25.5v5.5h-25.5zM919 370h5.5v5.5h-5.5zM334 375h5.5v5.5h-5.5zM789 375h5.5v5.5h-5.5zM894 375h10.5v5.5h-10.5zM339 380h5.5v5.5h-5.5zM924 380h5.5v5.5h-5.5zM784 385h5.5v5.5h-5.5zM824 385h5.5v5.5h-5.5zM924 385h5.5v5.5h-5.5zM349 390h5.5v5.5h-5.5zM784 390h5.5v5.5h-5.5zM924 390h5.5v5.5h-5.5zM354 395h5.5v5.5h-5.5zM919 395h5.5v5.5h-5.5zM779 400h5.5v5.5h-5.5zM829 400h5.5v5.5h-5.5zM914 400h10.5v5.5h-10.5zM359 405h5.5v5.5h-5.5zM779 405h5.5v5.5h-5.5zM829 405h5.5v5.5h-5.5zM914 405h10.5v5.5h-10.5zM354 410h10.5v5.5h-10.5zM779 410h5.5v5.5h-5.5zM914 410h10.5v5.5h-10.5zM354 415h10.5v5.5h-10.5zM834 415h5.5v5.5h-5.5zM914 415h10.5v5.5h-10.5zM359 420h5.5v5.5h-5.5zM834 420h5.5v5.5h-5.5zM919 420h5.5v5.5h-5.5zM359 425h5.5v5.5h-5.5zM559 425h10.5v5.5h-10.5zM834 425h5.5v5.5h-5.5zM924 425h5.5v5.5h-5.5zM364 430h5.5v5.5h-5.5zM559 430h15.5v5.5h-15.5zM839 430h5.5v5.5h-5.5zM369 435h5.5v5.5h-5.5zM559 435h20.5v5.5h-20.5zM839 435h5.5v5.5h-5.5zM929 435h5.5v5.5h-5.5zM374 440h5.5v5.5h-5.5zM404 440h15.5v5.5h-15.5zM564 440h15.5v5.5h-15.5zM779 440h5.5v5.5h-5.5zM844 440h5.5v5.5h-5.5zM929 440h5.5v5.5h-5.5zM379 445h30.5v5.5h-30.5zM414 445h20.5v5.5h-20.5zM564 445h15.5v5.5h-15.5zM779 445h5.5v5.5h-5.5zM844 445h5.5v5.5h-5.5zM434 450h10.5v5.5h-10.5zM564 450h15.5v5.5h-15.5zM789 450h5.5v5.5h-5.5zM844 450h5.5v5.5h-5.5zM449 455h10.5v5.5h-10.5zM554 455h30.5v5.5h-30.5zM799 455h5.5v5.5h-5.5zM824 455h30.5v5.5h-30.5zM914 455h5.5v5.5h-5.5zM464 460h5.5v5.5h-5.5zM544 460h5.5v5.5h-5.5zM564 460h20.5v5.5h-20.5zM844 460h10.5v5.5h-10.5zM874 460h25.5v5.5h-25.5zM484 465h45.5v5.5h-45.5zM574 465h10.5v5.5h-10.5zM869 465h5.5v5.5h-5.5zM579 470h10.5v5.5h-10.5zM869 470h5.5v5.5h-5.5zM589 475h5.5v5.5h-5.5zM869 475h5.5v5.5h-5.5zM594 480h5.5v5.5h-5.5zM874 480h5.5v5.5h-5.5zM604 485h5.5v5.5h-5.5zM879 485h5.5v5.5h-5.5zM609 490h5.5v5.5h-5.5zM619 500h5.5v5.5h-5.5zM889 500h5.5v5.5h-5.5zM894 505h5.5v5.5h-5.5zM904 515h5.5v5.5h-5.5zM619 520h5.5v5.5h-5.5zM614 525h5.5v5.5h-5.5zM604 530h5.5v5.5h-5.5zM449 535h5.5v5.5h-5.5zM594 535h5.5v5.5h-5.5zM929 535h5.5v5.5h-5.5zM584 540h5.5v5.5h-5.5zM939 540h5.5v5.5h-5.5zM579 545h5.5v5.5h-5.5zM949 545h5.5v5.5h-5.5zM574 550h5.5v5.5h-5.5zM959 550h10.5v5.5h-10.5zM569 555h5.5v5.5h-5.5zM564 560h5.5v5.5h-5.5zM449 565h10.5v5.5h-10.5zM549 565h10.5v5.5h-10.5zM544 585h5.5v5.5h-5.5zM419 590h5.5v5.5h-5.5zM439 590h10.5v5.5h-10.5zM549 590h10.5v5.5h-10.5zM734 590h35.5v5.5h-35.5zM559 595h10.5v5.5h-10.5zM714 595h10.5v5.5h-10.5zM774 595h5.5v5.5h-5.5zM569 600h10.5v5.5h-10.5zM704 600h10.5v5.5h-10.5zM779 600h5.5v5.5h-5.5zM579 605h5.5v5.5h-5.5zM699 605h5.5v5.5h-5.5zM584 610h10.5v5.5h-10.5zM694 610h5.5v5.5h-5.5zM794 610h5.5v5.5h-5.5zM594 615h10.5v5.5h-10.5zM684 615h5.5v5.5h-5.5zM799 615h5.5v5.5h-5.5zM879 615h10.5v5.5h-10.5zM909 615h10.5v5.5h-10.5zM609 620h10.5v5.5h-10.5zM679 620h5.5v5.5h-5.5zM804 620h5.5v5.5h-5.5zM869 620h5.5v5.5h-5.5zM924 620h5.5v5.5h-5.5zM619 625h5.5v5.5h-5.5zM669 625h5.5v5.5h-5.5zM859 625h5.5v5.5h-5.5zM959 625h25.5v5.5h-25.5zM624 630h15.5v5.5h-15.5zM654 630h10.5v5.5h-10.5zM849 630h5.5v5.5h-5.5zM639 635h10.5v5.5h-10.5zM819 635h5.5v5.5h-5.5zM844 635h5.5v5.5h-5.5zM829 640h15.5v5.5h-15.5z"/><path fill="#ffb000" d="M889 85h5.5v5.5h-5.5zM889 90h5.5v5.5h-5.5zM889 95h5.5v5.5h-5.5zM859 105h5.5v5.5h-5.5zM874 105h5.5v5.5h-5.5zM849 110h5.5v5.5h-5.5zM874 110h5.5v5.5h-5.5zM869 115h5.5v5.5h-5.5zM824 130h5.5v5.5h-5.5zM854 130h5.5v5.5h-5.5zM849 135h5.5v5.5h-5.5zM819 145h5.5v5.5h-5.5zM839 145h5.5v5.5h-5.5zM819 150h15.5v5.5h-15.5zM819 155h10.5v5.5h-10.5zM699 215h5.5v5.5h-5.5zM699 240h5.5v5.5h-5.5zM279 245h5.5v5.5h-5.5zM284 250h5.5v5.5h-5.5zM289 255h5.5v5.5h-5.5zM294 260h5.5v5.5h-5.5zM664 260h5.5v5.5h-5.5zM679 260h10.5v5.5h-10.5zM299 265h5.5v5.5h-5.5zM304 270h5.5v5.5h-5.5zM659 270h5.5v5.5h-5.5zM304 275h5.5v5.5h-5.5zM659 275h5.5v5.5h-5.5zM304 280h5.5v5.5h-5.5zM299 285h5.5v5.5h-5.5zM834 285h15.5v5.5h-15.5zM694 290h5.5v5.5h-5.5zM829 290h5.5v5.5h-5.5zM849 290h5.5v5.5h-5.5zM294 295h5.5v5.5h-5.5zM829 295h5.5v5.5h-5.5zM849 295h5.5v5.5h-5.5zM294 300h5.5v5.5h-5.5zM829 300h5.5v5.5h-5.5zM849 300h5.5v5.5h-5.5zM294 305h5.5v5.5h-5.5zM829 305h5.5v5.5h-5.5zM849 305h5.5v5.5h-5.5zM294 310h5.5v5.5h-5.5zM834 310h20.5v5.5h-20.5zM294 315h5.5v5.5h-5.5zM834 315h15.5v5.5h-15.5zM294 320h5.5v5.5h-5.5zM839 320h5.5v5.5h-5.5zM299 325h5.5v5.5h-5.5zM794 325h5.5v5.5h-5.5zM834 325h10.5v5.5h-10.5zM799 330h5.5v5.5h-5.5zM834 330h15.5v5.5h-15.5zM304 335h5.5v5.5h-5.5zM799 335h5.5v5.5h-5.5zM829 335h5.5v5.5h-5.5zM849 335h5.5v5.5h-5.5zM309 340h5.5v5.5h-5.5zM799 340h5.5v5.5h-5.5zM824 340h5.5v5.5h-5.5zM854 340h5.5v5.5h-5.5zM309 345h5.5v5.5h-5.5zM799 345h5.5v5.5h-5.5zM824 345h5.5v5.5h-5.5zM859 345h5.5v5.5h-5.5zM314 350h5.5v5.5h-5.5zM864 350h5.5v5.5h-5.5zM319 355h5.5v5.5h-5.5zM794 355h5.5v5.5h-5.5zM869 355h5.5v5.5h-5.5zM794 360h5.5v5.5h-5.5zM869 360h5.5v5.5h-5.5zM329 365h5.5v5.5h-5.5zM874 365h5.5v5.5h-5.5zM334 370h5.5v5.5h-5.5zM789 370h5.5v5.5h-5.5zM879 370h10.5v5.5h-10.5zM914 370h5.5v5.5h-5.5zM339 375h5.5v5.5h-5.5zM824 375h5.5v5.5h-5.5zM884 375h10.5v5.5h-10.5zM904 375h20.5v5.5h-20.5zM344 380h5.5v5.5h-5.5zM784 380h5.5v5.5h-5.5zM824 380h5.5v5.5h-5.5zM889 380h35.5v5.5h-35.5zM349 385h5.5v5.5h-5.5zM899 385h25.5v5.5h-25.5zM354 390h5.5v5.5h-5.5zM779 390h5.5v5.5h-5.5zM904 390h20.5v5.5h-20.5zM359 395h5.5v5.5h-5.5zM779 395h5.5v5.5h-5.5zM829 395h5.5v5.5h-5.5zM904 395h15.5v5.5h-15.5zM359 400h5.5v5.5h-5.5zM909 400h5.5v5.5h-5.5zM909 405h5.5v5.5h-5.5zM364 410h5.5v5.5h-5.5zM774 410h5.5v5.5h-5.5zM834 410h5.5v5.5h-5.5zM909 410h5.5v5.5h-5.5zM364 415h5.5v5.5h-5.5zM774 415h5.5v5.5h-5.5zM909 415h5.5v5.5h-5.5zM364 420h5.5v5.5h-5.5zM554 420h15.5v5.5h-15.5zM774 420h5.5v5.5h-5.5zM839 420h5.5v5.5h-5.5zM909 420h10.5v5.5h-10.5zM364 425h10.5v5.5h-10.5zM554 425h5.5v5.5h-5.5zM569 425h5.5v5.5h-5.5zM774 425h5.5v5.5h-5.5zM839 425h5.5v5.5h-5.5zM914 425h10.5v5.5h-10.5zM369 430h10.5v5.5h-10.5zM554 430h5.5v5.5h-5.5zM574 430h5.5v5.5h-5.5zM774 430h5.5v5.5h-5.5zM924 430h5.5v5.5h-5.5zM374 435h10.5v5.5h-10.5zM399 435h25.5v5.5h-25.5zM554 435h5.5v5.5h-5.5zM774 435h5.5v5.5h-5.5zM844 435h5.5v5.5h-5.5zM924 435h5.5v5.5h-5.5zM379 440h25.5v5.5h-25.5zM419 440h15.5v5.5h-15.5zM559 440h5.5v5.5h-5.5zM579 440h5.5v5.5h-5.5zM774 440h5.5v5.5h-5.5zM434 445h10.5v5.5h-10.5zM559 445h5.5v5.5h-5.5zM579 445h5.5v5.5h-5.5zM849 445h5.5v5.5h-5.5zM924 445h5.5v5.5h-5.5zM444 450h10.5v5.5h-10.5zM554 450h10.5v5.5h-10.5zM579 450h10.5v5.5h-10.5zM784 450h5.5v5.5h-5.5zM849 450h5.5v5.5h-5.5zM919 450h5.5v5.5h-5.5zM459 455h5.5v5.5h-5.5zM549 455h5.5v5.5h-5.5zM584 455h5.5v5.5h-5.5zM794 455h5.5v5.5h-5.5zM854 455h5.5v5.5h-5.5zM909 455h5.5v5.5h-5.5zM469 460h10.5v5.5h-10.5zM534 460h10.5v5.5h-10.5zM584 460h5.5v5.5h-5.5zM809 460h35.5v5.5h-35.5zM854 460h20.5v5.5h-20.5zM584 465h5.5v5.5h-5.5zM844 465h25.5v5.5h-25.5zM589 470h5.5v5.5h-5.5zM859 470h10.5v5.5h-10.5zM594 475h5.5v5.5h-5.5zM864 475h5.5v5.5h-5.5zM599 480h5.5v5.5h-5.5zM609 485h5.5v5.5h-5.5zM614 490h5.5v5.5h-5.5zM879 490h5.5v5.5h-5.5zM619 495h5.5v5.5h-5.5zM884 495h5.5v5.5h-5.5zM624 500h5.5v5.5h-5.5zM624 505h5.5v5.5h-5.5zM624 510h5.5v5.5h-5.5zM624 515h5.5v5.5h-5.5zM624 520h5.5v5.5h-5.5zM909 520h5.5v5.5h-5.5zM619 525h5.5v5.5h-5.5zM914 525h5.5v5.5h-5.5zM609 530h10.5v5.5h-10.5zM919 530h5.5v5.5h-5.5zM459 535h5.5v5.5h-5.5zM599 535h5.5v5.5h-5.5zM589 540h5.5v5.5h-5.5zM934 540h5.5v5.5h-5.5zM944 545h5.5v5.5h-5.5zM954 550h5.5v5.5h-5.5zM444 560h5.5v5.5h-5.5zM559 565h5.5v5.5h-5.5zM549 580h5.5v5.5h-5.5zM549 585h15.5v5.5h-15.5zM424 590h15.5v5.5h-15.5zM559 590h10.5v5.5h-10.5zM719 590h15.5v5.5h-15.5zM769 590h5.5v5.5h-5.5zM419 595h5.5v5.5h-5.5zM569 595h10.5v5.5h-10.5zM709 595h5.5v5.5h-5.5zM779 595h5.5v5.5h-5.5zM424 600h5.5v5.5h-5.5zM579 600h5.5v5.5h-5.5zM699 600h5.5v5.5h-5.5zM784 600h5.5v5.5h-5.5zM584 605h10.5v5.5h-10.5zM694 605h5.5v5.5h-5.5zM789 605h5.5v5.5h-5.5zM594 610h10.5v5.5h-10.5zM689 610h5.5v5.5h-5.5zM884 610h30.5v5.5h-30.5zM604 615h15.5v5.5h-15.5zM679 615h5.5v5.5h-5.5zM874 615h5.5v5.5h-5.5zM919 615h5.5v5.5h-5.5zM619 620h5.5v5.5h-5.5zM674 620h5.5v5.5h-5.5zM864 620h5.5v5.5h-5.5zM929 620h25.5v5.5h-25.5zM959 620h25.5v5.5h-25.5zM624 625h10.5v5.5h-10.5zM659 625h10.5v5.5h-10.5zM809 625h5.5v5.5h-5.5zM854 625h5.5v5.5h-5.5zM639 630h15.5v5.5h-15.5zM814 630h5.5v5.5h-5.5zM844 630h5.5v5.5h-5.5zM824 635h5.5v5.5h-5.5zM839 635h5.5v5.5h-5.5z"/><path fill="#ffaa00" d="M864 105h10.5v5.5h-10.5zM869 110h5.5v5.5h-5.5zM839 115h5.5v5.5h-5.5zM859 120h5.5v5.5h-5.5zM829 125h5.5v5.5h-5.5zM824 135h5.5v5.5h-5.5zM844 140h5.5v5.5h-5.5zM824 145h5.5v5.5h-5.5zM834 145h5.5v5.5h-5.5zM684 200h5.5v5.5h-5.5zM689 205h5.5v5.5h-5.5zM694 210h5.5v5.5h-5.5zM699 220h5.5v5.5h-5.5zM699 225h5.5v5.5h-5.5zM699 230h5.5v5.5h-5.5zM699 235h5.5v5.5h-5.5zM279 240h5.5v5.5h-5.5zM694 250h5.5v5.5h-5.5zM669 255h5.5v5.5h-5.5zM299 260h5.5v5.5h-5.5zM304 265h5.5v5.5h-5.5zM659 265h5.5v5.5h-5.5zM309 270h5.5v5.5h-5.5zM309 275h5.5v5.5h-5.5zM309 280h5.5v5.5h-5.5zM659 280h5.5v5.5h-5.5zM304 285h5.5v5.5h-5.5zM704 285h5.5v5.5h-5.5zM299 290h5.5v5.5h-5.5zM664 290h5.5v5.5h-5.5zM834 290h15.5v5.5h-15.5zM299 295h5.5v5.5h-5.5zM834 295h15.5v5.5h-15.5zM834 300h15.5v5.5h-15.5zM834 305h15.5v5.5h-15.5zM299 315h5.5v5.5h-5.5zM299 320h5.5v5.5h-5.5zM304 325h5.5v5.5h-5.5zM304 330h5.5v5.5h-5.5zM794 330h5.5v5.5h-5.5zM309 335h5.5v5.5h-5.5zM794 335h5.5v5.5h-5.5zM834 335h15.5v5.5h-15.5zM794 340h5.5v5.5h-5.5zM829 340h5.5v5.5h-5.5zM849 340h5.5v5.5h-5.5zM314 345h5.5v5.5h-5.5zM794 345h5.5v5.5h-5.5zM794 350h5.5v5.5h-5.5zM824 350h5.5v5.5h-5.5zM824 355h5.5v5.5h-5.5zM864 355h5.5v5.5h-5.5zM324 360h5.5v5.5h-5.5zM789 360h5.5v5.5h-5.5zM824 360h5.5v5.5h-5.5zM789 365h5.5v5.5h-5.5zM824 365h5.5v5.5h-5.5zM869 365h5.5v5.5h-5.5zM339 370h5.5v5.5h-5.5zM824 370h5.5v5.5h-5.5zM874 370h5.5v5.5h-5.5zM344 375h5.5v5.5h-5.5zM784 375h5.5v5.5h-5.5zM879 375h5.5v5.5h-5.5zM349 380h5.5v5.5h-5.5zM884 380h5.5v5.5h-5.5zM354 385h5.5v5.5h-5.5zM779 385h5.5v5.5h-5.5zM829 385h5.5v5.5h-5.5zM889 385h10.5v5.5h-10.5zM359 390h5.5v5.5h-5.5zM829 390h5.5v5.5h-5.5zM894 390h10.5v5.5h-10.5zM364 395h5.5v5.5h-5.5zM894 395h10.5v5.5h-10.5zM364 400h5.5v5.5h-5.5zM774 400h5.5v5.5h-5.5zM834 400h5.5v5.5h-5.5zM899 400h10.5v5.5h-10.5zM364 405h5.5v5.5h-5.5zM774 405h5.5v5.5h-5.5zM834 405h5.5v5.5h-5.5zM899 405h10.5v5.5h-10.5zM839 410h5.5v5.5h-5.5zM899 410h10.5v5.5h-10.5zM369 415h5.5v5.5h-5.5zM559 415h10.5v5.5h-10.5zM769 415h5.5v5.5h-5.5zM839 415h5.5v5.5h-5.5zM899 415h10.5v5.5h-10.5zM369 420h5.5v5.5h-5.5zM549 420h5.5v5.5h-5.5zM569 420h5.5v5.5h-5.5zM769 420h5.5v5.5h-5.5zM904 420h5.5v5.5h-5.5zM374 425h5.5v5.5h-5.5zM549 425h5.5v5.5h-5.5zM574 425h5.5v5.5h-5.5zM769 425h5.5v5.5h-5.5zM844 425h5.5v5.5h-5.5zM904 425h10.5v5.5h-10.5zM379 430h10.5v5.5h-10.5zM394 430h35.5v5.5h-35.5zM549 430h5.5v5.5h-5.5zM769 430h5.5v5.5h-5.5zM844 430h5.5v5.5h-5.5zM914 430h10.5v5.5h-10.5zM384 435h15.5v5.5h-15.5zM424 435h15.5v5.5h-15.5zM549 435h5.5v5.5h-5.5zM579 435h5.5v5.5h-5.5zM769 435h5.5v5.5h-5.5zM849 435h5.5v5.5h-5.5zM919 435h5.5v5.5h-5.5zM434 440h10.5v5.5h-10.5zM554 440h5.5v5.5h-5.5zM584 440h5.5v5.5h-5.5zM769 440h5.5v5.5h-5.5zM849 440h5.5v5.5h-5.5zM924 440h5.5v5.5h-5.5zM444 445h10.5v5.5h-10.5zM554 445h5.5v5.5h-5.5zM584 445h5.5v5.5h-5.5zM774 445h5.5v5.5h-5.5zM854 445h5.5v5.5h-5.5zM454 450h5.5v5.5h-5.5zM549 450h5.5v5.5h-5.5zM779 450h5.5v5.5h-5.5zM854 450h10.5v5.5h-10.5zM464 455h10.5v5.5h-10.5zM544 455h5.5v5.5h-5.5zM589 455h5.5v5.5h-5.5zM789 455h5.5v5.5h-5.5zM859 455h25.5v5.5h-25.5zM894 455h15.5v5.5h-15.5zM479 460h10.5v5.5h-10.5zM529 460h5.5v5.5h-5.5zM589 460h5.5v5.5h-5.5zM799 460h10.5v5.5h-10.5zM589 465h5.5v5.5h-5.5zM834 465h10.5v5.5h-10.5zM594 470h5.5v5.5h-5.5zM849 470h10.5v5.5h-10.5zM599 475h5.5v5.5h-5.5zM859 475h5.5v5.5h-5.5zM604 480h5.5v5.5h-5.5zM869 480h5.5v5.5h-5.5zM874 485h5.5v5.5h-5.5zM619 490h5.5v5.5h-5.5zM624 495h5.5v5.5h-5.5zM629 500h5.5v5.5h-5.5zM629 505h5.5v5.5h-5.5zM629 510h5.5v5.5h-5.5zM629 515h5.5v5.5h-5.5zM629 520h5.5v5.5h-5.5zM624 525h5.5v5.5h-5.5zM619 530h5.5v5.5h-5.5zM454 535h5.5v5.5h-5.5zM604 535h5.5v5.5h-5.5zM924 535h5.5v5.5h-5.5zM929 540h5.5v5.5h-5.5zM444 545h5.5v5.5h-5.5zM584 545h5.5v5.5h-5.5zM939 545h5.5v5.5h-5.5zM579 550h5.5v5.5h-5.5zM444 555h5.5v5.5h-5.5zM574 555h5.5v5.5h-5.5zM449 560h5.5v5.5h-5.5zM569 560h5.5v5.5h-5.5zM564 565h5.5v5.5h-5.5zM549 570h15.5v5.5h-15.5zM549 575h10.5v5.5h-10.5zM554 580h10.5v5.5h-10.5zM564 585h5.5v5.5h-5.5zM724 585h45.5v5.5h-45.5zM569 590h5.5v5.5h-5.5zM709 590h10.5v5.5h-10.5zM774 590h5.5v5.5h-5.5zM424 595h5.5v5.5h-5.5zM434 595h10.5v5.5h-10.5zM579 595h5.5v5.5h-5.5zM704 595h5.5v5.5h-5.5zM784 595h5.5v5.5h-5.5zM429 600h5.5v5.5h-5.5zM584 600h10.5v5.5h-10.5zM694 600h5.5v5.5h-5.5zM789 600h5.5v5.5h-5.5zM594 605h10.5v5.5h-10.5zM689 605h5.5v5.5h-5.5zM794 605h5.5v5.5h-5.5zM884 605h30.5v5.5h-30.5zM604 610h10.5v5.5h-10.5zM684 610h5.5v5.5h-5.5zM799 610h5.5v5.5h-5.5zM874 610h10.5v5.5h-10.5zM914 610h5.5v5.5h-5.5zM619 615h5.5v5.5h-5.5zM674 615h5.5v5.5h-5.5zM804 615h5.5v5.5h-5.5zM864 615h10.5v5.5h-10.5zM924 615h5.5v5.5h-5.5zM969 615h15.5v5.5h-15.5zM624 620h10.5v5.5h-10.5zM664 620h10.5v5.5h-10.5zM809 620h5.5v5.5h-5.5zM859 620h5.5v5.5h-5.5zM954 620h5.5v5.5h-5.5zM634 625h25.5v5.5h-25.5zM814 625h5.5v5.5h-5.5zM849 625h5.5v5.5h-5.5zM819 630h5.5v5.5h-5.5zM829 635h10.5v5.5h-10.5z"/><path fill="#ffa400" d="M854 110h15.5v5.5h-15.5zM844 115h5.5v5.5h-5.5zM864 115h5.5v5.5h-5.5zM834 120h5.5v5.5h-5.5zM854 125h5.5v5.5h-5.5zM824 140h5.5v5.5h-5.5zM829 145h5.5v5.5h-5.5zM679 190h5.5v5.5h-5.5zM679 195h5.5v5.5h-5.5zM279 230h5.5v5.5h-5.5zM279 235h5.5v5.5h-5.5zM284 245h5.5v5.5h-5.5zM289 250h5.5v5.5h-5.5zM294 255h5.5v5.5h-5.5zM664 255h5.5v5.5h-5.5zM674 255h5.5v5.5h-5.5zM689 255h5.5v5.5h-5.5zM659 260h5.5v5.5h-5.5zM309 265h5.5v5.5h-5.5zM654 270h5.5v5.5h-5.5zM314 275h5.5v5.5h-5.5zM654 275h5.5v5.5h-5.5zM654 280h5.5v5.5h-5.5zM309 285h5.5v5.5h-5.5zM659 285h5.5v5.5h-5.5zM724 285h5.5v5.5h-5.5zM304 290h5.5v5.5h-5.5zM729 290h5.5v5.5h-5.5zM674 295h15.5v5.5h-15.5zM299 300h5.5v5.5h-5.5zM299 305h5.5v5.5h-5.5zM299 310h5.5v5.5h-5.5zM304 315h5.5v5.5h-5.5zM304 320h5.5v5.5h-5.5zM309 325h5.5v5.5h-5.5zM309 330h5.5v5.5h-5.5zM314 335h5.5v5.5h-5.5zM314 340h5.5v5.5h-5.5zM834 340h5.5v5.5h-5.5zM844 340h5.5v5.5h-5.5zM319 345h5.5v5.5h-5.5zM829 345h5.5v5.5h-5.5zM854 345h5.5v5.5h-5.5zM319 350h5.5v5.5h-5.5zM789 350h5.5v5.5h-5.5zM859 350h5.5v5.5h-5.5zM324 355h5.5v5.5h-5.5zM789 355h5.5v5.5h-5.5zM329 360h5.5v5.5h-5.5zM864 360h5.5v5.5h-5.5zM334 365h5.5v5.5h-5.5zM784 365h5.5v5.5h-5.5zM344 370h5.5v5.5h-5.5zM784 370h5.5v5.5h-5.5zM869 370h5.5v5.5h-5.5zM349 375h5.5v5.5h-5.5zM869 375h10.5v5.5h-10.5zM354 380h5.5v5.5h-5.5zM779 380h5.5v5.5h-5.5zM829 380h5.5v5.5h-5.5zM874 380h10.5v5.5h-10.5zM359 385h5.5v5.5h-5.5zM879 385h10.5v5.5h-10.5zM364 390h5.5v5.5h-5.5zM774 390h5.5v5.5h-5.5zM834 390h5.5v5.5h-5.5zM884 390h10.5v5.5h-10.5zM774 395h5.5v5.5h-5.5zM834 395h5.5v5.5h-5.5zM889 395h5.5v5.5h-5.5zM369 400h5.5v5.5h-5.5zM839 400h5.5v5.5h-5.5zM889 400h10.5v5.5h-10.5zM369 405h5.5v5.5h-5.5zM769 405h5.5v5.5h-5.5zM839 405h5.5v5.5h-5.5zM894 405h5.5v5.5h-5.5zM369 410h5.5v5.5h-5.5zM769 410h5.5v5.5h-5.5zM844 410h5.5v5.5h-5.5zM894 410h5.5v5.5h-5.5zM374 415h5.5v5.5h-5.5zM549 415h10.5v5.5h-10.5zM844 415h5.5v5.5h-5.5zM894 415h5.5v5.5h-5.5zM374 420h10.5v5.5h-10.5zM544 420h5.5v5.5h-5.5zM764 420h5.5v5.5h-5.5zM844 420h5.5v5.5h-5.5zM894 420h10.5v5.5h-10.5zM379 425h50.5v5.5h-50.5zM544 425h5.5v5.5h-5.5zM764 425h5.5v5.5h-5.5zM849 425h5.5v5.5h-5.5zM899 425h5.5v5.5h-5.5zM389 430h5.5v5.5h-5.5zM429 430h10.5v5.5h-10.5zM544 430h5.5v5.5h-5.5zM579 430h5.5v5.5h-5.5zM764 430h5.5v5.5h-5.5zM849 430h5.5v5.5h-5.5zM904 430h10.5v5.5h-10.5zM439 435h10.5v5.5h-10.5zM584 435h5.5v5.5h-5.5zM764 435h5.5v5.5h-5.5zM854 435h5.5v5.5h-5.5zM914 435h5.5v5.5h-5.5zM444 440h10.5v5.5h-10.5zM549 440h5.5v5.5h-5.5zM764 440h5.5v5.5h-5.5zM854 440h5.5v5.5h-5.5zM919 440h5.5v5.5h-5.5zM454 445h5.5v5.5h-5.5zM549 445h5.5v5.5h-5.5zM589 445h5.5v5.5h-5.5zM769 445h5.5v5.5h-5.5zM859 445h5.5v5.5h-5.5zM919 445h5.5v5.5h-5.5zM459 450h10.5v5.5h-10.5zM544 450h5.5v5.5h-5.5zM589 450h5.5v5.5h-5.5zM774 450h5.5v5.5h-5.5zM864 450h10.5v5.5h-10.5zM909 450h10.5v5.5h-10.5zM474 455h5.5v5.5h-5.5zM539 455h5.5v5.5h-5.5zM784 455h5.5v5.5h-5.5zM884 455h10.5v5.5h-10.5zM489 460h40.5v5.5h-40.5zM594 460h5.5v5.5h-5.5zM794 460h5.5v5.5h-5.5zM594 465h5.5v5.5h-5.5zM824 465h10.5v5.5h-10.5zM844 470h5.5v5.5h-5.5zM854 475h5.5v5.5h-5.5zM609 480h5.5v5.5h-5.5zM864 480h5.5v5.5h-5.5zM614 485h10.5v5.5h-10.5zM869 485h5.5v5.5h-5.5zM624 490h5.5v5.5h-5.5zM629 495h5.5v5.5h-5.5zM879 495h5.5v5.5h-5.5zM884 500h5.5v5.5h-5.5zM634 505h5.5v5.5h-5.5zM889 505h5.5v5.5h-5.5zM634 510h5.5v5.5h-5.5zM894 510h5.5v5.5h-5.5zM634 515h5.5v5.5h-5.5zM899 515h5.5v5.5h-5.5zM629 525h5.5v5.5h-5.5zM609 535h5.5v5.5h-5.5zM594 540h5.5v5.5h-5.5zM934 545h5.5v5.5h-5.5zM444 550h5.5v5.5h-5.5zM944 550h10.5v5.5h-10.5zM964 555h20.5v5.5h-20.5zM454 560h5.5v5.5h-5.5zM569 565h5.5v5.5h-5.5zM564 570h5.5v5.5h-5.5zM559 575h10.5v5.5h-10.5zM564 580h5.5v5.5h-5.5zM729 580h35.5v5.5h-35.5zM569 585h5.5v5.5h-5.5zM709 585h15.5v5.5h-15.5zM769 585h10.5v5.5h-10.5zM574 590h10.5v5.5h-10.5zM704 590h5.5v5.5h-5.5zM779 590h5.5v5.5h-5.5zM429 595h5.5v5.5h-5.5zM584 595h10.5v5.5h-10.5zM694 595h10.5v5.5h-10.5zM789 595h5.5v5.5h-5.5zM594 600h5.5v5.5h-5.5zM689 600h5.5v5.5h-5.5zM794 600h5.5v5.5h-5.5zM889 600h20.5v5.5h-20.5zM604 605h5.5v5.5h-5.5zM684 605h5.5v5.5h-5.5zM799 605h5.5v5.5h-5.5zM879 605h5.5v5.5h-5.5zM914 605h5.5v5.5h-5.5zM614 610h10.5v5.5h-10.5zM674 610h10.5v5.5h-10.5zM804 610h5.5v5.5h-5.5zM869 610h5.5v5.5h-5.5zM919 610h5.5v5.5h-5.5zM624 615h10.5v5.5h-10.5zM669 615h5.5v5.5h-5.5zM809 615h5.5v5.5h-5.5zM859 615h5.5v5.5h-5.5zM929 615h15.5v5.5h-15.5zM959 615h10.5v5.5h-10.5zM634 620h30.5v5.5h-30.5zM814 620h5.5v5.5h-5.5zM854 620h5.5v5.5h-5.5zM819 625h5.5v5.5h-5.5zM844 625h5.5v5.5h-5.5zM824 630h20.5v5.5h-20.5z"/><path fill="#ff9e00" d="M849 115h15.5v5.5h-15.5zM854 120h5.5v5.5h-5.5zM829 130h5.5v5.5h-5.5zM849 130h5.5v5.5h-5.5zM844 135h5.5v5.5h-5.5zM829 140h15.5v5.5h-15.5zM679 185h5.5v5.5h-5.5zM679 200h5.5v5.5h-5.5zM684 205h5.5v5.5h-5.5zM694 215h5.5v5.5h-5.5zM284 235h5.5v5.5h-5.5zM284 240h5.5v5.5h-5.5zM694 245h5.5v5.5h-5.5zM664 250h5.5v5.5h-5.5zM299 255h5.5v5.5h-5.5zM659 255h5.5v5.5h-5.5zM679 255h5.5v5.5h-5.5zM304 260h5.5v5.5h-5.5zM654 260h5.5v5.5h-5.5zM654 265h5.5v5.5h-5.5zM314 270h5.5v5.5h-5.5zM649 275h5.5v5.5h-5.5zM314 280h5.5v5.5h-5.5zM649 280h5.5v5.5h-5.5zM654 285h5.5v5.5h-5.5zM709 285h5.5v5.5h-5.5zM309 290h5.5v5.5h-5.5zM659 290h5.5v5.5h-5.5zM699 290h5.5v5.5h-5.5zM304 295h5.5v5.5h-5.5zM669 295h5.5v5.5h-5.5zM304 300h5.5v5.5h-5.5zM304 305h5.5v5.5h-5.5zM304 310h5.5v5.5h-5.5zM309 320h5.5v5.5h-5.5zM314 325h5.5v5.5h-5.5zM314 330h5.5v5.5h-5.5zM319 340h5.5v5.5h-5.5zM839 340h5.5v5.5h-5.5zM849 345h5.5v5.5h-5.5zM324 350h5.5v5.5h-5.5zM829 350h5.5v5.5h-5.5zM329 355h5.5v5.5h-5.5zM829 355h5.5v5.5h-5.5zM859 355h5.5v5.5h-5.5zM334 360h5.5v5.5h-5.5zM784 360h5.5v5.5h-5.5zM829 360h5.5v5.5h-5.5zM339 365h10.5v5.5h-10.5zM864 365h5.5v5.5h-5.5zM349 370h5.5v5.5h-5.5zM779 370h5.5v5.5h-5.5zM864 370h5.5v5.5h-5.5zM354 375h5.5v5.5h-5.5zM779 375h5.5v5.5h-5.5zM829 375h5.5v5.5h-5.5zM864 375h5.5v5.5h-5.5zM864 380h10.5v5.5h-10.5zM774 385h5.5v5.5h-5.5zM834 385h5.5v5.5h-5.5zM874 385h5.5v5.5h-5.5zM879 390h5.5v5.5h-5.5zM369 395h5.5v5.5h-5.5zM839 395h5.5v5.5h-5.5zM879 395h10.5v5.5h-10.5zM374 400h5.5v5.5h-5.5zM769 400h5.5v5.5h-5.5zM844 400h5.5v5.5h-5.5zM884 400h5.5v5.5h-5.5zM374 405h5.5v5.5h-5.5zM844 405h5.5v5.5h-5.5zM884 405h10.5v5.5h-10.5zM374 410h10.5v5.5h-10.5zM549 410h20.5v5.5h-20.5zM764 410h5.5v5.5h-5.5zM849 410h5.5v5.5h-5.5zM884 410h10.5v5.5h-10.5zM379 415h10.5v5.5h-10.5zM539 415h10.5v5.5h-10.5zM569 415h5.5v5.5h-5.5zM764 415h5.5v5.5h-5.5zM849 415h5.5v5.5h-5.5zM884 415h10.5v5.5h-10.5zM384 420h35.5v5.5h-35.5zM539 420h5.5v5.5h-5.5zM574 420h5.5v5.5h-5.5zM849 420h5.5v5.5h-5.5zM884 420h10.5v5.5h-10.5zM429 425h15.5v5.5h-15.5zM539 425h5.5v5.5h-5.5zM579 425h5.5v5.5h-5.5zM759 425h5.5v5.5h-5.5zM884 425h15.5v5.5h-15.5zM439 430h10.5v5.5h-10.5zM539 430h5.5v5.5h-5.5zM584 430h5.5v5.5h-5.5zM759 430h5.5v5.5h-5.5zM854 430h5.5v5.5h-5.5zM889 430h15.5v5.5h-15.5zM449 435h5.5v5.5h-5.5zM544 435h5.5v5.5h-5.5zM759 435h5.5v5.5h-5.5zM859 435h5.5v5.5h-5.5zM899 435h15.5v5.5h-15.5zM454 440h5.5v5.5h-5.5zM544 440h5.5v5.5h-5.5zM589 440h5.5v5.5h-5.5zM759 440h5.5v5.5h-5.5zM859 440h10.5v5.5h-10.5zM914 440h5.5v5.5h-5.5zM459 445h10.5v5.5h-10.5zM544 445h5.5v5.5h-5.5zM764 445h5.5v5.5h-5.5zM864 445h15.5v5.5h-15.5zM914 445h5.5v5.5h-5.5zM469 450h10.5v5.5h-10.5zM539 450h5.5v5.5h-5.5zM594 450h5.5v5.5h-5.5zM874 450h15.5v5.5h-15.5zM899 450h10.5v5.5h-10.5zM479 455h10.5v5.5h-10.5zM529 455h10.5v5.5h-10.5zM594 455h5.5v5.5h-5.5zM779 455h5.5v5.5h-5.5zM789 460h5.5v5.5h-5.5zM599 465h5.5v5.5h-5.5zM804 465h20.5v5.5h-20.5zM599 470h5.5v5.5h-5.5zM834 470h10.5v5.5h-10.5zM604 475h5.5v5.5h-5.5zM849 475h5.5v5.5h-5.5zM614 480h5.5v5.5h-5.5zM859 480h5.5v5.5h-5.5zM624 485h5.5v5.5h-5.5zM629 490h5.5v5.5h-5.5zM874 490h5.5v5.5h-5.5zM634 495h5.5v5.5h-5.5zM634 500h5.5v5.5h-5.5zM639 505h5.5v5.5h-5.5zM639 510h5.5v5.5h-5.5zM639 515h5.5v5.5h-5.5zM634 520h5.5v5.5h-5.5zM904 520h5.5v5.5h-5.5zM634 525h5.5v5.5h-5.5zM909 525h5.5v5.5h-5.5zM624 530h5.5v5.5h-5.5zM914 530h5.5v5.5h-5.5zM614 535h10.5v5.5h-10.5zM919 535h5.5v5.5h-5.5zM449 540h5.5v5.5h-5.5zM464 540h5.5v5.5h-5.5zM599 540h10.5v5.5h-10.5zM924 540h5.5v5.5h-5.5zM589 545h5.5v5.5h-5.5zM929 545h5.5v5.5h-5.5zM584 550h5.5v5.5h-5.5zM939 550h5.5v5.5h-5.5zM579 555h5.5v5.5h-5.5zM954 555h10.5v5.5h-10.5zM459 560h5.5v5.5h-5.5zM574 560h5.5v5.5h-5.5zM569 570h5.5v5.5h-5.5zM569 575h5.5v5.5h-5.5zM569 580h5.5v5.5h-5.5zM709 580h20.5v5.5h-20.5zM764 580h10.5v5.5h-10.5zM574 585h5.5v5.5h-5.5zM704 585h5.5v5.5h-5.5zM779 585h5.5v5.5h-5.5zM584 590h5.5v5.5h-5.5zM699 590h5.5v5.5h-5.5zM784 590h5.5v5.5h-5.5zM594 595h5.5v5.5h-5.5zM689 595h5.5v5.5h-5.5zM889 595h20.5v5.5h-20.5zM599 600h10.5v5.5h-10.5zM684 600h5.5v5.5h-5.5zM799 600h5.5v5.5h-5.5zM879 600h10.5v5.5h-10.5zM909 600h10.5v5.5h-10.5zM609 605h10.5v5.5h-10.5zM679 605h5.5v5.5h-5.5zM804 605h5.5v5.5h-5.5zM869 605h10.5v5.5h-10.5zM919 605h5.5v5.5h-5.5zM624 610h5.5v5.5h-5.5zM669 610h5.5v5.5h-5.5zM809 610h5.5v5.5h-5.5zM864 610h5.5v5.5h-5.5zM924 610h10.5v5.5h-10.5zM634 615h35.5v5.5h-35.5zM814 615h5.5v5.5h-5.5zM854 615h5.5v5.5h-5.5zM944 615h15.5v5.5h-15.5zM844 620h10.5v5.5h-10.5zM824 625h5.5v5.5h-5.5zM839 625h5.5v5.5h-5.5z"/><path fill="#ff9800" d="M839 120h15.5v5.5h-15.5zM834 125h5.5v5.5h-5.5zM849 125h5.5v5.5h-5.5zM829 135h5.5v5.5h-5.5zM689 210h5.5v5.5h-5.5zM284 230h5.5v5.5h-5.5zM289 245h5.5v5.5h-5.5zM294 250h5.5v5.5h-5.5zM659 250h5.5v5.5h-5.5zM669 250h5.5v5.5h-5.5zM654 255h5.5v5.5h-5.5zM684 255h5.5v5.5h-5.5zM309 260h5.5v5.5h-5.5zM314 265h5.5v5.5h-5.5zM649 265h5.5v5.5h-5.5zM319 270h5.5v5.5h-5.5zM649 270h5.5v5.5h-5.5zM319 275h5.5v5.5h-5.5zM319 280h5.5v5.5h-5.5zM314 285h5.5v5.5h-5.5zM649 285h5.5v5.5h-5.5zM714 285h10.5v5.5h-10.5zM654 290h5.5v5.5h-5.5zM309 295h5.5v5.5h-5.5zM664 295h5.5v5.5h-5.5zM689 295h5.5v5.5h-5.5zM309 310h5.5v5.5h-5.5zM309 315h5.5v5.5h-5.5zM314 320h5.5v5.5h-5.5zM319 330h5.5v5.5h-5.5zM319 335h5.5v5.5h-5.5zM324 345h5.5v5.5h-5.5zM834 345h15.5v5.5h-15.5zM854 350h5.5v5.5h-5.5zM784 355h5.5v5.5h-5.5zM339 360h5.5v5.5h-5.5zM859 360h5.5v5.5h-5.5zM349 365h5.5v5.5h-5.5zM779 365h5.5v5.5h-5.5zM829 365h5.5v5.5h-5.5zM354 370h5.5v5.5h-5.5zM829 370h5.5v5.5h-5.5zM774 375h5.5v5.5h-5.5zM859 375h5.5v5.5h-5.5zM359 380h5.5v5.5h-5.5zM774 380h5.5v5.5h-5.5zM859 380h5.5v5.5h-5.5zM364 385h5.5v5.5h-5.5zM839 385h5.5v5.5h-5.5zM849 385h25.5v5.5h-25.5zM369 390h5.5v5.5h-5.5zM769 390h5.5v5.5h-5.5zM839 390h20.5v5.5h-20.5zM869 390h10.5v5.5h-10.5zM374 395h5.5v5.5h-5.5zM534 395h10.5v5.5h-10.5zM769 395h5.5v5.5h-5.5zM844 395h10.5v5.5h-10.5zM874 395h5.5v5.5h-5.5zM379 400h5.5v5.5h-5.5zM529 400h20.5v5.5h-20.5zM849 400h5.5v5.5h-5.5zM874 400h10.5v5.5h-10.5zM379 405h5.5v5.5h-5.5zM529 405h35.5v5.5h-35.5zM764 405h5.5v5.5h-5.5zM849 405h5.5v5.5h-5.5zM879 405h5.5v5.5h-5.5zM384 410h10.5v5.5h-10.5zM529 410h20.5v5.5h-20.5zM569 410h5.5v5.5h-5.5zM854 410h5.5v5.5h-5.5zM879 410h5.5v5.5h-5.5zM389 415h25.5v5.5h-25.5zM534 415h5.5v5.5h-5.5zM574 415h5.5v5.5h-5.5zM759 415h5.5v5.5h-5.5zM854 415h5.5v5.5h-5.5zM879 415h5.5v5.5h-5.5zM419 420h15.5v5.5h-15.5zM534 420h5.5v5.5h-5.5zM579 420h5.5v5.5h-5.5zM754 420h10.5v5.5h-10.5zM854 420h5.5v5.5h-5.5zM874 420h10.5v5.5h-10.5zM444 425h10.5v5.5h-10.5zM534 425h5.5v5.5h-5.5zM754 425h5.5v5.5h-5.5zM854 425h10.5v5.5h-10.5zM874 425h10.5v5.5h-10.5zM449 430h10.5v5.5h-10.5zM534 430h5.5v5.5h-5.5zM754 430h5.5v5.5h-5.5zM859 430h30.5v5.5h-30.5zM454 435h10.5v5.5h-10.5zM539 435h5.5v5.5h-5.5zM589 435h5.5v5.5h-5.5zM754 435h5.5v5.5h-5.5zM864 435h35.5v5.5h-35.5zM459 440h10.5v5.5h-10.5zM539 440h5.5v5.5h-5.5zM754 440h5.5v5.5h-5.5zM869 440h20.5v5.5h-20.5zM894 440h20.5v5.5h-20.5zM469 445h5.5v5.5h-5.5zM539 445h5.5v5.5h-5.5zM594 445h5.5v5.5h-5.5zM759 445h5.5v5.5h-5.5zM879 445h10.5v5.5h-10.5zM894 445h20.5v5.5h-20.5zM479 450h5.5v5.5h-5.5zM534 450h5.5v5.5h-5.5zM769 450h5.5v5.5h-5.5zM889 450h10.5v5.5h-10.5zM489 455h10.5v5.5h-10.5zM519 455h10.5v5.5h-10.5zM599 460h5.5v5.5h-5.5zM784 460h5.5v5.5h-5.5zM799 465h5.5v5.5h-5.5zM604 470h5.5v5.5h-5.5zM829 470h5.5v5.5h-5.5zM609 475h5.5v5.5h-5.5zM844 475h5.5v5.5h-5.5zM619 480h5.5v5.5h-5.5zM854 480h5.5v5.5h-5.5zM629 485h5.5v5.5h-5.5zM864 485h5.5v5.5h-5.5zM634 490h5.5v5.5h-5.5zM869 490h5.5v5.5h-5.5zM639 495h5.5v5.5h-5.5zM874 495h5.5v5.5h-5.5zM639 500h5.5v5.5h-5.5zM644 505h5.5v5.5h-5.5zM644 510h5.5v5.5h-5.5zM644 515h5.5v5.5h-5.5zM639 520h10.5v5.5h-10.5zM639 525h5.5v5.5h-5.5zM629 530h5.5v5.5h-5.5zM624 535h5.5v5.5h-5.5zM459 540h5.5v5.5h-5.5zM609 540h5.5v5.5h-5.5zM594 545h5.5v5.5h-5.5zM929 550h10.5v5.5h-10.5zM449 555h5.5v5.5h-5.5zM949 555h5.5v5.5h-5.5zM579 560h5.5v5.5h-5.5zM574 565h5.5v5.5h-5.5zM574 570h5.5v5.5h-5.5zM714 570h20.5v5.5h-20.5zM574 575h5.5v5.5h-5.5zM709 575h60.5v5.5h-60.5zM574 580h5.5v5.5h-5.5zM704 580h5.5v5.5h-5.5zM774 580h5.5v5.5h-5.5zM579 585h10.5v5.5h-10.5zM694 585h10.5v5.5h-10.5zM784 585h5.5v5.5h-5.5zM589 590h10.5v5.5h-10.5zM689 590h10.5v5.5h-10.5zM789 590h5.5v5.5h-5.5zM884 590h30.5v5.5h-30.5zM599 595h5.5v5.5h-5.5zM684 595h5.5v5.5h-5.5zM794 595h5.5v5.5h-5.5zM879 595h10.5v5.5h-10.5zM909 595h10.5v5.5h-10.5zM609 600h5.5v5.5h-5.5zM679 600h5.5v5.5h-5.5zM804 600h5.5v5.5h-5.5zM869 600h10.5v5.5h-10.5zM919 600h5.5v5.5h-5.5zM619 605h10.5v5.5h-10.5zM674 605h5.5v5.5h-5.5zM809 605h5.5v5.5h-5.5zM864 605h5.5v5.5h-5.5zM924 605h5.5v5.5h-5.5zM629 610h15.5v5.5h-15.5zM659 610h10.5v5.5h-10.5zM814 610h5.5v5.5h-5.5zM854 610h10.5v5.5h-10.5zM934 610h10.5v5.5h-10.5zM969 610h15.5v5.5h-15.5zM849 615h5.5v5.5h-5.5zM819 620h10.5v5.5h-10.5zM839 620h5.5v5.5h-5.5zM829 625h10.5v5.5h-10.5z"/><path fill="#ff9200" d="M839 125h10.5v5.5h-10.5zM834 130h5.5v5.5h-5.5zM844 130h5.5v5.5h-5.5zM834 135h10.5v5.5h-10.5zM664 175h5.5v5.5h-5.5zM674 180h5.5v5.5h-5.5zM674 185h5.5v5.5h-5.5zM674 190h5.5v5.5h-5.5zM674 195h5.5v5.5h-5.5zM694 220h5.5v5.5h-5.5zM694 225h5.5v5.5h-5.5zM694 230h5.5v5.5h-5.5zM289 235h5.5v5.5h-5.5zM694 235h5.5v5.5h-5.5zM289 240h5.5v5.5h-5.5zM659 240h5.5v5.5h-5.5zM694 240h5.5v5.5h-5.5zM294 245h5.5v5.5h-5.5zM654 245h15.5v5.5h-15.5zM299 250h5.5v5.5h-5.5zM654 250h5.5v5.5h-5.5zM674 250h5.5v5.5h-5.5zM689 250h5.5v5.5h-5.5zM304 255h5.5v5.5h-5.5zM649 255h5.5v5.5h-5.5zM649 260h5.5v5.5h-5.5zM644 265h5.5v5.5h-5.5zM324 270h5.5v5.5h-5.5zM644 270h5.5v5.5h-5.5zM324 275h5.5v5.5h-5.5zM644 275h5.5v5.5h-5.5zM324 280h5.5v5.5h-5.5zM644 280h5.5v5.5h-5.5zM319 285h10.5v5.5h-10.5zM644 285h5.5v5.5h-5.5zM314 290h10.5v5.5h-10.5zM644 290h10.5v5.5h-10.5zM314 295h5.5v5.5h-5.5zM649 295h15.5v5.5h-15.5zM309 300h5.5v5.5h-5.5zM559 300h20.5v5.5h-20.5zM309 305h5.5v5.5h-5.5zM559 305h20.5v5.5h-20.5zM314 310h5.5v5.5h-5.5zM564 310h15.5v5.5h-15.5zM314 315h5.5v5.5h-5.5zM319 320h5.5v5.5h-5.5zM319 325h5.5v5.5h-5.5zM324 335h5.5v5.5h-5.5zM324 340h5.5v5.5h-5.5zM329 350h5.5v5.5h-5.5zM834 350h5.5v5.5h-5.5zM849 350h5.5v5.5h-5.5zM334 355h5.5v5.5h-5.5zM344 360h5.5v5.5h-5.5zM779 360h5.5v5.5h-5.5zM354 365h5.5v5.5h-5.5zM859 365h5.5v5.5h-5.5zM774 370h5.5v5.5h-5.5zM859 370h5.5v5.5h-5.5zM359 375h5.5v5.5h-5.5zM854 375h5.5v5.5h-5.5zM364 380h5.5v5.5h-5.5zM834 380h5.5v5.5h-5.5zM849 380h10.5v5.5h-10.5zM369 385h5.5v5.5h-5.5zM534 385h10.5v5.5h-10.5zM769 385h5.5v5.5h-5.5zM844 385h5.5v5.5h-5.5zM374 390h5.5v5.5h-5.5zM529 390h20.5v5.5h-20.5zM859 390h10.5v5.5h-10.5zM379 395h5.5v5.5h-5.5zM524 395h10.5v5.5h-10.5zM544 395h10.5v5.5h-10.5zM854 395h20.5v5.5h-20.5zM384 400h5.5v5.5h-5.5zM524 400h5.5v5.5h-5.5zM549 400h10.5v5.5h-10.5zM764 400h5.5v5.5h-5.5zM854 400h20.5v5.5h-20.5zM384 405h10.5v5.5h-10.5zM524 405h5.5v5.5h-5.5zM564 405h5.5v5.5h-5.5zM854 405h25.5v5.5h-25.5zM394 410h15.5v5.5h-15.5zM524 410h5.5v5.5h-5.5zM759 410h5.5v5.5h-5.5zM859 410h20.5v5.5h-20.5zM414 415h5.5v5.5h-5.5zM524 415h10.5v5.5h-10.5zM754 415h5.5v5.5h-5.5zM859 415h20.5v5.5h-20.5zM434 420h20.5v5.5h-20.5zM529 420h5.5v5.5h-5.5zM749 420h5.5v5.5h-5.5zM859 420h15.5v5.5h-15.5zM454 425h5.5v5.5h-5.5zM529 425h5.5v5.5h-5.5zM584 425h5.5v5.5h-5.5zM749 425h5.5v5.5h-5.5zM864 425h10.5v5.5h-10.5zM459 430h5.5v5.5h-5.5zM529 430h5.5v5.5h-5.5zM589 430h5.5v5.5h-5.5zM744 430h10.5v5.5h-10.5zM464 435h5.5v5.5h-5.5zM534 435h5.5v5.5h-5.5zM744 435h10.5v5.5h-10.5zM469 440h5.5v5.5h-5.5zM534 440h5.5v5.5h-5.5zM594 440h5.5v5.5h-5.5zM749 440h5.5v5.5h-5.5zM889 440h5.5v5.5h-5.5zM474 445h10.5v5.5h-10.5zM534 445h5.5v5.5h-5.5zM754 445h5.5v5.5h-5.5zM889 445h5.5v5.5h-5.5zM484 450h10.5v5.5h-10.5zM529 450h5.5v5.5h-5.5zM764 450h5.5v5.5h-5.5zM499 455h20.5v5.5h-20.5zM599 455h5.5v5.5h-5.5zM774 455h5.5v5.5h-5.5zM604 465h5.5v5.5h-5.5zM794 465h5.5v5.5h-5.5zM609 470h5.5v5.5h-5.5zM809 470h20.5v5.5h-20.5zM614 475h5.5v5.5h-5.5zM839 475h5.5v5.5h-5.5zM624 480h5.5v5.5h-5.5zM849 480h5.5v5.5h-5.5zM634 485h5.5v5.5h-5.5zM859 485h5.5v5.5h-5.5zM639 490h5.5v5.5h-5.5zM644 495h5.5v5.5h-5.5zM644 500h5.5v5.5h-5.5zM879 500h5.5v5.5h-5.5zM884 505h5.5v5.5h-5.5zM649 510h5.5v5.5h-5.5zM889 510h5.5v5.5h-5.5zM649 515h5.5v5.5h-5.5zM649 520h5.5v5.5h-5.5zM644 525h5.5v5.5h-5.5zM634 530h5.5v5.5h-5.5zM629 535h5.5v5.5h-5.5zM914 535h5.5v5.5h-5.5zM454 540h5.5v5.5h-5.5zM614 540h5.5v5.5h-5.5zM919 540h5.5v5.5h-5.5zM449 545h5.5v5.5h-5.5zM599 545h10.5v5.5h-10.5zM924 545h5.5v5.5h-5.5zM449 550h5.5v5.5h-5.5zM589 550h5.5v5.5h-5.5zM709 550h10.5v5.5h-10.5zM924 550h5.5v5.5h-5.5zM454 555h5.5v5.5h-5.5zM584 555h5.5v5.5h-5.5zM704 555h25.5v5.5h-25.5zM929 555h20.5v5.5h-20.5zM709 560h25.5v5.5h-25.5zM579 565h5.5v5.5h-5.5zM709 565h30.5v5.5h-30.5zM704 570h10.5v5.5h-10.5zM734 570h20.5v5.5h-20.5zM579 575h5.5v5.5h-5.5zM699 575h10.5v5.5h-10.5zM769 575h5.5v5.5h-5.5zM579 580h10.5v5.5h-10.5zM694 580h10.5v5.5h-10.5zM779 580h5.5v5.5h-5.5zM589 585h5.5v5.5h-5.5zM689 585h5.5v5.5h-5.5zM789 585h5.5v5.5h-5.5zM884 585h30.5v5.5h-30.5zM599 590h5.5v5.5h-5.5zM684 590h5.5v5.5h-5.5zM794 590h5.5v5.5h-5.5zM879 590h5.5v5.5h-5.5zM914 590h5.5v5.5h-5.5zM604 595h10.5v5.5h-10.5zM679 595h5.5v5.5h-5.5zM799 595h5.5v5.5h-5.5zM869 595h10.5v5.5h-10.5zM919 595h5.5v5.5h-5.5zM614 600h10.5v5.5h-10.5zM674 600h5.5v5.5h-5.5zM809 600h5.5v5.5h-5.5zM864 600h5.5v5.5h-5.5zM924 600h5.5v5.5h-5.5zM629 605h5.5v5.5h-5.5zM664 605h10.5v5.5h-10.5zM814 605h5.5v5.5h-5.5zM854 605h10.5v5.5h-10.5zM929 605h5.5v5.5h-5.5zM644 610h15.5v5.5h-15.5zM819 610h5.5v5.5h-5.5zM849 610h5.5v5.5h-5.5zM944 610h25.5v5.5h-25.5zM819 615h10.5v5.5h-10.5zM839 615h10.5v5.5h-10.5zM829 620h10.5v5.5h-10.5z"/><path fill="#ff8c00" d="M839 130h5.5v5.5h-5.5zM659 180h15.5v5.5h-15.5zM669 185h5.5v5.5h-5.5zM669 190h5.5v5.5h-5.5zM674 200h5.5v5.5h-5.5zM679 205h5.5v5.5h-5.5zM684 210h5.5v5.5h-5.5zM689 215h5.5v5.5h-5.5zM289 230h5.5v5.5h-5.5zM659 230h5.5v5.5h-5.5zM654 235h15.5v5.5h-15.5zM294 240h5.5v5.5h-5.5zM654 240h5.5v5.5h-5.5zM664 240h5.5v5.5h-5.5zM649 245h5.5v5.5h-5.5zM669 245h5.5v5.5h-5.5zM649 250h5.5v5.5h-5.5zM679 250h5.5v5.5h-5.5zM309 255h5.5v5.5h-5.5zM314 260h5.5v5.5h-5.5zM644 260h5.5v5.5h-5.5zM319 265h5.5v5.5h-5.5zM639 270h5.5v5.5h-5.5zM329 275h5.5v5.5h-5.5zM639 275h5.5v5.5h-5.5zM329 280h5.5v5.5h-5.5zM639 280h5.5v5.5h-5.5zM329 285h5.5v5.5h-5.5zM639 285h5.5v5.5h-5.5zM324 290h10.5v5.5h-10.5zM639 290h5.5v5.5h-5.5zM704 290h5.5v5.5h-5.5zM724 290h5.5v5.5h-5.5zM319 295h10.5v5.5h-10.5zM559 295h15.5v5.5h-15.5zM634 295h15.5v5.5h-15.5zM694 295h5.5v5.5h-5.5zM729 295h5.5v5.5h-5.5zM314 300h10.5v5.5h-10.5zM554 300h5.5v5.5h-5.5zM579 300h5.5v5.5h-5.5zM634 300h45.5v5.5h-45.5zM314 305h10.5v5.5h-10.5zM554 305h5.5v5.5h-5.5zM579 305h20.5v5.5h-20.5zM609 305h55.5v5.5h-55.5zM319 310h5.5v5.5h-5.5zM559 310h5.5v5.5h-5.5zM579 310h80.5v5.5h-80.5zM319 315h5.5v5.5h-5.5zM559 315h100.5v5.5h-100.5zM564 320h25.5v5.5h-25.5zM609 320h50.5v5.5h-50.5zM324 325h5.5v5.5h-5.5zM624 325h35.5v5.5h-35.5zM324 330h5.5v5.5h-5.5zM629 330h35.5v5.5h-35.5zM634 335h30.5v5.5h-30.5zM329 340h5.5v5.5h-5.5zM639 340h20.5v5.5h-20.5zM329 345h5.5v5.5h-5.5zM334 350h5.5v5.5h-5.5zM839 350h10.5v5.5h-10.5zM339 355h10.5v5.5h-10.5zM834 355h5.5v5.5h-5.5zM854 355h5.5v5.5h-5.5zM349 360h10.5v5.5h-10.5zM774 360h5.5v5.5h-5.5zM834 360h5.5v5.5h-5.5zM359 365h5.5v5.5h-5.5zM774 365h5.5v5.5h-5.5zM359 370h5.5v5.5h-5.5zM364 375h5.5v5.5h-5.5zM769 375h5.5v5.5h-5.5zM834 375h5.5v5.5h-5.5zM369 380h5.5v5.5h-5.5zM529 380h15.5v5.5h-15.5zM769 380h5.5v5.5h-5.5zM839 380h10.5v5.5h-10.5zM374 385h5.5v5.5h-5.5zM524 385h10.5v5.5h-10.5zM544 385h5.5v5.5h-5.5zM379 390h5.5v5.5h-5.5zM519 390h10.5v5.5h-10.5zM549 390h5.5v5.5h-5.5zM384 395h5.5v5.5h-5.5zM514 395h10.5v5.5h-10.5zM554 395h5.5v5.5h-5.5zM764 395h5.5v5.5h-5.5zM389 400h5.5v5.5h-5.5zM514 400h10.5v5.5h-10.5zM559 400h10.5v5.5h-10.5zM394 405h10.5v5.5h-10.5zM519 405h5.5v5.5h-5.5zM569 405h5.5v5.5h-5.5zM759 405h5.5v5.5h-5.5zM409 410h5.5v5.5h-5.5zM519 410h5.5v5.5h-5.5zM574 410h5.5v5.5h-5.5zM754 410h5.5v5.5h-5.5zM419 415h15.5v5.5h-15.5zM439 415h20.5v5.5h-20.5zM579 415h5.5v5.5h-5.5zM749 415h5.5v5.5h-5.5zM454 420h10.5v5.5h-10.5zM524 420h5.5v5.5h-5.5zM584 420h5.5v5.5h-5.5zM739 420h10.5v5.5h-10.5zM459 425h10.5v5.5h-10.5zM524 425h5.5v5.5h-5.5zM739 425h10.5v5.5h-10.5zM464 430h10.5v5.5h-10.5zM524 430h5.5v5.5h-5.5zM739 430h5.5v5.5h-5.5zM469 435h10.5v5.5h-10.5zM529 435h5.5v5.5h-5.5zM594 435h5.5v5.5h-5.5zM739 435h5.5v5.5h-5.5zM474 440h10.5v5.5h-10.5zM529 440h5.5v5.5h-5.5zM739 440h10.5v5.5h-10.5zM484 445h5.5v5.5h-5.5zM529 445h5.5v5.5h-5.5zM744 445h10.5v5.5h-10.5zM494 450h10.5v5.5h-10.5zM519 450h10.5v5.5h-10.5zM599 450h5.5v5.5h-5.5zM759 450h5.5v5.5h-5.5zM769 455h5.5v5.5h-5.5zM604 460h5.5v5.5h-5.5zM779 460h5.5v5.5h-5.5zM609 465h5.5v5.5h-5.5zM789 465h5.5v5.5h-5.5zM614 470h5.5v5.5h-5.5zM799 470h10.5v5.5h-10.5zM619 475h5.5v5.5h-5.5zM834 475h5.5v5.5h-5.5zM629 480h5.5v5.5h-5.5zM844 480h5.5v5.5h-5.5zM639 485h5.5v5.5h-5.5zM854 485h5.5v5.5h-5.5zM644 490h5.5v5.5h-5.5zM864 490h5.5v5.5h-5.5zM869 495h5.5v5.5h-5.5zM649 500h5.5v5.5h-5.5zM649 505h5.5v5.5h-5.5zM654 510h5.5v5.5h-5.5zM654 515h5.5v5.5h-5.5zM894 515h5.5v5.5h-5.5zM654 520h5.5v5.5h-5.5zM899 520h5.5v5.5h-5.5zM649 525h10.5v5.5h-10.5zM639 530h10.5v5.5h-10.5zM909 530h5.5v5.5h-5.5zM634 535h5.5v5.5h-5.5zM674 535h10.5v5.5h-10.5zM619 540h10.5v5.5h-10.5zM674 540h20.5v5.5h-20.5zM464 545h5.5v5.5h-5.5zM609 545h5.5v5.5h-5.5zM674 545h50.5v5.5h-50.5zM919 545h5.5v5.5h-5.5zM594 550h10.5v5.5h-10.5zM679 550h30.5v5.5h-30.5zM719 550h15.5v5.5h-15.5zM459 555h10.5v5.5h-10.5zM589 555h5.5v5.5h-5.5zM684 555h20.5v5.5h-20.5zM729 555h10.5v5.5h-10.5zM924 555h5.5v5.5h-5.5zM584 560h5.5v5.5h-5.5zM694 560h15.5v5.5h-15.5zM734 560h10.5v5.5h-10.5zM924 560h20.5v5.5h-20.5zM954 560h10.5v5.5h-10.5zM584 565h5.5v5.5h-5.5zM694 565h15.5v5.5h-15.5zM739 565h10.5v5.5h-10.5zM579 570h5.5v5.5h-5.5zM694 570h10.5v5.5h-10.5zM754 570h15.5v5.5h-15.5zM584 575h5.5v5.5h-5.5zM694 575h5.5v5.5h-5.5zM774 575h10.5v5.5h-10.5zM589 580h5.5v5.5h-5.5zM689 580h5.5v5.5h-5.5zM784 580h5.5v5.5h-5.5zM884 580h35.5v5.5h-35.5zM594 585h5.5v5.5h-5.5zM684 585h5.5v5.5h-5.5zM794 585h5.5v5.5h-5.5zM874 585h10.5v5.5h-10.5zM914 585h5.5v5.5h-5.5zM604 590h5.5v5.5h-5.5zM679 590h5.5v5.5h-5.5zM799 590h5.5v5.5h-5.5zM869 590h10.5v5.5h-10.5zM919 590h5.5v5.5h-5.5zM614 595h5.5v5.5h-5.5zM674 595h5.5v5.5h-5.5zM804 595h10.5v5.5h-10.5zM864 595h5.5v5.5h-5.5zM924 595h5.5v5.5h-5.5zM624 600h5.5v5.5h-5.5zM669 600h5.5v5.5h-5.5zM814 600h5.5v5.5h-5.5zM854 600h10.5v5.5h-10.5zM929 600h5.5v5.5h-5.5zM634 605h30.5v5.5h-30.5zM819 605h5.5v5.5h-5.5zM844 605h10.5v5.5h-10.5zM934 605h10.5v5.5h-10.5zM824 610h25.5v5.5h-25.5zM829 615h10.5v5.5h-10.5z"/><path fill="#ff8600" d="M649 185h20.5v5.5h-20.5zM664 190h5.5v5.5h-5.5zM669 195h5.5v5.5h-5.5zM669 200h5.5v5.5h-5.5zM674 205h5.5v5.5h-5.5zM654 225h10.5v5.5h-10.5zM649 230h10.5v5.5h-10.5zM664 230h5.5v5.5h-5.5zM294 235h5.5v5.5h-5.5zM649 235h5.5v5.5h-5.5zM649 240h5.5v5.5h-5.5zM669 240h5.5v5.5h-5.5zM299 245h5.5v5.5h-5.5zM644 245h5.5v5.5h-5.5zM674 245h5.5v5.5h-5.5zM689 245h5.5v5.5h-5.5zM304 250h5.5v5.5h-5.5zM644 250h5.5v5.5h-5.5zM684 250h5.5v5.5h-5.5zM644 255h5.5v5.5h-5.5zM639 260h5.5v5.5h-5.5zM324 265h5.5v5.5h-5.5zM639 265h5.5v5.5h-5.5zM329 270h5.5v5.5h-5.5zM634 270h5.5v5.5h-5.5zM334 275h5.5v5.5h-5.5zM634 275h5.5v5.5h-5.5zM334 280h5.5v5.5h-5.5zM634 280h5.5v5.5h-5.5zM334 285h10.5v5.5h-10.5zM634 285h5.5v5.5h-5.5zM334 290h10.5v5.5h-10.5zM559 290h10.5v5.5h-10.5zM629 290h10.5v5.5h-10.5zM329 295h15.5v5.5h-15.5zM554 295h5.5v5.5h-5.5zM574 295h10.5v5.5h-10.5zM614 295h20.5v5.5h-20.5zM324 300h15.5v5.5h-15.5zM549 300h5.5v5.5h-5.5zM584 300h50.5v5.5h-50.5zM679 300h5.5v5.5h-5.5zM324 305h10.5v5.5h-10.5zM549 305h5.5v5.5h-5.5zM599 305h10.5v5.5h-10.5zM664 305h10.5v5.5h-10.5zM324 310h5.5v5.5h-5.5zM554 310h5.5v5.5h-5.5zM659 310h10.5v5.5h-10.5zM324 315h5.5v5.5h-5.5zM554 315h5.5v5.5h-5.5zM659 315h10.5v5.5h-10.5zM324 320h5.5v5.5h-5.5zM554 320h10.5v5.5h-10.5zM589 320h20.5v5.5h-20.5zM659 320h10.5v5.5h-10.5zM329 325h5.5v5.5h-5.5zM554 325h70.5v5.5h-70.5zM659 325h10.5v5.5h-10.5zM329 330h5.5v5.5h-5.5zM604 330h25.5v5.5h-25.5zM664 330h10.5v5.5h-10.5zM329 335h5.5v5.5h-5.5zM619 335h15.5v5.5h-15.5zM664 335h10.5v5.5h-10.5zM624 340h15.5v5.5h-15.5zM659 340h20.5v5.5h-20.5zM334 345h5.5v5.5h-5.5zM629 345h50.5v5.5h-50.5zM339 350h5.5v5.5h-5.5zM629 350h45.5v5.5h-45.5zM349 355h10.5v5.5h-10.5zM639 355h20.5v5.5h-20.5zM359 360h5.5v5.5h-5.5zM854 360h5.5v5.5h-5.5zM364 365h5.5v5.5h-5.5zM534 365h5.5v5.5h-5.5zM834 365h5.5v5.5h-5.5zM854 365h5.5v5.5h-5.5zM364 370h5.5v5.5h-5.5zM529 370h15.5v5.5h-15.5zM769 370h5.5v5.5h-5.5zM834 370h5.5v5.5h-5.5zM854 370h5.5v5.5h-5.5zM369 375h5.5v5.5h-5.5zM529 375h15.5v5.5h-15.5zM714 375h5.5v5.5h-5.5zM839 375h15.5v5.5h-15.5zM374 380h5.5v5.5h-5.5zM524 380h5.5v5.5h-5.5zM544 380h5.5v5.5h-5.5zM714 380h5.5v5.5h-5.5zM379 385h5.5v5.5h-5.5zM519 385h5.5v5.5h-5.5zM549 385h5.5v5.5h-5.5zM714 385h5.5v5.5h-5.5zM764 385h5.5v5.5h-5.5zM384 390h5.5v5.5h-5.5zM509 390h10.5v5.5h-10.5zM554 390h5.5v5.5h-5.5zM714 390h5.5v5.5h-5.5zM764 390h5.5v5.5h-5.5zM389 395h5.5v5.5h-5.5zM494 395h20.5v5.5h-20.5zM559 395h10.5v5.5h-10.5zM664 395h5.5v5.5h-5.5zM704 395h15.5v5.5h-15.5zM394 400h5.5v5.5h-5.5zM484 400h30.5v5.5h-30.5zM569 400h5.5v5.5h-5.5zM664 400h55.5v5.5h-55.5zM759 400h5.5v5.5h-5.5zM404 405h5.5v5.5h-5.5zM474 405h45.5v5.5h-45.5zM574 405h5.5v5.5h-5.5zM669 405h55.5v5.5h-55.5zM754 405h5.5v5.5h-5.5zM414 410h5.5v5.5h-5.5zM464 410h20.5v5.5h-20.5zM514 410h5.5v5.5h-5.5zM579 410h5.5v5.5h-5.5zM674 410h55.5v5.5h-55.5zM749 410h5.5v5.5h-5.5zM434 415h5.5v5.5h-5.5zM459 415h20.5v5.5h-20.5zM519 415h5.5v5.5h-5.5zM584 415h5.5v5.5h-5.5zM689 415h60.5v5.5h-60.5zM464 420h15.5v5.5h-15.5zM519 420h5.5v5.5h-5.5zM699 420h40.5v5.5h-40.5zM469 425h10.5v5.5h-10.5zM519 425h5.5v5.5h-5.5zM589 425h5.5v5.5h-5.5zM699 425h40.5v5.5h-40.5zM474 430h5.5v5.5h-5.5zM594 430h5.5v5.5h-5.5zM709 430h30.5v5.5h-30.5zM479 435h5.5v5.5h-5.5zM524 435h5.5v5.5h-5.5zM729 435h10.5v5.5h-10.5zM484 440h5.5v5.5h-5.5zM524 440h5.5v5.5h-5.5zM599 440h5.5v5.5h-5.5zM734 440h5.5v5.5h-5.5zM489 445h10.5v5.5h-10.5zM519 445h10.5v5.5h-10.5zM599 445h5.5v5.5h-5.5zM739 445h5.5v5.5h-5.5zM504 450h15.5v5.5h-15.5zM749 450h10.5v5.5h-10.5zM604 455h5.5v5.5h-5.5zM764 455h5.5v5.5h-5.5zM784 465h5.5v5.5h-5.5zM619 470h5.5v5.5h-5.5zM794 470h5.5v5.5h-5.5zM624 475h10.5v5.5h-10.5zM824 475h10.5v5.5h-10.5zM634 480h5.5v5.5h-5.5zM644 485h5.5v5.5h-5.5zM649 490h5.5v5.5h-5.5zM859 490h5.5v5.5h-5.5zM649 495h5.5v5.5h-5.5zM654 500h5.5v5.5h-5.5zM874 500h5.5v5.5h-5.5zM654 505h5.5v5.5h-5.5zM659 515h5.5v5.5h-5.5zM659 520h10.5v5.5h-10.5zM659 525h20.5v5.5h-20.5zM904 525h5.5v5.5h-5.5zM649 530h40.5v5.5h-40.5zM639 535h5.5v5.5h-5.5zM659 535h15.5v5.5h-15.5zM684 535h10.5v5.5h-10.5zM629 540h5.5v5.5h-5.5zM664 540h10.5v5.5h-10.5zM694 540h20.5v5.5h-20.5zM914 540h5.5v5.5h-5.5zM454 545h10.5v5.5h-10.5zM614 545h5.5v5.5h-5.5zM669 545h5.5v5.5h-5.5zM724 545h10.5v5.5h-10.5zM454 550h15.5v5.5h-15.5zM604 550h5.5v5.5h-5.5zM674 550h5.5v5.5h-5.5zM734 550h10.5v5.5h-10.5zM919 550h5.5v5.5h-5.5zM594 555h5.5v5.5h-5.5zM679 555h5.5v5.5h-5.5zM739 555h5.5v5.5h-5.5zM919 555h5.5v5.5h-5.5zM589 560h5.5v5.5h-5.5zM684 560h10.5v5.5h-10.5zM744 560h5.5v5.5h-5.5zM919 560h5.5v5.5h-5.5zM944 560h10.5v5.5h-10.5zM964 560h20.5v5.5h-20.5zM589 565h5.5v5.5h-5.5zM689 565h5.5v5.5h-5.5zM749 565h15.5v5.5h-15.5zM919 565h20.5v5.5h-20.5zM584 570h10.5v5.5h-10.5zM689 570h5.5v5.5h-5.5zM769 570h10.5v5.5h-10.5zM914 570h15.5v5.5h-15.5zM589 575h5.5v5.5h-5.5zM689 575h5.5v5.5h-5.5zM784 575h5.5v5.5h-5.5zM889 575h35.5v5.5h-35.5zM594 580h5.5v5.5h-5.5zM684 580h5.5v5.5h-5.5zM789 580h10.5v5.5h-10.5zM874 580h10.5v5.5h-10.5zM919 580h5.5v5.5h-5.5zM599 585h10.5v5.5h-10.5zM679 585h5.5v5.5h-5.5zM799 585h5.5v5.5h-5.5zM869 585h5.5v5.5h-5.5zM919 585h5.5v5.5h-5.5zM609 590h5.5v5.5h-5.5zM674 590h5.5v5.5h-5.5zM804 590h5.5v5.5h-5.5zM859 590h10.5v5.5h-10.5zM924 590h5.5v5.5h-5.5zM619 595h5.5v5.5h-5.5zM669 595h5.5v5.5h-5.5zM814 595h5.5v5.5h-5.5zM854 595h10.5v5.5h-10.5zM929 595h5.5v5.5h-5.5zM629 600h10.5v5.5h-10.5zM659 600h10.5v5.5h-10.5zM819 600h15.5v5.5h-15.5zM839 600h15.5v5.5h-15.5zM934 600h5.5v5.5h-5.5zM824 605h20.5v5.5h-20.5zM944 605h10.5v5.5h-10.5z"/><path fill="#ff8000" d="M629 185h5.5v5.5h-5.5zM634 190h30.5v5.5h-30.5zM664 195h5.5v5.5h-5.5zM664 200h5.5v5.5h-5.5zM669 205h5.5v5.5h-5.5zM679 210h5.5v5.5h-5.5zM654 215h10.5v5.5h-10.5zM684 215h5.5v5.5h-5.5zM649 220h20.5v5.5h-20.5zM689 220h5.5v5.5h-5.5zM289 225h5.5v5.5h-5.5zM644 225h10.5v5.5h-10.5zM664 225h5.5v5.5h-5.5zM689 225h5.5v5.5h-5.5zM644 230h5.5v5.5h-5.5zM669 230h5.5v5.5h-5.5zM644 235h5.5v5.5h-5.5zM669 235h5.5v5.5h-5.5zM299 240h5.5v5.5h-5.5zM644 240h5.5v5.5h-5.5zM674 240h5.5v5.5h-5.5zM689 240h5.5v5.5h-5.5zM304 245h5.5v5.5h-5.5zM309 250h5.5v5.5h-5.5zM639 250h5.5v5.5h-5.5zM314 255h5.5v5.5h-5.5zM639 255h5.5v5.5h-5.5zM319 260h5.5v5.5h-5.5zM634 265h5.5v5.5h-5.5zM334 270h5.5v5.5h-5.5zM339 275h5.5v5.5h-5.5zM629 275h5.5v5.5h-5.5zM339 280h5.5v5.5h-5.5zM629 280h5.5v5.5h-5.5zM344 285h5.5v5.5h-5.5zM624 285h10.5v5.5h-10.5zM344 290h5.5v5.5h-5.5zM554 290h5.5v5.5h-5.5zM569 290h10.5v5.5h-10.5zM614 290h15.5v5.5h-15.5zM709 290h5.5v5.5h-5.5zM719 290h5.5v5.5h-5.5zM344 295h5.5v5.5h-5.5zM549 295h5.5v5.5h-5.5zM584 295h30.5v5.5h-30.5zM699 295h5.5v5.5h-5.5zM339 300h10.5v5.5h-10.5zM684 300h5.5v5.5h-5.5zM334 305h15.5v5.5h-15.5zM674 305h5.5v5.5h-5.5zM329 310h10.5v5.5h-10.5zM549 310h5.5v5.5h-5.5zM669 310h5.5v5.5h-5.5zM329 315h10.5v5.5h-10.5zM549 315h5.5v5.5h-5.5zM669 315h5.5v5.5h-5.5zM329 320h5.5v5.5h-5.5zM549 320h5.5v5.5h-5.5zM669 320h5.5v5.5h-5.5zM334 325h5.5v5.5h-5.5zM549 325h5.5v5.5h-5.5zM669 325h10.5v5.5h-10.5zM334 330h5.5v5.5h-5.5zM544 330h60.5v5.5h-60.5zM674 330h5.5v5.5h-5.5zM334 335h5.5v5.5h-5.5zM544 335h15.5v5.5h-15.5zM599 335h20.5v5.5h-20.5zM674 335h10.5v5.5h-10.5zM334 340h5.5v5.5h-5.5zM544 340h10.5v5.5h-10.5zM614 340h10.5v5.5h-10.5zM679 340h5.5v5.5h-5.5zM339 345h5.5v5.5h-5.5zM539 345h10.5v5.5h-10.5zM619 345h10.5v5.5h-10.5zM679 345h5.5v5.5h-5.5zM344 350h15.5v5.5h-15.5zM539 350h10.5v5.5h-10.5zM619 350h10.5v5.5h-10.5zM674 350h10.5v5.5h-10.5zM359 355h5.5v5.5h-5.5zM534 355h15.5v5.5h-15.5zM624 355h15.5v5.5h-15.5zM659 355h20.5v5.5h-20.5zM839 355h15.5v5.5h-15.5zM364 360h5.5v5.5h-5.5zM529 360h20.5v5.5h-20.5zM624 360h45.5v5.5h-45.5zM704 360h10.5v5.5h-10.5zM769 360h5.5v5.5h-5.5zM369 365h5.5v5.5h-5.5zM529 365h5.5v5.5h-5.5zM539 365h10.5v5.5h-10.5zM704 365h15.5v5.5h-15.5zM769 365h5.5v5.5h-5.5zM369 370h10.5v5.5h-10.5zM524 370h5.5v5.5h-5.5zM544 370h5.5v5.5h-5.5zM704 370h20.5v5.5h-20.5zM849 370h5.5v5.5h-5.5zM374 375h10.5v5.5h-10.5zM519 375h10.5v5.5h-10.5zM544 375h5.5v5.5h-5.5zM709 375h5.5v5.5h-5.5zM719 375h10.5v5.5h-10.5zM764 375h5.5v5.5h-5.5zM379 380h5.5v5.5h-5.5zM514 380h10.5v5.5h-10.5zM549 380h5.5v5.5h-5.5zM709 380h5.5v5.5h-5.5zM719 380h10.5v5.5h-10.5zM764 380h5.5v5.5h-5.5zM384 385h5.5v5.5h-5.5zM504 385h15.5v5.5h-15.5zM554 385h5.5v5.5h-5.5zM649 385h15.5v5.5h-15.5zM709 385h5.5v5.5h-5.5zM719 385h5.5v5.5h-5.5zM494 390h15.5v5.5h-15.5zM559 390h10.5v5.5h-10.5zM649 390h25.5v5.5h-25.5zM699 390h15.5v5.5h-15.5zM719 390h5.5v5.5h-5.5zM479 395h15.5v5.5h-15.5zM569 395h5.5v5.5h-5.5zM649 395h15.5v5.5h-15.5zM669 395h35.5v5.5h-35.5zM719 395h5.5v5.5h-5.5zM759 395h5.5v5.5h-5.5zM399 400h5.5v5.5h-5.5zM474 400h10.5v5.5h-10.5zM654 400h10.5v5.5h-10.5zM719 400h5.5v5.5h-5.5zM754 400h5.5v5.5h-5.5zM409 405h5.5v5.5h-5.5zM459 405h15.5v5.5h-15.5zM654 405h15.5v5.5h-15.5zM724 405h5.5v5.5h-5.5zM749 405h5.5v5.5h-5.5zM419 410h10.5v5.5h-10.5zM444 410h20.5v5.5h-20.5zM484 410h30.5v5.5h-30.5zM659 410h15.5v5.5h-15.5zM729 410h20.5v5.5h-20.5zM479 415h15.5v5.5h-15.5zM504 415h15.5v5.5h-15.5zM669 415h20.5v5.5h-20.5zM479 420h10.5v5.5h-10.5zM514 420h5.5v5.5h-5.5zM589 420h5.5v5.5h-5.5zM674 420h25.5v5.5h-25.5zM479 425h10.5v5.5h-10.5zM514 425h5.5v5.5h-5.5zM594 425h5.5v5.5h-5.5zM684 425h15.5v5.5h-15.5zM479 430h10.5v5.5h-10.5zM519 430h5.5v5.5h-5.5zM689 430h20.5v5.5h-20.5zM484 435h10.5v5.5h-10.5zM519 435h5.5v5.5h-5.5zM599 435h5.5v5.5h-5.5zM694 435h35.5v5.5h-35.5zM489 440h10.5v5.5h-10.5zM514 440h10.5v5.5h-10.5zM724 440h10.5v5.5h-10.5zM499 445h20.5v5.5h-20.5zM734 445h5.5v5.5h-5.5zM604 450h5.5v5.5h-5.5zM744 450h5.5v5.5h-5.5zM759 455h5.5v5.5h-5.5zM609 460h5.5v5.5h-5.5zM774 460h5.5v5.5h-5.5zM614 465h10.5v5.5h-10.5zM624 470h5.5v5.5h-5.5zM789 470h5.5v5.5h-5.5zM634 475h5.5v5.5h-5.5zM799 475h25.5v5.5h-25.5zM639 480h10.5v5.5h-10.5zM839 480h5.5v5.5h-5.5zM649 485h5.5v5.5h-5.5zM849 485h5.5v5.5h-5.5zM654 490h5.5v5.5h-5.5zM654 495h5.5v5.5h-5.5zM864 495h5.5v5.5h-5.5zM659 505h5.5v5.5h-5.5zM879 505h5.5v5.5h-5.5zM659 510h5.5v5.5h-5.5zM884 510h5.5v5.5h-5.5zM664 515h5.5v5.5h-5.5zM669 520h5.5v5.5h-5.5zM679 525h10.5v5.5h-10.5zM689 530h5.5v5.5h-5.5zM644 535h15.5v5.5h-15.5zM694 535h10.5v5.5h-10.5zM634 540h5.5v5.5h-5.5zM659 540h5.5v5.5h-5.5zM714 540h20.5v5.5h-20.5zM619 545h5.5v5.5h-5.5zM664 545h5.5v5.5h-5.5zM734 545h10.5v5.5h-10.5zM914 545h5.5v5.5h-5.5zM609 550h5.5v5.5h-5.5zM669 550h5.5v5.5h-5.5zM599 555h10.5v5.5h-10.5zM674 555h5.5v5.5h-5.5zM744 555h5.5v5.5h-5.5zM594 560h5.5v5.5h-5.5zM679 560h5.5v5.5h-5.5zM749 560h10.5v5.5h-10.5zM914 560h5.5v5.5h-5.5zM594 565h5.5v5.5h-5.5zM684 565h5.5v5.5h-5.5zM764 565h10.5v5.5h-10.5zM914 565h5.5v5.5h-5.5zM939 565h10.5v5.5h-10.5zM594 570h5.5v5.5h-5.5zM684 570h5.5v5.5h-5.5zM779 570h5.5v5.5h-5.5zM909 570h5.5v5.5h-5.5zM929 570h10.5v5.5h-10.5zM594 575h5.5v5.5h-5.5zM684 575h5.5v5.5h-5.5zM789 575h5.5v5.5h-5.5zM879 575h10.5v5.5h-10.5zM924 575h10.5v5.5h-10.5zM599 580h5.5v5.5h-5.5zM799 580h5.5v5.5h-5.5zM864 580h10.5v5.5h-10.5zM924 580h10.5v5.5h-10.5zM804 585h5.5v5.5h-5.5zM859 585h10.5v5.5h-10.5zM924 585h10.5v5.5h-10.5zM614 590h5.5v5.5h-5.5zM809 590h10.5v5.5h-10.5zM849 590h10.5v5.5h-10.5zM929 590h5.5v5.5h-5.5zM624 595h5.5v5.5h-5.5zM664 595h5.5v5.5h-5.5zM819 595h35.5v5.5h-35.5zM934 595h5.5v5.5h-5.5zM639 600h20.5v5.5h-20.5zM834 600h5.5v5.5h-5.5zM939 600h5.5v5.5h-5.5zM954 605h30.5v5.5h-30.5z"/><path fill="#ff7900" d="M624 185h5.5v5.5h-5.5zM619 190h15.5v5.5h-15.5zM624 195h40.5v5.5h-40.5zM629 200h35.5v5.5h-35.5zM649 205h20.5v5.5h-20.5zM644 210h35.5v5.5h-35.5zM644 215h10.5v5.5h-10.5zM664 215h10.5v5.5h-10.5zM679 215h5.5v5.5h-5.5zM639 220h10.5v5.5h-10.5zM669 220h5.5v5.5h-5.5zM639 225h5.5v5.5h-5.5zM669 225h5.5v5.5h-5.5zM294 230h5.5v5.5h-5.5zM639 230h5.5v5.5h-5.5zM674 230h5.5v5.5h-5.5zM689 230h5.5v5.5h-5.5zM299 235h5.5v5.5h-5.5zM639 235h5.5v5.5h-5.5zM674 235h5.5v5.5h-5.5zM689 235h5.5v5.5h-5.5zM639 240h5.5v5.5h-5.5zM639 245h5.5v5.5h-5.5zM679 245h10.5v5.5h-10.5zM634 255h5.5v5.5h-5.5zM324 260h5.5v5.5h-5.5zM634 260h5.5v5.5h-5.5zM329 265h5.5v5.5h-5.5zM629 265h5.5v5.5h-5.5zM339 270h5.5v5.5h-5.5zM629 270h5.5v5.5h-5.5zM344 275h5.5v5.5h-5.5zM624 275h5.5v5.5h-5.5zM344 280h5.5v5.5h-5.5zM619 280h10.5v5.5h-10.5zM349 285h5.5v5.5h-5.5zM554 285h20.5v5.5h-20.5zM614 285h10.5v5.5h-10.5zM349 290h5.5v5.5h-5.5zM549 290h5.5v5.5h-5.5zM579 290h10.5v5.5h-10.5zM604 290h10.5v5.5h-10.5zM714 290h5.5v5.5h-5.5zM349 295h10.5v5.5h-10.5zM544 295h5.5v5.5h-5.5zM724 295h5.5v5.5h-5.5zM349 300h10.5v5.5h-10.5zM544 300h5.5v5.5h-5.5zM689 300h5.5v5.5h-5.5zM729 300h5.5v5.5h-5.5zM349 305h5.5v5.5h-5.5zM544 305h5.5v5.5h-5.5zM679 305h5.5v5.5h-5.5zM339 310h10.5v5.5h-10.5zM544 310h5.5v5.5h-5.5zM674 310h5.5v5.5h-5.5zM339 315h5.5v5.5h-5.5zM544 315h5.5v5.5h-5.5zM674 315h5.5v5.5h-5.5zM334 320h10.5v5.5h-10.5zM544 320h5.5v5.5h-5.5zM674 320h5.5v5.5h-5.5zM339 325h5.5v5.5h-5.5zM544 325h5.5v5.5h-5.5zM679 325h5.5v5.5h-5.5zM339 330h5.5v5.5h-5.5zM679 330h5.5v5.5h-5.5zM339 335h5.5v5.5h-5.5zM539 335h5.5v5.5h-5.5zM559 335h10.5v5.5h-10.5zM584 335h15.5v5.5h-15.5zM339 340h10.5v5.5h-10.5zM539 340h5.5v5.5h-5.5zM554 340h5.5v5.5h-5.5zM599 340h15.5v5.5h-15.5zM684 340h5.5v5.5h-5.5zM344 345h15.5v5.5h-15.5zM549 345h5.5v5.5h-5.5zM609 345h10.5v5.5h-10.5zM684 345h10.5v5.5h-10.5zM359 350h5.5v5.5h-5.5zM534 350h5.5v5.5h-5.5zM549 350h5.5v5.5h-5.5zM614 350h5.5v5.5h-5.5zM684 350h20.5v5.5h-20.5zM364 355h5.5v5.5h-5.5zM529 355h5.5v5.5h-5.5zM614 355h10.5v5.5h-10.5zM679 355h40.5v5.5h-40.5zM769 355h5.5v5.5h-5.5zM369 360h5.5v5.5h-5.5zM524 360h5.5v5.5h-5.5zM614 360h10.5v5.5h-10.5zM669 360h10.5v5.5h-10.5zM694 360h10.5v5.5h-10.5zM714 360h10.5v5.5h-10.5zM839 360h5.5v5.5h-5.5zM849 360h5.5v5.5h-5.5zM374 365h5.5v5.5h-5.5zM524 365h5.5v5.5h-5.5zM619 365h50.5v5.5h-50.5zM699 365h5.5v5.5h-5.5zM719 365h10.5v5.5h-10.5zM764 365h5.5v5.5h-5.5zM839 365h5.5v5.5h-5.5zM849 365h5.5v5.5h-5.5zM379 370h5.5v5.5h-5.5zM519 370h5.5v5.5h-5.5zM549 370h5.5v5.5h-5.5zM619 370h50.5v5.5h-50.5zM724 370h10.5v5.5h-10.5zM764 370h5.5v5.5h-5.5zM839 370h10.5v5.5h-10.5zM384 375h5.5v5.5h-5.5zM514 375h5.5v5.5h-5.5zM549 375h5.5v5.5h-5.5zM629 375h35.5v5.5h-35.5zM704 375h5.5v5.5h-5.5zM729 375h5.5v5.5h-5.5zM384 380h5.5v5.5h-5.5zM509 380h5.5v5.5h-5.5zM554 380h5.5v5.5h-5.5zM634 380h35.5v5.5h-35.5zM704 380h5.5v5.5h-5.5zM729 380h5.5v5.5h-5.5zM499 385h5.5v5.5h-5.5zM559 385h10.5v5.5h-10.5zM639 385h10.5v5.5h-10.5zM664 385h10.5v5.5h-10.5zM699 385h10.5v5.5h-10.5zM724 385h5.5v5.5h-5.5zM389 390h5.5v5.5h-5.5zM484 390h10.5v5.5h-10.5zM569 390h5.5v5.5h-5.5zM639 390h10.5v5.5h-10.5zM674 390h25.5v5.5h-25.5zM724 390h5.5v5.5h-5.5zM759 390h5.5v5.5h-5.5zM394 395h5.5v5.5h-5.5zM474 395h5.5v5.5h-5.5zM574 395h5.5v5.5h-5.5zM644 395h5.5v5.5h-5.5zM724 395h5.5v5.5h-5.5zM404 400h5.5v5.5h-5.5zM464 400h10.5v5.5h-10.5zM574 400h5.5v5.5h-5.5zM644 400h10.5v5.5h-10.5zM724 400h5.5v5.5h-5.5zM749 400h5.5v5.5h-5.5zM414 405h5.5v5.5h-5.5zM449 405h10.5v5.5h-10.5zM579 405h5.5v5.5h-5.5zM649 405h5.5v5.5h-5.5zM729 405h10.5v5.5h-10.5zM744 405h5.5v5.5h-5.5zM429 410h15.5v5.5h-15.5zM584 410h5.5v5.5h-5.5zM654 410h5.5v5.5h-5.5zM494 415h10.5v5.5h-10.5zM589 415h5.5v5.5h-5.5zM659 415h10.5v5.5h-10.5zM489 420h25.5v5.5h-25.5zM594 420h5.5v5.5h-5.5zM664 420h10.5v5.5h-10.5zM489 425h25.5v5.5h-25.5zM669 425h15.5v5.5h-15.5zM489 430h30.5v5.5h-30.5zM599 430h5.5v5.5h-5.5zM669 430h20.5v5.5h-20.5zM494 435h25.5v5.5h-25.5zM674 435h20.5v5.5h-20.5zM499 440h15.5v5.5h-15.5zM684 440h40.5v5.5h-40.5zM604 445h5.5v5.5h-5.5zM724 445h10.5v5.5h-10.5zM739 450h5.5v5.5h-5.5zM609 455h5.5v5.5h-5.5zM754 455h5.5v5.5h-5.5zM614 460h5.5v5.5h-5.5zM769 460h5.5v5.5h-5.5zM624 465h5.5v5.5h-5.5zM779 465h5.5v5.5h-5.5zM629 470h10.5v5.5h-10.5zM784 470h5.5v5.5h-5.5zM639 475h10.5v5.5h-10.5zM794 475h5.5v5.5h-5.5zM649 480h5.5v5.5h-5.5zM834 480h5.5v5.5h-5.5zM654 485h5.5v5.5h-5.5zM844 485h5.5v5.5h-5.5zM854 490h5.5v5.5h-5.5zM659 495h5.5v5.5h-5.5zM659 500h5.5v5.5h-5.5zM869 500h5.5v5.5h-5.5zM664 510h5.5v5.5h-5.5zM669 515h5.5v5.5h-5.5zM889 515h5.5v5.5h-5.5zM674 520h10.5v5.5h-10.5zM894 520h5.5v5.5h-5.5zM689 525h5.5v5.5h-5.5zM694 530h10.5v5.5h-10.5zM704 535h25.5v5.5h-25.5zM909 535h5.5v5.5h-5.5zM639 540h20.5v5.5h-20.5zM734 540h10.5v5.5h-10.5zM624 545h10.5v5.5h-10.5zM654 545h10.5v5.5h-10.5zM744 545h5.5v5.5h-5.5zM614 550h5.5v5.5h-5.5zM664 550h5.5v5.5h-5.5zM744 550h5.5v5.5h-5.5zM914 550h5.5v5.5h-5.5zM609 555h5.5v5.5h-5.5zM669 555h5.5v5.5h-5.5zM749 555h5.5v5.5h-5.5zM914 555h5.5v5.5h-5.5zM599 560h10.5v5.5h-10.5zM674 560h5.5v5.5h-5.5zM759 560h10.5v5.5h-10.5zM599 565h5.5v5.5h-5.5zM679 565h5.5v5.5h-5.5zM774 565h10.5v5.5h-10.5zM909 565h5.5v5.5h-5.5zM949 565h15.5v5.5h-15.5zM599 570h5.5v5.5h-5.5zM679 570h5.5v5.5h-5.5zM784 570h10.5v5.5h-10.5zM894 570h15.5v5.5h-15.5zM939 570h5.5v5.5h-5.5zM599 575h5.5v5.5h-5.5zM679 575h5.5v5.5h-5.5zM794 575h5.5v5.5h-5.5zM869 575h10.5v5.5h-10.5zM934 575h5.5v5.5h-5.5zM604 580h5.5v5.5h-5.5zM679 580h5.5v5.5h-5.5zM804 580h5.5v5.5h-5.5zM854 580h10.5v5.5h-10.5zM934 580h5.5v5.5h-5.5zM609 585h5.5v5.5h-5.5zM674 585h5.5v5.5h-5.5zM809 585h10.5v5.5h-10.5zM849 585h10.5v5.5h-10.5zM934 585h5.5v5.5h-5.5zM619 590h5.5v5.5h-5.5zM669 590h5.5v5.5h-5.5zM819 590h30.5v5.5h-30.5zM934 590h5.5v5.5h-5.5zM629 595h10.5v5.5h-10.5zM659 595h5.5v5.5h-5.5zM939 595h5.5v5.5h-5.5zM944 600h10.5v5.5h-10.5z"/><path fill="#ff7300" d="M619 180h5.5v5.5h-5.5zM614 185h10.5v5.5h-10.5zM614 190h5.5v5.5h-5.5zM614 195h10.5v5.5h-10.5zM619 200h10.5v5.5h-10.5zM624 205h25.5v5.5h-25.5zM629 210h15.5v5.5h-15.5zM629 215h15.5v5.5h-15.5zM674 215h5.5v5.5h-5.5zM634 220h5.5v5.5h-5.5zM674 220h15.5v5.5h-15.5zM634 225h5.5v5.5h-5.5zM674 225h15.5v5.5h-15.5zM634 230h5.5v5.5h-5.5zM679 230h10.5v5.5h-10.5zM634 235h5.5v5.5h-5.5zM679 235h10.5v5.5h-10.5zM304 240h5.5v5.5h-5.5zM634 240h5.5v5.5h-5.5zM679 240h10.5v5.5h-10.5zM309 245h5.5v5.5h-5.5zM634 245h5.5v5.5h-5.5zM314 250h5.5v5.5h-5.5zM634 250h5.5v5.5h-5.5zM319 255h5.5v5.5h-5.5zM629 260h5.5v5.5h-5.5zM334 265h5.5v5.5h-5.5zM624 265h5.5v5.5h-5.5zM624 270h5.5v5.5h-5.5zM349 275h5.5v5.5h-5.5zM619 275h5.5v5.5h-5.5zM349 280h5.5v5.5h-5.5zM559 280h5.5v5.5h-5.5zM614 280h5.5v5.5h-5.5zM354 285h5.5v5.5h-5.5zM549 285h5.5v5.5h-5.5zM574 285h5.5v5.5h-5.5zM609 285h5.5v5.5h-5.5zM354 290h10.5v5.5h-10.5zM544 290h5.5v5.5h-5.5zM589 290h15.5v5.5h-15.5zM359 295h5.5v5.5h-5.5zM359 300h5.5v5.5h-5.5zM354 305h10.5v5.5h-10.5zM684 305h5.5v5.5h-5.5zM734 305h5.5v5.5h-5.5zM349 310h10.5v5.5h-10.5zM679 310h5.5v5.5h-5.5zM344 315h10.5v5.5h-10.5zM679 315h5.5v5.5h-5.5zM344 320h5.5v5.5h-5.5zM539 320h5.5v5.5h-5.5zM679 320h5.5v5.5h-5.5zM344 325h5.5v5.5h-5.5zM539 325h5.5v5.5h-5.5zM344 330h10.5v5.5h-10.5zM539 330h5.5v5.5h-5.5zM684 330h5.5v5.5h-5.5zM344 335h15.5v5.5h-15.5zM569 335h15.5v5.5h-15.5zM684 335h5.5v5.5h-5.5zM349 340h15.5v5.5h-15.5zM559 340h10.5v5.5h-10.5zM589 340h10.5v5.5h-10.5zM689 340h5.5v5.5h-5.5zM359 345h10.5v5.5h-10.5zM534 345h5.5v5.5h-5.5zM554 345h5.5v5.5h-5.5zM599 345h10.5v5.5h-10.5zM694 345h5.5v5.5h-5.5zM364 350h10.5v5.5h-10.5zM529 350h5.5v5.5h-5.5zM554 350h5.5v5.5h-5.5zM604 350h10.5v5.5h-10.5zM704 350h10.5v5.5h-10.5zM369 355h10.5v5.5h-10.5zM549 355h5.5v5.5h-5.5zM609 355h5.5v5.5h-5.5zM719 355h5.5v5.5h-5.5zM764 355h5.5v5.5h-5.5zM374 360h10.5v5.5h-10.5zM549 360h5.5v5.5h-5.5zM609 360h5.5v5.5h-5.5zM679 360h15.5v5.5h-15.5zM724 360h5.5v5.5h-5.5zM764 360h5.5v5.5h-5.5zM844 360h5.5v5.5h-5.5zM379 365h5.5v5.5h-5.5zM519 365h5.5v5.5h-5.5zM549 365h5.5v5.5h-5.5zM609 365h10.5v5.5h-10.5zM669 365h10.5v5.5h-10.5zM694 365h5.5v5.5h-5.5zM729 365h5.5v5.5h-5.5zM844 365h5.5v5.5h-5.5zM384 370h5.5v5.5h-5.5zM514 370h5.5v5.5h-5.5zM554 370h5.5v5.5h-5.5zM609 370h10.5v5.5h-10.5zM669 370h5.5v5.5h-5.5zM699 370h5.5v5.5h-5.5zM734 370h5.5v5.5h-5.5zM759 370h5.5v5.5h-5.5zM509 375h5.5v5.5h-5.5zM554 375h5.5v5.5h-5.5zM614 375h15.5v5.5h-15.5zM664 375h10.5v5.5h-10.5zM699 375h5.5v5.5h-5.5zM734 375h5.5v5.5h-5.5zM759 375h5.5v5.5h-5.5zM389 380h5.5v5.5h-5.5zM499 380h10.5v5.5h-10.5zM559 380h5.5v5.5h-5.5zM624 380h10.5v5.5h-10.5zM669 380h5.5v5.5h-5.5zM699 380h5.5v5.5h-5.5zM759 380h5.5v5.5h-5.5zM389 385h5.5v5.5h-5.5zM489 385h10.5v5.5h-10.5zM569 385h5.5v5.5h-5.5zM629 385h10.5v5.5h-10.5zM674 385h25.5v5.5h-25.5zM729 385h5.5v5.5h-5.5zM759 385h5.5v5.5h-5.5zM394 390h5.5v5.5h-5.5zM474 390h10.5v5.5h-10.5zM574 390h5.5v5.5h-5.5zM634 390h5.5v5.5h-5.5zM729 390h5.5v5.5h-5.5zM399 395h5.5v5.5h-5.5zM464 395h10.5v5.5h-10.5zM634 395h10.5v5.5h-10.5zM729 395h5.5v5.5h-5.5zM754 395h5.5v5.5h-5.5zM409 400h5.5v5.5h-5.5zM454 400h10.5v5.5h-10.5zM579 400h5.5v5.5h-5.5zM639 400h5.5v5.5h-5.5zM729 400h5.5v5.5h-5.5zM744 400h5.5v5.5h-5.5zM419 405h10.5v5.5h-10.5zM444 405h5.5v5.5h-5.5zM584 405h5.5v5.5h-5.5zM644 405h5.5v5.5h-5.5zM739 405h5.5v5.5h-5.5zM589 410h5.5v5.5h-5.5zM644 410h10.5v5.5h-10.5zM594 415h5.5v5.5h-5.5zM649 415h10.5v5.5h-10.5zM654 420h10.5v5.5h-10.5zM599 425h5.5v5.5h-5.5zM654 425h15.5v5.5h-15.5zM659 430h10.5v5.5h-10.5zM659 435h15.5v5.5h-15.5zM604 440h5.5v5.5h-5.5zM659 440h25.5v5.5h-25.5zM659 445h65.5v5.5h-65.5zM609 450h5.5v5.5h-5.5zM659 450h25.5v5.5h-25.5zM734 450h5.5v5.5h-5.5zM614 455h5.5v5.5h-5.5zM664 455h10.5v5.5h-10.5zM749 455h5.5v5.5h-5.5zM619 460h15.5v5.5h-15.5zM764 460h5.5v5.5h-5.5zM629 465h10.5v5.5h-10.5zM774 465h5.5v5.5h-5.5zM639 470h10.5v5.5h-10.5zM649 475h10.5v5.5h-10.5zM789 475h5.5v5.5h-5.5zM654 480h5.5v5.5h-5.5zM799 480h35.5v5.5h-35.5zM659 485h5.5v5.5h-5.5zM659 490h5.5v5.5h-5.5zM859 495h5.5v5.5h-5.5zM664 500h5.5v5.5h-5.5zM864 500h5.5v5.5h-5.5zM664 505h5.5v5.5h-5.5zM874 505h5.5v5.5h-5.5zM674 515h5.5v5.5h-5.5zM684 520h10.5v5.5h-10.5zM694 525h5.5v5.5h-5.5zM899 525h5.5v5.5h-5.5zM704 530h10.5v5.5h-10.5zM904 530h5.5v5.5h-5.5zM729 535h10.5v5.5h-10.5zM744 540h5.5v5.5h-5.5zM909 540h5.5v5.5h-5.5zM634 545h20.5v5.5h-20.5zM619 550h5.5v5.5h-5.5zM659 550h5.5v5.5h-5.5zM749 550h5.5v5.5h-5.5zM614 555h5.5v5.5h-5.5zM664 555h5.5v5.5h-5.5zM754 555h10.5v5.5h-10.5zM609 560h5.5v5.5h-5.5zM669 560h5.5v5.5h-5.5zM769 560h10.5v5.5h-10.5zM909 560h5.5v5.5h-5.5zM604 565h5.5v5.5h-5.5zM674 565h5.5v5.5h-5.5zM784 565h5.5v5.5h-5.5zM904 565h5.5v5.5h-5.5zM964 565h5.5v5.5h-5.5zM604 570h5.5v5.5h-5.5zM794 570h5.5v5.5h-5.5zM879 570h15.5v5.5h-15.5zM944 570h10.5v5.5h-10.5zM604 575h5.5v5.5h-5.5zM799 575h5.5v5.5h-5.5zM854 575h15.5v5.5h-15.5zM939 575h10.5v5.5h-10.5zM609 580h5.5v5.5h-5.5zM674 580h5.5v5.5h-5.5zM809 580h5.5v5.5h-5.5zM844 580h10.5v5.5h-10.5zM939 580h5.5v5.5h-5.5zM614 585h5.5v5.5h-5.5zM669 585h5.5v5.5h-5.5zM819 585h30.5v5.5h-30.5zM939 585h5.5v5.5h-5.5zM664 590h5.5v5.5h-5.5zM939 590h10.5v5.5h-10.5zM639 595h20.5v5.5h-20.5zM944 595h5.5v5.5h-5.5zM954 600h10.5v5.5h-10.5z"/><path fill="#ff6d00" d="M614 175h5.5v5.5h-5.5zM609 180h10.5v5.5h-10.5zM609 185h5.5v5.5h-5.5zM609 190h5.5v5.5h-5.5zM609 195h5.5v5.5h-5.5zM614 200h5.5v5.5h-5.5zM614 205h10.5v5.5h-10.5zM619 210h10.5v5.5h-10.5zM624 215h5.5v5.5h-5.5zM629 220h5.5v5.5h-5.5zM294 225h5.5v5.5h-5.5zM629 225h5.5v5.5h-5.5zM299 230h5.5v5.5h-5.5zM304 235h5.5v5.5h-5.5zM309 240h5.5v5.5h-5.5zM314 245h5.5v5.5h-5.5zM629 245h5.5v5.5h-5.5zM319 250h5.5v5.5h-5.5zM629 250h5.5v5.5h-5.5zM324 255h5.5v5.5h-5.5zM629 255h5.5v5.5h-5.5zM329 260h5.5v5.5h-5.5zM624 260h5.5v5.5h-5.5zM339 265h5.5v5.5h-5.5zM619 265h5.5v5.5h-5.5zM344 270h5.5v5.5h-5.5zM619 270h5.5v5.5h-5.5zM614 275h5.5v5.5h-5.5zM354 280h5.5v5.5h-5.5zM554 280h5.5v5.5h-5.5zM564 280h10.5v5.5h-10.5zM609 280h5.5v5.5h-5.5zM359 285h5.5v5.5h-5.5zM579 285h5.5v5.5h-5.5zM599 285h10.5v5.5h-10.5zM364 290h5.5v5.5h-5.5zM364 295h10.5v5.5h-10.5zM539 295h5.5v5.5h-5.5zM704 295h5.5v5.5h-5.5zM364 300h10.5v5.5h-10.5zM539 300h5.5v5.5h-5.5zM694 300h5.5v5.5h-5.5zM364 305h5.5v5.5h-5.5zM539 305h5.5v5.5h-5.5zM689 305h5.5v5.5h-5.5zM359 310h5.5v5.5h-5.5zM539 310h5.5v5.5h-5.5zM684 310h5.5v5.5h-5.5zM354 315h5.5v5.5h-5.5zM539 315h5.5v5.5h-5.5zM684 315h5.5v5.5h-5.5zM349 320h10.5v5.5h-10.5zM684 320h5.5v5.5h-5.5zM349 325h10.5v5.5h-10.5zM684 325h5.5v5.5h-5.5zM354 330h5.5v5.5h-5.5zM359 335h5.5v5.5h-5.5zM534 335h5.5v5.5h-5.5zM689 335h5.5v5.5h-5.5zM364 340h5.5v5.5h-5.5zM534 340h5.5v5.5h-5.5zM569 340h20.5v5.5h-20.5zM694 340h5.5v5.5h-5.5zM369 345h5.5v5.5h-5.5zM559 345h10.5v5.5h-10.5zM589 345h10.5v5.5h-10.5zM699 345h10.5v5.5h-10.5zM764 345h5.5v5.5h-5.5zM374 350h5.5v5.5h-5.5zM559 350h5.5v5.5h-5.5zM599 350h5.5v5.5h-5.5zM714 350h10.5v5.5h-10.5zM764 350h5.5v5.5h-5.5zM379 355h5.5v5.5h-5.5zM524 355h5.5v5.5h-5.5zM554 355h5.5v5.5h-5.5zM599 355h10.5v5.5h-10.5zM724 355h5.5v5.5h-5.5zM384 360h5.5v5.5h-5.5zM519 360h5.5v5.5h-5.5zM554 360h5.5v5.5h-5.5zM599 360h10.5v5.5h-10.5zM729 360h5.5v5.5h-5.5zM759 360h5.5v5.5h-5.5zM384 365h5.5v5.5h-5.5zM554 365h5.5v5.5h-5.5zM599 365h10.5v5.5h-10.5zM679 365h15.5v5.5h-15.5zM734 365h5.5v5.5h-5.5zM759 365h5.5v5.5h-5.5zM389 370h5.5v5.5h-5.5zM509 370h5.5v5.5h-5.5zM559 370h5.5v5.5h-5.5zM604 370h5.5v5.5h-5.5zM674 370h5.5v5.5h-5.5zM694 370h5.5v5.5h-5.5zM739 370h5.5v5.5h-5.5zM754 370h5.5v5.5h-5.5zM389 375h5.5v5.5h-5.5zM504 375h5.5v5.5h-5.5zM559 375h10.5v5.5h-10.5zM609 375h5.5v5.5h-5.5zM674 375h5.5v5.5h-5.5zM694 375h5.5v5.5h-5.5zM494 380h5.5v5.5h-5.5zM564 380h15.5v5.5h-15.5zM614 380h10.5v5.5h-10.5zM674 380h10.5v5.5h-10.5zM689 380h10.5v5.5h-10.5zM734 380h5.5v5.5h-5.5zM394 385h5.5v5.5h-5.5zM479 385h10.5v5.5h-10.5zM574 385h10.5v5.5h-10.5zM619 385h10.5v5.5h-10.5zM734 385h5.5v5.5h-5.5zM399 390h5.5v5.5h-5.5zM464 390h10.5v5.5h-10.5zM579 390h5.5v5.5h-5.5zM624 390h10.5v5.5h-10.5zM754 390h5.5v5.5h-5.5zM404 395h5.5v5.5h-5.5zM459 395h5.5v5.5h-5.5zM579 395h5.5v5.5h-5.5zM629 395h5.5v5.5h-5.5zM734 395h5.5v5.5h-5.5zM749 395h5.5v5.5h-5.5zM414 400h10.5v5.5h-10.5zM449 400h5.5v5.5h-5.5zM584 400h5.5v5.5h-5.5zM634 400h5.5v5.5h-5.5zM734 400h10.5v5.5h-10.5zM429 405h15.5v5.5h-15.5zM589 405h5.5v5.5h-5.5zM639 405h5.5v5.5h-5.5zM594 410h5.5v5.5h-5.5zM639 410h5.5v5.5h-5.5zM644 415h5.5v5.5h-5.5zM599 420h5.5v5.5h-5.5zM644 420h10.5v5.5h-10.5zM649 425h5.5v5.5h-5.5zM604 430h5.5v5.5h-5.5zM649 430h10.5v5.5h-10.5zM604 435h5.5v5.5h-5.5zM649 435h10.5v5.5h-10.5zM649 440h10.5v5.5h-10.5zM609 445h5.5v5.5h-5.5zM649 445h10.5v5.5h-10.5zM614 450h5.5v5.5h-5.5zM649 450h10.5v5.5h-10.5zM684 450h5.5v5.5h-5.5zM724 450h10.5v5.5h-10.5zM619 455h15.5v5.5h-15.5zM654 455h10.5v5.5h-10.5zM674 455h10.5v5.5h-10.5zM744 455h5.5v5.5h-5.5zM634 460h40.5v5.5h-40.5zM639 465h30.5v5.5h-30.5zM649 470h15.5v5.5h-15.5zM779 470h5.5v5.5h-5.5zM659 475h5.5v5.5h-5.5zM784 475h5.5v5.5h-5.5zM659 480h5.5v5.5h-5.5zM794 480h5.5v5.5h-5.5zM839 485h5.5v5.5h-5.5zM664 490h5.5v5.5h-5.5zM849 490h5.5v5.5h-5.5zM664 495h5.5v5.5h-5.5zM854 495h5.5v5.5h-5.5zM669 505h5.5v5.5h-5.5zM869 505h5.5v5.5h-5.5zM669 510h5.5v5.5h-5.5zM879 510h5.5v5.5h-5.5zM679 515h5.5v5.5h-5.5zM884 515h5.5v5.5h-5.5zM694 520h5.5v5.5h-5.5zM699 525h10.5v5.5h-10.5zM714 530h25.5v5.5h-25.5zM739 535h5.5v5.5h-5.5zM749 545h5.5v5.5h-5.5zM909 545h5.5v5.5h-5.5zM624 550h10.5v5.5h-10.5zM649 550h10.5v5.5h-10.5zM754 550h10.5v5.5h-10.5zM909 550h5.5v5.5h-5.5zM659 555h5.5v5.5h-5.5zM764 555h10.5v5.5h-10.5zM909 555h5.5v5.5h-5.5zM779 560h5.5v5.5h-5.5zM609 565h5.5v5.5h-5.5zM789 565h10.5v5.5h-10.5zM969 565h15.5v5.5h-15.5zM674 570h5.5v5.5h-5.5zM799 570h5.5v5.5h-5.5zM859 570h20.5v5.5h-20.5zM954 570h10.5v5.5h-10.5zM609 575h5.5v5.5h-5.5zM674 575h5.5v5.5h-5.5zM804 575h10.5v5.5h-10.5zM844 575h10.5v5.5h-10.5zM949 575h10.5v5.5h-10.5zM814 580h30.5v5.5h-30.5zM944 580h10.5v5.5h-10.5zM619 585h5.5v5.5h-5.5zM944 585h10.5v5.5h-10.5zM624 590h10.5v5.5h-10.5zM659 590h5.5v5.5h-5.5zM949 590h5.5v5.5h-5.5zM949 595h10.5v5.5h-10.5zM964 600h20.5v5.5h-20.5z"/><path fill="#ff6700" d="M604 175h10.5v5.5h-10.5zM604 180h5.5v5.5h-5.5zM604 185h5.5v5.5h-5.5zM599 190h10.5v5.5h-10.5zM604 195h5.5v5.5h-5.5zM609 200h5.5v5.5h-5.5zM614 210h5.5v5.5h-5.5zM619 215h5.5v5.5h-5.5zM624 220h5.5v5.5h-5.5zM629 230h5.5v5.5h-5.5zM629 235h5.5v5.5h-5.5zM629 240h5.5v5.5h-5.5zM624 250h5.5v5.5h-5.5zM624 255h5.5v5.5h-5.5zM334 260h5.5v5.5h-5.5zM619 260h5.5v5.5h-5.5zM614 265h5.5v5.5h-5.5zM349 270h5.5v5.5h-5.5zM614 270h5.5v5.5h-5.5zM354 275h5.5v5.5h-5.5zM559 275h10.5v5.5h-10.5zM609 275h5.5v5.5h-5.5zM359 280h5.5v5.5h-5.5zM549 280h5.5v5.5h-5.5zM574 280h5.5v5.5h-5.5zM604 280h5.5v5.5h-5.5zM364 285h10.5v5.5h-10.5zM544 285h5.5v5.5h-5.5zM584 285h15.5v5.5h-15.5zM369 290h5.5v5.5h-5.5zM539 290h5.5v5.5h-5.5zM374 295h5.5v5.5h-5.5zM719 295h5.5v5.5h-5.5zM374 300h5.5v5.5h-5.5zM369 305h10.5v5.5h-10.5zM364 310h10.5v5.5h-10.5zM689 310h5.5v5.5h-5.5zM359 315h10.5v5.5h-10.5zM689 315h5.5v5.5h-5.5zM359 320h5.5v5.5h-5.5zM689 320h5.5v5.5h-5.5zM359 325h5.5v5.5h-5.5zM689 325h5.5v5.5h-5.5zM359 330h10.5v5.5h-10.5zM534 330h5.5v5.5h-5.5zM689 330h5.5v5.5h-5.5zM364 335h10.5v5.5h-10.5zM369 340h10.5v5.5h-10.5zM699 340h5.5v5.5h-5.5zM374 345h10.5v5.5h-10.5zM529 345h5.5v5.5h-5.5zM569 345h20.5v5.5h-20.5zM709 345h10.5v5.5h-10.5zM379 350h5.5v5.5h-5.5zM524 350h5.5v5.5h-5.5zM564 350h10.5v5.5h-10.5zM584 350h15.5v5.5h-15.5zM724 350h5.5v5.5h-5.5zM759 350h5.5v5.5h-5.5zM384 355h5.5v5.5h-5.5zM559 355h10.5v5.5h-10.5zM589 355h10.5v5.5h-10.5zM729 355h5.5v5.5h-5.5zM759 355h5.5v5.5h-5.5zM559 360h5.5v5.5h-5.5zM589 360h10.5v5.5h-10.5zM734 360h5.5v5.5h-5.5zM754 360h5.5v5.5h-5.5zM389 365h5.5v5.5h-5.5zM514 365h5.5v5.5h-5.5zM559 365h10.5v5.5h-10.5zM589 365h10.5v5.5h-10.5zM739 365h20.5v5.5h-20.5zM564 370h10.5v5.5h-10.5zM594 370h10.5v5.5h-10.5zM679 370h15.5v5.5h-15.5zM744 370h10.5v5.5h-10.5zM499 375h5.5v5.5h-5.5zM569 375h15.5v5.5h-15.5zM599 375h10.5v5.5h-10.5zM679 375h15.5v5.5h-15.5zM739 375h20.5v5.5h-20.5zM394 380h5.5v5.5h-5.5zM489 380h5.5v5.5h-5.5zM579 380h10.5v5.5h-10.5zM609 380h5.5v5.5h-5.5zM684 380h5.5v5.5h-5.5zM739 380h5.5v5.5h-5.5zM754 380h5.5v5.5h-5.5zM469 385h10.5v5.5h-10.5zM584 385h5.5v5.5h-5.5zM614 385h5.5v5.5h-5.5zM754 385h5.5v5.5h-5.5zM459 390h5.5v5.5h-5.5zM584 390h5.5v5.5h-5.5zM619 390h5.5v5.5h-5.5zM734 390h5.5v5.5h-5.5zM409 395h10.5v5.5h-10.5zM454 395h5.5v5.5h-5.5zM584 395h5.5v5.5h-5.5zM624 395h5.5v5.5h-5.5zM739 395h10.5v5.5h-10.5zM424 400h5.5v5.5h-5.5zM444 400h5.5v5.5h-5.5zM589 400h5.5v5.5h-5.5zM629 400h5.5v5.5h-5.5zM594 405h5.5v5.5h-5.5zM634 405h5.5v5.5h-5.5zM599 410h5.5v5.5h-5.5zM634 410h5.5v5.5h-5.5zM599 415h5.5v5.5h-5.5zM639 415h5.5v5.5h-5.5zM639 420h5.5v5.5h-5.5zM604 425h5.5v5.5h-5.5zM639 425h10.5v5.5h-10.5zM639 430h10.5v5.5h-10.5zM609 435h5.5v5.5h-5.5zM639 435h10.5v5.5h-10.5zM609 440h5.5v5.5h-5.5zM639 440h10.5v5.5h-10.5zM614 445h5.5v5.5h-5.5zM639 445h10.5v5.5h-10.5zM619 450h30.5v5.5h-30.5zM689 450h10.5v5.5h-10.5zM714 450h10.5v5.5h-10.5zM634 455h20.5v5.5h-20.5zM684 455h5.5v5.5h-5.5zM739 455h5.5v5.5h-5.5zM674 460h5.5v5.5h-5.5zM759 460h5.5v5.5h-5.5zM669 465h5.5v5.5h-5.5zM769 465h5.5v5.5h-5.5zM664 470h5.5v5.5h-5.5zM664 475h5.5v5.5h-5.5zM664 480h5.5v5.5h-5.5zM789 480h5.5v5.5h-5.5zM664 485h5.5v5.5h-5.5zM794 485h25.5v5.5h-25.5zM669 500h5.5v5.5h-5.5zM859 500h5.5v5.5h-5.5zM674 510h5.5v5.5h-5.5zM874 510h5.5v5.5h-5.5zM684 515h10.5v5.5h-10.5zM699 520h5.5v5.5h-5.5zM889 520h5.5v5.5h-5.5zM709 525h15.5v5.5h-15.5zM739 530h5.5v5.5h-5.5zM744 535h5.5v5.5h-5.5zM749 540h5.5v5.5h-5.5zM754 545h10.5v5.5h-10.5zM634 550h15.5v5.5h-15.5zM764 550h5.5v5.5h-5.5zM619 555h5.5v5.5h-5.5zM654 555h5.5v5.5h-5.5zM774 555h5.5v5.5h-5.5zM614 560h5.5v5.5h-5.5zM664 560h5.5v5.5h-5.5zM784 560h15.5v5.5h-15.5zM904 560h5.5v5.5h-5.5zM669 565h5.5v5.5h-5.5zM799 565h10.5v5.5h-10.5zM894 565h10.5v5.5h-10.5zM609 570h5.5v5.5h-5.5zM804 570h10.5v5.5h-10.5zM844 570h15.5v5.5h-15.5zM964 570h10.5v5.5h-10.5zM814 575h30.5v5.5h-30.5zM959 575h5.5v5.5h-5.5zM614 580h5.5v5.5h-5.5zM669 580h5.5v5.5h-5.5zM954 580h10.5v5.5h-10.5zM664 585h5.5v5.5h-5.5zM954 585h10.5v5.5h-10.5zM634 590h25.5v5.5h-25.5zM954 590h10.5v5.5h-10.5zM959 595h10.5v5.5h-10.5z"/><path fill="#ff6100" d="M604 170h5.5v5.5h-5.5zM599 175h5.5v5.5h-5.5zM599 180h5.5v5.5h-5.5zM594 185h10.5v5.5h-10.5zM594 190h5.5v5.5h-5.5zM599 195h5.5v5.5h-5.5zM604 200h5.5v5.5h-5.5zM609 205h5.5v5.5h-5.5zM619 220h5.5v5.5h-5.5zM299 225h5.5v5.5h-5.5zM624 225h5.5v5.5h-5.5zM304 230h5.5v5.5h-5.5zM624 230h5.5v5.5h-5.5zM309 235h5.5v5.5h-5.5zM624 235h5.5v5.5h-5.5zM314 240h5.5v5.5h-5.5zM624 240h5.5v5.5h-5.5zM319 245h5.5v5.5h-5.5zM624 245h5.5v5.5h-5.5zM324 250h5.5v5.5h-5.5zM329 255h5.5v5.5h-5.5zM619 255h5.5v5.5h-5.5zM614 260h5.5v5.5h-5.5zM344 265h5.5v5.5h-5.5zM354 270h5.5v5.5h-5.5zM609 270h5.5v5.5h-5.5zM359 275h5.5v5.5h-5.5zM549 275h10.5v5.5h-10.5zM569 275h5.5v5.5h-5.5zM604 275h5.5v5.5h-5.5zM364 280h10.5v5.5h-10.5zM544 280h5.5v5.5h-5.5zM579 280h5.5v5.5h-5.5zM594 280h10.5v5.5h-10.5zM374 285h5.5v5.5h-5.5zM374 290h10.5v5.5h-10.5zM379 295h5.5v5.5h-5.5zM709 295h10.5v5.5h-10.5zM379 300h5.5v5.5h-5.5zM699 300h5.5v5.5h-5.5zM724 300h5.5v5.5h-5.5zM379 305h5.5v5.5h-5.5zM534 305h5.5v5.5h-5.5zM694 305h5.5v5.5h-5.5zM729 305h5.5v5.5h-5.5zM374 310h5.5v5.5h-5.5zM534 310h5.5v5.5h-5.5zM369 315h5.5v5.5h-5.5zM534 315h5.5v5.5h-5.5zM364 320h10.5v5.5h-10.5zM534 320h5.5v5.5h-5.5zM364 325h10.5v5.5h-10.5zM534 325h5.5v5.5h-5.5zM369 330h5.5v5.5h-5.5zM374 335h5.5v5.5h-5.5zM694 335h5.5v5.5h-5.5zM379 340h5.5v5.5h-5.5zM529 340h5.5v5.5h-5.5zM704 340h5.5v5.5h-5.5zM759 340h5.5v5.5h-5.5zM384 345h5.5v5.5h-5.5zM719 345h5.5v5.5h-5.5zM759 345h5.5v5.5h-5.5zM384 350h5.5v5.5h-5.5zM574 350h10.5v5.5h-10.5zM389 355h5.5v5.5h-5.5zM519 355h5.5v5.5h-5.5zM569 355h20.5v5.5h-20.5zM734 355h5.5v5.5h-5.5zM754 355h5.5v5.5h-5.5zM389 360h5.5v5.5h-5.5zM514 360h5.5v5.5h-5.5zM564 360h25.5v5.5h-25.5zM739 360h15.5v5.5h-15.5zM509 365h5.5v5.5h-5.5zM569 365h20.5v5.5h-20.5zM394 370h5.5v5.5h-5.5zM504 370h5.5v5.5h-5.5zM574 370h20.5v5.5h-20.5zM394 375h5.5v5.5h-5.5zM494 375h5.5v5.5h-5.5zM584 375h15.5v5.5h-15.5zM474 380h15.5v5.5h-15.5zM589 380h20.5v5.5h-20.5zM744 380h10.5v5.5h-10.5zM399 385h5.5v5.5h-5.5zM459 385h10.5v5.5h-10.5zM589 385h5.5v5.5h-5.5zM609 385h5.5v5.5h-5.5zM739 385h5.5v5.5h-5.5zM404 390h10.5v5.5h-10.5zM454 390h5.5v5.5h-5.5zM589 390h5.5v5.5h-5.5zM614 390h5.5v5.5h-5.5zM739 390h5.5v5.5h-5.5zM749 390h5.5v5.5h-5.5zM419 395h5.5v5.5h-5.5zM449 395h5.5v5.5h-5.5zM589 395h10.5v5.5h-10.5zM619 395h5.5v5.5h-5.5zM429 400h15.5v5.5h-15.5zM594 400h5.5v5.5h-5.5zM624 400h5.5v5.5h-5.5zM599 405h5.5v5.5h-5.5zM629 405h5.5v5.5h-5.5zM604 410h5.5v5.5h-5.5zM629 410h5.5v5.5h-5.5zM604 415h5.5v5.5h-5.5zM634 415h5.5v5.5h-5.5zM604 420h5.5v5.5h-5.5zM634 420h5.5v5.5h-5.5zM634 425h5.5v5.5h-5.5zM609 430h5.5v5.5h-5.5zM629 430h10.5v5.5h-10.5zM614 435h5.5v5.5h-5.5zM624 435h15.5v5.5h-15.5zM614 440h25.5v5.5h-25.5zM619 445h20.5v5.5h-20.5zM699 450h15.5v5.5h-15.5zM734 455h5.5v5.5h-5.5zM679 460h5.5v5.5h-5.5zM754 460h5.5v5.5h-5.5zM674 465h5.5v5.5h-5.5zM764 465h5.5v5.5h-5.5zM669 470h5.5v5.5h-5.5zM774 470h5.5v5.5h-5.5zM669 475h5.5v5.5h-5.5zM779 475h5.5v5.5h-5.5zM669 480h5.5v5.5h-5.5zM784 480h5.5v5.5h-5.5zM669 485h5.5v5.5h-5.5zM789 485h5.5v5.5h-5.5zM819 485h20.5v5.5h-20.5zM669 490h5.5v5.5h-5.5zM799 490h10.5v5.5h-10.5zM844 490h5.5v5.5h-5.5zM669 495h5.5v5.5h-5.5zM674 505h5.5v5.5h-5.5zM864 505h5.5v5.5h-5.5zM679 510h5.5v5.5h-5.5zM694 515h5.5v5.5h-5.5zM704 520h5.5v5.5h-5.5zM724 525h25.5v5.5h-25.5zM894 525h5.5v5.5h-5.5zM744 530h10.5v5.5h-10.5zM749 535h10.5v5.5h-10.5zM904 535h5.5v5.5h-5.5zM754 540h10.5v5.5h-10.5zM764 545h5.5v5.5h-5.5zM769 550h10.5v5.5h-10.5zM624 555h5.5v5.5h-5.5zM649 555h5.5v5.5h-5.5zM779 555h10.5v5.5h-10.5zM619 560h5.5v5.5h-5.5zM659 560h5.5v5.5h-5.5zM799 560h10.5v5.5h-10.5zM614 565h5.5v5.5h-5.5zM664 565h5.5v5.5h-5.5zM809 565h5.5v5.5h-5.5zM839 565h25.5v5.5h-25.5zM884 565h10.5v5.5h-10.5zM614 570h5.5v5.5h-5.5zM669 570h5.5v5.5h-5.5zM814 570h30.5v5.5h-30.5zM974 570h10.5v5.5h-10.5zM614 575h5.5v5.5h-5.5zM669 575h5.5v5.5h-5.5zM964 575h20.5v5.5h-20.5zM619 580h5.5v5.5h-5.5zM664 580h5.5v5.5h-5.5zM964 580h20.5v5.5h-20.5zM624 585h5.5v5.5h-5.5zM659 585h5.5v5.5h-5.5zM964 585h20.5v5.5h-20.5zM964 590h20.5v5.5h-20.5zM969 595h15.5v5.5h-15.5z"/><path fill="#ff5b00" d="M594 170h10.5v5.5h-10.5zM594 175h5.5v5.5h-5.5zM589 180h10.5v5.5h-10.5zM589 185h5.5v5.5h-5.5zM589 190h5.5v5.5h-5.5zM594 195h5.5v5.5h-5.5zM599 200h5.5v5.5h-5.5zM604 205h5.5v5.5h-5.5zM609 210h5.5v5.5h-5.5zM614 215h5.5v5.5h-5.5zM294 220h5.5v5.5h-5.5zM304 225h5.5v5.5h-5.5zM619 225h5.5v5.5h-5.5zM309 230h5.5v5.5h-5.5zM619 230h5.5v5.5h-5.5zM314 235h5.5v5.5h-5.5zM619 235h5.5v5.5h-5.5zM619 240h5.5v5.5h-5.5zM619 245h5.5v5.5h-5.5zM619 250h5.5v5.5h-5.5zM614 255h5.5v5.5h-5.5zM339 260h5.5v5.5h-5.5zM349 265h5.5v5.5h-5.5zM609 265h5.5v5.5h-5.5zM359 270h5.5v5.5h-5.5zM554 270h15.5v5.5h-15.5zM604 270h5.5v5.5h-5.5zM364 275h5.5v5.5h-5.5zM574 275h5.5v5.5h-5.5zM599 275h5.5v5.5h-5.5zM374 280h5.5v5.5h-5.5zM584 280h10.5v5.5h-10.5zM379 285h5.5v5.5h-5.5zM539 285h5.5v5.5h-5.5zM384 290h5.5v5.5h-5.5zM384 295h5.5v5.5h-5.5zM534 295h5.5v5.5h-5.5zM384 300h5.5v5.5h-5.5zM534 300h5.5v5.5h-5.5zM384 305h5.5v5.5h-5.5zM379 310h5.5v5.5h-5.5zM694 310h5.5v5.5h-5.5zM734 310h5.5v5.5h-5.5zM374 315h10.5v5.5h-10.5zM694 315h5.5v5.5h-5.5zM374 320h5.5v5.5h-5.5zM694 320h5.5v5.5h-5.5zM374 325h5.5v5.5h-5.5zM694 325h5.5v5.5h-5.5zM374 330h10.5v5.5h-10.5zM694 330h5.5v5.5h-5.5zM379 335h5.5v5.5h-5.5zM699 335h5.5v5.5h-5.5zM384 340h5.5v5.5h-5.5zM709 340h10.5v5.5h-10.5zM389 345h5.5v5.5h-5.5zM524 345h5.5v5.5h-5.5zM724 345h5.5v5.5h-5.5zM754 345h5.5v5.5h-5.5zM389 350h5.5v5.5h-5.5zM729 350h5.5v5.5h-5.5zM754 350h5.5v5.5h-5.5zM739 355h15.5v5.5h-15.5zM394 360h5.5v5.5h-5.5zM394 365h5.5v5.5h-5.5zM499 370h5.5v5.5h-5.5zM489 375h5.5v5.5h-5.5zM399 380h5.5v5.5h-5.5zM464 380h10.5v5.5h-10.5zM404 385h5.5v5.5h-5.5zM454 385h5.5v5.5h-5.5zM594 385h15.5v5.5h-15.5zM744 385h10.5v5.5h-10.5zM414 390h5.5v5.5h-5.5zM449 390h5.5v5.5h-5.5zM594 390h20.5v5.5h-20.5zM744 390h5.5v5.5h-5.5zM424 395h5.5v5.5h-5.5zM444 395h5.5v5.5h-5.5zM599 395h5.5v5.5h-5.5zM614 395h5.5v5.5h-5.5zM599 400h10.5v5.5h-10.5zM619 400h5.5v5.5h-5.5zM604 405h5.5v5.5h-5.5zM624 405h5.5v5.5h-5.5zM624 410h5.5v5.5h-5.5zM609 415h5.5v5.5h-5.5zM624 415h10.5v5.5h-10.5zM609 420h5.5v5.5h-5.5zM624 420h10.5v5.5h-10.5zM609 425h5.5v5.5h-5.5zM624 425h10.5v5.5h-10.5zM614 430h15.5v5.5h-15.5zM619 435h5.5v5.5h-5.5zM689 455h5.5v5.5h-5.5zM729 455h5.5v5.5h-5.5zM684 460h5.5v5.5h-5.5zM749 460h5.5v5.5h-5.5zM674 470h5.5v5.5h-5.5zM769 470h5.5v5.5h-5.5zM779 480h5.5v5.5h-5.5zM784 485h5.5v5.5h-5.5zM789 490h10.5v5.5h-10.5zM809 490h10.5v5.5h-10.5zM849 495h5.5v5.5h-5.5zM674 500h5.5v5.5h-5.5zM854 500h5.5v5.5h-5.5zM679 505h5.5v5.5h-5.5zM859 505h5.5v5.5h-5.5zM684 510h5.5v5.5h-5.5zM869 510h5.5v5.5h-5.5zM699 515h5.5v5.5h-5.5zM879 515h5.5v5.5h-5.5zM709 520h40.5v5.5h-40.5zM884 520h5.5v5.5h-5.5zM749 525h5.5v5.5h-5.5zM754 530h5.5v5.5h-5.5zM899 530h5.5v5.5h-5.5zM759 535h10.5v5.5h-10.5zM764 540h10.5v5.5h-10.5zM904 540h5.5v5.5h-5.5zM769 545h10.5v5.5h-10.5zM779 550h10.5v5.5h-10.5zM629 555h20.5v5.5h-20.5zM789 555h20.5v5.5h-20.5zM904 555h5.5v5.5h-5.5zM654 560h5.5v5.5h-5.5zM809 560h10.5v5.5h-10.5zM834 560h20.5v5.5h-20.5zM899 560h5.5v5.5h-5.5zM619 565h5.5v5.5h-5.5zM814 565h25.5v5.5h-25.5zM864 565h20.5v5.5h-20.5zM664 570h5.5v5.5h-5.5zM619 575h5.5v5.5h-5.5zM664 575h5.5v5.5h-5.5zM629 585h5.5v5.5h-5.5zM654 585h5.5v5.5h-5.5z"/><path fill="#ff5500" d="M589 165h10.5v5.5h-10.5zM589 170h5.5v5.5h-5.5zM584 175h10.5v5.5h-10.5zM584 180h5.5v5.5h-5.5zM584 185h5.5v5.5h-5.5zM584 190h5.5v5.5h-5.5zM589 195h5.5v5.5h-5.5zM594 200h5.5v5.5h-5.5zM599 205h5.5v5.5h-5.5zM604 210h5.5v5.5h-5.5zM609 215h5.5v5.5h-5.5zM299 220h5.5v5.5h-5.5zM614 220h5.5v5.5h-5.5zM309 225h5.5v5.5h-5.5zM614 225h5.5v5.5h-5.5zM319 240h5.5v5.5h-5.5zM324 245h5.5v5.5h-5.5zM614 245h5.5v5.5h-5.5zM329 250h5.5v5.5h-5.5zM614 250h5.5v5.5h-5.5zM334 255h5.5v5.5h-5.5zM609 255h5.5v5.5h-5.5zM344 260h5.5v5.5h-5.5zM609 260h5.5v5.5h-5.5zM354 265h5.5v5.5h-5.5zM604 265h5.5v5.5h-5.5zM364 270h5.5v5.5h-5.5zM549 270h5.5v5.5h-5.5zM569 270h5.5v5.5h-5.5zM599 270h5.5v5.5h-5.5zM369 275h10.5v5.5h-10.5zM544 275h5.5v5.5h-5.5zM579 275h5.5v5.5h-5.5zM594 275h5.5v5.5h-5.5zM379 280h5.5v5.5h-5.5zM539 280h5.5v5.5h-5.5zM384 285h5.5v5.5h-5.5zM389 290h5.5v5.5h-5.5zM534 290h5.5v5.5h-5.5zM389 295h5.5v5.5h-5.5zM389 300h5.5v5.5h-5.5zM704 300h5.5v5.5h-5.5zM719 300h5.5v5.5h-5.5zM389 305h5.5v5.5h-5.5zM699 305h5.5v5.5h-5.5zM384 310h5.5v5.5h-5.5zM384 315h5.5v5.5h-5.5zM739 315h5.5v5.5h-5.5zM379 320h10.5v5.5h-10.5zM744 320h5.5v5.5h-5.5zM379 325h10.5v5.5h-10.5zM384 330h5.5v5.5h-5.5zM699 330h5.5v5.5h-5.5zM384 335h5.5v5.5h-5.5zM529 335h5.5v5.5h-5.5zM704 335h5.5v5.5h-5.5zM754 335h5.5v5.5h-5.5zM389 340h5.5v5.5h-5.5zM719 340h10.5v5.5h-10.5zM754 340h5.5v5.5h-5.5zM729 345h5.5v5.5h-5.5zM394 350h5.5v5.5h-5.5zM519 350h5.5v5.5h-5.5zM734 350h20.5v5.5h-20.5zM394 355h5.5v5.5h-5.5zM514 355h5.5v5.5h-5.5zM509 360h5.5v5.5h-5.5zM504 365h5.5v5.5h-5.5zM399 370h5.5v5.5h-5.5zM494 370h5.5v5.5h-5.5zM399 375h5.5v5.5h-5.5zM464 375h25.5v5.5h-25.5zM454 380h10.5v5.5h-10.5zM409 385h5.5v5.5h-5.5zM449 385h5.5v5.5h-5.5zM419 390h10.5v5.5h-10.5zM444 390h5.5v5.5h-5.5zM429 395h15.5v5.5h-15.5zM604 395h10.5v5.5h-10.5zM609 400h10.5v5.5h-10.5zM609 405h15.5v5.5h-15.5zM609 410h15.5v5.5h-15.5zM614 415h10.5v5.5h-10.5zM614 420h10.5v5.5h-10.5zM614 425h10.5v5.5h-10.5zM694 455h10.5v5.5h-10.5zM719 455h10.5v5.5h-10.5zM744 460h5.5v5.5h-5.5zM679 465h5.5v5.5h-5.5zM759 465h5.5v5.5h-5.5zM674 475h5.5v5.5h-5.5zM774 475h5.5v5.5h-5.5zM674 480h5.5v5.5h-5.5zM674 485h5.5v5.5h-5.5zM779 485h5.5v5.5h-5.5zM674 490h5.5v5.5h-5.5zM784 490h5.5v5.5h-5.5zM819 490h5.5v5.5h-5.5zM839 490h5.5v5.5h-5.5zM674 495h5.5v5.5h-5.5zM789 495h25.5v5.5h-25.5zM689 510h10.5v5.5h-10.5zM864 510h5.5v5.5h-5.5zM704 515h5.5v5.5h-5.5zM744 515h15.5v5.5h-15.5zM874 515h5.5v5.5h-5.5zM749 520h10.5v5.5h-10.5zM754 525h10.5v5.5h-10.5zM889 525h5.5v5.5h-5.5zM759 530h20.5v5.5h-20.5zM769 535h15.5v5.5h-15.5zM774 540h10.5v5.5h-10.5zM779 545h10.5v5.5h-10.5zM904 545h5.5v5.5h-5.5zM789 550h25.5v5.5h-25.5zM904 550h5.5v5.5h-5.5zM809 555h35.5v5.5h-35.5zM624 560h5.5v5.5h-5.5zM649 560h5.5v5.5h-5.5zM819 560h15.5v5.5h-15.5zM854 560h5.5v5.5h-5.5zM894 560h5.5v5.5h-5.5zM659 565h5.5v5.5h-5.5zM619 570h5.5v5.5h-5.5zM624 580h5.5v5.5h-5.5zM659 580h5.5v5.5h-5.5zM634 585h20.5v5.5h-20.5z"/><path fill="#ff4f00" d="M579 160h5.5v5.5h-5.5zM584 165h5.5v5.5h-5.5zM584 170h5.5v5.5h-5.5zM579 175h5.5v5.5h-5.5zM579 180h5.5v5.5h-5.5zM579 185h5.5v5.5h-5.5zM579 190h5.5v5.5h-5.5zM584 195h5.5v5.5h-5.5zM589 200h5.5v5.5h-5.5zM594 205h5.5v5.5h-5.5zM304 210h5.5v5.5h-5.5zM599 210h5.5v5.5h-5.5zM299 215h10.5v5.5h-10.5zM604 215h5.5v5.5h-5.5zM304 220h10.5v5.5h-10.5zM609 220h5.5v5.5h-5.5zM314 230h5.5v5.5h-5.5zM614 230h5.5v5.5h-5.5zM319 235h5.5v5.5h-5.5zM614 235h5.5v5.5h-5.5zM614 240h5.5v5.5h-5.5zM609 250h5.5v5.5h-5.5zM339 255h5.5v5.5h-5.5zM349 260h5.5v5.5h-5.5zM604 260h5.5v5.5h-5.5zM359 265h5.5v5.5h-5.5zM554 265h15.5v5.5h-15.5zM599 265h5.5v5.5h-5.5zM369 270h5.5v5.5h-5.5zM544 270h5.5v5.5h-5.5zM574 270h5.5v5.5h-5.5zM594 270h5.5v5.5h-5.5zM379 275h5.5v5.5h-5.5zM539 275h5.5v5.5h-5.5zM584 275h10.5v5.5h-10.5zM384 280h5.5v5.5h-5.5zM389 285h5.5v5.5h-5.5zM394 295h5.5v5.5h-5.5zM394 300h5.5v5.5h-5.5zM709 300h10.5v5.5h-10.5zM394 305h5.5v5.5h-5.5zM724 305h5.5v5.5h-5.5zM389 310h5.5v5.5h-5.5zM699 310h5.5v5.5h-5.5zM389 315h5.5v5.5h-5.5zM699 315h5.5v5.5h-5.5zM389 320h5.5v5.5h-5.5zM699 320h5.5v5.5h-5.5zM389 325h5.5v5.5h-5.5zM529 325h5.5v5.5h-5.5zM699 325h5.5v5.5h-5.5zM749 325h5.5v5.5h-5.5zM389 330h5.5v5.5h-5.5zM529 330h5.5v5.5h-5.5zM389 335h5.5v5.5h-5.5zM709 335h10.5v5.5h-10.5zM394 340h5.5v5.5h-5.5zM524 340h5.5v5.5h-5.5zM729 340h5.5v5.5h-5.5zM749 340h5.5v5.5h-5.5zM394 345h5.5v5.5h-5.5zM734 345h20.5v5.5h-20.5zM399 355h5.5v5.5h-5.5zM454 355h5.5v5.5h-5.5zM399 360h5.5v5.5h-5.5zM459 360h5.5v5.5h-5.5zM399 365h5.5v5.5h-5.5zM459 365h15.5v5.5h-15.5zM499 365h5.5v5.5h-5.5zM459 370h35.5v5.5h-35.5zM454 375h10.5v5.5h-10.5zM404 380h5.5v5.5h-5.5zM449 380h5.5v5.5h-5.5zM414 385h15.5v5.5h-15.5zM444 385h5.5v5.5h-5.5zM429 390h15.5v5.5h-15.5zM704 455h15.5v5.5h-15.5zM689 460h5.5v5.5h-5.5zM739 460h5.5v5.5h-5.5zM684 465h5.5v5.5h-5.5zM754 465h5.5v5.5h-5.5zM679 470h5.5v5.5h-5.5zM764 470h5.5v5.5h-5.5zM769 475h5.5v5.5h-5.5zM774 480h5.5v5.5h-5.5zM779 490h5.5v5.5h-5.5zM824 490h15.5v5.5h-15.5zM679 495h5.5v5.5h-5.5zM779 495h10.5v5.5h-10.5zM814 495h5.5v5.5h-5.5zM844 495h5.5v5.5h-5.5zM679 500h5.5v5.5h-5.5zM774 500h40.5v5.5h-40.5zM849 500h5.5v5.5h-5.5zM684 505h5.5v5.5h-5.5zM759 505h50.5v5.5h-50.5zM854 505h5.5v5.5h-5.5zM749 510h55.5v5.5h-55.5zM709 515h35.5v5.5h-35.5zM759 515h45.5v5.5h-45.5zM759 520h50.5v5.5h-50.5zM879 520h5.5v5.5h-5.5zM764 525h45.5v5.5h-45.5zM779 530h30.5v5.5h-30.5zM784 535h30.5v5.5h-30.5zM784 540h35.5v5.5h-35.5zM789 545h40.5v5.5h-40.5zM814 550h30.5v5.5h-30.5zM844 555h10.5v5.5h-10.5zM899 555h5.5v5.5h-5.5zM629 560h20.5v5.5h-20.5zM859 560h10.5v5.5h-10.5zM889 560h5.5v5.5h-5.5zM624 565h5.5v5.5h-5.5zM654 565h5.5v5.5h-5.5zM624 570h5.5v5.5h-5.5zM659 570h5.5v5.5h-5.5zM624 575h5.5v5.5h-5.5zM659 575h5.5v5.5h-5.5zM629 580h5.5v5.5h-5.5zM654 580h5.5v5.5h-5.5z"/><path fill="#ff4800" d="M569 160h10.5v5.5h-10.5zM574 165h10.5v5.5h-10.5zM574 170h10.5v5.5h-10.5zM574 175h5.5v5.5h-5.5zM574 180h5.5v5.5h-5.5zM574 185h5.5v5.5h-5.5zM574 190h5.5v5.5h-5.5zM579 195h5.5v5.5h-5.5zM584 200h5.5v5.5h-5.5zM309 205h5.5v5.5h-5.5zM589 205h5.5v5.5h-5.5zM309 210h5.5v5.5h-5.5zM309 215h5.5v5.5h-5.5zM604 220h5.5v5.5h-5.5zM314 225h5.5v5.5h-5.5zM494 225h10.5v5.5h-10.5zM609 225h5.5v5.5h-5.5zM494 230h10.5v5.5h-10.5zM609 230h5.5v5.5h-5.5zM494 235h5.5v5.5h-5.5zM609 235h5.5v5.5h-5.5zM324 240h5.5v5.5h-5.5zM609 240h5.5v5.5h-5.5zM329 245h5.5v5.5h-5.5zM609 245h5.5v5.5h-5.5zM334 250h5.5v5.5h-5.5zM604 255h5.5v5.5h-5.5zM599 260h5.5v5.5h-5.5zM364 265h5.5v5.5h-5.5zM549 265h5.5v5.5h-5.5zM569 265h5.5v5.5h-5.5zM594 265h5.5v5.5h-5.5zM374 270h5.5v5.5h-5.5zM539 270h5.5v5.5h-5.5zM579 270h15.5v5.5h-15.5zM384 275h5.5v5.5h-5.5zM389 280h5.5v5.5h-5.5zM534 285h5.5v5.5h-5.5zM394 290h5.5v5.5h-5.5zM529 305h5.5v5.5h-5.5zM704 305h5.5v5.5h-5.5zM394 310h5.5v5.5h-5.5zM529 310h5.5v5.5h-5.5zM729 310h5.5v5.5h-5.5zM394 315h5.5v5.5h-5.5zM529 315h5.5v5.5h-5.5zM734 315h5.5v5.5h-5.5zM529 320h5.5v5.5h-5.5zM394 330h5.5v5.5h-5.5zM704 330h5.5v5.5h-5.5zM749 330h5.5v5.5h-5.5zM394 335h5.5v5.5h-5.5zM439 335h20.5v5.5h-20.5zM719 335h10.5v5.5h-10.5zM749 335h5.5v5.5h-5.5zM439 340h25.5v5.5h-25.5zM734 340h5.5v5.5h-5.5zM744 340h5.5v5.5h-5.5zM399 345h5.5v5.5h-5.5zM434 345h30.5v5.5h-30.5zM519 345h5.5v5.5h-5.5zM399 350h5.5v5.5h-5.5zM434 350h35.5v5.5h-35.5zM514 350h5.5v5.5h-5.5zM439 355h15.5v5.5h-15.5zM459 355h10.5v5.5h-10.5zM509 355h5.5v5.5h-5.5zM444 360h15.5v5.5h-15.5zM464 360h10.5v5.5h-10.5zM504 360h5.5v5.5h-5.5zM449 365h10.5v5.5h-10.5zM474 365h10.5v5.5h-10.5zM494 365h5.5v5.5h-5.5zM404 370h5.5v5.5h-5.5zM449 370h10.5v5.5h-10.5zM404 375h5.5v5.5h-5.5zM444 375h10.5v5.5h-10.5zM409 380h10.5v5.5h-10.5zM439 380h10.5v5.5h-10.5zM429 385h15.5v5.5h-15.5zM694 460h5.5v5.5h-5.5zM734 460h5.5v5.5h-5.5zM749 465h5.5v5.5h-5.5zM759 470h5.5v5.5h-5.5zM679 475h5.5v5.5h-5.5zM679 480h5.5v5.5h-5.5zM769 480h5.5v5.5h-5.5zM679 485h5.5v5.5h-5.5zM769 485h10.5v5.5h-10.5zM679 490h5.5v5.5h-5.5zM769 490h10.5v5.5h-10.5zM764 495h15.5v5.5h-15.5zM819 495h5.5v5.5h-5.5zM684 500h5.5v5.5h-5.5zM759 500h15.5v5.5h-15.5zM814 500h5.5v5.5h-5.5zM689 505h5.5v5.5h-5.5zM749 505h10.5v5.5h-10.5zM809 505h5.5v5.5h-5.5zM699 510h5.5v5.5h-5.5zM739 510h10.5v5.5h-10.5zM804 510h10.5v5.5h-10.5zM859 510h5.5v5.5h-5.5zM804 515h10.5v5.5h-10.5zM869 515h5.5v5.5h-5.5zM809 520h5.5v5.5h-5.5zM874 520h5.5v5.5h-5.5zM809 525h10.5v5.5h-10.5zM884 525h5.5v5.5h-5.5zM809 530h10.5v5.5h-10.5zM894 530h5.5v5.5h-5.5zM814 535h10.5v5.5h-10.5zM899 535h5.5v5.5h-5.5zM819 540h10.5v5.5h-10.5zM829 545h10.5v5.5h-10.5zM844 550h5.5v5.5h-5.5zM854 555h5.5v5.5h-5.5zM869 560h20.5v5.5h-20.5zM629 565h5.5v5.5h-5.5zM649 565h5.5v5.5h-5.5zM654 570h5.5v5.5h-5.5zM654 575h5.5v5.5h-5.5zM634 580h5.5v5.5h-5.5zM644 580h10.5v5.5h-10.5z"/><path fill="#ff4200" d="M564 165h10.5v5.5h-10.5zM569 170h5.5v5.5h-5.5zM569 175h5.5v5.5h-5.5zM564 180h10.5v5.5h-10.5zM569 185h5.5v5.5h-5.5zM569 190h5.5v5.5h-5.5zM574 195h5.5v5.5h-5.5zM579 200h5.5v5.5h-5.5zM584 205h5.5v5.5h-5.5zM594 210h5.5v5.5h-5.5zM314 215h5.5v5.5h-5.5zM599 215h5.5v5.5h-5.5zM314 220h5.5v5.5h-5.5zM499 220h5.5v5.5h-5.5zM489 225h5.5v5.5h-5.5zM504 225h5.5v5.5h-5.5zM604 225h5.5v5.5h-5.5zM319 230h5.5v5.5h-5.5zM489 230h5.5v5.5h-5.5zM504 230h5.5v5.5h-5.5zM604 230h5.5v5.5h-5.5zM324 235h5.5v5.5h-5.5zM489 235h5.5v5.5h-5.5zM499 235h5.5v5.5h-5.5zM604 235h5.5v5.5h-5.5zM494 240h5.5v5.5h-5.5zM604 240h5.5v5.5h-5.5zM604 245h5.5v5.5h-5.5zM604 250h5.5v5.5h-5.5zM344 255h5.5v5.5h-5.5zM599 255h5.5v5.5h-5.5zM354 260h5.5v5.5h-5.5zM554 260h15.5v5.5h-15.5zM594 260h5.5v5.5h-5.5zM369 265h5.5v5.5h-5.5zM539 265h10.5v5.5h-10.5zM574 265h10.5v5.5h-10.5zM589 265h5.5v5.5h-5.5zM379 270h5.5v5.5h-5.5zM394 280h5.5v5.5h-5.5zM534 280h5.5v5.5h-5.5zM394 285h5.5v5.5h-5.5zM399 290h5.5v5.5h-5.5zM399 295h5.5v5.5h-5.5zM529 295h5.5v5.5h-5.5zM399 300h5.5v5.5h-5.5zM529 300h5.5v5.5h-5.5zM399 305h5.5v5.5h-5.5zM709 305h5.5v5.5h-5.5zM719 305h5.5v5.5h-5.5zM399 310h5.5v5.5h-5.5zM704 310h5.5v5.5h-5.5zM704 315h5.5v5.5h-5.5zM394 320h5.5v5.5h-5.5zM439 320h20.5v5.5h-20.5zM704 320h5.5v5.5h-5.5zM739 320h5.5v5.5h-5.5zM394 325h5.5v5.5h-5.5zM439 325h25.5v5.5h-25.5zM704 325h5.5v5.5h-5.5zM744 325h5.5v5.5h-5.5zM434 330h30.5v5.5h-30.5zM709 330h10.5v5.5h-10.5zM399 335h5.5v5.5h-5.5zM434 335h5.5v5.5h-5.5zM459 335h5.5v5.5h-5.5zM524 335h5.5v5.5h-5.5zM729 335h5.5v5.5h-5.5zM744 335h5.5v5.5h-5.5zM399 340h5.5v5.5h-5.5zM429 340h10.5v5.5h-10.5zM464 340h5.5v5.5h-5.5zM739 340h5.5v5.5h-5.5zM429 345h5.5v5.5h-5.5zM464 345h5.5v5.5h-5.5zM404 350h5.5v5.5h-5.5zM429 350h5.5v5.5h-5.5zM469 350h5.5v5.5h-5.5zM404 355h5.5v5.5h-5.5zM429 355h10.5v5.5h-10.5zM469 355h5.5v5.5h-5.5zM404 360h5.5v5.5h-5.5zM434 360h10.5v5.5h-10.5zM474 360h5.5v5.5h-5.5zM499 360h5.5v5.5h-5.5zM404 365h5.5v5.5h-5.5zM439 365h10.5v5.5h-10.5zM484 365h10.5v5.5h-10.5zM439 370h10.5v5.5h-10.5zM409 375h5.5v5.5h-5.5zM434 375h10.5v5.5h-10.5zM419 380h20.5v5.5h-20.5zM699 460h5.5v5.5h-5.5zM729 460h5.5v5.5h-5.5zM689 465h5.5v5.5h-5.5zM684 470h5.5v5.5h-5.5zM764 475h5.5v5.5h-5.5zM764 480h5.5v5.5h-5.5zM764 485h5.5v5.5h-5.5zM759 490h10.5v5.5h-10.5zM684 495h5.5v5.5h-5.5zM759 495h5.5v5.5h-5.5zM824 495h5.5v5.5h-5.5zM839 495h5.5v5.5h-5.5zM689 500h5.5v5.5h-5.5zM749 500h10.5v5.5h-10.5zM844 500h5.5v5.5h-5.5zM694 505h5.5v5.5h-5.5zM744 505h5.5v5.5h-5.5zM814 505h5.5v5.5h-5.5zM849 505h5.5v5.5h-5.5zM704 510h10.5v5.5h-10.5zM724 510h15.5v5.5h-15.5zM814 510h5.5v5.5h-5.5zM854 510h5.5v5.5h-5.5zM814 515h5.5v5.5h-5.5zM864 515h5.5v5.5h-5.5zM814 520h5.5v5.5h-5.5zM879 525h5.5v5.5h-5.5zM819 530h5.5v5.5h-5.5zM889 530h5.5v5.5h-5.5zM824 535h5.5v5.5h-5.5zM829 540h10.5v5.5h-10.5zM899 540h5.5v5.5h-5.5zM839 545h10.5v5.5h-10.5zM849 550h5.5v5.5h-5.5zM899 550h5.5v5.5h-5.5zM859 555h5.5v5.5h-5.5zM894 555h5.5v5.5h-5.5zM634 565h15.5v5.5h-15.5zM629 570h5.5v5.5h-5.5zM649 570h5.5v5.5h-5.5zM629 575h5.5v5.5h-5.5zM649 575h5.5v5.5h-5.5zM639 580h5.5v5.5h-5.5z"/><path fill="#ff3c00" d="M559 165h5.5v5.5h-5.5zM559 170h10.5v5.5h-10.5zM559 175h10.5v5.5h-10.5zM559 180h5.5v5.5h-5.5zM559 185h10.5v5.5h-10.5zM564 190h5.5v5.5h-5.5zM569 195h5.5v5.5h-5.5zM574 200h5.5v5.5h-5.5zM579 205h5.5v5.5h-5.5zM314 210h5.5v5.5h-5.5zM584 210h10.5v5.5h-10.5zM594 215h5.5v5.5h-5.5zM494 220h5.5v5.5h-5.5zM504 220h5.5v5.5h-5.5zM599 220h5.5v5.5h-5.5zM319 225h5.5v5.5h-5.5zM509 225h5.5v5.5h-5.5zM599 225h5.5v5.5h-5.5zM484 230h5.5v5.5h-5.5zM509 230h5.5v5.5h-5.5zM504 235h5.5v5.5h-5.5zM329 240h5.5v5.5h-5.5zM489 240h5.5v5.5h-5.5zM499 240h5.5v5.5h-5.5zM334 245h5.5v5.5h-5.5zM599 245h5.5v5.5h-5.5zM339 250h5.5v5.5h-5.5zM599 250h5.5v5.5h-5.5zM349 255h5.5v5.5h-5.5zM594 255h5.5v5.5h-5.5zM359 260h5.5v5.5h-5.5zM539 260h15.5v5.5h-15.5zM569 260h5.5v5.5h-5.5zM589 260h5.5v5.5h-5.5zM374 265h5.5v5.5h-5.5zM584 265h5.5v5.5h-5.5zM384 270h5.5v5.5h-5.5zM534 270h5.5v5.5h-5.5zM389 275h5.5v5.5h-5.5zM534 275h5.5v5.5h-5.5zM399 285h5.5v5.5h-5.5zM529 290h5.5v5.5h-5.5zM404 300h5.5v5.5h-5.5zM439 305h20.5v5.5h-20.5zM714 305h5.5v5.5h-5.5zM439 310h25.5v5.5h-25.5zM709 310h5.5v5.5h-5.5zM724 310h5.5v5.5h-5.5zM399 315h5.5v5.5h-5.5zM434 315h30.5v5.5h-30.5zM729 315h5.5v5.5h-5.5zM399 320h5.5v5.5h-5.5zM434 320h5.5v5.5h-5.5zM459 320h5.5v5.5h-5.5zM734 320h5.5v5.5h-5.5zM399 325h5.5v5.5h-5.5zM429 325h10.5v5.5h-10.5zM464 325h5.5v5.5h-5.5zM709 325h5.5v5.5h-5.5zM739 325h5.5v5.5h-5.5zM399 330h5.5v5.5h-5.5zM429 330h5.5v5.5h-5.5zM464 330h5.5v5.5h-5.5zM719 330h15.5v5.5h-15.5zM739 330h10.5v5.5h-10.5zM429 335h5.5v5.5h-5.5zM464 335h5.5v5.5h-5.5zM734 335h10.5v5.5h-10.5zM404 340h5.5v5.5h-5.5zM424 340h5.5v5.5h-5.5zM519 340h5.5v5.5h-5.5zM404 345h5.5v5.5h-5.5zM424 345h5.5v5.5h-5.5zM469 345h5.5v5.5h-5.5zM424 350h5.5v5.5h-5.5zM509 350h5.5v5.5h-5.5zM409 355h5.5v5.5h-5.5zM424 355h5.5v5.5h-5.5zM474 355h5.5v5.5h-5.5zM504 355h5.5v5.5h-5.5zM409 360h5.5v5.5h-5.5zM424 360h10.5v5.5h-10.5zM479 360h10.5v5.5h-10.5zM494 360h5.5v5.5h-5.5zM409 365h5.5v5.5h-5.5zM424 365h15.5v5.5h-15.5zM409 370h5.5v5.5h-5.5zM424 370h15.5v5.5h-15.5zM414 375h20.5v5.5h-20.5zM704 460h25.5v5.5h-25.5zM744 465h5.5v5.5h-5.5zM689 470h5.5v5.5h-5.5zM754 470h5.5v5.5h-5.5zM684 475h5.5v5.5h-5.5zM759 475h5.5v5.5h-5.5zM684 480h5.5v5.5h-5.5zM759 480h5.5v5.5h-5.5zM684 485h5.5v5.5h-5.5zM759 485h5.5v5.5h-5.5zM684 490h5.5v5.5h-5.5zM754 490h5.5v5.5h-5.5zM754 495h5.5v5.5h-5.5zM829 495h10.5v5.5h-10.5zM819 500h5.5v5.5h-5.5zM699 505h5.5v5.5h-5.5zM739 505h5.5v5.5h-5.5zM714 510h10.5v5.5h-10.5zM849 510h5.5v5.5h-5.5zM859 515h5.5v5.5h-5.5zM819 520h5.5v5.5h-5.5zM869 520h5.5v5.5h-5.5zM819 525h5.5v5.5h-5.5zM874 525h5.5v5.5h-5.5zM824 530h5.5v5.5h-5.5zM879 530h10.5v5.5h-10.5zM829 535h5.5v5.5h-5.5zM839 540h10.5v5.5h-10.5zM849 545h5.5v5.5h-5.5zM899 545h5.5v5.5h-5.5zM854 550h5.5v5.5h-5.5zM864 555h10.5v5.5h-10.5zM889 555h5.5v5.5h-5.5zM634 570h15.5v5.5h-15.5zM634 575h15.5v5.5h-15.5z"/><path fill="#ff3600" d="M554 165h5.5v5.5h-5.5zM554 170h5.5v5.5h-5.5zM554 175h5.5v5.5h-5.5zM554 180h5.5v5.5h-5.5zM554 185h5.5v5.5h-5.5zM559 190h5.5v5.5h-5.5zM564 195h5.5v5.5h-5.5zM569 200h5.5v5.5h-5.5zM314 205h5.5v5.5h-5.5zM574 205h5.5v5.5h-5.5zM579 210h5.5v5.5h-5.5zM494 215h15.5v5.5h-15.5zM589 215h5.5v5.5h-5.5zM489 220h5.5v5.5h-5.5zM509 220h5.5v5.5h-5.5zM594 220h5.5v5.5h-5.5zM484 225h5.5v5.5h-5.5zM514 225h5.5v5.5h-5.5zM594 225h5.5v5.5h-5.5zM324 230h5.5v5.5h-5.5zM514 230h10.5v5.5h-10.5zM599 230h5.5v5.5h-5.5zM484 235h5.5v5.5h-5.5zM509 235h10.5v5.5h-10.5zM599 235h5.5v5.5h-5.5zM484 240h5.5v5.5h-5.5zM504 240h5.5v5.5h-5.5zM599 240h5.5v5.5h-5.5zM489 245h15.5v5.5h-15.5zM344 250h5.5v5.5h-5.5zM539 250h10.5v5.5h-10.5zM594 250h5.5v5.5h-5.5zM354 255h5.5v5.5h-5.5zM539 255h30.5v5.5h-30.5zM589 255h5.5v5.5h-5.5zM364 260h5.5v5.5h-5.5zM574 260h15.5v5.5h-15.5zM379 265h5.5v5.5h-5.5zM534 265h5.5v5.5h-5.5zM389 270h5.5v5.5h-5.5zM394 275h5.5v5.5h-5.5zM399 280h5.5v5.5h-5.5zM404 285h5.5v5.5h-5.5zM529 285h5.5v5.5h-5.5zM404 290h5.5v5.5h-5.5zM404 295h5.5v5.5h-5.5zM444 295h20.5v5.5h-20.5zM434 300h30.5v5.5h-30.5zM404 305h5.5v5.5h-5.5zM429 305h10.5v5.5h-10.5zM459 305h10.5v5.5h-10.5zM404 310h5.5v5.5h-5.5zM429 310h10.5v5.5h-10.5zM464 310h5.5v5.5h-5.5zM714 310h10.5v5.5h-10.5zM404 315h5.5v5.5h-5.5zM429 315h5.5v5.5h-5.5zM464 315h5.5v5.5h-5.5zM709 315h5.5v5.5h-5.5zM404 320h5.5v5.5h-5.5zM429 320h5.5v5.5h-5.5zM464 320h5.5v5.5h-5.5zM709 320h5.5v5.5h-5.5zM404 325h5.5v5.5h-5.5zM424 325h5.5v5.5h-5.5zM714 325h5.5v5.5h-5.5zM734 325h5.5v5.5h-5.5zM404 330h5.5v5.5h-5.5zM424 330h5.5v5.5h-5.5zM524 330h5.5v5.5h-5.5zM734 330h5.5v5.5h-5.5zM404 335h5.5v5.5h-5.5zM419 335h10.5v5.5h-10.5zM469 335h5.5v5.5h-5.5zM409 340h15.5v5.5h-15.5zM469 340h5.5v5.5h-5.5zM409 345h15.5v5.5h-15.5zM514 345h5.5v5.5h-5.5zM409 350h15.5v5.5h-15.5zM474 350h5.5v5.5h-5.5zM414 355h10.5v5.5h-10.5zM479 355h5.5v5.5h-5.5zM499 355h5.5v5.5h-5.5zM414 360h10.5v5.5h-10.5zM489 360h5.5v5.5h-5.5zM414 365h10.5v5.5h-10.5zM414 370h10.5v5.5h-10.5zM694 465h5.5v5.5h-5.5zM739 465h5.5v5.5h-5.5zM749 470h5.5v5.5h-5.5zM689 475h5.5v5.5h-5.5zM754 475h5.5v5.5h-5.5zM754 485h5.5v5.5h-5.5zM689 490h5.5v5.5h-5.5zM689 495h5.5v5.5h-5.5zM749 495h5.5v5.5h-5.5zM694 500h5.5v5.5h-5.5zM744 500h5.5v5.5h-5.5zM824 500h5.5v5.5h-5.5zM839 500h5.5v5.5h-5.5zM704 505h5.5v5.5h-5.5zM729 505h10.5v5.5h-10.5zM819 505h5.5v5.5h-5.5zM844 505h5.5v5.5h-5.5zM819 510h5.5v5.5h-5.5zM819 515h5.5v5.5h-5.5zM854 515h5.5v5.5h-5.5zM864 520h5.5v5.5h-5.5zM824 525h5.5v5.5h-5.5zM869 525h5.5v5.5h-5.5zM829 530h5.5v5.5h-5.5zM874 530h5.5v5.5h-5.5zM834 535h10.5v5.5h-10.5zM894 535h5.5v5.5h-5.5zM849 540h5.5v5.5h-5.5zM854 545h5.5v5.5h-5.5zM859 550h5.5v5.5h-5.5zM894 550h5.5v5.5h-5.5zM874 555h15.5v5.5h-15.5z"/><path fill="#ff3000" d="M539 160h5.5v5.5h-5.5zM539 165h10.5v5.5h-10.5zM544 170h10.5v5.5h-10.5zM544 175h10.5v5.5h-10.5zM549 180h5.5v5.5h-5.5zM549 185h5.5v5.5h-5.5zM554 190h5.5v5.5h-5.5zM559 195h5.5v5.5h-5.5zM564 200h5.5v5.5h-5.5zM569 205h5.5v5.5h-5.5zM569 210h10.5v5.5h-10.5zM509 215h5.5v5.5h-5.5zM574 215h15.5v5.5h-15.5zM319 220h5.5v5.5h-5.5zM514 220h5.5v5.5h-5.5zM584 220h10.5v5.5h-10.5zM519 225h10.5v5.5h-10.5zM589 225h5.5v5.5h-5.5zM524 230h10.5v5.5h-10.5zM594 230h5.5v5.5h-5.5zM329 235h5.5v5.5h-5.5zM519 235h20.5v5.5h-20.5zM594 235h5.5v5.5h-5.5zM334 240h5.5v5.5h-5.5zM509 240h35.5v5.5h-35.5zM594 240h5.5v5.5h-5.5zM339 245h5.5v5.5h-5.5zM484 245h5.5v5.5h-5.5zM504 245h5.5v5.5h-5.5zM524 245h25.5v5.5h-25.5zM594 245h5.5v5.5h-5.5zM494 250h5.5v5.5h-5.5zM534 250h5.5v5.5h-5.5zM549 250h15.5v5.5h-15.5zM589 250h5.5v5.5h-5.5zM359 255h5.5v5.5h-5.5zM534 255h5.5v5.5h-5.5zM569 255h20.5v5.5h-20.5zM369 260h5.5v5.5h-5.5zM534 260h5.5v5.5h-5.5zM384 265h5.5v5.5h-5.5zM394 270h5.5v5.5h-5.5zM399 275h5.5v5.5h-5.5zM404 280h5.5v5.5h-5.5zM529 280h5.5v5.5h-5.5zM409 285h5.5v5.5h-5.5zM409 290h5.5v5.5h-5.5zM444 290h25.5v5.5h-25.5zM409 295h5.5v5.5h-5.5zM424 295h20.5v5.5h-20.5zM464 295h5.5v5.5h-5.5zM409 300h25.5v5.5h-25.5zM464 300h5.5v5.5h-5.5zM409 305h20.5v5.5h-20.5zM469 305h5.5v5.5h-5.5zM409 310h5.5v5.5h-5.5zM419 310h10.5v5.5h-10.5zM469 310h5.5v5.5h-5.5zM409 315h5.5v5.5h-5.5zM419 315h10.5v5.5h-10.5zM469 315h5.5v5.5h-5.5zM524 315h5.5v5.5h-5.5zM714 315h15.5v5.5h-15.5zM409 320h5.5v5.5h-5.5zM419 320h10.5v5.5h-10.5zM469 320h5.5v5.5h-5.5zM524 320h5.5v5.5h-5.5zM714 320h20.5v5.5h-20.5zM409 325h15.5v5.5h-15.5zM469 325h5.5v5.5h-5.5zM524 325h5.5v5.5h-5.5zM719 325h15.5v5.5h-15.5zM409 330h15.5v5.5h-15.5zM469 330h5.5v5.5h-5.5zM409 335h10.5v5.5h-10.5zM474 345h5.5v5.5h-5.5zM504 350h5.5v5.5h-5.5zM484 355h5.5v5.5h-5.5zM494 355h5.5v5.5h-5.5zM699 465h5.5v5.5h-5.5zM734 465h5.5v5.5h-5.5zM694 470h5.5v5.5h-5.5zM689 480h5.5v5.5h-5.5zM754 480h5.5v5.5h-5.5zM689 485h5.5v5.5h-5.5zM749 490h5.5v5.5h-5.5zM694 495h5.5v5.5h-5.5zM744 495h5.5v5.5h-5.5zM699 500h5.5v5.5h-5.5zM739 500h5.5v5.5h-5.5zM829 500h10.5v5.5h-10.5zM709 505h20.5v5.5h-20.5zM824 505h5.5v5.5h-5.5zM844 510h5.5v5.5h-5.5zM849 515h5.5v5.5h-5.5zM824 520h5.5v5.5h-5.5zM854 520h10.5v5.5h-10.5zM864 525h5.5v5.5h-5.5zM834 530h5.5v5.5h-5.5zM864 530h10.5v5.5h-10.5zM844 535h15.5v5.5h-15.5zM869 535h25.5v5.5h-25.5zM854 540h10.5v5.5h-10.5zM894 540h5.5v5.5h-5.5zM859 545h5.5v5.5h-5.5zM894 545h5.5v5.5h-5.5zM864 550h10.5v5.5h-10.5z"/><path fill="#ff2a00" d="M529 165h10.5v5.5h-10.5zM534 170h10.5v5.5h-10.5zM539 175h5.5v5.5h-5.5zM544 180h5.5v5.5h-5.5zM544 185h5.5v5.5h-5.5zM314 200h5.5v5.5h-5.5zM559 200h5.5v5.5h-5.5zM564 205h5.5v5.5h-5.5zM494 210h15.5v5.5h-15.5zM564 210h5.5v5.5h-5.5zM319 215h5.5v5.5h-5.5zM489 215h5.5v5.5h-5.5zM514 215h5.5v5.5h-5.5zM564 215h10.5v5.5h-10.5zM484 220h5.5v5.5h-5.5zM519 220h10.5v5.5h-10.5zM569 220h15.5v5.5h-15.5zM324 225h5.5v5.5h-5.5zM479 225h5.5v5.5h-5.5zM529 225h10.5v5.5h-10.5zM579 225h10.5v5.5h-10.5zM479 230h5.5v5.5h-5.5zM534 230h10.5v5.5h-10.5zM584 230h10.5v5.5h-10.5zM479 235h5.5v5.5h-5.5zM539 235h10.5v5.5h-10.5zM589 235h5.5v5.5h-5.5zM479 240h5.5v5.5h-5.5zM544 240h15.5v5.5h-15.5zM584 240h10.5v5.5h-10.5zM509 245h15.5v5.5h-15.5zM549 245h20.5v5.5h-20.5zM584 245h10.5v5.5h-10.5zM349 250h5.5v5.5h-5.5zM484 250h10.5v5.5h-10.5zM499 250h5.5v5.5h-5.5zM524 250h10.5v5.5h-10.5zM564 250h25.5v5.5h-25.5zM364 255h5.5v5.5h-5.5zM529 255h5.5v5.5h-5.5zM374 260h10.5v5.5h-10.5zM389 265h5.5v5.5h-5.5zM399 270h5.5v5.5h-5.5zM529 270h5.5v5.5h-5.5zM404 275h5.5v5.5h-5.5zM529 275h5.5v5.5h-5.5zM409 280h5.5v5.5h-5.5zM414 285h10.5v5.5h-10.5zM449 285h20.5v5.5h-20.5zM414 290h30.5v5.5h-30.5zM469 290h5.5v5.5h-5.5zM414 295h10.5v5.5h-10.5zM469 295h5.5v5.5h-5.5zM469 300h5.5v5.5h-5.5zM524 300h5.5v5.5h-5.5zM524 305h5.5v5.5h-5.5zM414 310h5.5v5.5h-5.5zM524 310h5.5v5.5h-5.5zM414 315h5.5v5.5h-5.5zM414 320h5.5v5.5h-5.5zM474 335h5.5v5.5h-5.5zM519 335h5.5v5.5h-5.5zM474 340h5.5v5.5h-5.5zM514 340h5.5v5.5h-5.5zM509 345h5.5v5.5h-5.5zM479 350h5.5v5.5h-5.5zM499 350h5.5v5.5h-5.5zM489 355h5.5v5.5h-5.5zM704 465h5.5v5.5h-5.5zM729 465h5.5v5.5h-5.5zM744 470h5.5v5.5h-5.5zM694 475h5.5v5.5h-5.5zM749 475h5.5v5.5h-5.5zM694 480h5.5v5.5h-5.5zM749 480h5.5v5.5h-5.5zM694 485h5.5v5.5h-5.5zM749 485h5.5v5.5h-5.5zM694 490h5.5v5.5h-5.5zM744 490h5.5v5.5h-5.5zM699 495h5.5v5.5h-5.5zM704 500h5.5v5.5h-5.5zM734 500h5.5v5.5h-5.5zM839 505h5.5v5.5h-5.5zM824 510h5.5v5.5h-5.5zM824 515h5.5v5.5h-5.5zM844 515h5.5v5.5h-5.5zM849 520h5.5v5.5h-5.5zM829 525h5.5v5.5h-5.5zM849 525h15.5v5.5h-15.5zM839 530h25.5v5.5h-25.5zM859 535h10.5v5.5h-10.5zM864 540h20.5v5.5h-20.5zM864 545h15.5v5.5h-15.5zM874 550h20.5v5.5h-20.5z"/><path fill="#ff2400" d="M519 165h10.5v5.5h-10.5zM524 170h10.5v5.5h-10.5zM529 175h10.5v5.5h-10.5zM534 180h10.5v5.5h-10.5zM539 185h5.5v5.5h-5.5zM549 190h5.5v5.5h-5.5zM554 195h5.5v5.5h-5.5zM554 200h5.5v5.5h-5.5zM499 205h5.5v5.5h-5.5zM554 205h10.5v5.5h-10.5zM509 210h10.5v5.5h-10.5zM554 210h10.5v5.5h-10.5zM484 215h5.5v5.5h-5.5zM519 215h10.5v5.5h-10.5zM549 215h15.5v5.5h-15.5zM529 220h40.5v5.5h-40.5zM539 225h40.5v5.5h-40.5zM329 230h5.5v5.5h-5.5zM544 230h40.5v5.5h-40.5zM334 235h5.5v5.5h-5.5zM549 235h40.5v5.5h-40.5zM339 240h5.5v5.5h-5.5zM559 240h25.5v5.5h-25.5zM344 245h5.5v5.5h-5.5zM479 245h5.5v5.5h-5.5zM569 245h15.5v5.5h-15.5zM354 250h5.5v5.5h-5.5zM504 250h20.5v5.5h-20.5zM369 255h5.5v5.5h-5.5zM484 255h15.5v5.5h-15.5zM384 260h5.5v5.5h-5.5zM529 260h5.5v5.5h-5.5zM394 265h5.5v5.5h-5.5zM529 265h5.5v5.5h-5.5zM404 270h5.5v5.5h-5.5zM409 275h5.5v5.5h-5.5zM414 280h10.5v5.5h-10.5zM454 280h20.5v5.5h-20.5zM424 285h25.5v5.5h-25.5zM469 285h5.5v5.5h-5.5zM474 290h5.5v5.5h-5.5zM474 295h5.5v5.5h-5.5zM524 295h5.5v5.5h-5.5zM474 300h5.5v5.5h-5.5zM474 305h5.5v5.5h-5.5zM474 310h5.5v5.5h-5.5zM474 315h5.5v5.5h-5.5zM474 320h5.5v5.5h-5.5zM474 325h5.5v5.5h-5.5zM474 330h5.5v5.5h-5.5zM519 330h5.5v5.5h-5.5zM479 345h5.5v5.5h-5.5zM484 350h5.5v5.5h-5.5zM494 350h5.5v5.5h-5.5zM709 465h20.5v5.5h-20.5zM699 470h5.5v5.5h-5.5zM739 470h5.5v5.5h-5.5zM744 475h5.5v5.5h-5.5zM744 485h5.5v5.5h-5.5zM699 490h5.5v5.5h-5.5zM739 495h5.5v5.5h-5.5zM709 500h5.5v5.5h-5.5zM724 500h10.5v5.5h-10.5zM829 505h10.5v5.5h-10.5zM829 510h5.5v5.5h-5.5zM839 510h5.5v5.5h-5.5zM829 515h5.5v5.5h-5.5zM839 515h5.5v5.5h-5.5zM829 520h5.5v5.5h-5.5zM844 520h5.5v5.5h-5.5zM834 525h15.5v5.5h-15.5zM884 540h10.5v5.5h-10.5zM879 545h15.5v5.5h-15.5z"/><path fill="#ff1e00" d="M514 165h5.5v5.5h-5.5zM514 170h10.5v5.5h-10.5zM524 175h5.5v5.5h-5.5zM529 180h5.5v5.5h-5.5zM534 185h5.5v5.5h-5.5zM544 190h5.5v5.5h-5.5zM549 195h5.5v5.5h-5.5zM494 205h5.5v5.5h-5.5zM504 205h10.5v5.5h-10.5zM549 205h5.5v5.5h-5.5zM319 210h5.5v5.5h-5.5zM489 210h5.5v5.5h-5.5zM519 210h10.5v5.5h-10.5zM549 210h5.5v5.5h-5.5zM529 215h20.5v5.5h-20.5zM324 220h5.5v5.5h-5.5zM479 220h5.5v5.5h-5.5zM474 230h5.5v5.5h-5.5zM474 235h5.5v5.5h-5.5zM349 245h5.5v5.5h-5.5zM359 250h5.5v5.5h-5.5zM479 250h5.5v5.5h-5.5zM374 255h5.5v5.5h-5.5zM499 255h10.5v5.5h-10.5zM524 255h5.5v5.5h-5.5zM389 260h5.5v5.5h-5.5zM489 260h10.5v5.5h-10.5zM399 265h5.5v5.5h-5.5zM409 270h5.5v5.5h-5.5zM414 275h5.5v5.5h-5.5zM459 275h15.5v5.5h-15.5zM424 280h10.5v5.5h-10.5zM444 280h10.5v5.5h-10.5zM474 280h5.5v5.5h-5.5zM474 285h5.5v5.5h-5.5zM524 290h5.5v5.5h-5.5zM479 295h5.5v5.5h-5.5zM479 300h5.5v5.5h-5.5zM479 340h5.5v5.5h-5.5zM504 345h5.5v5.5h-5.5zM489 350h5.5v5.5h-5.5zM704 470h5.5v5.5h-5.5zM699 475h5.5v5.5h-5.5zM699 480h5.5v5.5h-5.5zM744 480h5.5v5.5h-5.5zM699 485h5.5v5.5h-5.5zM739 490h5.5v5.5h-5.5zM704 495h5.5v5.5h-5.5zM734 495h5.5v5.5h-5.5zM714 500h10.5v5.5h-10.5zM834 510h5.5v5.5h-5.5zM834 515h5.5v5.5h-5.5zM834 520h10.5v5.5h-10.5z"/><path fill="#ff1700" d="M504 165h10.5v5.5h-10.5zM504 170h10.5v5.5h-10.5zM514 175h10.5v5.5h-10.5zM519 180h10.5v5.5h-10.5zM529 185h5.5v5.5h-5.5zM539 190h5.5v5.5h-5.5zM544 195h5.5v5.5h-5.5zM494 200h15.5v5.5h-15.5zM549 200h5.5v5.5h-5.5zM489 205h5.5v5.5h-5.5zM514 205h10.5v5.5h-10.5zM544 205h5.5v5.5h-5.5zM484 210h5.5v5.5h-5.5zM529 210h20.5v5.5h-20.5zM479 215h5.5v5.5h-5.5zM474 220h5.5v5.5h-5.5zM329 225h5.5v5.5h-5.5zM474 225h5.5v5.5h-5.5zM334 230h5.5v5.5h-5.5zM339 235h5.5v5.5h-5.5zM344 240h5.5v5.5h-5.5zM474 240h5.5v5.5h-5.5zM354 245h5.5v5.5h-5.5zM474 245h5.5v5.5h-5.5zM364 250h10.5v5.5h-10.5zM379 255h5.5v5.5h-5.5zM479 255h5.5v5.5h-5.5zM509 255h15.5v5.5h-15.5zM394 260h5.5v5.5h-5.5zM479 260h10.5v5.5h-10.5zM499 260h5.5v5.5h-5.5zM524 260h5.5v5.5h-5.5zM404 265h5.5v5.5h-5.5zM484 265h5.5v5.5h-5.5zM524 265h5.5v5.5h-5.5zM414 270h5.5v5.5h-5.5zM464 270h15.5v5.5h-15.5zM524 270h5.5v5.5h-5.5zM419 275h10.5v5.5h-10.5zM454 275h5.5v5.5h-5.5zM474 275h10.5v5.5h-10.5zM434 280h10.5v5.5h-10.5zM479 280h5.5v5.5h-5.5zM479 285h5.5v5.5h-5.5zM524 285h5.5v5.5h-5.5zM479 290h5.5v5.5h-5.5zM479 305h5.5v5.5h-5.5zM479 310h5.5v5.5h-5.5zM479 315h5.5v5.5h-5.5zM479 320h5.5v5.5h-5.5zM519 320h5.5v5.5h-5.5zM479 325h5.5v5.5h-5.5zM519 325h5.5v5.5h-5.5zM479 330h5.5v5.5h-5.5zM479 335h5.5v5.5h-5.5zM514 335h5.5v5.5h-5.5zM509 340h5.5v5.5h-5.5zM484 345h5.5v5.5h-5.5zM499 345h5.5v5.5h-5.5zM709 470h5.5v5.5h-5.5zM729 470h10.5v5.5h-10.5zM739 475h5.5v5.5h-5.5zM704 485h5.5v5.5h-5.5zM739 485h5.5v5.5h-5.5zM704 490h5.5v5.5h-5.5zM709 495h5.5v5.5h-5.5zM729 495h5.5v5.5h-5.5z"/><path fill="#ff1100" d="M504 160h5.5v5.5h-5.5zM499 165h5.5v5.5h-5.5zM494 170h10.5v5.5h-10.5zM499 175h15.5v5.5h-15.5zM504 180h15.5v5.5h-15.5zM514 185h15.5v5.5h-15.5zM529 190h10.5v5.5h-10.5zM494 195h15.5v5.5h-15.5zM539 195h5.5v5.5h-5.5zM489 200h5.5v5.5h-5.5zM509 200h15.5v5.5h-15.5zM544 200h5.5v5.5h-5.5zM484 205h5.5v5.5h-5.5zM524 205h20.5v5.5h-20.5zM479 210h5.5v5.5h-5.5zM469 230h5.5v5.5h-5.5zM469 235h5.5v5.5h-5.5zM349 240h5.5v5.5h-5.5zM359 245h5.5v5.5h-5.5zM374 250h5.5v5.5h-5.5zM474 250h5.5v5.5h-5.5zM384 255h10.5v5.5h-10.5zM474 255h5.5v5.5h-5.5zM399 260h10.5v5.5h-10.5zM474 260h5.5v5.5h-5.5zM504 260h5.5v5.5h-5.5zM519 260h5.5v5.5h-5.5zM409 265h10.5v5.5h-10.5zM469 265h15.5v5.5h-15.5zM489 265h10.5v5.5h-10.5zM419 270h5.5v5.5h-5.5zM459 270h5.5v5.5h-5.5zM479 270h10.5v5.5h-10.5zM429 275h10.5v5.5h-10.5zM444 275h10.5v5.5h-10.5zM484 275h5.5v5.5h-5.5zM524 275h5.5v5.5h-5.5zM484 280h5.5v5.5h-5.5zM524 280h5.5v5.5h-5.5zM484 285h5.5v5.5h-5.5zM484 290h5.5v5.5h-5.5zM484 295h5.5v5.5h-5.5zM484 300h5.5v5.5h-5.5zM484 305h5.5v5.5h-5.5zM519 305h5.5v5.5h-5.5zM519 310h5.5v5.5h-5.5zM519 315h5.5v5.5h-5.5zM484 340h5.5v5.5h-5.5zM489 345h10.5v5.5h-10.5zM714 470h15.5v5.5h-15.5zM704 475h5.5v5.5h-5.5zM704 480h5.5v5.5h-5.5zM739 480h5.5v5.5h-5.5zM709 490h5.5v5.5h-5.5zM734 490h5.5v5.5h-5.5zM714 495h15.5v5.5h-15.5z"/><path fill="#ff0b00" d="M489 175h10.5v5.5h-10.5zM494 180h10.5v5.5h-10.5zM494 185h20.5v5.5h-20.5zM494 190h35.5v5.5h-35.5zM489 195h5.5v5.5h-5.5zM509 195h30.5v5.5h-30.5zM484 200h5.5v5.5h-5.5zM524 200h20.5v5.5h-20.5zM319 205h5.5v5.5h-5.5zM479 205h5.5v5.5h-5.5zM474 210h5.5v5.5h-5.5zM474 215h5.5v5.5h-5.5zM469 220h5.5v5.5h-5.5zM469 225h5.5v5.5h-5.5zM344 235h5.5v5.5h-5.5zM354 240h5.5v5.5h-5.5zM469 240h5.5v5.5h-5.5zM364 245h10.5v5.5h-10.5zM469 245h5.5v5.5h-5.5zM379 250h10.5v5.5h-10.5zM469 250h5.5v5.5h-5.5zM394 255h5.5v5.5h-5.5zM469 255h5.5v5.5h-5.5zM409 260h5.5v5.5h-5.5zM469 260h5.5v5.5h-5.5zM509 260h10.5v5.5h-10.5zM419 265h5.5v5.5h-5.5zM464 265h5.5v5.5h-5.5zM499 265h5.5v5.5h-5.5zM519 265h5.5v5.5h-5.5zM424 270h5.5v5.5h-5.5zM489 270h5.5v5.5h-5.5zM439 275h5.5v5.5h-5.5zM519 300h5.5v5.5h-5.5zM484 310h5.5v5.5h-5.5zM484 315h5.5v5.5h-5.5zM484 330h5.5v5.5h-5.5zM514 330h5.5v5.5h-5.5zM484 335h5.5v5.5h-5.5zM509 335h5.5v5.5h-5.5zM489 340h5.5v5.5h-5.5zM504 340h5.5v5.5h-5.5zM709 475h5.5v5.5h-5.5zM734 475h5.5v5.5h-5.5zM709 480h5.5v5.5h-5.5zM734 480h5.5v5.5h-5.5zM709 485h5.5v5.5h-5.5zM734 485h5.5v5.5h-5.5zM729 490h5.5v5.5h-5.5z"/><path fill="#ff0500" d="M484 180h10.5v5.5h-10.5zM484 185h10.5v5.5h-10.5zM484 190h10.5v5.5h-10.5zM484 195h5.5v5.5h-5.5zM479 200h5.5v5.5h-5.5zM474 205h5.5v5.5h-5.5zM464 210h10.5v5.5h-10.5zM324 215h5.5v5.5h-5.5zM464 215h10.5v5.5h-10.5zM329 220h5.5v5.5h-5.5zM464 220h5.5v5.5h-5.5zM334 225h5.5v5.5h-5.5zM464 225h5.5v5.5h-5.5zM339 230h5.5v5.5h-5.5zM464 230h5.5v5.5h-5.5zM464 235h5.5v5.5h-5.5zM359 240h15.5v5.5h-15.5zM374 245h10.5v5.5h-10.5zM389 250h5.5v5.5h-5.5zM399 255h15.5v5.5h-15.5zM414 260h5.5v5.5h-5.5zM464 260h5.5v5.5h-5.5zM424 265h5.5v5.5h-5.5zM504 265h5.5v5.5h-5.5zM429 270h10.5v5.5h-10.5zM454 270h5.5v5.5h-5.5zM494 270h5.5v5.5h-5.5zM519 270h5.5v5.5h-5.5zM489 275h5.5v5.5h-5.5zM489 280h5.5v5.5h-5.5zM489 285h5.5v5.5h-5.5zM489 290h5.5v5.5h-5.5zM519 290h5.5v5.5h-5.5zM489 295h5.5v5.5h-5.5zM519 295h5.5v5.5h-5.5zM489 300h5.5v5.5h-5.5zM484 320h5.5v5.5h-5.5zM484 325h5.5v5.5h-5.5zM514 325h5.5v5.5h-5.5zM489 335h5.5v5.5h-5.5zM494 340h10.5v5.5h-10.5zM714 475h5.5v5.5h-5.5zM729 475h5.5v5.5h-5.5zM714 490h15.5v5.5h-15.5z"/><path fill="#fe0000" d="M449 210h15.5v5.5h-15.5zM444 215h20.5v5.5h-20.5zM459 220h5.5v5.5h-5.5zM459 225h5.5v5.5h-5.5zM349 235h25.5v5.5h-25.5zM374 240h10.5v5.5h-10.5zM464 240h5.5v5.5h-5.5zM384 245h10.5v5.5h-10.5zM464 245h5.5v5.5h-5.5zM394 250h20.5v5.5h-20.5zM464 250h5.5v5.5h-5.5zM414 255h5.5v5.5h-5.5zM464 255h5.5v5.5h-5.5zM419 260h5.5v5.5h-5.5zM429 265h5.5v5.5h-5.5zM459 265h5.5v5.5h-5.5zM509 265h10.5v5.5h-10.5zM439 270h15.5v5.5h-15.5zM499 270h5.5v5.5h-5.5zM519 275h5.5v5.5h-5.5zM519 285h5.5v5.5h-5.5zM489 305h5.5v5.5h-5.5zM489 310h5.5v5.5h-5.5zM489 315h5.5v5.5h-5.5zM514 320h5.5v5.5h-5.5zM489 325h5.5v5.5h-5.5zM489 330h5.5v5.5h-5.5zM509 330h5.5v5.5h-5.5zM494 335h5.5v5.5h-5.5zM504 335h5.5v5.5h-5.5zM719 475h10.5v5.5h-10.5zM714 480h5.5v5.5h-5.5zM729 480h5.5v5.5h-5.5zM714 485h5.5v5.5h-5.5zM729 485h5.5v5.5h-5.5z"/><path fill="#f80000" d="M319 200h5.5v5.5h-5.5zM434 210h15.5v5.5h-15.5zM429 215h15.5v5.5h-15.5zM424 220h35.5v5.5h-35.5zM339 225h5.5v5.5h-5.5zM449 225h10.5v5.5h-10.5zM344 230h5.5v5.5h-5.5zM359 230h15.5v5.5h-15.5zM459 230h5.5v5.5h-5.5zM374 235h10.5v5.5h-10.5zM459 235h5.5v5.5h-5.5zM384 240h30.5v5.5h-30.5zM459 240h5.5v5.5h-5.5zM394 245h25.5v5.5h-25.5zM414 250h5.5v5.5h-5.5zM419 255h5.5v5.5h-5.5zM424 260h5.5v5.5h-5.5zM434 265h5.5v5.5h-5.5zM514 270h5.5v5.5h-5.5zM494 275h5.5v5.5h-5.5zM519 280h5.5v5.5h-5.5zM494 295h5.5v5.5h-5.5zM494 300h5.5v5.5h-5.5zM514 305h5.5v5.5h-5.5zM514 310h5.5v5.5h-5.5zM514 315h5.5v5.5h-5.5zM489 320h5.5v5.5h-5.5zM494 330h5.5v5.5h-5.5zM499 335h5.5v5.5h-5.5zM719 480h10.5v5.5h-10.5zM719 485h10.5v5.5h-10.5z"/><path fill="#f20000" d="M429 210h5.5v5.5h-5.5zM419 215h10.5v5.5h-10.5zM414 220h10.5v5.5h-10.5zM404 225h45.5v5.5h-45.5zM349 230h10.5v5.5h-10.5zM374 230h10.5v5.5h-10.5zM399 230h30.5v5.5h-30.5zM449 230h10.5v5.5h-10.5zM384 235h40.5v5.5h-40.5zM454 235h5.5v5.5h-5.5zM414 240h5.5v5.5h-5.5zM419 245h5.5v5.5h-5.5zM459 245h5.5v5.5h-5.5zM419 250h5.5v5.5h-5.5zM459 250h5.5v5.5h-5.5zM424 255h5.5v5.5h-5.5zM429 260h5.5v5.5h-5.5zM459 260h5.5v5.5h-5.5zM454 265h5.5v5.5h-5.5zM504 270h10.5v5.5h-10.5zM494 280h5.5v5.5h-5.5zM494 285h5.5v5.5h-5.5zM494 290h5.5v5.5h-5.5zM514 295h5.5v5.5h-5.5zM514 300h5.5v5.5h-5.5zM494 305h5.5v5.5h-5.5zM494 310h5.5v5.5h-5.5zM494 315h5.5v5.5h-5.5zM494 320h5.5v5.5h-5.5zM509 320h5.5v5.5h-5.5zM494 325h5.5v5.5h-5.5zM509 325h5.5v5.5h-5.5zM499 330h10.5v5.5h-10.5z"/><path fill="#ec0000" d="M429 205h5.5v5.5h-5.5zM324 210h5.5v5.5h-5.5zM424 210h5.5v5.5h-5.5zM414 215h5.5v5.5h-5.5zM334 220h5.5v5.5h-5.5zM404 220h10.5v5.5h-10.5zM344 225h5.5v5.5h-5.5zM359 225h20.5v5.5h-20.5zM394 225h10.5v5.5h-10.5zM384 230h15.5v5.5h-15.5zM429 230h20.5v5.5h-20.5zM424 235h5.5v5.5h-5.5zM449 235h5.5v5.5h-5.5zM419 240h10.5v5.5h-10.5zM454 240h5.5v5.5h-5.5zM424 245h5.5v5.5h-5.5zM424 250h5.5v5.5h-5.5zM429 255h5.5v5.5h-5.5zM459 255h5.5v5.5h-5.5zM434 260h5.5v5.5h-5.5zM439 265h15.5v5.5h-15.5zM499 275h5.5v5.5h-5.5zM514 275h5.5v5.5h-5.5zM514 290h5.5v5.5h-5.5zM499 295h5.5v5.5h-5.5zM499 300h5.5v5.5h-5.5zM499 305h5.5v5.5h-5.5zM509 310h5.5v5.5h-5.5zM499 315h5.5v5.5h-5.5zM509 315h5.5v5.5h-5.5zM499 320h10.5v5.5h-10.5zM499 325h10.5v5.5h-10.5z"/><path fill="#e50000" d="M424 205h5.5v5.5h-5.5zM414 210h10.5v5.5h-10.5zM329 215h5.5v5.5h-5.5zM409 215h5.5v5.5h-5.5zM399 220h5.5v5.5h-5.5zM349 225h10.5v5.5h-10.5zM379 225h15.5v5.5h-15.5zM429 235h20.5v5.5h-20.5zM429 240h5.5v5.5h-5.5zM449 240h5.5v5.5h-5.5zM454 245h5.5v5.5h-5.5zM429 250h5.5v5.5h-5.5zM454 260h5.5v5.5h-5.5zM504 275h10.5v5.5h-10.5zM499 280h5.5v5.5h-5.5zM514 280h5.5v5.5h-5.5zM499 285h5.5v5.5h-5.5zM514 285h5.5v5.5h-5.5zM499 290h5.5v5.5h-5.5zM509 295h5.5v5.5h-5.5zM504 300h10.5v5.5h-10.5zM504 305h10.5v5.5h-10.5zM499 310h10.5v5.5h-10.5zM504 315h5.5v5.5h-5.5z"/><path fill="#df0000" d="M424 200h5.5v5.5h-5.5zM419 205h5.5v5.5h-5.5zM409 210h5.5v5.5h-5.5zM399 215h10.5v5.5h-10.5zM339 220h5.5v5.5h-5.5zM389 220h10.5v5.5h-10.5zM434 240h15.5v5.5h-15.5zM429 245h10.5v5.5h-10.5zM449 245h5.5v5.5h-5.5zM434 250h5.5v5.5h-5.5zM454 250h5.5v5.5h-5.5zM434 255h5.5v5.5h-5.5zM454 255h5.5v5.5h-5.5zM439 260h5.5v5.5h-5.5zM504 290h10.5v5.5h-10.5zM504 295h5.5v5.5h-5.5z"/><path fill="#d90000" d="M419 195h5.5v5.5h-5.5zM419 200h5.5v5.5h-5.5zM324 205h5.5v5.5h-5.5zM414 205h5.5v5.5h-5.5zM404 210h5.5v5.5h-5.5zM394 215h5.5v5.5h-5.5zM344 220h5.5v5.5h-5.5zM359 220h30.5v5.5h-30.5zM439 245h10.5v5.5h-10.5zM439 250h5.5v5.5h-5.5zM449 250h5.5v5.5h-5.5zM439 255h5.5v5.5h-5.5zM444 260h10.5v5.5h-10.5zM504 280h10.5v5.5h-10.5zM504 285h10.5v5.5h-10.5z"/><path fill="#d30000" d="M374 195h10.5v5.5h-10.5zM409 200h10.5v5.5h-10.5zM404 205h10.5v5.5h-10.5zM399 210h5.5v5.5h-5.5zM334 215h5.5v5.5h-5.5zM384 215h10.5v5.5h-10.5zM349 220h10.5v5.5h-10.5zM444 250h5.5v5.5h-5.5zM444 255h10.5v5.5h-10.5z"/><path fill="#cd0000" d="M374 190h5.5v5.5h-5.5zM399 200h10.5v5.5h-10.5zM399 205h5.5v5.5h-5.5zM389 210h10.5v5.5h-10.5zM374 215h10.5v5.5h-10.5z"/><path fill="#c70000" d="M369 195h5.5v5.5h-5.5zM324 200h5.5v5.5h-5.5zM374 200h25.5v5.5h-25.5zM389 205h10.5v5.5h-10.5zM329 210h5.5v5.5h-5.5zM384 210h5.5v5.5h-5.5zM339 215h5.5v5.5h-5.5zM359 215h15.5v5.5h-15.5z"/><path fill="#c10000" d="M369 200h5.5v5.5h-5.5zM374 205h15.5v5.5h-15.5zM369 210h15.5v5.5h-15.5zM344 215h15.5v5.5h-15.5z"/><path fill="#bb0000" d="M369 190h5.5v5.5h-5.5zM369 205h5.5v5.5h-5.5zM364 210h5.5v5.5h-5.5z"/><path fill="#b50000" d="M364 195h5.5v5.5h-5.5zM364 200h5.5v5.5h-5.5zM329 205h5.5v5.5h-5.5zM364 205h5.5v5.5h-5.5zM334 210h5.5v5.5h-5.5zM359 210h5.5v5.5h-5.5z"/><path fill="#ae0000" d="M359 205h5.5v5.5h-5.5zM339 210h20.5v5.5h-20.5z"/><path fill="#a80000" d="M364 190h5.5v5.5h-5.5zM329 200h5.5v5.5h-5.5zM359 200h5.5v5.5h-5.5z"/><path fill="#a20000" d="M359 195h5.5v5.5h-5.5zM334 205h5.5v5.5h-5.5zM354 205h5.5v5.5h-5.5z"/><path fill="#9c0000" d="M359 190h5.5v5.5h-5.5zM334 200h5.5v5.5h-5.5zM354 200h5.5v5.5h-5.5zM339 205h15.5v5.5h-15.5z"/><path fill="#960000" d="M349 190h10.5v5.5h-10.5zM334 195h25.5v5.5h-25.5zM339 200h15.5v5.5h-15.5z"/></g></g>
<g stroke="#000" stroke-opacity=".25" stroke-width="0.9" stroke-dasharray="2.2 6.16" fill="none"><line x1="306.5" y1="75" x2="306.5" y2="768.2"/><line x1="473.5" y1="75" x2="473.5" y2="768.2"/><line x1="640.5" y1="75" x2="640.5" y2="768.2"/><line x1="807.5" y1="75" x2="807.5" y2="768.2"/><line x1="139" y1="112" x2="973.7" y2="112"/><line x1="139" y1="266.2" x2="973.7" y2="266.2"/><line x1="139" y1="414.5" x2="973.7" y2="414.5"/><line x1="139" y1="558.6" x2="973.7" y2="558.6"/><line x1="139" y1="699.4" x2="973.7" y2="699.4"/></g>
<path fill="#000" fill-rule="evenodd" d="M139 75H973.7V768.2H139ZM148 84H964.7V759.2H148Z"/><g fill="#fff" stroke="#000" stroke-width="0.9" stroke-linejoin="miter"><polygon points="139,75 222.47,75 222.47,84 148,84"/><polygon points="222.47,768.2 305.94,768.2 305.94,759.2 222.47,759.2"/><polygon points="305.94,75 389.41,75 389.41,84 305.94,84"/><polygon points="389.41,768.2 472.88,768.2 472.88,759.2 389.41,759.2"/><polygon points="472.88,75 556.35,75 556.35,84 472.88,84"/><polygon points="556.35,768.2 639.82,768.2 639.82,759.2 556.35,759.2"/><polygon points="639.82,75 723.29,75 723.29,84 639.82,84"/><polygon points="723.29,768.2 806.76,768.2 806.76,759.2 723.29,759.2"/><polygon points="806.76,75 890.23,75 890.23,84 806.76,84"/><polygon points="890.23,768.2 973.7,768.2 964.7,759.2 890.23,759.2"/><polygon points="139,75 139,93.2 148,93.2 148,84"/><polygon points="973.7,93.2 973.7,112.2 964.7,112.2 964.7,93.2"/><polygon points="139,112.2 139,189.6 148,189.6 148,112.2"/><polygon points="973.7,189.6 973.7,266 964.7,266 964.7,189.6"/><polygon points="139,266 139,340.4 148,340.4 148,266"/><polygon points="973.7,340.4 973.7,414.5 964.7,414.5 964.7,340.4"/><polygon points="139,414.5 139,486.2 148,486.2 148,414.5"/><polygon points="973.7,486.2 973.7,558.8 964.7,558.8 964.7,486.2"/><polygon points="139,558.8 139,628.8 148,628.8 148,558.8"/><polygon points="973.7,628.8 973.7,699.6 964.7,699.6 964.7,628.8"/><polygon points="139,699.6 139,733.2 148,733.2 148,699.6"/><polygon points="973.7,733.2 973.7,768.2 964.7,759.2 964.7,733.2"/></g><rect x="148" y="84" width="816.7" height="675.2" fill="none" stroke="#555" stroke-width="0.9"/>
<rect x="139" y="75" width="834.7" height="693.2" fill="none" stroke="#000" stroke-width="1"/>
<clipPath id="box"><rect x="139" y="75" width="834.7" height="693.2"/></clipPath>
<g clip-path="url(#box)"><g fill="none" stroke="#6a4500" stroke-linejoin="round" stroke-linecap="round"><path stroke-width="1.1" d="M139 665.7L143.3 670L148.6 673.8L155.1 675.3L161.5 676.4L169 678.1L175.4 679.6L180.8 679.6L184 683.9L188.3 688.2L194.7 690.3L201.1 691.8L207.6 695.7L212.9 700L220.4 701.1L226.8 701.7L233.3 702.6L237.5 705.3L242.9 708.1L249.3 710.3L255.8 711.1L263.3 710.3L269.7 708.1L276.1 704.3L282.5 702.1L289 700L294.3 697.8L298.6 694L304 691.8L310.4 691.4L318.9 691.4L325.4 692.3L331.8 694.6L338.2 697.8L344.7 700L351.1 704.3L357.5 709.6L363.9 715.4L370.4 721.4L376.8 728.3L383.2 735.3L389 740.3M344.6 698.3L350 703.2L356.4 708.6L362.9 715.4L369.3 722.5L375.7 730L382.1 737.5L388.6 744.5L395 751L401.4 756.8L407.8 761.7L414.3 765.3L420.7 767.5L425 768.1"/><path stroke-width="1.2" d="M230.2 330L228 317.1L226.3 305.1L226.6 294.8L230.2 284.5L235.7 275.1L242.6 267.4L251.1 259.2L261.4 251.6L271.7 245.1L283.7 238.3L294.8 231.9L300.8 227.1L306.8 220.3L314.5 214.3L323.1 209.5L333.4 204.3L343.7 200.9L354 198.9L364.2 198.2L372.8 199.5L381.4 202.6L389.9 205.7L396.8 207.1L402.8 206L410 203.1M226.3 330L224.6 317.1L223.4 306.8L224.1 296.5L227.1 287.1L232.3 277.7L238.3 270L245.1 262.3L252.8 255.4M310.3 212.6L307.7 207.4L304.3 206.6L306.8 204L306 200.6L309.4 202.3L312 198.5L316.3 197.5L317.6 201.4L315.4 205.7L319.7 207.4L323.1 206.6L319.7 209.1L314.5 211.7L312.8 213.4ZM266.6 245.1L264.8 241.7L267.4 237.4L264 240L261.4 237.4L259.7 240.8L257.1 236.6L256.3 240.8L252 239.1L254.2 243.4L252 246L256.3 246L259.7 248.6M251.1 255.4L248.6 252.8L248 248.6L246 247.7L245.1 251.1L246.8 256.3M241.7 265.7L239.1 262.3L241.7 258.8L237.4 259.7L235.7 262.3L232.3 259.2L234 264L231.4 264.8L235.7 267.4L237.4 270.8M232.3 277.7L228.9 273.4L231.4 271.7L226.3 270.8L222.9 271.7L225.4 273.4L227.1 276M225.8 293.1L222.9 291.4L223.7 288L220.3 289.7L216.9 288L217.7 291.4L213.8 292.3L216.9 294L220.3 295.2L224.6 295.7M224.6 312L222 310.2L221.1 306.8L222.9 304.3L225.1 306M343.7 200.6L342 196.3L343.7 191.1L346.8 189.4L348 192.9L346.2 197.1L345.4 200.6ZM360.8 198L358.2 196.3L360.5 193.7L361.7 187.2L363.9 190.3L365.1 194.6L362.9 196.3L362.2 198ZM378.8 192L381.4 190.6L384 192.3L383.1 195.4L380.5 194.6L379.7 193.4ZM387.4 197.1L389.9 198.5L392.5 196.8L393.4 199.2L390.8 201.4L387.4 200.2L386.5 198ZM400.2 200.6L403.7 197.1L410 196.3M401.1 201.4L404.5 204L410 207.4M337.8 112L341.5 116.2L344.5 122.5L346.5 128.8L350.2 127.5L351.5 132.5L353.5 137.5L354 143.8L350.2 143.8L347 140.5L347.8 135L345.2 131.2L342.8 125L340.2 118.8ZM400 201.1L403.8 198L408.2 195.9L412.3 197.1L415.8 200L420.2 201.4L423.7 205.2L427.4 206.9L430.5 205.2L431.9 209.1L433.6 213.8L436.3 217.9L440.8 220.6L444.9 224L447.3 226.4L450 223.4L451.8 218.6L455.2 216.2L459.3 215.1L462.7 217.5L465.1 222L462.7 225.4L466.5 224.7L470.6 222.7L474 219.2L477.5 217.9L481.6 217.9L485.7 218.9L489.5 219.6L493.6 221.3L497 224L494.3 227.5L492.9 230.5L496 228.5L499.4 225.4L502.8 226.8L504.9 224L507.3 220.6L506.6 217.5L503.9 215.1L500.1 213.8L496 212.7L491.2 211L487.1 209.3L484.3 205.2L485 200.7L488.4 198.3L492.5 196.3L496 192.8L499.1 188.7L500.4 184.6L502.8 181.9L506.3 179.1L509.7 175.4L513.1 173.1L518.3 175.4L521.7 177.1L526.8 176L532 174.9L536.2 175.7L536.8 170.6L538.5 166.3L539.7 159.9L541.4 162.9L542.6 168.9L544.8 175.7L547.4 178.3L552.5 178.8L555.1 175.7L559.4 174.9L561.1 172.3L564.5 173.1L567.1 170.6L568.8 167.1L570.5 170.2L573.1 166.8L574.8 171.4L578.2 172.3L583.4 171.9L588.5 171.9L593.7 170.9L600 170.2M459.1 181.7L461.7 177.4L466 175.4L471.1 175.7L476.3 179.1L480.5 181.7L479.7 185.1L475.4 186.8L470.3 188.6L465.1 187.7L460.8 186ZM454 180L455.7 177.1L459.1 177.4L459.6 180.8L456.6 183.4L454.5 182.2ZM462.6 199.7L464.3 195.9L467.2 195.4L467.7 198.8L465.1 201.8L463.1 201.4ZM403.4 204.8L407.7 203.5L412.9 204.5L416.3 207.4L413.7 209.6L408.6 208.3L404.3 206.2ZM400 204.8L403.4 204.8M493.4 175.7L496 177.1L502.8 175.7L509.7 175.4M590 174.9L593.4 175.9L598.6 177.1L603.7 178.8L608.9 181.4L614 184L618.3 186.6L622.6 190L626 194.3L628.6 198.6L631.1 201.1L635.4 202L639.7 200.6L643.1 198.6L648.3 196.8L653.4 193.4L657.7 190.8L661.1 188.3L663.7 185.7L667.1 184.8L670.5 185.2L674 185.7L677.4 188.3L680.8 190L684.3 192.6L686.8 196L689.4 199.4L692.5 202L693.7 206.3L696.3 208.8L699.7 212.3L702.3 215.7L704 219.1L706.5 220.8L710 221.7L713.4 221.7L715.1 225.1L716.8 230.3L718.5 234.5L718.5 241.4L717.7 248.3L716.8 253.4L715.1 258.5L712.5 263.7L711.7 268.8L713.4 274L716 280M590 171.1L594.3 170.3L599.4 170.8L602.9 172.8L602 174.9L598.6 174.2M626.8 194.3L628.6 196L629.8 199.4L628 201.1L626.3 198.6ZM631.1 201.1L636.3 204.6L640.6 203.7L644.8 200.3L649.1 197.7L653.4 194.3M641.4 197.7L643.1 196L644.8 197.7L644 200.3M716 267.1L718.5 265.4L722 266.2L725.4 268.8L727.1 272.2L725.4 275.7L722 277.4L720.2 280M717.7 268.8L720.2 271.4L722.8 272.2L721.1 274.8L718.5 274M704 219.1L705.2 223.4L708.3 222.5M766.5 130L763.1 135.1L759.7 140.3L757.1 147.1L758.8 154L758 160.8L759.7 169.4L761.4 178L764 188.3L767.4 198.6L771.7 208.8L775.9 219.1L780.2 228.5L784.5 237.1L788.8 244.8L790 248.3M757.1 173.7L754.5 172.8L752 176.3L751.1 181.4L752 186.6L750.2 190L752.8 193.4L752 197.7L754.5 196L755.9 200.3L753.7 203.7L752.8 198.6M752 208.8L751.1 214L752.8 219.1L755.4 220L756.2 216.5L754.5 212.3L752.8 209.2ZM745.1 236.3L746.8 235.4L748.5 238L746.8 238.8ZM751.1 241.4L753.7 240.5L754.9 242.8L752.8 244.5L751.1 243.1ZM759.7 263.7L762.2 262.8L763.1 265.4L760.5 266.2ZM763.1 267.1L765.7 266.8L767.4 269.7L766.5 274L764.8 271.4L763.4 269.2ZM822 75.4L813.4 81.4L806.5 85.7L799.7 90L792.8 93.4L787.7 98.6L782.5 103.7L777.4 109.7L772.3 115.7L768 122.6L765.4 130.3L762 138L758.6 145.7L757.7 152.5L758.6 159.4L759.4 166.3L760.3 173.1L762.8 183.4L765.4 193.7L768.8 204L770.5 210M810 80.6L808.3 84L803.1 87.4L799.7 89.5L794.5 90.8L790.3 91.7L787.7 94.3L791.1 96.8L788.5 100.3L784.3 101.1L781.7 96.8L780 92.6M786 101.1L780.8 104.9L778.3 108.8L774 111.4L770.5 115.7L767.1 117.4L768.8 121.7L765.4 124.3L766.3 128.6L762.8 130.3L763.7 135.4L760.3 138L761.1 142.3L757.7 144L758.6 148.3L756 149.1L757.7 153.4M690 200.5L693.4 203.1L695.1 207.4L696.9 210M710.6 260L712.3 266.9L711.4 272L714.9 278.9L716.6 284L720 289.1L722.6 294.3L725.1 300.3L728.6 306.3L732 311.4L732.8 317.4L735.4 322.6L738 324.3L741.4 323.4L744.8 324.3L745.7 330.3L747.4 337.1L750 342.3L755.1 344L760.3 346.5L765.4 349.1L768 353.4L768.8 358.5L768 364.5L768.8 369.7L772.3 372.3L777.4 373.1L782.5 373.1L787.7 371.4L792.8 368L798 362.8L801.4 356.8L803.1 350.8L804 344L804.8 337.1L805.7 328.6L806.2 320L806.5 311.4L804.8 304.6L802.3 297.7L798.8 290.8L795.4 283.1L792 274.6L788.5 266L786 260M802.3 344L799.7 349.1L797.1 355.1L796.3 361.1L798 364.5L800.5 361.1M712.3 266.9L715.7 265.1L720 264.8L724.3 266.9L726.8 270.3L726 274.6L723.4 278L720.8 282.3L718.3 284.9L716.6 282.3L719.1 278.9L720.8 274.6L722.6 271.1L720 268.6L717.4 269.4L715.7 272L714 270.3M731.1 302.8L734.6 304.6L738.8 304.2L740.6 306.3L738 308.8L736.3 312.3L737.1 316.6L739.7 319.1L743.1 316.6L746.6 314.8L744.8 318.3L741.4 321.7L738.8 324.3M749.1 340.5L755.1 343.6L760.3 346L765.4 349.1M765.4 350L767.5 353.9L770.5 356L772.3 357.7M770.5 305.4L774 300.3L779.1 296.5L783.4 296.8L786.3 301.1L786.8 306.3L785.1 311.4L782.5 315.2L779.1 314.5L775.7 311.4L773.1 308.8L771.4 307.1ZM762.8 288.3L764.6 287.1L766.3 289.1L765.1 292.2L763.4 291.2ZM762.8 267.7L765.4 266.9L767.1 270.3L766.8 273.7L764.6 271.1ZM913.4 383.7L912.5 389.7L914.3 394.8L916.8 398.3L920.3 401.7L922.8 406.8L926.3 412L929.7 417.1L933.1 421.4L938.3 424.8L943.4 428.2L946.8 430M772.2 442.3L780.8 443.7L789.4 447.8L798 451.2L806.5 455.5L815.1 460.6L823.7 465.8L830 469.2M790 444.9L796.9 448.3L803.7 451.7L810.6 455.1L817.4 459.4L824.3 463.7L831.1 466.3L838 465.9L844.8 467.1L851.7 468L858.6 469.7L865.4 471.4L872.3 474.8L879.1 479.1L884.3 484.3L888.5 489.4L892.8 493.7L898 498L903.1 502.3M825.1 518.5L831.1 521.1L836.3 524.5L841.4 528.8L848.3 532.3L855.1 534.8L862 537.4L865.4 538.3M287.5 683.9L290.2 678.6L292.8 683.9ZM304 689.7L308.2 691M350 658.2L354.3 657.6L358.6 659.7L361.1 662.5L357.5 661.4L353.2 660.4L350 658.9Z"/><path stroke-width="1.3" d="M642.3 490.6L647.1 488.6L652.3 486.8L657.4 485.1L661.7 486L660 480.8L658.3 476.6L659.1 471.4L663.4 468.8L667.7 465.4L672.8 462L678.8 458.6L684.8 456L691.7 453.4L698.6 451.7L705.4 450.8L712.3 450L719.1 448.3L726 445.7L732.8 444.3L741.4 444.3L750 444.9L756 445.7L755.1 449.1L760.2 447.4L767.1 445.7L772.2 443.1L777.4 442.3L784.2 443.1L791.1 446.6L798 449.1L804.8 452.6L811.7 456L818.5 460.3L825.4 465.4L830 469.7M642.3 490.6L643.7 493.4L648.9 493.7L654 491.1L657.4 492L656.6 495.4L660 494.6L664.3 491.1L669.4 490.3L672.8 488.6L674.6 484.3L675.4 480.8L681.4 480L688.3 479.1L694.3 480L698.6 477.4L702 474.8L705.4 470.6L709.7 467.1L714 463.7L715.7 461.5L719.1 462L726 462.8L732.8 462.5L739.7 462L746.5 462.8L750.8 465.4L752 468.8L750 471.1L744.8 471.4L739.7 470.6L735.4 472.3L737.1 475.7L741.4 478.3L748.3 480L755.1 480.8L762 482.6L765.4 484.3L767.1 480L766.8 476.9L769.2 479.1L769.7 482.6L772.2 484.8L779.1 485.1L786 484.8L792 485.1L797.1 488.6L803.1 492.8L809.9 495.4L816.8 498L823.7 500.5L830 501.9M717.4 462.8L718.3 467.1L722.5 466.3L723.4 470.6L726 471.4L729.4 469.7M706.3 490.3L710.5 488.6L715.7 489.4L719.1 492.8L720.8 498L721.7 502.3L717.4 505.3L712.3 506.5L707.1 506.5L702.8 504L701.1 500.5L703.7 499.7L706.3 497.1L704.6 493.7ZM903.1 502.3L908.3 506.5L913.4 510L920.2 513.4L927.1 514.6L932.2 516.8L937.4 519.4L942.5 519.1L947.7 518L952 519.4L954.5 522.8L953.7 527.1L950.2 528.8L947.7 531.4L950.2 534L954.5 533.1L959.7 532.3L964.8 533.1L971.7 534M824.3 467.1L831.1 471.4L841.4 473.1L850 475.7L858.6 478.3L865.4 482.6L872.3 487.7L877.4 492L883.4 494.6L888.5 497.1L894.5 501.4L899.7 504.8M790 484.3L795.1 487.7L800.3 492L807.1 496.3L814 498.5L820.8 500.5L827.7 502.6L834.6 503.6L841.4 501.9L846.6 500.5L850 500.2L852.6 504L855.1 509.1L857.2 515.1L858.6 521.1L862 525.4L867.1 529.7L872.3 532.3L879.1 533.1L886 533.5L892.8 533.1L898 534L901.4 537.4L904.5 541.7L903.1 546L899.7 548.5L894.5 551.1L889.4 553.7L886 555.4L883.9 559.7L882.5 563.1L886 564L892.8 562.2L901.4 561.4L910 560.9L918.5 560.2L927.1 559.2L935.7 558.5L944.2 559.2L949.4 560.5L954.5 561.9L961.4 562.2L968.2 560.9L971.7 559.7M400 604.3L405.1 603.7L409.4 606L413.7 605.1L418.9 602.5L424 600L428.3 596.5L433.4 593.1L438.6 589.7L443.7 585.4L448 581.1L450.6 576L451.1 570L453.1 565.7L456.6 563.1L456.9 557.1L456.6 550.3L457.4 543.4L458.3 536.6L460 529.7L461.7 524.6L465.1 521.1L470.3 517.7L477.1 515.1L484 513.4L490.8 511.7L497.7 510.5L504.5 509.1L511.4 507.8L518.3 505.7L523.4 503.7L530.2 502.3L535.4 500.2L542.2 501.4L549.1 503.1L556 505.4L561.1 506.6L566.2 507.4L568.8 504L571.4 501.4L574.8 502.3L577.4 505.7L579.9 510L582.5 515.1L580.8 520.3L579.1 525.4L576.5 530.6L573.1 534.8L569.7 538.3L566.2 542.6L562.8 546.8L560.2 551.1L558.5 556.3L558.5 561.4L559.4 565.7L556.8 567.4L553.4 568.3L550 570L549.1 573.4L551.7 575.1L555.1 573.4L558.5 572.5L560.2 575.1L557.7 578.5L554.2 581.1L551.7 582.8L551.7 586.3L554.2 587.1L556.8 584.5L556 589.7L554.2 596.5L552.5 603.4L550 610.2L547.4 617.1L544.8 624L543.1 630M406.9 609.4L412 612L417.1 613.3L422.3 612.8L427.4 610.2L430.8 606L431.7 602.5L427.4 600.8L424 600M573.1 547.7L572.2 544.3L574 540.8L576.5 538.3L579.9 537.4L582 538.3L580.8 541.7L578.2 545.1L575.7 547.7ZM538 599.1L535.4 602.5L532.8 607.7L530.2 612L527.7 615.4L528.5 618L532.8 616.8L535.4 617.1L537.1 615.4L538 618.8L537.1 624L536.2 629.1M538 599.1L539.7 603.4L540.2 608.5L539.7 612.8L542.2 615.4L543.1 618M561.1 505.7L562.8 503.7L567.1 503.1L569.7 504L567.1 506.6L563.7 507.1ZM537.4 620L536.2 625.1L534.5 630.3L532.3 635.4L531.4 640.6L532.3 645.7L530.6 650.8L529.7 656L531.4 661.1L532.3 666.3L531.1 671.4L530 676.6L528 680.8L525.4 685.1L522 689.4L518.6 692L515.1 694.6L511.7 697.1L509.1 699.7L509.1 703.1L512.6 704.8L516.8 704L520.3 700.5L522.8 702.3L526.3 704.8L530.6 707.4L534.8 710L539.1 706.5L542.6 704L547.7 702.3L552.8 701.9L553.7 704.8L556.3 706.5L560.5 704.3L565.7 705.3L570.8 706.5L576 707.4L582.8 706.5L589.7 705.3L594.8 706L600 704L605.1 701.4L610.2 700.5L606.8 698.5L612 698.8L617.1 700.5L622.2 703.1L627.4 704L632.5 702.3L636.8 699.7L640.2 699.2L644.5 700.5L649.7 703.1L654.8 704.3L661.7 704.8L665.1 705.7L668.5 709.1L672.8 713.4L677.1 716.8L680 718.5M512.6 706.5L508.3 710L505.7 714.3L502.3 718.5L497.1 720.8L494.6 718L493.7 716L498 714.3L503.1 713.4L507.4 710L511.7 707.1ZM539.1 735.7L541.4 736.2L541.7 740L539.6 740.8ZM651.4 704L655.7 703.6L656.5 706L653.1 707.1ZM660 704.8L663.4 705.7L667.7 709.1L672 713.4L676.3 716.8L680.6 719.4L685.7 722L690.8 722.8L694.3 724.5L696.3 728.8L699.1 732.3L702.5 733.5L700.3 735.7L697.7 738.3L695.1 738.3L693.4 740.8L695.1 745.1L696.8 748.5L698.6 753.7L699.4 757.1L698.6 760.5L696.8 764L693.4 767.7M670.3 716.8L669.4 719.4L670.6 722.5L673.4 721.1L676.3 722.8L679.7 724.5L682.3 727.1L684 724.5L686.6 722.8L688.3 724.5L687.4 722L684 721.1L679.7 719.4L675.4 716.8L672.9 716ZM693.4 738.3L695.1 737.4L696.3 740L696 743.4L694.3 742.5L693.4 740ZM696 756.2L698 755.4L699.1 758L697.4 759.2L696 757.1ZM249.4 260L243.4 266L238.3 272L234 278.9L230.5 285.7L228.5 293.4L227.5 301.1L228.5 308.8L230.5 316.6L232.6 324.3L234 332L234.8 340.5L234.3 349.1L232.3 356L228.8 362L225.4 368L222.8 374.8L220.6 382.5L218.6 390.2L217.2 398.8L216 410M242.5 261.7L236.5 268.6L231.4 276.3L228 284L225.4 292.6L224.6 301.1L225.4 309.7L227.1 317.4L229.2 325.1L230.9 332L232.3 338.8M216 400L215.5 406.9L214.8 415.4L215.1 424L214.4 432.6L214.3 441.1L213.8 449.7L213.1 456.6L211.4 461.7L210.8 467.7L212 473.7L213.1 478.8L214.3 484.8L216 490.8L218.6 496L221.6 501.1L224 506.3L225.4 511.4L227.1 517.4L229.2 522.5L231.9 527.7L234.8 533.7L238.3 539.7L242.5 544.8L246.8 549.1M216.5 490.8L219.4 493.4L222.8 496.8L227.1 501.1L228.8 503.7L227.1 507.1L224.6 508.8L221.6 506.3L218.6 501.1L217.2 496ZM222.8 499.4L225.4 502.8L224 504.9L222.3 502.5M209.1 480.5L211.7 479.7L213.1 482.3L211.7 484.8L209.6 483.6ZM230 525.1L232.6 531.1L236 537.1L239.4 541.9L243.7 546.6L248 551.7L252.3 556.8L256.6 562.8L259.1 568.8L260.8 574.8L262.9 580.8L266 584.8L270.3 587.7L272.5 592L274.9 596.3L278 600.2L282.3 602.6L288.3 603.6L294.3 603.6L300.3 604.3L304 606.5L306.3 610L309.7 609.5L314 610.5L316.5 614.3L319.1 619.4L321.7 622.8L326 624.2L332.8 622.5L339.7 620.3L346.5 618L353.4 615.1L360.2 613.4L367.1 613.4L374 612.5L379.1 610.8L383.4 608.3L387.7 606.5L394.5 604.8L401.4 604L407.4 604L409.6 606.5L408.2 609.1L413.4 607.4L417.7 604.8L421.9 602.3L426.2 598.8L430 597.1M409.6 609.1L414.2 612.5L420.2 613.9L425.4 612.2L430 609.1M302 616L304.6 613.4L306.8 616.3L304 616.8ZM315.3 634.5L317.7 633.1L319.1 636.5L317.7 639.6L315.7 638.3ZM343.1 619.4L346.5 617.7L348.3 619.7L345.2 620.8ZM374.6 691.4L378.9 688.8L381.1 684.6L381.7 689.7L386.4 691.8L389.6 690.3L390.7 694.6L396.1 698.3L401.4 701.1L404.6 703.8L400.3 703.8L396.1 701.1L391.8 699.6L387.5 700.4L384.3 697.8L381.1 698.9L377.8 694.6ZM473.2 664.6L477.5 663.6L482.8 664L478.5 666.1L474.3 666.1ZM431 742.8L434.6 742.4L436.1 745L433.5 746.7L431.4 745.4ZM539.6 736.4L541.1 735.3L541.7 739.6L540.2 740.7ZM861.7 619.7L863.2 615.4L868.5 612.8L875 611.8L879.2 610.3L885.7 611.1L892.1 612.4L898.5 612.8L905 613.9L911.4 615L915.7 617.5L922.1 621L928.5 622.5L931.7 626.8L934.5 632.1L930.7 633.8L924.2 633.8L918.9 632.1L913.5 631L911.4 634.3L907.1 633.2L905.4 636.4L906 639L901.7 639L899.6 636L894.2 634.3L887.8 634.3L882.5 633.2L879.2 628.9L875 625.7L871.7 622.5L866.4 621.8Z"/><path stroke-width="1.4" d="M900.5 331.4L899.7 334.8L897.1 338.3L893.7 340.3L897.1 342L900.5 346L901.9 341.7L901.4 336.6ZM833.4 362.3L834.6 365.7L835.4 369.1M868 365.7L870.6 369.1L873.1 373.4L875.7 378.5L878.3 383.7L880.8 388.8L883.4 393.1L884.3 398.3L886.8 403.4L888.6 408.5L889.4 413.7L890.3 418.8L888.6 424L885.1 427.4L881.7 425.7L880 421.4L878.3 417.1L875.7 412.8L874 408.5L871.4 404.3L868 400L864.6 396.5L861.1 394L857.7 391.4L861.1 389.7L865.4 387.1L867.1 382.8L868.8 377.7L869.7 372.5L867.1 370.8L868 365.7M892.8 422.2L895.4 429.1M888.6 376.8L892 375.1L897.1 374.3L900.5 375.1L897.1 378L892 379.1ZM926.3 379.4L929.7 382.8L932.3 387.1M395.9 523.1L398.8 526M442.1 640L443.2 644.3M760.4 580.7L761.4 583.9L764.6 584.6L770 583.9L770.4 581.8L765.7 581.3L762.5 581.8L760.4 579.6ZM479.1 189.7L481.1 192.2L485.2 194.6L488.3 191.2L491.4 188.4"/><path stroke-width="1.5" d="M207.8 256.2L209.5 260L211 263.8M641.4 154L642.3 159.1L644.8 161.7L646.6 159.1L649.1 160L651.7 158.3L649.1 157.4L648.3 155.7M757.7 153.4L756.5 157.7L758.6 161.1L757.2 162.8M756 173.5L752.6 174.5L750.8 178.3L751.7 182.5L750.3 187.7L752.6 191.1L753.8 196.2L755.1 200.5L753.1 204.8M961.4 445.4L956.2 446L951.1 449.1L946.8 453.4L944.2 458.6L943.9 464.6L945.1 470.6L947.7 476.6L951.1 482M487.7 757.1L491.1 756.8L490.3 759.7M202.3 472L204.8 471.6L205.7 474.6L203.5 476.3L202.3 478.8L204.5 480.5M272.8 608.3L274.9 607.4L276.3 610L274.2 611.7L272.8 612.5M250.6 615.1L254 614.3L257.4 616.8L260 620.3L260.8 623.7L258.3 624.9L255.7 623.7L253.1 621.1L251.9 617.7ZM345.2 661.4L347.4 658L351.7 656.8L356 658L359.4 660.2L361.6 663.1L358.5 661.9L355.1 659.7L350.8 659.2L347.4 660.2L345.7 662.2ZM590.2 75L592 80"/><path stroke-width="1.6" d="M424.9 191.1L427.4 195.4L429.1 198.8L433.4 199.7L436 201.1M427.4 206.9L430 210.8L432.6 215.1L436.8 219.4L442 222.8M764 233.7L766.5 235.4L768.2 237.1L765.7 238.8L764.8 236.3M771.7 237.1L774.2 239.7L775.1 243.1M760.5 256L763.1 254.8L765.7 253.7L764 256.8L761.4 258.5M734.9 393.3L738 393.7L741.4 395L744.8 395.4M767.1 387.7L774 386L780.8 382.5L787.7 378.3L793.7 373.1L798 368L800.5 362.8M709.7 391.6L712.3 391.1M797.1 295.1L799.7 296.8L798.8 294.3M840.2 314.3L845.7 318L850.5 322.2L856.8 320.6L863.7 318.4L870.6 316.3L876.2 315.1L879.1 318L880.3 321.1L878.3 315.1L875.7 312.2L870.6 313.6L864.6 314.3L859.1 313.6L856.7 310L854.6 311.2L852.2 315.5L846 316ZM859.8 293.4L864.6 295.8L869.7 298.5L874.8 300.9L880 302.3L885.1 304L890.3 306.6L895.4 310.8L900.5 314.3L905.7 317.7L908.3 321.1M876.6 307.4L879.1 306.6L884.3 306.6L888.6 308.8L892 312.6L893.7 316.8L896.3 320.3L900.5 321.1L905.7 318.6L908.3 321.1L908.8 325.4L906.5 329.7L904 331.4L902.3 328L903.1 323.7L900.5 324.9L900.2 329.7L898.5 331.4L897.1 328.8L895.4 323.7L892.8 319.4L890.3 314.3L887.7 310.8L883.4 308.3L879.1 308.3M868 303.1L869.7 301.4M886 328.8L888.6 329.7L888.2 332.3M888.6 335.7L889.9 337.9M837.1 340L839.7 339.1M844 341.7L845.7 342M831.1 349.4L829.9 352.8L830.6 356.3L832 358M875.7 347.4L879.1 348.6L882 352L883.4 356.3L882 360.5L879.1 363.1L875.7 362.3L873.1 360.2M900.5 374.3L904.8 372.5L909.1 370L911.7 365.7L912.5 360.5L915.1 358L918.5 358L919.4 360.5L916.8 361.4L921.1 364L926.3 366.5L931.4 370L935.7 373.4L937.4 377.7L936.5 382.8L934 385.4L935.2 389.7L936.5 392.3M948.5 389.7L952 389.7L953.7 393.1L956.2 398.3L958.8 402.5L961.4 406L963.6 408.5L961.4 409.4L957.1 408.9L959.7 407.7M941.7 393.1L946 393.5M763.7 500.2L767.1 499.7L772.2 499.2M686.6 487.7L690.8 488.9L696 488.6M709.7 482.6L712.3 485.1L715.7 486.5L719.1 488.6L720.8 492L720.5 495.4M713.1 479.1L714.8 475.7M699.4 492.8L700.3 495.4M844.8 503.1L847.4 505.7L846.6 509.1L849.1 507.4M892.8 421.7L895.4 428.6M539.1 630.3L537.4 637.1L536.6 644L535.2 640.6M534.8 680L538.3 681.7L537.4 685.1M520.3 700.5L521.1 705.7L519.4 709.1L518 707.4M589.7 700.2L591.7 699.3M480 664.2L483.4 664.9M492.3 661.3L495.4 661.6M214.3 290.8L218.6 288.3L222 291.7L220.3 295.1L216.8 293.4ZM157.2 301.5L160.3 303.7L162.9 307.1L166.3 305.4L165.4 309.7L168.9 312.3L168 316.6L166.3 320L163.7 318.3L164.6 314L161.1 311.4L159.4 308M208.3 260L210.8 264.3M194.9 468.6L195.9 471.1M487.1 757.8L490.3 757.4"/><path stroke-width="1.8" d="M406 608.5L410.3 607.2L415.4 605.1L420.6 602.5L425.7 600M215.1 362.8L220.3 360.3L225.4 361.1L226.3 365.4L222.8 368L218.6 367.1L216 369.7L213.4 367.1L215.1 362.8M212.6 369.7L216.8 373.1L218.6 378.3L216.8 383.4L214.3 380L216 386.8L214.8 392M210.8 394.5L214.3 392.8L216 397.1L214.3 402.2L211.7 399.7L213.4 405.7L212.6 410M188 484.8L191.1 483.1L193.7 480.9"/><path stroke-width="2" d="M825.4 518.5L830 519.4M804.8 569.1L809.9 567.7L815.9 567M947.7 531.4L950.2 529.7L954.5 531.4L959.7 532.3M807.1 568.8L812.3 567.4L816.6 567M536.6 669.7L534.5 674.8L533.5 679.1M528.8 650.8L528 656M220.3 304.6L222.8 302.8L224 308L222 310.6M212.6 400L213.8 405.1L213.1 412L213.8 418.9L213.4 425.7M967.1 560.4L970.3 557.1L972.4 561.4M493.5 176.3L496 175.3L499.6 175.8L503.8 175.3L506.8 174.3L510.4 173.2L514 174.8L518.1 175.8L522.3 175.3L526.4 174.8L530.5 174.8L534.6 175.8"/><path stroke-width="2.2" d="M963.1 426.9L966.5 433.7L969.9 442.3L971.7 447.4M234 263.4L239.1 261.4L244.3 260M225.4 285.7L223.7 290L225.4 294.3L222.8 298.6M803.2 570L808.6 568.3M811.1 568.9L816 567.2M485.2 216.4L489.4 218.5L493.5 220.5L497.6 224.1L501.7 222.6L505.8 221M488.3 211.8L493.5 212.8L497.6 214.4L500.7 215.6L503.8 217.4L506.8 220.5L505.8 223.6L502.7 226.7L499.6 225.7L496 226.7L493 230.3"/><path stroke-width="2.4" d="M545.7 617.1L543.6 623.1L541.4 629.1M224.6 322.6L227.1 325.1L229.2 330.3L230.5 335.4L232.3 341.4"/><path stroke-width="2.6" d="M441 221L444.1 224.6L447.2 225.2L450.3 222.6L453.4 218.5L456.5 216.9L460.6 216.9L464.2 219.5L464.7 223.6L460.6 225.7L456.5 225.2L454.4 222.6L457 220L460.6 220.5L461.6 222.6"/><path stroke-width="3" d="M481.1 186.8L484.2 184.7L488.3 183.7L491.9 185.6"/><path stroke-width="4" d="M476.5 210.2L479.3 212.5L478.3 215.4L475.5 214.2"/><path stroke-width="4.5" d="M466.9 207.4L470.8 210.2L473.1 213.3L471.4 217.6"/><path stroke-width="5" d="M491.9 188.4L496 189.7L497.8 192.6L496 195L494 197.1M493.5 198.1L489.6 200.5L486.1 201.8L485.4 205.6L487.3 208.7"/><path stroke-width="1.4" stroke-dasharray="2.5 2" stroke-linecap="butt" d="M815.1 420L818.5 425.1L823.7 432.9M814.9 420L817.4 425.1L823.4 432.9"/><path stroke-width="2" stroke-dasharray="2.5 2" stroke-linecap="butt" d="M511 187.1L513 191.7L511 195.8L508.4 200L505.8 204.1L502.7 207.2L500.2 209.7"/><path stroke-width="2.2" stroke-dasharray="2.5 2" stroke-linecap="butt" d="M719.1 497.1L722.5 499.7L729.4 500.9L736.3 500.2L743.1 498.8L750 499.7L756.8 500.2L762 498M500.7 181.5L505.8 180.9L512 180.4L518.1 180.6L524.3 181.2L530.5 180.9L536.7 180.4L542.8 180.2L549 179.4L555.2 178.2"/><path stroke-width="2" stroke-dasharray="4 1.5 2 1.2 6 2 1.5 1" stroke-linecap="butt" d="M913.4 383.7L912.5 389.7L914.3 394.8L916.8 398.3L920.3 401.7L922.8 406.8L926.3 412L929.7 417.1L933.1 421.4L938.3 424.8L943.4 428.2L946.8 430"/><path stroke-width="2.4" stroke-dasharray="4 1.5 2 1.2 6 2 1.5 1" stroke-linecap="butt" d="M825.1 518.5L831.1 521.1L836.3 524.5L841.4 528.8L848.3 532.3L855.1 534.8L862 537.4L865.4 538.3"/><path stroke-width="2.6" stroke-dasharray="4 1.5 2 1.2 6 2 1.5 1" stroke-linecap="butt" d="M810 80.6L808.3 84L803.1 87.4L799.7 89.5L794.5 90.8L790.3 91.7L787.7 94.3L791.1 96.8L788.5 100.3L784.3 101.1L781.7 96.8L780 92.6M749.1 340.5L755.1 343.6L760.3 346L765.4 349.1"/><path stroke-width="3" stroke-dasharray="4 1.5 2 1.2 6 2 1.5 1" stroke-linecap="butt" d="M772.2 442.3L780.8 443.7L789.4 447.8L798 451.2L806.5 455.5L815.1 460.6L823.7 465.8L830 469.2M790 444.9L796.9 448.3L803.7 451.7L810.6 455.1L817.4 459.4L824.3 463.7L831.1 466.3L838 465.9L844.8 467.1L851.7 468L858.6 469.7L865.4 471.4L872.3 474.8L879.1 479.1L884.3 484.3L888.5 489.4L892.8 493.7L898 498L903.1 502.3"/><path stroke-width="3.6" stroke-dasharray="4 1.5 2 1.2 6 2 1.5 1" stroke-linecap="butt" d="M786 101.1L780.8 104.9L778.3 108.8L774 111.4L770.5 115.7L767.1 117.4L768.8 121.7L765.4 124.3L766.3 128.6L762.8 130.3L763.7 135.4L760.3 138L761.1 142.3L757.7 144L758.6 148.3L756 149.1L757.7 153.4"/><path stroke-width="1.8" d="M910 410.2h0.01M901.9 413h0.01M904 416.2h0.01M970.5 420.5h0.01M793.7 425.1h0.01M796.2 492h0.01M821.6 506.5h0.01M841.4 519.4h0.01M844.8 521.1h0.01M848.3 518.5h0.01M846.6 523.7h0.01M850.8 522.8h0.01M850 518.5h0.01M852.6 527.1h0.01M870.5 538.3h0.01M874.8 540h0.01M879.1 543.4h0.01M875.7 536.5h0.01M886 540.8h0.01M948.5 486h0.01M951.1 485.5h0.01M870.5 459.8h0.01M427.1 482.6h0.01M407.2 550.8h0.01M562.8 602.5h0.01M562.5 608.2h0.01M578.2 507.4h0.01M579.9 512.6h0.01M556.8 648.4h0.01M555.4 656.8h0.01M553.7 659.1h0.01M538.3 661.1h0.01M536.6 665.4h0.01M546 674h0.01M548.2 672.8h0.01M534.8 687.7h0.01M533.5 691.1h0.01M531.4 694.6h0.01M543.8 715.6h0.01M513.4 766.9h0.01M676.2 650h0.01M696 698h0.01M698 700.5h0.01M696.8 704h0.01M707.1 708.8h0.01M709.7 708.3h0.01M704.9 714.3h0.01M708.5 724.5h0.01M717.4 726.3h0.01M720 728h0.01M722.6 731.1h0.01M718.3 729.7h0.01M717.9 740h0.01M714.8 746.8h0.01M719.1 747.7h0.01M721.7 748.5h0.01M707.1 747.7h0.01M704.6 750.2h0.01M711.4 752h0.01M714.8 754.5h0.01M716.6 752.8h0.01M705.4 756.2h0.01M708.8 758h0.01M720.8 757.1h0.01M713.1 761.9h0.01M715.7 763.6h0.01M727.4 703.5h0.01M797.1 752h0.01M794.5 758.5h0.01M812.5 705.7h0.01M815.1 704h0.01M807.7 705.7h0.01M850.2 705.3h0.01M852.8 703.6h0.01M675.9 650h0.01M198 481.9h0.01M200 482.8h0.01M177.4 533.3h0.01M238.8 541.6h0.01M231.9 503.7h0.01M189.8 486.5h0.01M407.4 550.8h0.01M238.6 541.9h0.01M247.1 550h0.01M269.8 586.5h0.01M325.6 625.4h0.01M335.9 622.5h0.01M384.2 609.1h0.01M406.5 609.1h0.01M438.9 656.1h0.01M434 664.6h0.01M436.1 674.3h0.01M431 685.4h0.01M460.3 666.1h0.01M466.1 661.9h0.01M493.1 661.4h0.01M453.5 643.9h0.01M453.9 751.4h0.01M468.9 753.5h0.01M543.9 715.4h0.01M941.4 649.7h0.01"/><path fill="#6a4500" stroke-width="0.8" d="M191.5 153.8L194 156.2L192.8 160L191 157.5ZM192 165.5L195.2 168L193.5 168.5ZM418 188.6L419.7 189.1L420.9 192L419.2 191.5ZM611.4 178L615.7 179.7L620.8 178L620 181.4L623.4 183.1L626 186.6L626.8 189.1L624.3 188.3L620.8 185.7L617.4 183.1L614 181.4ZM658.6 190L660.3 187.4L662.8 189.1L661.6 192.6L659.4 193.1ZM716 232L718.9 232.8L719.6 237.1L718.2 240L716.5 237.1ZM779.4 241.4L782.8 243.1L784.5 250L787.1 248.3L790 250L790 267.1L787.1 260.2L783.7 253.4L781.1 248.3ZM758.8 272.2L760.5 271.4L761 273.6L759.3 274ZM732 313.1L736.3 314L738.8 319.1L737.1 323.8L734.2 321.7L732.5 317.4ZM769.7 365.9L773.1 364.9L776.5 367.1L777.1 369.7L774 370.5L770.5 368.8ZM778.3 371.4L783.4 369.7L788.5 368.3L792.8 365.9L795.4 367.6L792.5 371.4L787.7 374.5L782.5 376.9L779.1 375.2ZM744.8 395L749.1 391.1L755.1 388.2L761.1 386L766.8 386.5L765.4 388.9L759.4 391.1L753.4 393.7L748.3 396.2ZM759.1 271.7L760.6 272L760.6 273.7L759.2 273.4ZM840.2 314.3L845.7 318L850.5 322.2L852.6 320.4L847.4 316.3ZM892 314.3L896.3 316.8L901.4 320.3L900.5 325.4L898 329.7L895.4 323.7L893.4 319.4ZM873.1 400L880 398.3L886 404.3L888.6 412L889.4 420.5L886 427L881.7 425.7L879.1 418.8L875.7 412L872.8 406ZM860.3 389.7L864.9 385.4L867.1 387.1L866.3 392.3L862.8 393.5ZM741.4 478.3L748.3 479.1L755.1 480L762 481.7L767.1 480.3L767.1 485.1L762 486.8L756 485.1L750 483.1L744 480.8ZM832 463.7L841.4 462L843.1 466.3L834.6 468.3ZM872.3 475.7L879.1 474.8L883.4 480L886 486L882.5 485.1L877.4 480.8ZM793.4 445.7L800.3 445.4L805.4 450L800.3 453.4L794.3 451.7ZM910 509.1L913.4 508.8L916 511.7L912.5 512.5ZM917.7 512.5L923.7 512.5L925.4 515.1L920.2 516ZM855.1 529.7L862 527.1L867.1 530.5L865.4 538.3L858.6 536.5ZM878.3 420L890.3 420L889.4 426L884.3 428.2L880 425.1ZM932.2 420L937.4 424.3L944.2 429.4L952 433.7L959.7 436.8L951.1 435.8L944.2 434.6L938.2 435.4L942.5 432L937.4 427.7ZM543.4 620.9L546 620L545.1 625.1L542 629.4L540 630.6L541.4 626ZM546.5 644L548.2 645.4L546 652.6L544.3 657.7L542 656L543.1 650.8ZM515.1 690.6L520.3 688.9L521.5 691.6L516.8 693.7ZM584.9 688.6L589.7 686L594.8 684.3L602.5 683.4L598.3 685.1L591.4 687.2L587.1 689.4ZM608.5 682.6L611.1 681.4L612.3 683.1L610.2 684.8ZM573.4 695.1L576.8 694L577.7 695.7L574.3 697.1ZM552 702.3L555.4 704L556.3 706.5L552.8 705.7ZM222 270.3L226.3 272.9L230.5 271.1L228 275.4L225.4 274.6ZM169.7 332.8L173.1 331.6L175.7 329.9L174.9 333.7L173.1 338L171.4 335.4ZM216.8 491.7L220.3 494.6L221.1 498.5L218.6 497.7ZM223.4 507.1L226.3 507.6L225.4 513.1L224 511.4ZM277.6 599.7L281.1 601.9L279.7 604.8L277.3 604ZM367.1 615.6L370.2 614.8L369.2 617.7Z"/></g></g>
<g class="ax" opacity="0.999"><text x="139.8" y="789" text-anchor="middle">100°W</text><text x="308.94" y="789" text-anchor="middle">95°W</text><text x="475.88" y="789" text-anchor="middle">90°W</text><text x="642.82" y="789" text-anchor="middle">85°W</text><text x="809.76" y="789" text-anchor="middle">80°W</text><text x="132.6" y="119.2" text-anchor="end">32°N</text><text x="132.6" y="273.4" text-anchor="end">28°N</text><text x="132.6" y="421.7" text-anchor="end">24°N</text><text x="132.6" y="565.8" text-anchor="end">20°N</text><text x="132.6" y="706.6" text-anchor="end">16°N</text></g>
<g class="cb" opacity="0.999"><linearGradient id="jet" x1="0" y1="1" x2="0" y2="0"><stop offset="0" stop-color="#000080"/><stop offset="0.125" stop-color="#0000ff"/><stop offset="0.375" stop-color="#00ffff"/><stop offset="0.625" stop-color="#ffff00"/><stop offset="0.875" stop-color="#ff0000"/><stop offset="1" stop-color="#800000"/></linearGradient><rect x="989.3" y="75" width="34.5" height="693.2" fill="url(#jet)"/><rect x="989.3" y="75" width="34.5" height="693.2" fill="none" stroke="#262626" stroke-width="1.3"/>
<text x="1031.6" y="777.4">425</text><line x1="1016.3" y1="698.9" x2="1023.8" y2="698.9"/><text x="1031.6" y="708.1">430</text><line x1="1016.3" y1="629.6" x2="1023.8" y2="629.6"/><text x="1031.6" y="638.8">435</text><line x1="1016.3" y1="560.2" x2="1023.8" y2="560.2"/><text x="1031.6" y="569.4">440</text><line x1="1016.3" y1="490.9" x2="1023.8" y2="490.9"/><text x="1031.6" y="500.1">445</text><line x1="1016.3" y1="421.6" x2="1023.8" y2="421.6"/><text x="1031.6" y="430.8">450</text><line x1="1016.3" y1="352.3" x2="1023.8" y2="352.3"/><text x="1031.6" y="361.5">455</text><line x1="1016.3" y1="283.0" x2="1023.8" y2="283.0"/><text x="1031.6" y="292.2">460</text><line x1="1016.3" y1="213.6" x2="1023.8" y2="213.6"/><text x="1031.6" y="222.8">465</text><line x1="1016.3" y1="144.3" x2="1023.8" y2="144.3"/><text x="1031.6" y="153.5">470</text><text x="1031.6" y="84.2">475</text></g>
</svg>
</body></html>
